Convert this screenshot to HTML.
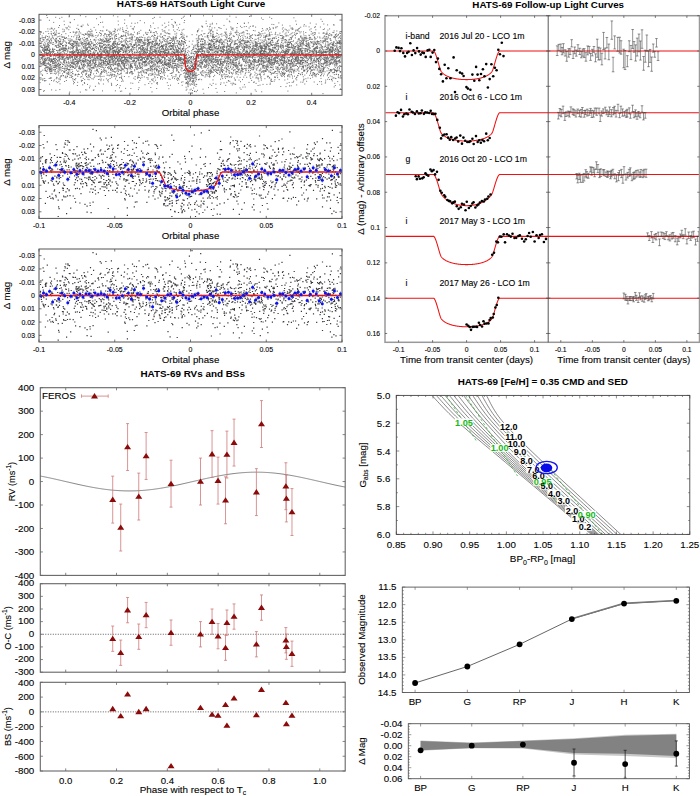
<!DOCTYPE html>
<html><head><meta charset="utf-8"><style>
html,body{margin:0;padding:0;background:#fff;}
svg{display:block;font-family:"Liberation Sans", sans-serif;}
</style></head><body>
<svg width="700" height="796" viewBox="0 0 700 796">
<rect width="700" height="796" fill="#fff"/>
<path d="M107.9 56.2h1.0M135.0 62.2h1.0M280.6 44.9h1.0M243.9 23.3h1.0M157.5 59.2h1.0M139.8 52.9h1.0M220.3 62.5h1.0M95.6 60.0h1.0M242.8 51.1h1.0M324.4 62.5h1.0M114.2 51.8h1.0M326.5 59.4h1.0M241.2 45.2h1.0M68.1 58.1h1.0M172.9 58.5h1.0M307.6 47.1h1.0M250.3 55.4h1.0M137.9 74.8h1.0M261.4 49.7h1.0M105.7 40.5h1.0M63.7 72.3h1.0M87.4 79.3h1.0M142.1 57.7h1.0M180.0 60.6h1.0M119.7 70.5h1.0M286.2 51.3h1.0M97.6 65.3h1.0M78.2 52.1h1.0M66.8 27.8h1.0M220.4 50.4h1.0M298.0 58.3h1.0M221.3 76.9h1.0M321.4 53.3h1.0M258.6 46.8h1.0M299.7 55.6h1.0M320.6 53.4h1.0M204.5 48.1h1.0M323.1 69.3h1.0M189.0 76.2h1.0M122.0 45.3h1.0M175.9 56.5h1.0M240.5 65.2h1.0M139.3 37.4h1.0M312.7 35.6h1.0M116.9 51.6h1.0M142.0 48.1h1.0M117.4 42.8h1.0M146.7 48.8h1.0M40.5 38.1h1.0M229.5 76.8h1.0M124.6 57.7h1.0M59.6 61.9h1.0M225.9 47.1h1.0M92.4 61.0h1.0M131.2 23.2h1.0M172.6 45.9h1.0M84.5 58.8h1.0M105.0 47.0h1.0M182.7 54.2h1.0M183.3 29.3h1.0M116.3 51.1h1.0M129.2 58.6h1.0M123.6 61.3h1.0M118.0 53.6h1.0M185.3 55.5h1.0M103.2 69.9h1.0M189.2 59.8h1.0M113.6 47.3h1.0M293.1 50.3h1.0M93.6 57.0h1.0M300.2 60.6h1.0M93.0 45.0h1.0M266.4 66.5h1.0M224.2 60.5h1.0M102.4 39.1h1.0M269.2 60.4h1.0M114.5 43.8h1.0M64.9 70.9h1.0M226.3 74.6h1.0M201.7 26.5h1.0M231.3 29.4h1.0M91.8 35.3h1.0M114.2 50.5h1.0M246.5 53.1h1.0M63.5 49.5h1.0M304.1 70.6h1.0M168.9 60.3h1.0M226.4 61.3h1.0M133.9 32.2h1.0M93.2 59.4h1.0M41.9 49.8h1.0M102.6 55.5h1.0M302.6 53.7h1.0M333.8 69.0h1.0M172.9 38.3h1.0M153.8 61.0h1.0M122.6 31.3h1.0M331.7 59.4h1.0M56.6 53.9h1.0M162.8 71.8h1.0M90.1 53.3h1.0M111.8 59.7h1.0M275.3 45.2h1.0M100.7 57.1h1.0M206.3 55.3h1.0M150.2 52.4h1.0M192.7 67.1h1.0M140.0 57.1h1.0M124.7 42.9h1.0M124.4 54.2h1.0M64.9 68.2h1.0M185.0 70.5h1.0M306.7 60.2h1.0M326.0 34.0h1.0M47.3 28.9h1.0M317.1 37.0h1.0M75.8 47.8h1.0M265.6 51.8h1.0M310.6 62.0h1.0M89.9 48.4h1.0M139.4 47.6h1.0M153.6 74.8h1.0M144.1 50.1h1.0M195.4 45.2h1.0M41.7 57.8h1.0M167.1 42.2h1.0M304.9 55.5h1.0M65.5 66.5h1.0M185.7 73.4h1.0M184.8 50.7h1.0M276.1 51.6h1.0M331.3 44.3h1.0M253.3 67.6h1.0M121.9 63.0h1.0M242.0 56.1h1.0M144.3 62.1h1.0M271.7 67.9h1.0M243.8 49.4h1.0M335.2 61.5h1.0M301.6 72.8h1.0M53.0 51.1h1.0M127.0 69.1h1.0M300.3 61.0h1.0M221.1 42.8h1.0M143.3 53.1h1.0M55.8 38.5h1.0M270.2 62.1h1.0M67.1 52.1h1.0M340.0 51.9h1.0M274.1 77.0h1.0M302.1 62.6h1.0M183.6 56.4h1.0M90.2 75.1h1.0M200.8 38.8h1.0M168.0 64.2h1.0M88.4 60.2h1.0M89.3 58.3h1.0M117.2 65.3h1.0M324.8 46.0h1.0M338.0 75.0h1.0M252.2 61.3h1.0M258.1 62.1h1.0M260.9 60.3h1.0M195.8 67.1h1.0M92.8 90.3h1.0M304.9 55.6h1.0M305.8 45.1h1.0M254.0 50.7h1.0M321.8 21.4h1.0M335.9 61.1h1.0M191.6 66.3h1.0M268.5 53.9h1.0M225.8 47.1h1.0M73.8 63.2h1.0M134.7 79.3h1.0M59.5 45.0h1.0M307.7 67.4h1.0M45.7 63.3h1.0M201.8 64.0h1.0M92.8 58.1h1.0M83.5 66.5h1.0M89.3 70.2h1.0M304.7 50.9h1.0M188.8 41.3h1.0M142.3 61.3h1.0M204.4 71.9h1.0M130.9 49.4h1.0M151.3 58.6h1.0M249.8 26.4h1.0M75.4 59.6h1.0M268.7 57.6h1.0M306.8 71.8h1.0M183.0 60.5h1.0M171.5 61.9h1.0M82.4 60.4h1.0M167.1 33.0h1.0M270.6 67.3h1.0M164.4 58.4h1.0M226.8 58.8h1.0M52.3 61.8h1.0M105.6 49.6h1.0M100.8 53.4h1.0M336.3 56.3h1.0M52.5 65.4h1.0M104.2 70.6h1.0M48.5 59.6h1.0M232.8 62.3h1.0M236.9 46.5h1.0M50.0 71.7h1.0M170.8 66.0h1.0M90.9 41.8h1.0M168.3 63.1h1.0M152.0 41.7h1.0M106.0 51.4h1.0M294.0 48.0h1.0M248.9 42.1h1.0M181.6 59.0h1.0M160.1 76.7h1.0M72.0 48.1h1.0M221.7 67.3h1.0M191.8 72.0h1.0M313.3 52.7h1.0M332.6 62.5h1.0M284.3 61.6h1.0M301.6 46.9h1.0M189.2 57.0h1.0M152.3 47.8h1.0M184.1 20.5h1.0M286.8 45.6h1.0M84.8 57.0h1.0M221.0 51.6h1.0M313.5 48.9h1.0M106.4 45.3h1.0M126.2 44.5h1.0M294.2 53.0h1.0M236.5 54.1h1.0M331.5 51.3h1.0M233.6 56.1h1.0M326.6 64.0h1.0M289.5 39.3h1.0M243.4 35.0h1.0M96.6 70.7h1.0M103.7 41.3h1.0M300.5 46.2h1.0M140.2 60.0h1.0M247.0 51.6h1.0M170.9 67.7h1.0M178.2 54.6h1.0M42.2 64.0h1.0M288.2 57.5h1.0M133.4 61.4h1.0M141.2 49.8h1.0M60.7 47.9h1.0M228.3 57.8h1.0M274.9 43.0h1.0M193.8 85.4h1.0M183.7 54.1h1.0M272.9 51.1h1.0M68.3 74.2h1.0M202.9 48.2h1.0M265.9 46.5h1.0M150.0 62.2h1.0M304.5 52.7h1.0M177.4 55.3h1.0M74.1 57.5h1.0M335.0 63.8h1.0M177.1 51.0h1.0M267.1 70.0h1.0M62.7 39.8h1.0M284.1 57.7h1.0M85.1 51.2h1.0M76.9 85.5h1.0M122.8 46.2h1.0M167.7 85.5h1.0M186.0 58.9h1.0M168.8 60.7h1.0M49.5 59.3h1.0M219.9 63.2h1.0M263.8 62.0h1.0M335.6 40.4h1.0M206.9 26.2h1.0M321.4 53.9h1.0M327.4 57.9h1.0M103.4 44.2h1.0M59.1 59.4h1.0M90.4 72.2h1.0M264.6 57.8h1.0M118.1 63.6h1.0M73.0 47.5h1.0M324.8 83.1h1.0M246.1 56.7h1.0M329.3 57.7h1.0M138.8 58.0h1.0M97.3 52.3h1.0M80.4 56.5h1.0M324.8 58.9h1.0M88.7 43.4h1.0M282.1 64.6h1.0M103.1 62.4h1.0M300.5 49.3h1.0M56.2 41.8h1.0M154.6 51.7h1.0M160.8 43.8h1.0M334.8 78.4h1.0M311.0 70.7h1.0M155.5 58.5h1.0M167.7 52.8h1.0M255.7 68.2h1.0M233.0 64.3h1.0M309.9 78.4h1.0M247.2 33.7h1.0M195.1 75.8h1.0M311.9 39.3h1.0M139.3 80.5h1.0M150.3 32.6h1.0M145.5 43.0h1.0M187.3 60.0h1.0M49.5 51.6h1.0M176.2 52.1h1.0M134.9 67.7h1.0M112.7 54.1h1.0M114.0 57.3h1.0M280.7 59.5h1.0M155.8 37.9h1.0M336.2 70.4h1.0M164.1 41.2h1.0M250.4 63.3h1.0M131.5 63.5h1.0M289.4 42.5h1.0M103.6 68.6h1.0M122.4 62.8h1.0M127.6 61.0h1.0M78.2 58.7h1.0M266.4 59.2h1.0M169.7 63.8h1.0M77.2 82.3h1.0M201.5 30.9h1.0M192.1 76.1h1.0M254.9 61.8h1.0M59.2 50.1h1.0M188.1 67.3h1.0M54.6 69.7h1.0M334.8 45.7h1.0M238.9 41.2h1.0M90.3 64.9h1.0M317.6 59.1h1.0M92.0 48.5h1.0M146.4 77.6h1.0M53.4 59.5h1.0M151.5 61.6h1.0M260.6 55.9h1.0M75.9 57.5h1.0M274.4 47.6h1.0M168.4 88.7h1.0M282.1 38.3h1.0M91.7 49.5h1.0M312.4 33.9h1.0M259.4 52.3h1.0M53.6 58.9h1.0M184.2 57.3h1.0M58.9 64.2h1.0M257.9 49.5h1.0M149.1 61.9h1.0M273.6 47.5h1.0M306.4 46.2h1.0M92.4 55.3h1.0M284.5 66.9h1.0M155.9 32.1h1.0M154.8 45.7h1.0M237.3 45.9h1.0M334.2 61.0h1.0M245.8 50.9h1.0M106.0 59.6h1.0M72.8 59.9h1.0M128.3 56.8h1.0M59.9 46.6h1.0M59.1 38.7h1.0M325.7 51.7h1.0M85.0 75.0h1.0M140.2 42.9h1.0M331.6 55.2h1.0M200.7 44.1h1.0M248.9 66.2h1.0M126.1 68.4h1.0M240.8 40.8h1.0M88.4 56.0h1.0M143.9 51.4h1.0M313.7 50.0h1.0M260.1 43.4h1.0M179.1 59.6h1.0M177.7 59.5h1.0M263.9 74.0h1.0M159.5 47.5h1.0M170.0 56.3h1.0M211.0 40.1h1.0M208.6 44.5h1.0M178.5 79.8h1.0M222.2 69.5h1.0M84.4 52.5h1.0M262.9 52.0h1.0M88.3 57.3h1.0M284.0 74.1h1.0M212.5 68.7h1.0M322.6 55.5h1.0M165.5 41.4h1.0M238.5 51.6h1.0M61.3 75.7h1.0M130.9 37.3h1.0M88.2 52.4h1.0M241.6 33.0h1.0M75.7 61.5h1.0M190.0 73.4h1.0M115.6 76.9h1.0M89.9 31.8h1.0M285.4 42.8h1.0M112.9 42.7h1.0M63.2 64.7h1.0M157.9 55.7h1.0M102.8 39.8h1.0M255.3 62.1h1.0M226.5 19.1h1.0M326.5 70.9h1.0M297.0 66.5h1.0M131.7 36.5h1.0M299.9 44.8h1.0M115.7 36.4h1.0M297.6 57.5h1.0M82.9 60.5h1.0M320.4 44.5h1.0M210.0 73.6h1.0M177.6 50.8h1.0M161.1 63.2h1.0M153.4 60.9h1.0M86.6 59.2h1.0M230.3 60.4h1.0M146.8 50.9h1.0M305.8 45.8h1.0M76.5 41.9h1.0M180.8 51.5h1.0M216.4 70.5h1.0M259.9 75.7h1.0M237.5 58.5h1.0M168.2 53.0h1.0M260.7 51.1h1.0M254.1 55.0h1.0M154.6 40.4h1.0M168.7 42.7h1.0M146.4 59.6h1.0M274.6 77.5h1.0M82.3 71.8h1.0M286.1 62.5h1.0M217.2 48.6h1.0M151.5 69.2h1.0M324.6 60.2h1.0M329.2 52.7h1.0M332.5 78.2h1.0M69.6 55.3h1.0M187.6 86.7h1.0M318.0 52.4h1.0M41.7 55.9h1.0M129.9 56.7h1.0M178.2 56.5h1.0M123.2 55.7h1.0M212.2 59.3h1.0M201.5 71.5h1.0M294.8 57.3h1.0M111.6 46.5h1.0M268.1 30.9h1.0M188.5 81.3h1.0M331.5 76.7h1.0M299.1 42.2h1.0M45.2 60.2h1.0M160.1 78.5h1.0M116.3 49.2h1.0M186.9 65.9h1.0M214.5 48.0h1.0M59.9 41.4h1.0M265.5 53.0h1.0M99.9 16.9h1.0M179.2 42.8h1.0M231.7 64.1h1.0M315.6 50.6h1.0M142.4 51.0h1.0M240.5 54.3h1.0M49.7 49.5h1.0M57.9 45.7h1.0M167.9 52.0h1.0M217.7 37.8h1.0M124.9 58.6h1.0M264.0 53.1h1.0M136.2 62.0h1.0M120.9 49.4h1.0M249.9 74.9h1.0M253.7 54.3h1.0M334.8 48.6h1.0M79.2 67.1h1.0M68.2 42.9h1.0M291.0 72.8h1.0M122.7 81.1h1.0M313.6 41.3h1.0M212.2 37.6h1.0M221.3 59.4h1.0M40.4 63.6h1.0M210.6 62.8h1.0M302.8 42.6h1.0M340.1 38.5h1.0M154.3 28.5h1.0M89.9 58.6h1.0M312.9 44.3h1.0M164.6 27.6h1.0M176.0 58.0h1.0M181.2 63.4h1.0M204.9 58.0h1.0M57.4 47.5h1.0M43.6 62.9h1.0M271.4 24.4h1.0M230.7 56.5h1.0M158.4 61.5h1.0M237.3 48.0h1.0M255.0 44.1h1.0M127.2 47.5h1.0M157.8 71.2h1.0M114.0 36.9h1.0M80.9 26.2h1.0M218.3 55.6h1.0M262.5 19.5h1.0M223.2 51.5h1.0M116.4 45.5h1.0M233.3 52.8h1.0M163.6 38.4h1.0M174.3 61.4h1.0M43.0 61.7h1.0M275.0 57.3h1.0M310.9 58.0h1.0M127.4 58.3h1.0M148.6 44.1h1.0M187.9 68.9h1.0M159.5 61.1h1.0M150.9 49.8h1.0M265.0 39.0h1.0M237.0 23.5h1.0M136.2 58.3h1.0M231.3 69.3h1.0M246.1 56.0h1.0M172.3 53.2h1.0M118.0 44.6h1.0M300.5 51.2h1.0M40.7 63.6h1.0M256.9 78.0h1.0M284.1 62.4h1.0M102.9 58.1h1.0M211.7 72.1h1.0M336.6 71.1h1.0M130.4 26.3h1.0M225.4 39.9h1.0M164.4 31.1h1.0M172.6 25.7h1.0M267.1 56.3h1.0M204.2 52.3h1.0M123.1 51.3h1.0M263.6 62.8h1.0M208.5 54.1h1.0M132.3 57.8h1.0M219.9 59.0h1.0M263.9 44.2h1.0M58.4 81.4h1.0M89.1 66.1h1.0M145.9 53.7h1.0M114.5 60.1h1.0M210.6 47.1h1.0M53.9 58.6h1.0M317.0 59.6h1.0M261.8 46.1h1.0M166.1 44.5h1.0M85.0 89.8h1.0M58.0 44.8h1.0M263.0 70.9h1.0M210.7 45.5h1.0M164.8 48.6h1.0M134.1 63.3h1.0M55.4 38.4h1.0M268.8 78.0h1.0M102.9 64.0h1.0M120.1 54.8h1.0M109.6 78.5h1.0M210.6 47.5h1.0M127.0 73.0h1.0M71.9 56.5h1.0M303.4 70.0h1.0M91.5 53.4h1.0M104.4 47.8h1.0M263.4 50.4h1.0M178.1 67.4h1.0M322.2 55.0h1.0M310.1 50.6h1.0M208.9 47.2h1.0M88.7 31.4h1.0M132.3 83.3h1.0M240.1 57.6h1.0M129.1 38.1h1.0M194.4 65.6h1.0M76.1 57.6h1.0M209.0 47.7h1.0M324.4 52.0h1.0M227.6 51.5h1.0M126.0 59.6h1.0M74.1 55.1h1.0M220.2 65.2h1.0M206.1 66.2h1.0M267.8 58.0h1.0M85.1 52.2h1.0M225.3 66.2h1.0M213.1 76.6h1.0M251.9 61.0h1.0M309.9 63.5h1.0M271.7 81.5h1.0M224.0 47.1h1.0M340.2 54.9h1.0M141.0 67.3h1.0M112.0 58.9h1.0M120.4 70.3h1.0M229.4 57.4h1.0M75.2 78.6h1.0M162.6 65.4h1.0M143.3 51.1h1.0M75.1 42.1h1.0M290.2 69.6h1.0M291.7 51.7h1.0M115.2 51.6h1.0M66.0 45.4h1.0M229.0 37.9h1.0M100.8 79.1h1.0M215.8 50.0h1.0M157.4 56.0h1.0M299.8 44.6h1.0M133.5 44.8h1.0M196.5 57.0h1.0M63.9 50.3h1.0M149.4 68.8h1.0M312.6 72.6h1.0M83.0 62.2h1.0M267.1 76.9h1.0M175.5 59.5h1.0M210.0 47.4h1.0M310.0 67.5h1.0M312.1 77.1h1.0M171.1 53.2h1.0M340.1 88.9h1.0M125.2 63.6h1.0M106.5 55.5h1.0M225.7 37.1h1.0M217.9 48.6h1.0M196.8 46.9h1.0M132.0 67.9h1.0M170.3 46.0h1.0M204.6 77.0h1.0M47.1 69.8h1.0M58.7 53.7h1.0M50.7 51.3h1.0M293.2 46.6h1.0M226.8 57.4h1.0M133.9 52.9h1.0M213.1 54.4h1.0M304.8 51.4h1.0M69.2 54.9h1.0M98.5 76.3h1.0M138.9 56.0h1.0M177.8 47.4h1.0M147.5 45.9h1.0M296.1 61.1h1.0M204.3 50.9h1.0M62.2 57.8h1.0M118.7 56.4h1.0M192.7 63.8h1.0M269.0 32.8h1.0M229.5 54.1h1.0M136.7 65.4h1.0M226.8 40.4h1.0M329.6 49.0h1.0M174.6 52.8h1.0M87.8 43.8h1.0M108.6 66.9h1.0M161.1 45.8h1.0M76.8 56.4h1.0M183.0 59.4h1.0M332.9 72.6h1.0M305.1 65.8h1.0M219.7 73.0h1.0M322.9 65.0h1.0M63.4 60.9h1.0M237.3 48.1h1.0M217.3 57.6h1.0M234.6 56.5h1.0M117.6 69.6h1.0M261.0 18.0h1.0M200.7 60.2h1.0M332.0 53.0h1.0M77.9 39.4h1.0M198.2 49.2h1.0M297.4 58.7h1.0M89.7 54.1h1.0M272.9 54.9h1.0M322.2 42.3h1.0M262.6 58.2h1.0M236.9 53.8h1.0M104.6 41.8h1.0M320.3 75.9h1.0M63.9 24.7h1.0M149.8 69.2h1.0M55.9 46.4h1.0M180.6 44.6h1.0M262.3 61.6h1.0M191.1 61.0h1.0M109.9 38.8h1.0M230.2 46.2h1.0M262.7 67.1h1.0M115.9 36.2h1.0M138.5 75.5h1.0M101.5 76.5h1.0M176.4 66.7h1.0M56.8 61.0h1.0M165.3 44.5h1.0M64.6 50.1h1.0M117.9 61.1h1.0M339.3 65.5h1.0M60.0 64.5h1.0M128.4 55.3h1.0M154.3 50.3h1.0M290.7 85.8h1.0M73.4 41.5h1.0M320.1 56.1h1.0M257.7 41.3h1.0M311.3 70.1h1.0M287.3 49.5h1.0M217.1 63.2h1.0M55.1 74.0h1.0M215.7 42.0h1.0M90.3 29.3h1.0M327.7 37.1h1.0M88.7 37.0h1.0M98.2 43.6h1.0M222.4 70.2h1.0M262.5 53.3h1.0M79.0 59.6h1.0M158.4 73.4h1.0M175.0 56.8h1.0M177.7 52.6h1.0M184.1 69.5h1.0M175.9 58.6h1.0M44.3 42.3h1.0M214.0 45.3h1.0M252.9 54.7h1.0M239.8 44.8h1.0M328.9 61.9h1.0M206.8 75.9h1.0M145.8 65.7h1.0M94.1 49.5h1.0M219.1 42.5h1.0M262.8 66.0h1.0M211.5 61.8h1.0M293.9 54.9h1.0M82.4 53.5h1.0M285.8 50.1h1.0M324.6 40.6h1.0M296.5 54.7h1.0M154.3 43.6h1.0M85.4 50.8h1.0M219.7 69.2h1.0M117.7 52.4h1.0M251.5 65.0h1.0M134.6 58.6h1.0M256.9 45.7h1.0M157.3 63.9h1.0M183.1 51.1h1.0M315.0 61.3h1.0M159.6 55.0h1.0M55.0 69.4h1.0M330.5 62.7h1.0M89.0 55.0h1.0M127.4 47.2h1.0M270.8 81.5h1.0M268.7 58.3h1.0M188.1 72.7h1.0M241.8 52.3h1.0M140.9 40.3h1.0M130.9 50.7h1.0M328.4 44.3h1.0M310.0 68.2h1.0M232.6 83.0h1.0M144.7 48.3h1.0M69.3 57.2h1.0M59.1 65.6h1.0M121.9 44.6h1.0M261.7 48.0h1.0M117.3 47.2h1.0M117.2 73.4h1.0M198.9 63.0h1.0M272.1 45.2h1.0M336.4 56.4h1.0M330.0 56.1h1.0M211.7 56.0h1.0M234.7 32.4h1.0M140.1 54.7h1.0M84.2 58.2h1.0M229.6 62.3h1.0M85.5 57.4h1.0M308.7 48.8h1.0M83.7 51.0h1.0M241.4 65.6h1.0M55.4 90.3h1.0M247.2 46.0h1.0M98.8 68.6h1.0M237.5 69.6h1.0M293.4 53.0h1.0M46.8 17.6h1.0M144.0 61.9h1.0M78.6 49.5h1.0M120.7 47.6h1.0M144.9 61.2h1.0M333.2 44.4h1.0M149.4 43.0h1.0M248.2 67.1h1.0M121.0 77.8h1.0M114.0 68.9h1.0M158.0 61.7h1.0M225.4 57.2h1.0M217.6 63.6h1.0M160.2 70.4h1.0M94.2 76.0h1.0M291.3 64.3h1.0M208.2 67.7h1.0M218.9 50.7h1.0M259.8 70.8h1.0M103.1 80.0h1.0M327.2 79.3h1.0M278.8 58.7h1.0M280.0 35.5h1.0M265.6 46.7h1.0M101.1 60.7h1.0M236.5 43.6h1.0M112.8 48.3h1.0M199.3 79.2h1.0M309.0 39.4h1.0M200.7 39.3h1.0M59.1 56.7h1.0M264.6 56.4h1.0M334.3 83.4h1.0M275.6 61.6h1.0M240.4 70.8h1.0M62.0 66.5h1.0M125.4 38.9h1.0M54.1 34.2h1.0M162.8 38.1h1.0M231.9 54.0h1.0M287.6 35.8h1.0M154.1 65.9h1.0M151.8 56.0h1.0M98.5 62.7h1.0M54.5 63.7h1.0M248.2 56.9h1.0M171.4 19.5h1.0M213.7 45.3h1.0M251.4 57.4h1.0M160.2 37.1h1.0M296.5 51.7h1.0M184.6 42.6h1.0M202.4 61.9h1.0M286.2 60.1h1.0M129.7 56.0h1.0M260.7 60.9h1.0M121.2 67.2h1.0M269.7 55.3h1.0M224.7 58.3h1.0M328.8 66.1h1.0M182.6 58.2h1.0M259.4 56.1h1.0M58.5 53.0h1.0M255.9 49.8h1.0M203.0 46.4h1.0M108.9 61.7h1.0M281.9 60.5h1.0M98.7 50.3h1.0M191.8 84.4h1.0M234.3 69.8h1.0M65.9 56.8h1.0M210.8 45.2h1.0M73.6 59.9h1.0M315.3 55.8h1.0M106.9 62.8h1.0M212.9 56.2h1.0M323.3 67.9h1.0M174.0 42.0h1.0M42.4 55.2h1.0M154.6 51.9h1.0M218.9 59.8h1.0M203.0 47.1h1.0M330.7 46.6h1.0M67.6 38.9h1.0M73.7 55.5h1.0M154.3 76.6h1.0M171.2 75.6h1.0M286.3 50.2h1.0M91.8 55.0h1.0M45.9 59.9h1.0M251.3 35.4h1.0M174.3 63.3h1.0M51.4 71.7h1.0M320.8 53.6h1.0M52.8 33.2h1.0M183.6 37.4h1.0M148.4 61.8h1.0M328.2 50.9h1.0M166.9 53.6h1.0M102.8 62.8h1.0M299.7 55.6h1.0M197.1 51.1h1.0M87.3 51.1h1.0M80.2 33.0h1.0M220.9 70.1h1.0M57.4 70.9h1.0M143.9 45.4h1.0M245.6 63.7h1.0M255.9 45.1h1.0M238.4 69.9h1.0M81.5 55.2h1.0M44.8 49.5h1.0M235.4 48.0h1.0M154.0 68.5h1.0M206.1 55.4h1.0M77.6 61.7h1.0M81.8 45.8h1.0M89.0 87.8h1.0M254.8 60.2h1.0M101.4 40.3h1.0M103.2 71.7h1.0M286.5 42.0h1.0M152.1 69.9h1.0M284.4 68.0h1.0M213.7 52.6h1.0M147.3 37.4h1.0M181.4 67.7h1.0M161.3 65.9h1.0M204.0 59.4h1.0M309.3 57.1h1.0M226.8 76.7h1.0M215.0 69.1h1.0M229.8 45.7h1.0M44.1 65.3h1.0M108.9 41.3h1.0M164.6 52.7h1.0M334.9 34.5h1.0M263.7 45.1h1.0M315.2 42.1h1.0M207.8 33.5h1.0M302.4 54.6h1.0M180.0 58.3h1.0M313.7 48.5h1.0M339.6 37.1h1.0M240.5 89.3h1.0M184.8 57.6h1.0M254.5 49.8h1.0M327.2 48.7h1.0M179.5 67.0h1.0M248.1 41.8h1.0M53.4 55.4h1.0M215.3 39.2h1.0M131.1 67.3h1.0M271.1 44.2h1.0M127.5 33.0h1.0M221.3 61.3h1.0M190.0 80.8h1.0M303.1 62.5h1.0M65.6 77.8h1.0M315.7 44.6h1.0M271.2 60.4h1.0M72.8 63.7h1.0M265.5 59.4h1.0M317.8 71.9h1.0M130.0 66.9h1.0M207.4 60.3h1.0M85.3 70.8h1.0M150.7 48.7h1.0M188.3 74.0h1.0M170.0 48.3h1.0M96.3 70.4h1.0M336.6 46.0h1.0M44.6 45.2h1.0M92.5 60.0h1.0M129.6 56.9h1.0M114.3 41.4h1.0M57.3 55.5h1.0M161.0 69.7h1.0M111.6 55.5h1.0M139.9 39.4h1.0M71.6 52.1h1.0M301.0 41.2h1.0M277.2 43.6h1.0M43.5 64.9h1.0M48.6 60.5h1.0M240.9 70.7h1.0M121.0 44.9h1.0M146.7 52.0h1.0M186.0 54.5h1.0M325.4 65.6h1.0M75.5 43.5h1.0M147.8 42.7h1.0M270.0 29.1h1.0M217.5 61.5h1.0M149.9 58.5h1.0M193.7 71.4h1.0M49.7 70.0h1.0M144.7 57.3h1.0M249.3 46.1h1.0M44.2 80.5h1.0M186.7 61.9h1.0M91.7 48.2h1.0M96.2 70.6h1.0M130.4 56.0h1.0M104.2 58.9h1.0M73.2 36.8h1.0M125.2 40.0h1.0M270.7 44.8h1.0M215.7 60.1h1.0M273.3 52.0h1.0M292.9 60.9h1.0M255.9 46.4h1.0M100.9 52.1h1.0M154.8 59.7h1.0M129.4 40.8h1.0M266.5 43.9h1.0M226.0 68.5h1.0M230.0 44.1h1.0M302.3 82.3h1.0M111.0 64.7h1.0M121.0 63.7h1.0M237.6 53.7h1.0M296.3 60.0h1.0M42.4 58.1h1.0M315.4 38.5h1.0M120.1 49.3h1.0M137.3 51.0h1.0M233.4 65.1h1.0M316.5 52.4h1.0M59.0 25.5h1.0M180.9 59.6h1.0M284.7 52.0h1.0M189.3 78.0h1.0M221.2 58.0h1.0M255.6 39.4h1.0M229.3 21.8h1.0M43.3 40.2h1.0M308.4 43.2h1.0M113.2 53.7h1.0M168.7 47.7h1.0M294.8 52.4h1.0M145.1 61.1h1.0M171.5 51.3h1.0M222.8 48.8h1.0M145.2 61.3h1.0M123.3 66.2h1.0M197.0 61.8h1.0M93.2 36.2h1.0M158.8 58.0h1.0M103.5 52.0h1.0M76.4 66.6h1.0M333.1 24.8h1.0M288.5 54.0h1.0M329.4 55.3h1.0M165.5 64.7h1.0M117.9 50.5h1.0M311.7 50.2h1.0M116.4 56.0h1.0M169.0 36.9h1.0M227.2 56.2h1.0M103.3 35.5h1.0M186.2 58.0h1.0M278.7 65.0h1.0M220.7 59.7h1.0M140.0 59.9h1.0M82.4 68.7h1.0M174.6 60.2h1.0M180.1 59.2h1.0M123.0 45.9h1.0M156.9 47.2h1.0M154.0 72.1h1.0M72.3 46.2h1.0M313.2 66.9h1.0M280.3 60.2h1.0M222.5 74.8h1.0M116.6 46.6h1.0M207.2 68.6h1.0M150.0 48.5h1.0M103.2 51.2h1.0M123.9 76.5h1.0M214.1 75.3h1.0M129.8 58.0h1.0M232.7 73.0h1.0M299.4 62.2h1.0M263.0 54.7h1.0M307.1 67.8h1.0M306.5 40.6h1.0M267.0 29.1h1.0M186.4 36.2h1.0M105.1 58.6h1.0M55.6 45.5h1.0M155.4 50.4h1.0M74.5 55.9h1.0M74.4 55.1h1.0M129.2 62.8h1.0M142.5 55.2h1.0M334.9 70.4h1.0M81.7 34.4h1.0M227.5 67.0h1.0M48.3 68.0h1.0M294.7 51.2h1.0M72.1 73.6h1.0M156.8 52.9h1.0M278.9 72.2h1.0M184.1 61.1h1.0M122.5 56.4h1.0M280.5 62.4h1.0M99.8 59.2h1.0M331.5 56.2h1.0M235.4 60.1h1.0M46.5 71.6h1.0M329.4 53.7h1.0M300.5 45.7h1.0M100.4 80.7h1.0M336.2 58.5h1.0M166.4 63.7h1.0M335.3 54.6h1.0M195.2 61.2h1.0M162.1 67.8h1.0M151.3 83.7h1.0M264.1 50.5h1.0M272.2 47.7h1.0M287.1 57.9h1.0M272.6 60.2h1.0M83.6 50.5h1.0M54.7 67.5h1.0M130.3 58.9h1.0M139.2 44.8h1.0M156.5 54.1h1.0M211.5 57.0h1.0M121.9 57.5h1.0M334.6 49.6h1.0M153.4 63.8h1.0M104.5 44.3h1.0M160.1 61.4h1.0M174.7 54.5h1.0M205.3 44.0h1.0M95.9 46.9h1.0M174.4 21.9h1.0M323.8 36.2h1.0M78.9 36.3h1.0M281.6 58.0h1.0M112.8 53.4h1.0M138.6 40.4h1.0M308.8 46.8h1.0M179.0 41.2h1.0M319.9 65.0h1.0M43.2 44.2h1.0M206.4 55.5h1.0M61.6 59.5h1.0M192.1 78.1h1.0M268.4 67.9h1.0M82.3 51.6h1.0M106.0 34.9h1.0M293.7 61.2h1.0M266.7 61.9h1.0M212.0 16.1h1.0M217.4 53.3h1.0M98.5 58.5h1.0M195.4 58.2h1.0M311.3 54.2h1.0M170.1 37.9h1.0M60.5 43.4h1.0M324.0 28.9h1.0M275.7 73.5h1.0M61.5 54.9h1.0M165.9 50.2h1.0M85.2 43.9h1.0M306.9 55.8h1.0M237.3 57.4h1.0M320.7 51.9h1.0M181.3 41.0h1.0M339.0 43.5h1.0M62.1 37.0h1.0M109.6 33.7h1.0M283.9 59.0h1.0M218.0 47.7h1.0M318.0 60.5h1.0M152.2 53.1h1.0M39.7 51.7h1.0M180.9 50.8h1.0M80.9 54.7h1.0M86.7 77.3h1.0M104.0 62.0h1.0M100.3 46.1h1.0M166.8 69.3h1.0M210.0 49.8h1.0M289.5 25.9h1.0M47.6 31.3h1.0M57.8 33.4h1.0M143.4 62.0h1.0M166.5 70.6h1.0M68.8 42.7h1.0M271.9 50.5h1.0M116.1 38.5h1.0M338.3 53.1h1.0M236.8 65.8h1.0M59.5 59.1h1.0M313.9 50.1h1.0M175.8 35.2h1.0M282.4 56.6h1.0M257.9 59.5h1.0M126.4 49.6h1.0M188.6 69.0h1.0M54.1 65.2h1.0M51.0 56.1h1.0M141.2 39.5h1.0M317.0 69.0h1.0M261.7 53.5h1.0M270.7 32.2h1.0M166.8 68.5h1.0M329.0 72.6h1.0M210.6 59.4h1.0M222.3 47.8h1.0M310.0 41.7h1.0M110.0 49.2h1.0M106.2 30.4h1.0M205.0 61.1h1.0M203.9 61.2h1.0M231.0 42.3h1.0M69.7 75.4h1.0M124.2 65.3h1.0M117.1 73.4h1.0M187.0 76.7h1.0M217.4 70.3h1.0M169.7 59.8h1.0M307.9 42.6h1.0M163.7 57.4h1.0M201.5 39.3h1.0M75.9 43.6h1.0M190.8 70.3h1.0M327.4 30.1h1.0M309.4 38.1h1.0M42.8 62.3h1.0M336.9 52.6h1.0M207.9 52.8h1.0M286.5 57.0h1.0M109.2 38.0h1.0M58.8 56.3h1.0M308.5 35.2h1.0M187.2 74.5h1.0M118.4 58.5h1.0M118.4 55.3h1.0M154.7 73.1h1.0M105.9 56.5h1.0M114.1 60.9h1.0M222.3 56.7h1.0M318.8 58.9h1.0M234.6 69.8h1.0M201.1 79.7h1.0M87.8 60.5h1.0M40.9 52.2h1.0M298.0 49.5h1.0M298.9 53.5h1.0M303.3 70.3h1.0M92.0 48.2h1.0M47.0 39.2h1.0M183.7 22.6h1.0M176.1 51.7h1.0M194.2 69.1h1.0M256.3 50.6h1.0M300.7 52.3h1.0M188.3 70.5h1.0M274.1 45.1h1.0M40.7 54.3h1.0M103.3 42.3h1.0M113.7 50.9h1.0M157.0 82.8h1.0M300.0 60.3h1.0M91.8 56.5h1.0M292.1 53.0h1.0M87.1 55.1h1.0M86.6 70.3h1.0M148.6 45.1h1.0M183.4 54.7h1.0M299.3 51.4h1.0M217.9 68.0h1.0M126.8 61.1h1.0M85.2 46.4h1.0M212.1 31.8h1.0M272.2 63.0h1.0M172.9 69.7h1.0M107.5 47.5h1.0M130.6 71.5h1.0M175.5 36.8h1.0M303.6 37.8h1.0M314.6 32.5h1.0M71.0 66.3h1.0M60.7 49.1h1.0M125.5 62.4h1.0M197.8 61.5h1.0M329.0 55.0h1.0M270.9 73.3h1.0M133.5 60.5h1.0M44.9 36.9h1.0M235.3 73.9h1.0M262.4 55.5h1.0M301.3 69.4h1.0M299.7 43.1h1.0M261.4 59.0h1.0M206.2 65.8h1.0M154.6 67.1h1.0M138.7 64.1h1.0M278.2 40.0h1.0M220.8 50.6h1.0M317.0 42.1h1.0M270.9 58.2h1.0M110.4 33.1h1.0M75.1 74.3h1.0M41.7 35.9h1.0M62.3 70.5h1.0M149.0 42.2h1.0M319.2 81.6h1.0M137.4 76.3h1.0M48.2 33.6h1.0M295.7 34.1h1.0M176.0 58.8h1.0M200.4 34.9h1.0M232.6 52.1h1.0M69.2 66.3h1.0M196.5 44.3h1.0M126.4 48.0h1.0M113.2 43.9h1.0M47.2 55.5h1.0M185.5 77.1h1.0M52.8 67.6h1.0M65.4 38.3h1.0M219.8 40.1h1.0M229.3 57.2h1.0M300.3 82.1h1.0M316.6 47.8h1.0M188.6 51.7h1.0M288.5 50.8h1.0M93.3 51.3h1.0M202.7 56.6h1.0M319.7 49.5h1.0M58.6 57.0h1.0M278.1 46.1h1.0M87.7 65.8h1.0M52.0 63.7h1.0M201.5 59.2h1.0M303.5 55.5h1.0M139.9 47.2h1.0M108.1 40.4h1.0M133.7 57.9h1.0M107.8 52.1h1.0M196.0 56.9h1.0M71.2 72.5h1.0M93.0 48.4h1.0M274.9 71.6h1.0M105.9 78.8h1.0M242.6 69.5h1.0M174.7 51.8h1.0M72.5 60.6h1.0M149.1 52.1h1.0M104.9 60.2h1.0M272.7 58.9h1.0M310.8 39.3h1.0M247.4 53.6h1.0M189.5 74.9h1.0M333.8 62.9h1.0M97.6 59.1h1.0M63.5 56.7h1.0M103.5 52.0h1.0M186.5 83.5h1.0M264.4 49.1h1.0M68.1 48.4h1.0M324.5 55.8h1.0M190.1 69.1h1.0M283.4 39.9h1.0M250.8 63.8h1.0M66.4 68.6h1.0M289.3 57.8h1.0M141.5 56.7h1.0M204.6 58.2h1.0M227.8 66.6h1.0M143.8 44.0h1.0M115.9 56.9h1.0M163.3 69.5h1.0M260.8 45.7h1.0M236.8 71.5h1.0M187.4 47.7h1.0M285.9 67.1h1.0M97.4 76.3h1.0M308.6 65.9h1.0M159.1 61.9h1.0M45.5 35.9h1.0M201.1 44.6h1.0M182.3 43.9h1.0M121.6 62.1h1.0M201.1 53.5h1.0M251.1 80.4h1.0M322.5 52.7h1.0M49.8 64.5h1.0M215.1 60.7h1.0M330.9 55.1h1.0M144.1 49.7h1.0M315.6 64.7h1.0M262.5 84.4h1.0M163.2 49.6h1.0M231.6 61.7h1.0M242.0 79.6h1.0M82.7 39.9h1.0M94.4 44.5h1.0M195.1 81.2h1.0M87.2 40.0h1.0M290.2 54.2h1.0M234.2 53.0h1.0M63.3 59.1h1.0M301.3 53.0h1.0M281.4 63.8h1.0M299.5 46.4h1.0M40.8 54.7h1.0M68.2 26.2h1.0M85.0 61.9h1.0M65.3 33.7h1.0M235.2 60.4h1.0M330.4 47.8h1.0M259.6 73.2h1.0M57.8 59.1h1.0M310.9 60.2h1.0M142.8 42.8h1.0M179.7 59.7h1.0M256.5 75.6h1.0M217.4 67.8h1.0M302.8 76.8h1.0M98.6 55.8h1.0M107.7 79.5h1.0M80.2 38.7h1.0M115.7 49.6h1.0M195.6 64.2h1.0M73.1 53.1h1.0M305.4 61.9h1.0M284.6 51.3h1.0M270.9 40.6h1.0M328.9 50.7h1.0M209.0 40.3h1.0M248.9 54.6h1.0M124.4 57.6h1.0M295.8 65.4h1.0M233.6 44.8h1.0M97.5 53.3h1.0M215.1 57.4h1.0M148.7 53.8h1.0M99.8 66.6h1.0M184.0 70.2h1.0M228.9 21.1h1.0M304.3 84.0h1.0M155.3 51.0h1.0M98.7 56.7h1.0M131.5 50.4h1.0M212.6 34.3h1.0M229.4 52.3h1.0M140.3 54.9h1.0M293.7 56.2h1.0M167.2 76.0h1.0M208.4 61.7h1.0M282.3 46.0h1.0M306.9 71.1h1.0M182.1 62.7h1.0M48.6 47.3h1.0M267.9 61.6h1.0M87.9 65.8h1.0M215.1 53.3h1.0M310.1 54.5h1.0M223.5 25.4h1.0M300.6 31.8h1.0M167.6 49.4h1.0M72.6 51.9h1.0M168.5 65.0h1.0M290.9 37.6h1.0M116.8 44.3h1.0M329.3 52.9h1.0M83.7 40.8h1.0M250.3 40.4h1.0M281.0 67.2h1.0M111.6 54.6h1.0M264.3 71.3h1.0M316.5 41.5h1.0M139.1 72.7h1.0M118.2 65.1h1.0M133.3 78.2h1.0M192.5 72.6h1.0M307.6 70.4h1.0M140.1 67.4h1.0M329.0 54.7h1.0M273.9 38.6h1.0M211.5 45.0h1.0M245.8 46.1h1.0M331.2 50.6h1.0M77.8 62.1h1.0M187.2 81.1h1.0M137.0 41.1h1.0M320.6 59.5h1.0M194.4 74.8h1.0M141.9 62.9h1.0M70.6 40.5h1.0M306.0 38.3h1.0M77.2 62.1h1.0M198.1 51.6h1.0M288.1 52.0h1.0M241.8 71.8h1.0M291.2 45.1h1.0M216.3 36.0h1.0M264.2 45.2h1.0M214.9 71.5h1.0M181.5 51.2h1.0M277.1 60.8h1.0M136.5 60.3h1.0M92.8 79.0h1.0M74.3 45.2h1.0M67.2 58.9h1.0M251.9 57.6h1.0M120.3 51.4h1.0M315.2 57.0h1.0M85.4 33.8h1.0M192.1 75.8h1.0M281.9 25.1h1.0M254.4 66.2h1.0M45.9 53.0h1.0M268.6 34.2h1.0M327.9 48.2h1.0M109.1 62.5h1.0M291.0 43.8h1.0M211.6 28.0h1.0M109.1 50.9h1.0M335.4 53.5h1.0M316.6 52.6h1.0M280.7 56.4h1.0M39.7 79.7h1.0M240.8 66.1h1.0M174.1 67.8h1.0M119.5 51.5h1.0M297.2 75.7h1.0M90.3 35.2h1.0M76.4 36.9h1.0M221.5 40.2h1.0M230.9 51.0h1.0M275.4 56.1h1.0M127.3 41.5h1.0M239.3 53.6h1.0M261.2 72.2h1.0M331.4 58.8h1.0M339.9 57.9h1.0M267.7 66.1h1.0M126.8 70.2h1.0M172.5 43.8h1.0M118.1 51.1h1.0M153.9 17.4h1.0M86.4 43.1h1.0M251.5 42.7h1.0M86.4 47.8h1.0M275.2 32.4h1.0M164.3 50.2h1.0M174.1 53.2h1.0M329.7 38.6h1.0M251.7 46.3h1.0M53.3 61.9h1.0M290.5 61.0h1.0M218.4 42.1h1.0M280.0 46.7h1.0M195.9 58.1h1.0M206.6 59.8h1.0M272.6 63.9h1.0M221.9 47.3h1.0M80.7 42.4h1.0M276.7 55.7h1.0M137.7 39.0h1.0M101.4 57.0h1.0M209.8 35.9h1.0M130.3 43.6h1.0M284.8 73.1h1.0M275.5 54.0h1.0M330.4 40.3h1.0M67.1 65.0h1.0M257.2 53.9h1.0M137.2 52.8h1.0M308.4 54.7h1.0M50.6 77.7h1.0M149.9 47.9h1.0M161.6 41.8h1.0M253.8 60.4h1.0M90.1 61.7h1.0M267.5 42.1h1.0M65.5 48.5h1.0M203.4 72.9h1.0M301.9 62.2h1.0M220.1 84.4h1.0M237.5 50.0h1.0M262.4 54.2h1.0M132.2 40.0h1.0M214.0 64.7h1.0M150.2 39.4h1.0M133.9 52.4h1.0M336.6 42.6h1.0M123.1 45.4h1.0M85.7 74.5h1.0M165.8 53.3h1.0M305.1 45.5h1.0M230.1 50.6h1.0M66.7 59.3h1.0M337.5 43.1h1.0M292.1 65.7h1.0M307.4 38.3h1.0M176.0 69.1h1.0M69.9 22.7h1.0M258.4 43.5h1.0M69.3 65.3h1.0M339.3 59.9h1.0M83.7 46.2h1.0M184.2 63.6h1.0M176.7 41.8h1.0M81.2 64.5h1.0M84.3 71.1h1.0M172.2 72.7h1.0M138.8 40.5h1.0M202.3 70.7h1.0M213.2 69.9h1.0M260.6 56.3h1.0M225.9 56.7h1.0M179.5 58.7h1.0M208.5 47.8h1.0M243.7 49.8h1.0M117.3 59.9h1.0M261.4 64.4h1.0M243.8 53.5h1.0M236.4 31.8h1.0M119.9 60.3h1.0M131.8 28.7h1.0M241.4 68.5h1.0M55.7 62.2h1.0M139.2 41.7h1.0M155.1 64.3h1.0M77.3 63.8h1.0M230.4 47.7h1.0M337.7 35.1h1.0M318.8 66.8h1.0M59.4 55.7h1.0M200.7 47.7h1.0M142.2 63.9h1.0M336.3 44.9h1.0M234.9 66.8h1.0M282.3 73.6h1.0M47.9 45.3h1.0M209.8 46.5h1.0M109.8 62.8h1.0M157.1 54.4h1.0M185.3 40.5h1.0M241.0 67.1h1.0M157.5 47.8h1.0M289.7 68.0h1.0M148.4 36.9h1.0M113.9 57.9h1.0M187.0 77.8h1.0M306.6 60.3h1.0M333.4 42.7h1.0M74.4 35.0h1.0M88.6 62.1h1.0M61.9 66.6h1.0M83.8 55.7h1.0M308.2 64.4h1.0M255.7 45.3h1.0M277.2 41.1h1.0M270.4 80.6h1.0M138.0 73.0h1.0M160.5 77.6h1.0M144.2 59.2h1.0M197.1 43.1h1.0M63.6 21.2h1.0M197.6 58.3h1.0M172.9 68.2h1.0M213.0 62.6h1.0M318.1 62.9h1.0M323.3 40.8h1.0M163.1 69.3h1.0M67.8 72.4h1.0M333.7 86.9h1.0M88.5 71.4h1.0M315.2 75.0h1.0M74.8 32.3h1.0M174.8 23.0h1.0M127.5 38.4h1.0M118.9 65.9h1.0M194.8 68.9h1.0M197.9 42.5h1.0M276.1 43.8h1.0M200.3 62.2h1.0M330.6 34.5h1.0M242.7 60.5h1.0M204.6 65.4h1.0M293.2 81.1h1.0M326.9 56.9h1.0M99.0 32.7h1.0M320.5 72.6h1.0M310.6 57.8h1.0M219.4 54.3h1.0M201.3 47.1h1.0M179.8 58.4h1.0M259.8 46.6h1.0M219.4 49.9h1.0M211.0 49.1h1.0M311.3 69.9h1.0M310.2 72.2h1.0M166.0 56.5h1.0M254.4 49.0h1.0M65.2 58.1h1.0M339.9 61.8h1.0M192.3 68.5h1.0M147.1 70.8h1.0M249.9 70.5h1.0M168.5 43.3h1.0M209.8 55.4h1.0M196.9 31.7h1.0M263.3 35.9h1.0M174.6 37.8h1.0M54.6 40.6h1.0M317.9 41.7h1.0M303.0 60.6h1.0M157.6 58.8h1.0M239.7 46.0h1.0M243.9 42.7h1.0M236.0 57.3h1.0M263.5 60.9h1.0M77.0 71.3h1.0M122.5 57.3h1.0M226.6 60.4h1.0M292.7 35.7h1.0M252.1 50.3h1.0M93.3 60.4h1.0M111.8 38.3h1.0M239.1 44.6h1.0M291.7 82.4h1.0M208.5 76.4h1.0M171.9 54.3h1.0M89.2 76.2h1.0M69.7 58.0h1.0M132.4 46.3h1.0M254.8 52.6h1.0M90.3 51.6h1.0M169.4 66.2h1.0M331.0 51.5h1.0M286.8 53.3h1.0M310.3 39.2h1.0M217.3 39.8h1.0M273.5 51.5h1.0M192.0 68.6h1.0M159.2 61.0h1.0M271.5 65.4h1.0M207.7 56.8h1.0M137.8 41.3h1.0M229.9 60.2h1.0M330.7 35.7h1.0M61.7 57.7h1.0M154.6 60.9h1.0M222.0 71.8h1.0M315.4 48.7h1.0M160.2 56.0h1.0M97.7 54.1h1.0M91.5 35.4h1.0M180.7 65.1h1.0M143.1 48.4h1.0M54.3 62.5h1.0M114.9 39.0h1.0M330.2 60.2h1.0M164.4 62.7h1.0M166.2 54.5h1.0M107.3 80.5h1.0M156.5 57.6h1.0M208.1 72.6h1.0M95.2 30.0h1.0M217.5 64.2h1.0M294.2 34.5h1.0M173.5 40.6h1.0M99.5 43.5h1.0M143.4 42.9h1.0M329.7 76.0h1.0M220.4 51.3h1.0M291.4 55.2h1.0M305.6 46.3h1.0M208.7 52.4h1.0M242.2 32.3h1.0M161.9 57.4h1.0M144.6 57.4h1.0M183.6 35.1h1.0M157.6 27.9h1.0M208.5 43.9h1.0M338.1 54.7h1.0M281.4 41.0h1.0M310.8 31.6h1.0M118.3 58.2h1.0M137.0 32.7h1.0M331.1 62.2h1.0M155.7 67.9h1.0M208.6 29.2h1.0M50.8 60.7h1.0M309.8 61.0h1.0M275.7 61.0h1.0M277.5 71.7h1.0M76.5 74.8h1.0M82.6 58.8h1.0M164.1 58.9h1.0M305.4 54.7h1.0M60.7 52.2h1.0M59.4 70.4h1.0M266.8 66.4h1.0M276.8 58.0h1.0M194.0 91.4h1.0M185.6 87.2h1.0M90.5 72.2h1.0M95.0 59.1h1.0M83.7 65.8h1.0M116.8 80.4h1.0M299.9 74.2h1.0M216.6 66.3h1.0M224.7 50.7h1.0M338.1 53.4h1.0M137.4 58.9h1.0M188.5 73.0h1.0M286.5 70.7h1.0M230.0 67.6h1.0M125.0 35.0h1.0M96.6 60.2h1.0M148.5 64.6h1.0M136.1 44.2h1.0M75.7 39.0h1.0M136.0 55.9h1.0M113.5 54.9h1.0M290.7 74.7h1.0M88.6 57.4h1.0M193.7 84.4h1.0M270.7 74.6h1.0M130.0 72.1h1.0M95.7 50.6h1.0M226.3 58.3h1.0M162.1 47.7h1.0M187.6 61.0h1.0M66.8 69.0h1.0M340.2 40.2h1.0M104.8 41.5h1.0M271.8 42.2h1.0M337.9 55.9h1.0M133.6 54.1h1.0M143.2 62.4h1.0M183.8 16.2h1.0M183.8 41.8h1.0M142.6 53.4h1.0M121.6 62.6h1.0M91.0 70.3h1.0M284.9 39.5h1.0M121.1 48.0h1.0M159.5 17.2h1.0M157.1 63.1h1.0M236.9 53.1h1.0M86.5 60.1h1.0M292.4 53.1h1.0M82.3 42.7h1.0M235.6 17.2h1.0M304.3 75.1h1.0M125.3 33.1h1.0M124.1 23.3h1.0M282.8 69.2h1.0M242.9 40.7h1.0M87.2 60.4h1.0M94.6 70.9h1.0M320.1 70.5h1.0M299.7 63.4h1.0M201.3 58.8h1.0M277.5 69.5h1.0M159.6 59.3h1.0M42.2 62.7h1.0M125.5 52.7h1.0M107.7 50.7h1.0M280.6 38.4h1.0M86.1 73.2h1.0M160.8 57.7h1.0M335.4 78.6h1.0M123.2 35.3h1.0M232.7 35.8h1.0M246.5 50.0h1.0M316.7 43.3h1.0M330.6 49.5h1.0M322.0 46.6h1.0M214.9 48.6h1.0M332.4 55.0h1.0M59.4 73.1h1.0M47.9 62.7h1.0M259.7 44.1h1.0M224.6 53.5h1.0M158.1 51.9h1.0M244.5 75.2h1.0M291.6 28.9h1.0M339.8 45.0h1.0M244.1 59.2h1.0M255.2 46.4h1.0M236.9 67.8h1.0M176.5 45.5h1.0M178.2 54.5h1.0M105.3 65.7h1.0M231.0 77.2h1.0M146.2 70.7h1.0M44.3 50.4h1.0M321.1 69.0h1.0M215.6 44.3h1.0M229.5 51.3h1.0M265.8 69.2h1.0M121.2 38.5h1.0M156.2 83.3h1.0M339.7 41.5h1.0M114.8 64.3h1.0M153.6 56.6h1.0M315.9 62.0h1.0M117.5 63.5h1.0M82.1 38.3h1.0M91.5 55.1h1.0M94.3 64.0h1.0M106.7 52.4h1.0M42.9 64.6h1.0M50.7 38.4h1.0M243.7 46.6h1.0M259.5 85.1h1.0M258.9 57.5h1.0M189.5 72.9h1.0M184.7 61.9h1.0M288.0 70.4h1.0M235.8 46.7h1.0M270.7 65.1h1.0M310.7 55.2h1.0M210.3 54.4h1.0M330.2 43.2h1.0M208.0 87.6h1.0M295.6 59.7h1.0M231.3 49.4h1.0M328.9 50.7h1.0M226.8 46.6h1.0M99.2 66.5h1.0M226.4 37.5h1.0M112.0 48.4h1.0M293.8 52.7h1.0M288.1 44.5h1.0M187.6 50.7h1.0M171.6 64.9h1.0M300.2 74.7h1.0M76.3 44.0h1.0M249.3 50.2h1.0M104.6 44.5h1.0M75.1 45.3h1.0M308.3 63.6h1.0M77.4 25.2h1.0M134.2 36.8h1.0M179.4 49.1h1.0M113.6 56.8h1.0M290.9 61.6h1.0M338.8 61.7h1.0M50.3 61.7h1.0M310.7 51.1h1.0M167.9 52.1h1.0M232.6 59.9h1.0M180.8 68.0h1.0M168.7 67.5h1.0M172.2 51.2h1.0M269.9 49.1h1.0M105.4 71.1h1.0M330.6 63.5h1.0M281.7 73.3h1.0M85.8 55.6h1.0M44.0 51.7h1.0M139.5 62.3h1.0M106.3 36.3h1.0M74.6 64.8h1.0M264.8 49.2h1.0M65.6 48.3h1.0M138.1 55.1h1.0M126.1 40.4h1.0M274.7 48.1h1.0M320.8 72.3h1.0M190.7 56.8h1.0M157.4 56.5h1.0M137.4 42.8h1.0M196.2 84.5h1.0M254.6 30.8h1.0M53.3 59.6h1.0M305.7 58.5h1.0M287.2 65.1h1.0M116.3 68.0h1.0M42.4 60.7h1.0M261.0 64.3h1.0M100.1 47.8h1.0M171.9 78.2h1.0M141.0 63.9h1.0M203.3 33.8h1.0M311.9 52.8h1.0M150.3 54.5h1.0M266.1 41.1h1.0M213.9 47.6h1.0M72.5 44.6h1.0M252.6 66.8h1.0M284.0 76.7h1.0M177.1 59.2h1.0M161.7 72.9h1.0M270.2 42.5h1.0M249.3 56.7h1.0M114.7 51.1h1.0M306.1 73.1h1.0M311.8 46.7h1.0M275.9 53.8h1.0M117.9 53.8h1.0M326.6 49.9h1.0M263.2 41.9h1.0M48.0 63.9h1.0M295.8 33.3h1.0M192.5 73.2h1.0M41.8 37.9h1.0M88.3 36.7h1.0M110.1 41.7h1.0M239.8 43.5h1.0M75.3 65.9h1.0M107.8 44.4h1.0M69.5 47.9h1.0M195.6 57.3h1.0M94.9 62.5h1.0M110.3 75.0h1.0M308.7 47.0h1.0M285.0 51.1h1.0M114.4 69.1h1.0M321.8 71.0h1.0M145.1 56.4h1.0M84.7 54.0h1.0M243.8 26.7h1.0M223.5 47.4h1.0M197.7 69.6h1.0M332.8 49.6h1.0M138.6 31.7h1.0M222.1 51.5h1.0M104.2 47.8h1.0M253.4 62.6h1.0M244.1 54.1h1.0M146.6 57.4h1.0M142.5 50.6h1.0M93.0 45.3h1.0M227.8 56.1h1.0M114.8 62.3h1.0M89.9 41.2h1.0M170.2 62.4h1.0M206.9 35.4h1.0M58.4 43.4h1.0M324.0 61.1h1.0M101.0 71.6h1.0M155.2 51.7h1.0M129.9 66.0h1.0M329.6 52.9h1.0M300.8 43.8h1.0M89.6 50.4h1.0M307.0 62.7h1.0M217.7 61.9h1.0M137.9 89.6h1.0M329.7 64.2h1.0M264.8 71.3h1.0M100.8 72.9h1.0M337.6 42.9h1.0M234.3 42.0h1.0M239.3 52.7h1.0M181.6 68.6h1.0M158.6 71.2h1.0M41.2 47.5h1.0M269.4 50.6h1.0M222.1 43.5h1.0M257.6 48.1h1.0M156.9 84.1h1.0M271.3 55.2h1.0M83.7 41.8h1.0M274.7 34.6h1.0M151.6 65.8h1.0M234.4 54.9h1.0M83.9 82.5h1.0M221.6 76.7h1.0M317.5 43.9h1.0M268.0 39.4h1.0M268.5 39.5h1.0M271.2 67.5h1.0M86.2 90.0h1.0M124.4 51.6h1.0M257.1 45.3h1.0M74.8 51.1h1.0M133.9 45.5h1.0M50.9 34.2h1.0M97.5 47.6h1.0M245.8 26.5h1.0M290.2 53.9h1.0M338.0 51.0h1.0M306.6 49.9h1.0M268.4 60.5h1.0M298.3 38.6h1.0M302.7 67.9h1.0M232.9 64.0h1.0M193.5 80.9h1.0M247.7 46.6h1.0M259.7 55.2h1.0M60.3 69.1h1.0M294.1 59.5h1.0M185.7 48.6h1.0M206.0 60.2h1.0M168.3 50.0h1.0M80.5 51.8h1.0M301.8 53.4h1.0M233.7 36.6h1.0M113.7 45.3h1.0M147.2 41.2h1.0M185.1 51.5h1.0M98.6 59.9h1.0M219.2 65.3h1.0M178.5 60.1h1.0M274.0 64.0h1.0M279.7 53.4h1.0M259.6 51.2h1.0M186.0 58.0h1.0M206.6 64.2h1.0M128.9 54.4h1.0M136.8 59.8h1.0M68.5 57.6h1.0M311.3 75.4h1.0M146.6 44.8h1.0M160.5 51.2h1.0M181.2 41.4h1.0M322.3 47.2h1.0M245.2 62.7h1.0M288.0 52.3h1.0M93.6 27.4h1.0M96.1 43.6h1.0M76.0 57.0h1.0M338.7 55.0h1.0M234.2 48.8h1.0M177.2 61.3h1.0M196.6 53.6h1.0M245.6 54.7h1.0M287.8 63.0h1.0M232.0 62.0h1.0M271.2 18.6h1.0M46.2 50.9h1.0M89.7 69.7h1.0M333.6 57.0h1.0M301.2 68.4h1.0M169.4 49.6h1.0M159.5 63.6h1.0M84.5 54.2h1.0M73.5 52.4h1.0M172.4 56.9h1.0M73.4 67.0h1.0M281.7 47.2h1.0M220.7 53.5h1.0M150.3 42.3h1.0M306.3 51.0h1.0M101.5 53.8h1.0M76.9 50.0h1.0M98.1 55.1h1.0M309.6 68.9h1.0M83.1 44.1h1.0M62.3 29.2h1.0M236.2 73.7h1.0M243.2 77.1h1.0M118.7 39.8h1.0M170.8 49.3h1.0M165.6 65.0h1.0M285.9 53.0h1.0M237.3 48.4h1.0M319.2 43.7h1.0M336.0 34.0h1.0M89.2 69.3h1.0M151.1 53.3h1.0M225.0 33.8h1.0M320.2 60.6h1.0M92.8 66.2h1.0M97.0 56.4h1.0M250.5 37.8h1.0M274.6 60.7h1.0M43.7 51.5h1.0M43.9 48.9h1.0M266.4 45.0h1.0M201.0 57.0h1.0M119.0 87.8h1.0M213.7 52.0h1.0M144.3 55.3h1.0M266.5 53.6h1.0M309.4 54.1h1.0M262.7 65.9h1.0M270.8 79.7h1.0M121.2 76.1h1.0M249.8 36.1h1.0M154.6 69.2h1.0M128.6 55.2h1.0M214.0 37.6h1.0M269.0 27.7h1.0M314.4 53.4h1.0M310.1 71.2h1.0M79.0 65.9h1.0M252.1 58.4h1.0M210.4 46.3h1.0M270.3 54.2h1.0M289.1 64.1h1.0M72.0 62.3h1.0M250.6 51.0h1.0M104.6 33.6h1.0M159.0 44.7h1.0M59.3 67.5h1.0M325.7 54.8h1.0M217.4 63.7h1.0M238.1 63.2h1.0M168.3 46.5h1.0M140.5 60.3h1.0M108.8 68.1h1.0M113.1 45.3h1.0M160.2 46.6h1.0M290.6 67.7h1.0M79.8 50.6h1.0M319.7 56.6h1.0M46.1 53.5h1.0M338.5 54.9h1.0M285.5 53.7h1.0M283.9 69.3h1.0M276.6 58.6h1.0M261.8 56.3h1.0M317.7 60.8h1.0M83.0 52.3h1.0M260.0 45.4h1.0M54.9 41.5h1.0M147.5 77.9h1.0M259.6 48.9h1.0M212.7 44.7h1.0M191.9 81.2h1.0M55.6 65.6h1.0M258.9 64.6h1.0M101.2 64.9h1.0M193.5 59.3h1.0M185.2 79.5h1.0M244.3 54.1h1.0M153.1 51.5h1.0M232.6 28.2h1.0M72.2 45.6h1.0M70.3 67.2h1.0M82.8 68.6h1.0M252.9 51.9h1.0M99.1 45.8h1.0M98.2 56.2h1.0M232.2 52.8h1.0M139.1 55.1h1.0M226.5 64.9h1.0M87.7 25.4h1.0M75.4 56.0h1.0M193.8 51.5h1.0M113.3 63.0h1.0M90.1 45.0h1.0M51.8 35.7h1.0M325.8 61.5h1.0M212.5 64.4h1.0M243.9 47.2h1.0M314.3 73.8h1.0M329.6 50.0h1.0M243.1 49.5h1.0M337.7 56.2h1.0M191.6 69.8h1.0M162.0 47.6h1.0M90.0 74.8h1.0M163.2 52.0h1.0M220.0 62.6h1.0M142.0 49.2h1.0M325.2 40.8h1.0M71.7 48.2h1.0M316.9 40.9h1.0M211.2 67.9h1.0M146.6 39.0h1.0M108.3 55.4h1.0M74.8 59.5h1.0M73.2 32.2h1.0M51.0 61.3h1.0M116.6 43.4h1.0M302.8 48.4h1.0M74.5 41.4h1.0M47.2 63.4h1.0M190.6 53.2h1.0M140.3 41.3h1.0M150.1 57.5h1.0M51.0 80.5h1.0M172.4 67.4h1.0M156.0 69.4h1.0M338.5 42.6h1.0M329.9 69.8h1.0M161.4 52.2h1.0M318.8 51.8h1.0M215.5 88.5h1.0M90.0 74.4h1.0M334.6 59.3h1.0M158.9 43.5h1.0M188.3 75.1h1.0M252.5 67.9h1.0M108.9 59.8h1.0M185.4 83.6h1.0M112.0 51.2h1.0M114.2 64.1h1.0M146.1 69.5h1.0M315.9 55.9h1.0M236.9 51.0h1.0M157.6 74.5h1.0M142.0 59.3h1.0M163.9 62.8h1.0M83.4 47.8h1.0M304.9 61.3h1.0M151.4 62.2h1.0M186.6 76.7h1.0M69.6 58.8h1.0M314.3 60.7h1.0M194.7 68.7h1.0M72.0 51.7h1.0M118.7 51.8h1.0M225.4 76.4h1.0M161.8 25.2h1.0M282.6 36.4h1.0M218.9 56.4h1.0M301.6 50.9h1.0M280.3 86.5h1.0M46.1 67.6h1.0M323.7 74.0h1.0M83.6 48.2h1.0M144.3 51.6h1.0M202.4 38.8h1.0M306.9 49.4h1.0M130.4 65.6h1.0M48.0 46.7h1.0M72.5 66.8h1.0M280.2 59.8h1.0M100.1 40.1h1.0M241.9 44.0h1.0M246.2 51.7h1.0M328.9 64.2h1.0M110.8 45.9h1.0M294.9 53.3h1.0M158.5 56.0h1.0M105.7 57.3h1.0M141.9 64.4h1.0M101.0 34.8h1.0M42.9 62.2h1.0M297.4 75.4h1.0M252.7 64.1h1.0M209.8 54.9h1.0M106.6 62.0h1.0M136.1 46.0h1.0M326.6 64.0h1.0M287.4 42.4h1.0M76.2 44.1h1.0M172.3 47.5h1.0M326.2 57.3h1.0M48.9 68.4h1.0M199.9 54.9h1.0M259.7 74.4h1.0M119.2 69.7h1.0M163.2 72.7h1.0M321.0 65.2h1.0M225.1 61.1h1.0M296.6 56.8h1.0M250.3 68.1h1.0M107.9 58.7h1.0M85.5 50.5h1.0M224.6 74.7h1.0M136.4 68.7h1.0M60.1 54.5h1.0M56.2 47.5h1.0M284.1 55.4h1.0M258.3 34.6h1.0M296.6 69.2h1.0M43.0 51.4h1.0M220.7 68.6h1.0M84.3 64.6h1.0M307.2 53.4h1.0M227.6 57.2h1.0M50.7 31.7h1.0M302.2 55.0h1.0M114.4 41.9h1.0M326.9 75.7h1.0M139.5 53.3h1.0M275.2 62.1h1.0M192.5 66.6h1.0M182.9 44.4h1.0M130.5 45.2h1.0M340.2 71.6h1.0M305.3 61.6h1.0M66.1 61.9h1.0M223.2 46.4h1.0M189.8 74.2h1.0M127.8 50.6h1.0M226.3 82.3h1.0M329.7 43.9h1.0M264.5 57.1h1.0M234.9 41.0h1.0M148.4 39.8h1.0M214.8 36.4h1.0M40.5 73.9h1.0M116.8 64.0h1.0M233.1 70.8h1.0M235.6 66.3h1.0M77.3 52.8h1.0M144.6 42.6h1.0M332.7 45.5h1.0M104.9 38.4h1.0M87.5 51.7h1.0M192.0 65.6h1.0M149.9 49.2h1.0M197.0 90.3h1.0M59.2 38.7h1.0M244.8 56.4h1.0M161.6 37.4h1.0M67.1 50.9h1.0M197.4 51.4h1.0M217.8 69.9h1.0M134.2 47.6h1.0M110.5 57.1h1.0M307.5 78.0h1.0M132.6 62.9h1.0M276.1 63.4h1.0M162.0 79.2h1.0M183.5 66.0h1.0M83.1 53.6h1.0M130.9 44.3h1.0M149.6 48.0h1.0M288.3 59.7h1.0M106.5 55.5h1.0M196.7 75.3h1.0M113.1 50.8h1.0M264.4 70.5h1.0M84.1 61.4h1.0M187.6 74.8h1.0M117.5 69.1h1.0M254.4 57.9h1.0M306.0 56.4h1.0M336.1 36.5h1.0M247.8 53.5h1.0M40.6 41.5h1.0M262.9 57.5h1.0M260.4 55.1h1.0M286.4 53.4h1.0M262.6 43.8h1.0M84.7 48.6h1.0M321.5 71.0h1.0M117.7 66.2h1.0M284.1 51.7h1.0M78.2 71.1h1.0M63.9 52.8h1.0M124.8 35.6h1.0M69.2 51.7h1.0M135.3 53.0h1.0M86.8 44.2h1.0M303.1 41.5h1.0M274.8 58.6h1.0M303.2 44.8h1.0M216.2 53.0h1.0M110.4 59.7h1.0M51.4 42.9h1.0M67.4 49.1h1.0M121.1 42.3h1.0M122.8 61.1h1.0M126.5 72.9h1.0M291.7 62.7h1.0M258.2 32.4h1.0M212.4 65.8h1.0M168.4 43.7h1.0M111.9 56.4h1.0M219.3 40.4h1.0M119.0 77.6h1.0M284.2 58.6h1.0M317.0 48.5h1.0M203.2 57.3h1.0M51.3 73.4h1.0M246.6 33.8h1.0M134.7 65.4h1.0M319.9 55.0h1.0M62.5 31.8h1.0M253.6 57.2h1.0M267.3 67.4h1.0M52.2 49.7h1.0M291.8 27.9h1.0M108.9 44.4h1.0M276.4 54.6h1.0M289.8 64.6h1.0M207.0 56.6h1.0M221.2 64.0h1.0M321.7 40.9h1.0M86.7 38.4h1.0M195.8 79.1h1.0M151.5 91.9h1.0M45.1 49.6h1.0M69.9 55.5h1.0M143.2 54.5h1.0M298.3 63.3h1.0M296.8 60.9h1.0M134.7 57.8h1.0M257.8 53.3h1.0M216.6 30.2h1.0M290.7 72.0h1.0M272.4 38.5h1.0M135.3 42.4h1.0M303.0 31.9h1.0M246.3 45.4h1.0M76.3 39.8h1.0M65.2 46.3h1.0M57.7 40.8h1.0M281.2 58.4h1.0M190.5 72.7h1.0M68.1 35.9h1.0M234.5 65.5h1.0M238.4 42.1h1.0M305.4 78.7h1.0M228.0 52.9h1.0M206.3 51.3h1.0M177.8 60.4h1.0M285.5 86.6h1.0M119.0 57.1h1.0M113.9 56.1h1.0M258.2 48.9h1.0M293.1 45.8h1.0M245.4 72.4h1.0M104.8 67.4h1.0M208.1 44.1h1.0M65.4 51.0h1.0M299.3 48.8h1.0M332.6 45.4h1.0M44.6 53.4h1.0M157.2 43.8h1.0M300.7 41.9h1.0M296.2 84.9h1.0M150.0 25.7h1.0M112.0 48.5h1.0M213.5 58.7h1.0M156.0 43.5h1.0M43.5 37.6h1.0M195.2 68.7h1.0M151.5 58.7h1.0M152.2 65.2h1.0M91.5 31.0h1.0M220.3 51.2h1.0M117.9 62.0h1.0M340.4 75.5h1.0M231.6 64.2h1.0M277.8 40.0h1.0M283.1 55.2h1.0M99.2 51.7h1.0M303.1 58.6h1.0M284.4 62.8h1.0M219.4 72.6h1.0M298.2 45.4h1.0M162.9 64.1h1.0M113.7 50.0h1.0M133.9 45.3h1.0M277.7 45.3h1.0M222.9 46.3h1.0M195.5 73.0h1.0M295.2 59.5h1.0M69.6 22.2h1.0M47.0 53.6h1.0M216.2 62.0h1.0M249.1 60.6h1.0M296.6 63.6h1.0M180.9 50.9h1.0M237.9 64.2h1.0M148.9 30.5h1.0M81.6 51.4h1.0M290.7 41.5h1.0M323.3 32.7h1.0M79.9 15.7h1.0M226.3 47.8h1.0M234.8 57.3h1.0M248.6 28.0h1.0M172.9 49.5h1.0M138.5 62.5h1.0M155.7 44.7h1.0M123.9 63.4h1.0M214.0 46.7h1.0M77.9 60.3h1.0M185.6 68.6h1.0M208.4 70.1h1.0M307.1 71.3h1.0M201.3 39.2h1.0M138.7 68.5h1.0M223.8 73.9h1.0M55.8 30.7h1.0M131.9 72.2h1.0M197.5 60.8h1.0M226.4 43.0h1.0M102.3 71.1h1.0M281.1 60.2h1.0M128.5 47.6h1.0M337.6 50.0h1.0M327.0 51.8h1.0M150.3 54.7h1.0M48.4 53.5h1.0M222.0 51.7h1.0M301.3 43.8h1.0M196.2 58.8h1.0M305.0 61.3h1.0M172.2 77.1h1.0M202.1 48.7h1.0M161.0 45.5h1.0M64.0 37.3h1.0M101.3 72.0h1.0M302.5 67.5h1.0M187.8 54.2h1.0M252.9 30.5h1.0M245.7 53.5h1.0M92.5 43.1h1.0M51.4 60.8h1.0M84.2 79.6h1.0M46.1 52.9h1.0M109.2 39.7h1.0M209.9 65.6h1.0M156.3 66.4h1.0M105.1 61.6h1.0M278.2 56.6h1.0M122.8 52.2h1.0M313.7 59.1h1.0M84.7 34.0h1.0M102.1 57.1h1.0M100.8 54.4h1.0M95.2 60.4h1.0M80.6 26.3h1.0M335.3 57.3h1.0M76.6 61.6h1.0M319.5 45.0h1.0M131.2 57.5h1.0M72.1 43.7h1.0M147.4 56.2h1.0M186.1 45.4h1.0M236.3 46.7h1.0M334.5 55.0h1.0M200.3 49.2h1.0M223.4 62.2h1.0M247.1 58.2h1.0M96.1 18.7h1.0M171.0 46.7h1.0M271.1 64.2h1.0M94.2 58.1h1.0M90.0 66.8h1.0M240.3 49.5h1.0M209.1 56.3h1.0M105.4 61.8h1.0M141.1 37.0h1.0M96.7 54.8h1.0M90.4 34.2h1.0M225.0 54.0h1.0M58.2 67.2h1.0M135.8 58.4h1.0M292.9 55.5h1.0M285.0 52.6h1.0M103.9 63.6h1.0M119.5 43.6h1.0M122.0 79.9h1.0M162.3 62.0h1.0M101.4 62.2h1.0M154.3 63.9h1.0M103.6 48.1h1.0M211.8 67.5h1.0M160.5 62.3h1.0M133.4 49.7h1.0M70.2 52.5h1.0M62.2 51.3h1.0M268.1 43.6h1.0M115.0 29.7h1.0M76.8 49.7h1.0M146.5 58.6h1.0M213.6 70.6h1.0M334.6 60.0h1.0M111.1 75.8h1.0M336.4 54.0h1.0M159.6 55.1h1.0M69.2 56.5h1.0M324.8 51.2h1.0M62.3 68.5h1.0M60.7 44.5h1.0M88.2 57.1h1.0M329.5 60.2h1.0M64.2 53.3h1.0M94.9 86.3h1.0M151.4 61.7h1.0M316.0 51.4h1.0M322.7 70.8h1.0M272.2 56.7h1.0M157.6 62.1h1.0M264.5 48.0h1.0M314.8 33.8h1.0M238.5 80.1h1.0M284.4 61.0h1.0M140.1 51.1h1.0M52.8 42.5h1.0M175.1 47.9h1.0M299.8 50.1h1.0M93.4 52.8h1.0M78.2 29.4h1.0M174.9 47.3h1.0M130.9 71.9h1.0M40.6 63.8h1.0M280.6 75.5h1.0M257.8 61.0h1.0M332.0 48.3h1.0M45.7 71.4h1.0M75.7 49.9h1.0M167.8 57.9h1.0M261.2 58.9h1.0M120.0 59.7h1.0M73.9 19.6h1.0M76.0 70.1h1.0M154.4 45.8h1.0M145.6 60.6h1.0M316.3 46.8h1.0M175.4 55.7h1.0M177.5 64.7h1.0M325.4 34.1h1.0M202.0 36.2h1.0M57.9 65.9h1.0M48.1 44.5h1.0M170.7 45.3h1.0M110.2 69.9h1.0M234.3 63.3h1.0M205.6 56.8h1.0M124.1 67.4h1.0M48.9 50.4h1.0M130.1 65.0h1.0M250.4 64.7h1.0M209.1 64.1h1.0M78.4 53.1h1.0M59.3 69.3h1.0M231.1 73.2h1.0M312.4 51.3h1.0M273.6 51.1h1.0M49.2 68.9h1.0M260.5 56.6h1.0M121.2 81.4h1.0M313.4 60.6h1.0M139.8 57.1h1.0M152.5 42.4h1.0M250.9 63.7h1.0M58.8 51.0h1.0M164.6 72.6h1.0M88.1 64.1h1.0M233.0 64.8h1.0M118.3 59.3h1.0M157.7 44.7h1.0M300.0 57.8h1.0M201.1 49.8h1.0M287.0 58.9h1.0M271.0 52.0h1.0M113.9 71.6h1.0M264.9 70.9h1.0M321.0 55.5h1.0M271.3 60.1h1.0M258.8 54.8h1.0M90.0 62.1h1.0M62.5 56.6h1.0M192.3 41.1h1.0M66.3 68.9h1.0M295.8 57.0h1.0M179.8 49.1h1.0M162.4 45.5h1.0M263.0 65.2h1.0M211.5 41.4h1.0M121.6 69.6h1.0M234.7 60.0h1.0M190.8 61.5h1.0M154.6 57.3h1.0M286.0 66.2h1.0M233.8 49.8h1.0M183.7 38.9h1.0M338.5 57.5h1.0M225.2 85.4h1.0M227.5 50.2h1.0M176.5 50.1h1.0M154.1 45.0h1.0M171.1 73.3h1.0M122.2 54.8h1.0M309.4 57.4h1.0M68.3 62.6h1.0M326.9 61.6h1.0M250.4 37.0h1.0M97.3 65.6h1.0M76.0 43.0h1.0M137.5 37.8h1.0M161.4 51.5h1.0M323.8 59.9h1.0M202.4 53.7h1.0M197.7 46.1h1.0M328.7 45.8h1.0M246.3 61.7h1.0M270.6 51.3h1.0M114.5 40.0h1.0M206.7 36.3h1.0M81.7 50.1h1.0M100.6 50.2h1.0M232.1 28.3h1.0M95.7 50.6h1.0M201.7 62.1h1.0M152.4 69.7h1.0M99.4 64.9h1.0M41.3 47.5h1.0M134.0 45.0h1.0M171.5 60.2h1.0M155.1 42.0h1.0M221.3 33.9h1.0M337.2 81.6h1.0M296.9 33.4h1.0M160.4 54.1h1.0M258.2 35.6h1.0M102.7 60.2h1.0M305.5 41.4h1.0M90.7 57.8h1.0M134.5 61.9h1.0M284.1 60.4h1.0M334.4 70.6h1.0M326.5 38.5h1.0M60.9 44.4h1.0M267.0 69.4h1.0M150.3 57.0h1.0M109.2 60.5h1.0M211.0 56.4h1.0M259.1 64.4h1.0M147.2 50.7h1.0M112.6 70.1h1.0M79.9 60.7h1.0M284.7 41.7h1.0M174.1 42.0h1.0M191.5 68.7h1.0M218.8 37.0h1.0M64.1 38.5h1.0M127.1 47.5h1.0M221.5 44.7h1.0M74.2 42.8h1.0M43.4 56.6h1.0M187.6 63.1h1.0M176.4 40.8h1.0M113.9 57.3h1.0M51.2 66.8h1.0M251.8 69.7h1.0M258.4 51.0h1.0M50.2 69.0h1.0M109.6 60.2h1.0M83.6 51.2h1.0M164.3 64.8h1.0M219.8 47.1h1.0M231.8 84.9h1.0M269.8 38.9h1.0M204.0 40.4h1.0M240.0 26.3h1.0M191.6 74.2h1.0M287.1 43.9h1.0M200.2 46.1h1.0M217.4 59.5h1.0M140.5 71.5h1.0M316.0 52.4h1.0M324.3 36.1h1.0M240.3 74.0h1.0M239.7 41.3h1.0M163.2 57.1h1.0M108.9 61.2h1.0M138.0 67.8h1.0M184.8 60.5h1.0M323.1 68.2h1.0M100.5 63.5h1.0M126.3 59.1h1.0M323.0 54.0h1.0M177.9 58.0h1.0M274.4 44.9h1.0M256.3 44.9h1.0M148.3 59.5h1.0M72.5 79.9h1.0M61.1 34.7h1.0M283.9 55.7h1.0M318.0 63.7h1.0M123.7 45.0h1.0M254.0 50.5h1.0M192.8 81.5h1.0M244.7 36.6h1.0M162.1 62.3h1.0M267.8 62.3h1.0M339.9 56.6h1.0M190.9 83.9h1.0M282.8 62.2h1.0M113.5 54.4h1.0M203.0 57.1h1.0M319.2 37.0h1.0M121.1 41.1h1.0M70.1 67.4h1.0M129.3 58.4h1.0M141.6 65.1h1.0M271.5 70.1h1.0M95.0 46.9h1.0M119.9 91.3h1.0M276.5 41.9h1.0M161.0 71.7h1.0M48.3 64.1h1.0M78.9 54.6h1.0M103.5 41.5h1.0M287.1 51.4h1.0M206.8 52.2h1.0M299.7 48.8h1.0M139.0 55.1h1.0M289.0 49.8h1.0M52.5 59.3h1.0M197.6 70.4h1.0M316.4 48.2h1.0M120.0 41.9h1.0M82.2 84.8h1.0M135.5 42.3h1.0M334.0 36.6h1.0M331.0 70.7h1.0M240.6 33.2h1.0M334.5 60.5h1.0M125.3 51.6h1.0M252.6 44.0h1.0M205.5 62.2h1.0M106.6 40.4h1.0M83.2 64.3h1.0M232.5 30.0h1.0M178.8 59.2h1.0M171.5 54.7h1.0M147.2 44.2h1.0M102.8 27.0h1.0M323.9 47.0h1.0M219.9 54.7h1.0M77.2 55.4h1.0M185.8 82.5h1.0M132.1 67.3h1.0M156.8 43.4h1.0M282.4 45.5h1.0M333.6 25.0h1.0M195.3 64.1h1.0M91.2 55.3h1.0M268.5 58.4h1.0M45.8 46.8h1.0M231.2 63.0h1.0M173.2 44.2h1.0M140.0 55.8h1.0M53.8 73.4h1.0M123.4 46.4h1.0M62.8 51.9h1.0M275.4 27.1h1.0M135.1 66.0h1.0M309.5 67.0h1.0M264.6 58.6h1.0M273.9 62.3h1.0M340.0 35.8h1.0M337.9 74.5h1.0M233.5 64.4h1.0M191.4 93.2h1.0M183.3 48.3h1.0M223.0 52.4h1.0M175.4 38.0h1.0M115.8 34.5h1.0M168.2 60.6h1.0M299.4 54.8h1.0M91.4 43.7h1.0M54.6 61.3h1.0M337.2 70.4h1.0M260.4 46.7h1.0M227.9 61.4h1.0M139.6 56.1h1.0M143.0 57.8h1.0M147.7 68.5h1.0M44.3 50.1h1.0M244.1 61.1h1.0M113.9 31.6h1.0M301.5 59.1h1.0M331.9 80.9h1.0M209.4 76.4h1.0M128.4 65.7h1.0M246.5 42.5h1.0M89.9 62.3h1.0M273.7 54.1h1.0M267.7 49.5h1.0M300.3 57.2h1.0M57.2 57.8h1.0M186.9 83.4h1.0M306.2 53.8h1.0M187.1 65.9h1.0M151.7 71.8h1.0M305.4 54.7h1.0M265.9 64.9h1.0M201.9 62.2h1.0M109.0 54.0h1.0M221.4 66.8h1.0M130.5 69.7h1.0M85.1 70.8h1.0M71.6 43.4h1.0M308.3 56.8h1.0M201.5 57.5h1.0M176.8 64.1h1.0M301.9 38.9h1.0M304.0 40.1h1.0M246.9 62.6h1.0M50.6 69.5h1.0M254.3 55.5h1.0M336.3 43.4h1.0M141.5 77.3h1.0M77.4 63.2h1.0M313.3 69.1h1.0M143.7 52.7h1.0M197.5 55.3h1.0M66.0 57.9h1.0M275.1 60.7h1.0M159.0 40.3h1.0M163.9 52.6h1.0M134.6 23.3h1.0M316.4 59.3h1.0M288.7 39.4h1.0M134.7 76.6h1.0M144.4 66.2h1.0M260.2 68.3h1.0M294.3 69.2h1.0M81.1 64.9h1.0M213.2 54.1h1.0M296.1 58.1h1.0M339.9 47.3h1.0M137.7 45.5h1.0M165.2 64.5h1.0M313.8 58.7h1.0M215.5 42.7h1.0M108.6 42.5h1.0M229.8 62.0h1.0M253.8 51.2h1.0M260.4 40.0h1.0M211.0 54.1h1.0M112.8 52.5h1.0M330.2 63.5h1.0M119.2 61.3h1.0M132.4 54.9h1.0M271.8 40.0h1.0M62.9 39.5h1.0M189.0 68.4h1.0M194.9 60.3h1.0M330.0 69.8h1.0M67.1 69.2h1.0M213.2 36.5h1.0M334.8 85.5h1.0M143.9 40.2h1.0M254.1 54.9h1.0M336.0 63.5h1.0M263.9 40.0h1.0M94.2 55.4h1.0M113.4 51.0h1.0M212.8 65.8h1.0M43.7 50.1h1.0M309.3 45.2h1.0M168.7 64.1h1.0M295.7 64.0h1.0M66.6 65.3h1.0M282.6 51.9h1.0M184.7 42.9h1.0M96.1 69.2h1.0M247.7 60.0h1.0M241.3 55.8h1.0M147.5 32.6h1.0M166.5 50.3h1.0M258.6 60.4h1.0M216.1 33.1h1.0M129.3 41.5h1.0M240.1 54.9h1.0M231.0 49.3h1.0M85.1 60.8h1.0M215.2 47.5h1.0M39.6 82.6h1.0M320.6 47.5h1.0M276.4 56.4h1.0M221.8 42.8h1.0M320.5 55.0h1.0M89.4 56.4h1.0M267.5 45.8h1.0M138.8 39.6h1.0M309.1 47.7h1.0M101.5 52.2h1.0M126.2 25.8h1.0M147.5 79.3h1.0M239.4 42.3h1.0M186.0 68.3h1.0M242.8 56.5h1.0M156.4 70.4h1.0M338.9 42.5h1.0M70.3 60.3h1.0M190.3 75.8h1.0M58.5 50.4h1.0M186.6 56.3h1.0M228.8 38.9h1.0M124.8 52.1h1.0M118.5 47.5h1.0M60.5 58.4h1.0M266.0 68.9h1.0M229.4 59.0h1.0M144.4 63.0h1.0M62.8 41.9h1.0M315.3 29.8h1.0M184.8 58.5h1.0M293.2 70.3h1.0M268.8 42.4h1.0M283.0 38.2h1.0M120.0 48.6h1.0M247.0 51.6h1.0M276.9 62.8h1.0M185.7 60.3h1.0M227.7 56.5h1.0M212.5 48.7h1.0M139.7 20.6h1.0M250.3 74.5h1.0M65.3 45.3h1.0M235.8 92.9h1.0M150.5 75.4h1.0M162.8 48.6h1.0M202.0 51.1h1.0M89.5 68.8h1.0M58.7 56.0h1.0M160.0 73.5h1.0M206.3 74.5h1.0M225.1 36.1h1.0M299.0 28.3h1.0M64.7 66.3h1.0M102.0 90.9h1.0M112.1 52.2h1.0M315.9 47.2h1.0M121.1 57.4h1.0M204.8 40.8h1.0M186.3 36.8h1.0M155.4 31.5h1.0M209.8 44.6h1.0M292.8 64.8h1.0M125.0 46.2h1.0M115.3 52.2h1.0M276.8 34.9h1.0M129.9 64.6h1.0M178.0 27.8h1.0M134.4 65.0h1.0M159.5 55.0h1.0M295.9 53.7h1.0M260.0 52.7h1.0M145.8 52.8h1.0M87.4 47.5h1.0M325.5 57.6h1.0M81.0 81.3h1.0M240.6 57.4h1.0M288.5 30.1h1.0M141.9 45.6h1.0M220.0 61.5h1.0M326.4 58.4h1.0M273.9 57.5h1.0M143.1 50.1h1.0M331.9 47.6h1.0M138.7 33.4h1.0M61.4 17.3h1.0M198.6 60.7h1.0M262.9 61.8h1.0M98.7 83.9h1.0M42.6 63.3h1.0M312.6 51.5h1.0M282.9 66.9h1.0M266.6 65.4h1.0M281.5 35.7h1.0M119.8 58.9h1.0M268.6 62.4h1.0M101.5 41.5h1.0M70.4 47.1h1.0M84.5 43.4h1.0M237.3 65.6h1.0M312.7 46.1h1.0M311.2 60.1h1.0M169.4 34.0h1.0M72.7 67.1h1.0M174.3 65.8h1.0M130.4 88.5h1.0M92.9 54.4h1.0M305.3 49.1h1.0M58.9 33.3h1.0M122.4 64.9h1.0M69.4 71.0h1.0M49.2 54.8h1.0M50.0 53.4h1.0M322.7 43.0h1.0M178.7 72.6h1.0M124.3 48.3h1.0M289.9 63.1h1.0M298.0 28.9h1.0M61.4 56.4h1.0M78.6 56.5h1.0M279.0 65.5h1.0M257.6 85.5h1.0M313.4 44.9h1.0M280.3 44.2h1.0M248.5 61.1h1.0M102.9 67.4h1.0M78.9 31.2h1.0M125.3 42.7h1.0M57.9 75.0h1.0M131.8 46.7h1.0M102.4 50.4h1.0M320.7 46.5h1.0M94.4 60.2h1.0M301.9 59.1h1.0M304.2 48.7h1.0M281.0 71.8h1.0M201.5 57.2h1.0M259.6 52.5h1.0M88.1 43.0h1.0M58.8 60.3h1.0M167.7 36.9h1.0M315.0 47.6h1.0M189.2 67.9h1.0M168.5 54.1h1.0M242.6 48.7h1.0M273.4 73.5h1.0M132.0 51.4h1.0M147.8 63.4h1.0M124.2 59.1h1.0M298.4 46.3h1.0M186.2 72.9h1.0M45.6 50.8h1.0M246.7 42.6h1.0M155.6 40.8h1.0M107.5 57.9h1.0M307.4 43.9h1.0M113.8 56.6h1.0M336.9 54.3h1.0M242.3 59.1h1.0M305.4 57.5h1.0M276.1 49.2h1.0M49.9 61.2h1.0M334.3 54.4h1.0M183.2 59.3h1.0M66.4 53.9h1.0M109.9 47.7h1.0M111.9 47.3h1.0M152.8 46.7h1.0M273.7 51.9h1.0M318.5 33.1h1.0M162.5 57.2h1.0M138.9 53.9h1.0M110.8 52.0h1.0M258.6 46.5h1.0M123.6 68.7h1.0M259.1 70.1h1.0M244.6 66.0h1.0M207.7 48.1h1.0M153.1 55.7h1.0M120.3 66.2h1.0M181.4 65.9h1.0M160.6 63.2h1.0M198.7 64.6h1.0M303.0 71.1h1.0M189.3 72.2h1.0M54.5 39.5h1.0M166.7 59.7h1.0M197.5 57.5h1.0M315.5 76.7h1.0M236.3 54.1h1.0M191.5 72.0h1.0M188.4 75.8h1.0M71.5 43.8h1.0M69.6 44.2h1.0M298.6 39.0h1.0M173.3 39.2h1.0M117.1 64.4h1.0M263.4 67.8h1.0M161.7 29.7h1.0M119.0 56.5h1.0M242.5 58.7h1.0M105.8 59.3h1.0M248.9 67.6h1.0M102.1 22.2h1.0M219.3 71.0h1.0M254.8 42.0h1.0M168.2 22.2h1.0M196.5 68.5h1.0M325.6 58.6h1.0M165.7 33.2h1.0M320.5 51.8h1.0M66.0 70.4h1.0M135.5 67.2h1.0M85.7 45.5h1.0M243.4 47.3h1.0M101.6 64.6h1.0M207.6 50.9h1.0M254.6 46.4h1.0M293.5 53.4h1.0M208.7 43.9h1.0M218.2 27.6h1.0M119.1 52.4h1.0M147.6 41.5h1.0M110.2 66.2h1.0M166.2 55.8h1.0M192.7 60.2h1.0M130.6 33.6h1.0M174.7 46.2h1.0M45.4 52.5h1.0M76.5 35.4h1.0M211.5 68.8h1.0M156.5 75.2h1.0M186.9 76.6h1.0M233.3 36.2h1.0M195.5 51.8h1.0M171.5 24.4h1.0M44.9 49.1h1.0M285.5 46.5h1.0M204.8 54.8h1.0M85.7 42.9h1.0M113.6 33.6h1.0M323.9 59.0h1.0M256.2 47.1h1.0M268.9 58.5h1.0M183.2 73.3h1.0M136.4 46.4h1.0M223.3 70.6h1.0M76.5 48.8h1.0M314.5 51.7h1.0M274.3 62.4h1.0M168.2 25.2h1.0M212.5 57.5h1.0M131.4 57.4h1.0M166.4 68.2h1.0M217.8 57.6h1.0M189.0 70.7h1.0M139.4 63.9h1.0M218.4 60.8h1.0M60.5 75.7h1.0M271.8 49.3h1.0M67.7 65.9h1.0M171.4 67.0h1.0M334.0 69.7h1.0M215.1 54.4h1.0M304.7 53.6h1.0M87.3 33.8h1.0M52.1 53.7h1.0M287.9 32.2h1.0M328.1 45.2h1.0M236.3 47.0h1.0M260.8 48.8h1.0M260.9 49.0h1.0M256.9 56.9h1.0M198.1 69.0h1.0M143.7 61.6h1.0M165.4 46.2h1.0M281.6 45.6h1.0M260.5 53.7h1.0M39.6 62.4h1.0M148.0 42.4h1.0M158.9 61.1h1.0M80.0 55.3h1.0M121.6 41.8h1.0M216.0 72.5h1.0M105.1 63.6h1.0M84.1 53.7h1.0M72.8 52.9h1.0M300.5 64.7h1.0M223.9 62.9h1.0M169.2 46.0h1.0M156.7 60.2h1.0M256.9 35.3h1.0M100.3 49.2h1.0M178.6 44.6h1.0M177.6 57.3h1.0M121.1 70.2h1.0M109.8 74.3h1.0M262.5 66.6h1.0M284.5 39.8h1.0M290.5 56.7h1.0M81.2 72.4h1.0M172.0 41.2h1.0M58.2 54.0h1.0M67.0 73.4h1.0M105.2 55.4h1.0M218.7 42.2h1.0M44.5 63.6h1.0M320.8 48.2h1.0M63.8 60.6h1.0M324.9 44.8h1.0M225.3 54.8h1.0M62.6 48.2h1.0M267.5 38.8h1.0M150.2 50.8h1.0M232.5 66.9h1.0M203.3 93.3h1.0M213.0 43.2h1.0M322.2 58.7h1.0M233.5 60.6h1.0M203.1 44.1h1.0M335.1 51.3h1.0M339.2 60.0h1.0M99.4 79.3h1.0M212.4 54.5h1.0M262.4 65.4h1.0M84.1 83.5h1.0M220.6 52.0h1.0M268.2 54.3h1.0M284.8 55.9h1.0M50.2 39.3h1.0M47.5 40.8h1.0M107.6 55.1h1.0M152.2 66.0h1.0M144.8 62.0h1.0M265.9 47.7h1.0M159.9 53.7h1.0M211.2 85.4h1.0M274.6 59.5h1.0M229.5 47.2h1.0M304.1 70.5h1.0M196.2 52.7h1.0M317.4 41.6h1.0M110.1 49.8h1.0M114.6 35.7h1.0M113.2 41.6h1.0M146.0 49.3h1.0M140.9 48.8h1.0M335.9 47.7h1.0M46.6 48.2h1.0M152.4 18.5h1.0M123.2 60.7h1.0M242.7 50.7h1.0M228.4 49.3h1.0M50.8 60.0h1.0M332.9 48.8h1.0M104.2 58.7h1.0M156.2 88.5h1.0M220.3 42.1h1.0M148.0 40.4h1.0M158.9 47.2h1.0M319.8 59.0h1.0M210.0 30.2h1.0M281.8 56.6h1.0M171.2 56.8h1.0M266.2 56.5h1.0M172.2 45.7h1.0M253.0 53.5h1.0M269.3 56.0h1.0M269.4 55.6h1.0M156.3 39.0h1.0M212.6 59.5h1.0M146.8 40.1h1.0M309.5 63.9h1.0M126.3 51.0h1.0M86.8 38.3h1.0M96.5 58.8h1.0M200.0 44.2h1.0M169.6 79.4h1.0M94.6 47.7h1.0M49.5 55.8h1.0M175.4 54.9h1.0M281.8 74.5h1.0M318.7 64.7h1.0M239.9 42.2h1.0M311.7 54.6h1.0M62.2 37.2h1.0M48.4 60.2h1.0M152.1 52.1h1.0M236.4 27.6h1.0M153.2 39.1h1.0M302.3 50.3h1.0M133.4 61.1h1.0M210.2 62.1h1.0M275.3 27.9h1.0M89.3 55.2h1.0M177.1 46.8h1.0M266.2 48.4h1.0M331.9 52.0h1.0M276.0 46.3h1.0M290.0 42.6h1.0M205.7 23.6h1.0M327.3 74.4h1.0M269.5 49.2h1.0M57.5 55.1h1.0M212.7 83.4h1.0M164.0 70.9h1.0M124.2 65.0h1.0M144.1 59.3h1.0M225.8 34.9h1.0M271.4 49.5h1.0M46.6 55.4h1.0M116.5 70.1h1.0M112.1 69.6h1.0M135.6 63.9h1.0M273.1 62.3h1.0M43.7 58.5h1.0M86.3 61.6h1.0M230.3 26.9h1.0M99.9 30.6h1.0M334.7 15.3h1.0M104.8 52.6h1.0M311.2 63.0h1.0M100.1 58.7h1.0M98.1 64.2h1.0M177.5 55.1h1.0M125.3 61.4h1.0M300.2 37.2h1.0M244.1 65.3h1.0M87.9 43.3h1.0M207.6 50.9h1.0M223.9 49.7h1.0M239.3 56.7h1.0M99.9 39.7h1.0M198.5 38.5h1.0M90.4 73.3h1.0M264.5 37.0h1.0M185.0 77.0h1.0M88.6 55.4h1.0M64.3 50.8h1.0M256.5 54.4h1.0M322.4 71.8h1.0M80.1 53.3h1.0M232.8 55.2h1.0M322.5 66.7h1.0M255.0 42.1h1.0M89.6 57.8h1.0M291.8 59.0h1.0M220.0 47.5h1.0M171.3 73.1h1.0M313.6 49.1h1.0M122.1 54.3h1.0M323.3 64.2h1.0M204.6 54.9h1.0M326.5 58.2h1.0M212.7 31.9h1.0M249.3 72.2h1.0M73.0 83.8h1.0M202.6 70.8h1.0M176.3 59.4h1.0M229.0 73.4h1.0M97.5 66.9h1.0M312.1 51.1h1.0M228.0 54.2h1.0M164.5 64.5h1.0M137.0 58.1h1.0M115.4 47.3h1.0M338.8 56.0h1.0M313.4 69.9h1.0M300.3 54.9h1.0M159.8 52.1h1.0M298.4 59.5h1.0M181.7 30.0h1.0M291.2 61.4h1.0M296.0 77.7h1.0M319.2 54.5h1.0M111.1 32.9h1.0M63.9 58.9h1.0M254.2 54.1h1.0M107.6 34.5h1.0M317.9 43.8h1.0M260.6 63.0h1.0M111.0 68.1h1.0M278.5 56.3h1.0M190.0 71.2h1.0M208.6 63.6h1.0M219.0 45.0h1.0M332.3 50.5h1.0M219.6 53.9h1.0M272.8 53.9h1.0M192.7 68.6h1.0M186.5 70.6h1.0M89.3 63.7h1.0M245.8 47.5h1.0M205.3 54.9h1.0M290.8 53.3h1.0M247.6 54.5h1.0M209.6 84.2h1.0M324.7 54.5h1.0M260.6 76.7h1.0M313.8 57.0h1.0M228.0 38.5h1.0M100.4 54.8h1.0M128.7 47.6h1.0M241.1 68.6h1.0M319.5 38.0h1.0M253.9 52.8h1.0M216.1 23.8h1.0M228.8 53.5h1.0M130.8 34.8h1.0M78.8 66.9h1.0M58.5 66.9h1.0M261.4 54.3h1.0M201.0 62.9h1.0M256.2 42.5h1.0M301.3 51.5h1.0M76.4 45.7h1.0M133.6 58.2h1.0M88.7 35.0h1.0M292.9 71.8h1.0M211.8 49.9h1.0M114.5 43.1h1.0M177.1 78.0h1.0M253.1 82.3h1.0M56.5 66.6h1.0M191.6 34.7h1.0M283.3 60.7h1.0M307.3 46.7h1.0M217.8 46.7h1.0M197.6 38.2h1.0M107.0 53.9h1.0M44.6 46.7h1.0M127.7 64.3h1.0M70.3 41.5h1.0M299.2 62.9h1.0M46.4 59.5h1.0M288.7 69.1h1.0M153.1 36.8h1.0M177.6 50.1h1.0M95.4 51.1h1.0M219.9 61.3h1.0M78.1 54.3h1.0M165.6 46.5h1.0M259.9 50.9h1.0M51.3 59.7h1.0M190.9 66.5h1.0M40.5 55.1h1.0M112.4 34.8h1.0M174.4 53.2h1.0M64.0 68.3h1.0M283.7 68.4h1.0M226.3 50.7h1.0M295.3 46.9h1.0M252.0 56.6h1.0M124.8 50.3h1.0M337.8 38.1h1.0M112.3 62.0h1.0M85.9 56.5h1.0M107.7 61.0h1.0M130.3 83.0h1.0M299.9 48.9h1.0M276.2 68.2h1.0M168.3 65.1h1.0M216.6 92.3h1.0M174.0 78.6h1.0M215.1 59.8h1.0M190.8 53.7h1.0M222.6 49.5h1.0M223.5 50.6h1.0M147.1 39.3h1.0M107.4 63.1h1.0M154.8 44.0h1.0M252.0 38.5h1.0M282.4 59.1h1.0M227.0 43.6h1.0M112.2 59.7h1.0M72.2 46.2h1.0M292.2 66.4h1.0M189.6 89.9h1.0M265.5 46.5h1.0M243.4 59.5h1.0M132.1 47.3h1.0M229.1 35.6h1.0M54.1 32.2h1.0M81.9 80.5h1.0M52.4 51.9h1.0M157.0 37.2h1.0M100.4 57.5h1.0M306.4 55.3h1.0M85.8 49.1h1.0M100.7 55.5h1.0M86.9 49.2h1.0M187.4 61.0h1.0M249.0 59.4h1.0M225.0 78.3h1.0M179.1 75.9h1.0M290.5 68.0h1.0M80.4 62.2h1.0M249.9 62.0h1.0M239.5 72.4h1.0M74.7 75.4h1.0M81.1 43.5h1.0M52.5 37.8h1.0M62.9 50.0h1.0M328.6 72.3h1.0M175.5 75.0h1.0M107.8 58.0h1.0M70.5 65.5h1.0M134.9 44.8h1.0M107.7 58.9h1.0M157.1 45.0h1.0M95.1 62.0h1.0M108.6 35.0h1.0M53.0 30.1h1.0M192.5 53.3h1.0M178.8 51.9h1.0M198.3 56.6h1.0M302.5 65.2h1.0M246.7 52.5h1.0M59.5 64.9h1.0M48.6 50.1h1.0M160.1 51.4h1.0M165.3 68.3h1.0M326.1 36.6h1.0M166.6 39.2h1.0M301.5 50.5h1.0M308.3 44.2h1.0M290.9 39.3h1.0M194.0 63.3h1.0M191.0 71.4h1.0M283.4 36.9h1.0M333.0 59.0h1.0M136.9 51.2h1.0M181.6 59.3h1.0M227.0 52.4h1.0M165.8 56.1h1.0M95.3 35.6h1.0M78.8 52.6h1.0M167.7 38.5h1.0M196.8 56.3h1.0M308.9 68.2h1.0M108.2 45.6h1.0M227.6 55.3h1.0M88.2 31.2h1.0M240.2 42.2h1.0M295.0 57.9h1.0M268.7 43.5h1.0M201.1 53.4h1.0M288.2 61.5h1.0M283.2 46.4h1.0M212.5 79.9h1.0M264.4 33.1h1.0M168.8 46.1h1.0M308.3 49.4h1.0M232.3 55.0h1.0M248.0 70.6h1.0M132.1 53.7h1.0M230.5 52.7h1.0M133.7 60.4h1.0M304.6 50.8h1.0M74.0 61.9h1.0M171.4 53.9h1.0M208.8 49.3h1.0M249.6 42.9h1.0M113.6 76.5h1.0M40.7 32.3h1.0M295.4 30.1h1.0M119.0 44.4h1.0M243.9 84.7h1.0M59.7 77.3h1.0M61.9 57.5h1.0M227.0 44.0h1.0M199.1 62.1h1.0M62.0 45.5h1.0M66.7 74.9h1.0M111.6 57.1h1.0M52.2 70.0h1.0M158.6 75.5h1.0M233.6 54.3h1.0M312.5 73.8h1.0M148.3 42.7h1.0M296.5 59.7h1.0M57.5 56.9h1.0M295.2 58.2h1.0M48.5 52.8h1.0M271.7 73.1h1.0M236.6 50.1h1.0M100.0 60.2h1.0M101.1 47.3h1.0M335.7 74.4h1.0M191.5 81.4h1.0M266.4 58.4h1.0M81.1 53.7h1.0M206.7 56.4h1.0M201.7 50.1h1.0M78.8 37.5h1.0M181.8 36.0h1.0M242.5 71.7h1.0M131.0 39.7h1.0M318.8 72.6h1.0M277.6 45.4h1.0M281.6 57.8h1.0M82.5 65.6h1.0M219.2 27.9h1.0M209.9 33.8h1.0M240.6 56.0h1.0M339.3 84.9h1.0M123.3 56.1h1.0M127.7 48.8h1.0M40.2 54.3h1.0M209.8 53.4h1.0M42.2 47.6h1.0M207.5 62.8h1.0M105.4 70.3h1.0M324.7 67.2h1.0M295.3 21.0h1.0M302.4 66.6h1.0M49.3 48.7h1.0M218.0 45.4h1.0M203.4 66.6h1.0M187.3 73.2h1.0M263.3 74.7h1.0M164.9 35.7h1.0M311.8 67.5h1.0M155.5 49.9h1.0M119.3 60.4h1.0M79.6 52.3h1.0M200.4 51.4h1.0M87.6 40.8h1.0M321.8 38.2h1.0M207.8 54.1h1.0M272.6 73.4h1.0M227.9 49.3h1.0M59.5 83.8h1.0M208.4 57.1h1.0M262.5 54.3h1.0M71.3 48.1h1.0M272.6 66.9h1.0M122.8 31.3h1.0M329.2 44.1h1.0M79.8 92.1h1.0M50.1 56.5h1.0M114.4 54.9h1.0M216.9 33.5h1.0M78.6 45.0h1.0M125.7 68.5h1.0M183.1 47.0h1.0M286.7 30.7h1.0M288.9 72.1h1.0M331.4 35.1h1.0M250.2 60.4h1.0M195.8 91.7h1.0M157.7 72.0h1.0M152.2 53.5h1.0M71.1 45.5h1.0M295.5 42.7h1.0M105.2 57.3h1.0M222.7 53.9h1.0M145.9 72.5h1.0M267.9 54.7h1.0M187.4 84.6h1.0M300.3 61.0h1.0M274.8 77.1h1.0M211.7 24.1h1.0M268.3 58.1h1.0M149.1 44.0h1.0M135.7 49.0h1.0M106.4 29.9h1.0M135.9 57.2h1.0M325.6 39.2h1.0M174.9 67.6h1.0M56.1 77.3h1.0M142.8 71.9h1.0M337.9 34.4h1.0M180.4 52.7h1.0M220.8 67.1h1.0M105.8 38.4h1.0M107.2 67.6h1.0M278.7 79.6h1.0M45.8 41.1h1.0M232.3 60.6h1.0M332.6 56.9h1.0M203.2 56.9h1.0M116.9 68.3h1.0M240.4 53.8h1.0M58.0 63.3h1.0M60.1 53.0h1.0M196.0 54.2h1.0M107.8 40.4h1.0M219.9 64.3h1.0M45.3 47.7h1.0M93.4 89.9h1.0M58.3 54.4h1.0M265.5 43.2h1.0M279.8 46.1h1.0M248.9 60.3h1.0M267.5 64.1h1.0M298.6 50.0h1.0M62.2 42.0h1.0M325.4 55.8h1.0M59.3 54.7h1.0M210.8 66.5h1.0M258.3 39.8h1.0M209.8 71.6h1.0M190.7 57.8h1.0M57.2 45.1h1.0M72.1 65.8h1.0M209.8 69.2h1.0M275.0 52.3h1.0M308.4 53.2h1.0M292.0 56.7h1.0M298.8 46.7h1.0M117.8 53.6h1.0M64.0 71.2h1.0M149.6 73.6h1.0M187.6 71.7h1.0M104.2 57.6h1.0M111.9 57.3h1.0M150.3 87.5h1.0M314.1 36.9h1.0M213.9 61.8h1.0M110.3 56.1h1.0M309.4 52.5h1.0M142.0 54.0h1.0M167.4 41.3h1.0M263.8 55.5h1.0M301.1 57.7h1.0M98.2 49.3h1.0M77.2 64.3h1.0M261.4 71.8h1.0M64.5 65.3h1.0M169.9 54.9h1.0M172.8 52.2h1.0M184.5 55.3h1.0M290.9 38.6h1.0M237.0 55.2h1.0M86.6 67.0h1.0M313.2 52.1h1.0M245.2 58.7h1.0M226.7 45.7h1.0M324.7 56.0h1.0M167.7 63.5h1.0M110.0 56.4h1.0M245.7 30.4h1.0M125.3 47.3h1.0M167.9 51.3h1.0M329.5 49.6h1.0M79.8 59.9h1.0M325.3 52.1h1.0M114.2 30.9h1.0M186.8 63.7h1.0M66.0 43.1h1.0M249.4 65.4h1.0M172.6 61.3h1.0M203.8 61.0h1.0M148.3 70.6h1.0M96.6 57.0h1.0M173.4 52.7h1.0M285.6 32.9h1.0M265.2 66.3h1.0M280.9 52.4h1.0M268.8 63.0h1.0M77.9 29.4h1.0M209.1 75.3h1.0M45.1 60.5h1.0M277.6 63.6h1.0M106.4 51.4h1.0M314.3 27.5h1.0M266.8 55.9h1.0M81.7 50.2h1.0M288.4 46.3h1.0M189.5 63.6h1.0M335.6 61.0h1.0M330.9 52.4h1.0M213.1 39.3h1.0M189.6 79.3h1.0M236.8 59.7h1.0M209.6 59.2h1.0M215.5 46.6h1.0M270.3 44.8h1.0M242.9 53.5h1.0M329.8 70.8h1.0M231.2 42.9h1.0M49.0 41.9h1.0M277.6 49.5h1.0M167.0 38.6h1.0M302.0 74.6h1.0M201.8 44.9h1.0M164.2 63.0h1.0M287.6 45.5h1.0M160.0 79.1h1.0M86.0 76.5h1.0M307.2 60.9h1.0M110.8 68.0h1.0M80.5 41.3h1.0M48.7 61.0h1.0M296.1 57.6h1.0M298.3 73.5h1.0M122.8 60.4h1.0M279.8 45.7h1.0M69.3 77.4h1.0M172.2 57.4h1.0M287.5 47.5h1.0M88.4 42.3h1.0M71.5 62.8h1.0M305.5 39.9h1.0M297.4 54.7h1.0M142.1 58.5h1.0M72.7 32.0h1.0M129.8 38.9h1.0M225.9 29.2h1.0M138.9 57.4h1.0M231.8 53.8h1.0M318.2 54.5h1.0M165.1 52.1h1.0M318.6 63.4h1.0M219.0 64.8h1.0M121.3 57.6h1.0M257.7 56.6h1.0M295.2 78.8h1.0M83.9 37.6h1.0M241.6 55.5h1.0M173.0 71.8h1.0M270.9 44.8h1.0M60.9 71.0h1.0M258.6 43.6h1.0M284.5 54.1h1.0M122.2 47.1h1.0M70.5 55.8h1.0M307.0 51.6h1.0M254.7 54.0h1.0M315.5 50.3h1.0M93.5 68.1h1.0M159.3 68.5h1.0M325.8 49.5h1.0M75.4 64.5h1.0M138.9 45.1h1.0M259.6 53.2h1.0M126.8 60.7h1.0M295.6 57.0h1.0M323.0 69.7h1.0M60.5 53.9h1.0M105.0 49.3h1.0M200.4 67.2h1.0M263.3 59.9h1.0M134.7 63.9h1.0M138.5 87.7h1.0M95.5 76.2h1.0M297.5 56.4h1.0M312.2 56.5h1.0M83.6 35.4h1.0M179.0 57.1h1.0M99.0 45.4h1.0M128.6 67.0h1.0M150.7 54.0h1.0M230.1 39.7h1.0M68.0 59.4h1.0M320.1 70.1h1.0M274.2 71.9h1.0M52.3 61.5h1.0M43.8 90.6h1.0M241.5 47.6h1.0M215.5 59.2h1.0M187.5 69.3h1.0M236.0 62.3h1.0M263.7 41.6h1.0M257.8 79.1h1.0M323.1 50.8h1.0M162.7 65.4h1.0M163.3 70.4h1.0M103.0 62.4h1.0M44.3 81.1h1.0M308.1 45.4h1.0M133.1 48.0h1.0M161.1 46.4h1.0M254.6 51.8h1.0M122.6 64.7h1.0M131.4 71.5h1.0M215.4 57.4h1.0M251.3 49.8h1.0M254.2 50.2h1.0M163.7 35.4h1.0M212.6 56.6h1.0M48.7 36.3h1.0M286.9 68.1h1.0M127.4 41.9h1.0M85.1 65.6h1.0M104.5 34.2h1.0M319.0 50.9h1.0M251.6 48.5h1.0M169.8 61.1h1.0M232.0 74.0h1.0M216.2 69.3h1.0M121.3 36.5h1.0M127.7 35.1h1.0M46.3 46.3h1.0M328.8 72.8h1.0M198.5 39.5h1.0M101.0 39.7h1.0M202.8 54.9h1.0M240.1 38.9h1.0M112.7 61.0h1.0M168.7 33.7h1.0M62.7 68.3h1.0M123.6 60.4h1.0M181.5 53.7h1.0M314.3 69.9h1.0M338.3 40.8h1.0M138.4 60.7h1.0M131.0 59.2h1.0M46.7 53.8h1.0M221.3 48.8h1.0M305.7 37.2h1.0M188.9 46.8h1.0M231.8 62.4h1.0M173.9 65.5h1.0M89.5 54.1h1.0M338.6 51.6h1.0M334.7 37.6h1.0M151.4 74.9h1.0M118.9 50.0h1.0M236.2 64.0h1.0M130.3 63.3h1.0M288.2 44.7h1.0M117.1 56.5h1.0M115.3 63.3h1.0M107.1 51.9h1.0M73.8 56.7h1.0M196.5 63.1h1.0M303.8 24.6h1.0M140.7 59.7h1.0M53.0 52.3h1.0M65.6 53.7h1.0M207.6 35.7h1.0M109.7 46.1h1.0M83.3 47.1h1.0M78.8 39.8h1.0M108.1 54.8h1.0M71.4 45.4h1.0M332.3 46.9h1.0M56.0 50.5h1.0M266.4 52.3h1.0M96.1 32.5h1.0M221.4 36.1h1.0M141.7 60.2h1.0M157.5 62.5h1.0M149.2 42.7h1.0M267.8 45.3h1.0M90.0 60.3h1.0M261.2 31.5h1.0M100.6 60.1h1.0M192.0 73.9h1.0M333.8 61.0h1.0M193.1 46.0h1.0M54.9 58.5h1.0M134.3 64.9h1.0M211.6 50.6h1.0M88.5 45.0h1.0M244.6 40.8h1.0M263.0 51.7h1.0M283.4 62.3h1.0M261.4 56.7h1.0M56.0 59.4h1.0M153.5 81.8h1.0M231.6 47.5h1.0M286.4 35.2h1.0M106.5 36.9h1.0M339.1 51.6h1.0M238.1 54.0h1.0M336.2 55.2h1.0M190.7 89.1h1.0M305.7 43.2h1.0M239.5 52.3h1.0M192.1 49.5h1.0M239.0 35.3h1.0M118.7 37.7h1.0M175.8 48.1h1.0M306.1 81.3h1.0M94.6 55.4h1.0M206.1 57.7h1.0M71.1 36.6h1.0M150.4 47.5h1.0M317.6 41.9h1.0M329.8 64.4h1.0M234.4 51.3h1.0M89.5 65.6h1.0M190.1 57.0h1.0M47.5 53.5h1.0M302.1 60.3h1.0M216.9 73.2h1.0M287.3 76.6h1.0M138.6 42.0h1.0M276.5 69.2h1.0M53.5 51.6h1.0M48.6 52.8h1.0M237.5 50.9h1.0M221.9 56.1h1.0M297.4 30.7h1.0M236.5 59.3h1.0M113.7 47.3h1.0M315.1 56.0h1.0M285.8 29.8h1.0M159.3 52.3h1.0M307.5 49.0h1.0M285.8 51.0h1.0M56.8 54.2h1.0M98.5 65.0h1.0M228.3 54.3h1.0M141.1 60.0h1.0M199.4 46.3h1.0M150.4 31.2h1.0M266.3 47.1h1.0M291.2 46.3h1.0M238.5 61.5h1.0M162.0 61.0h1.0M329.5 63.3h1.0M79.1 61.6h1.0M85.9 49.1h1.0M63.8 31.3h1.0M290.2 67.6h1.0M82.4 67.2h1.0M278.5 35.0h1.0M255.6 83.4h1.0M248.9 46.7h1.0M153.8 69.9h1.0M138.5 42.7h1.0M270.0 59.9h1.0M109.2 56.8h1.0M168.0 66.4h1.0M127.4 57.6h1.0M141.2 45.8h1.0M298.1 73.4h1.0M181.2 18.4h1.0M193.3 64.7h1.0M260.5 33.9h1.0M55.6 65.9h1.0M120.5 56.5h1.0M292.6 50.2h1.0M169.8 73.5h1.0M98.7 63.2h1.0M57.3 50.5h1.0M179.9 53.8h1.0M70.7 56.9h1.0M249.0 53.8h1.0M176.2 67.1h1.0M216.3 61.2h1.0M305.9 57.3h1.0M78.0 61.7h1.0M262.0 50.5h1.0M180.2 65.7h1.0M58.2 71.4h1.0M258.3 61.2h1.0M141.3 51.4h1.0M275.2 55.9h1.0M327.1 49.0h1.0M45.5 70.5h1.0M49.2 70.2h1.0M215.2 50.9h1.0M225.0 58.9h1.0M185.3 58.4h1.0M292.1 57.1h1.0M248.8 49.0h1.0M235.4 72.4h1.0M166.4 40.3h1.0M269.8 69.9h1.0M256.7 49.6h1.0M82.5 61.5h1.0M98.4 54.9h1.0M230.9 48.8h1.0M272.5 47.3h1.0M307.8 58.9h1.0M115.1 64.1h1.0M251.6 62.0h1.0M167.2 62.9h1.0M135.9 52.2h1.0M147.2 69.4h1.0M280.0 52.9h1.0M176.2 54.2h1.0M267.0 54.2h1.0M43.8 59.6h1.0M240.0 36.6h1.0M313.8 62.2h1.0M262.7 62.8h1.0M210.6 58.5h1.0M229.0 41.2h1.0M316.0 44.3h1.0M269.7 63.6h1.0M327.8 51.7h1.0M222.9 62.0h1.0M338.7 60.6h1.0M50.9 52.3h1.0M209.5 31.0h1.0M147.0 43.5h1.0M55.2 40.4h1.0M103.6 57.9h1.0M226.2 38.9h1.0M48.6 57.2h1.0M133.5 45.0h1.0M225.5 32.1h1.0M114.7 32.1h1.0M98.6 57.1h1.0M113.5 50.7h1.0M313.7 82.0h1.0M93.4 40.0h1.0M181.3 32.3h1.0M87.1 52.1h1.0M247.7 62.8h1.0M321.1 74.5h1.0M89.8 77.6h1.0M140.1 68.4h1.0M114.2 55.1h1.0M202.7 50.8h1.0M59.1 46.6h1.0M279.6 61.3h1.0M283.4 56.2h1.0M231.9 40.9h1.0M201.7 51.4h1.0M95.0 41.9h1.0M152.3 59.9h1.0M219.6 60.6h1.0M220.5 63.5h1.0M129.3 43.9h1.0M204.4 47.7h1.0M187.7 65.3h1.0M263.2 48.5h1.0M131.3 52.2h1.0M91.5 56.8h1.0M107.7 47.3h1.0M288.6 74.3h1.0M322.2 64.0h1.0M102.7 48.6h1.0M185.2 55.5h1.0M80.0 52.0h1.0M229.8 62.1h1.0M104.6 64.8h1.0M167.2 64.7h1.0M143.7 61.8h1.0M268.4 60.6h1.0M79.7 43.2h1.0M194.2 65.1h1.0M247.3 56.9h1.0M155.6 61.3h1.0M142.3 41.3h1.0M45.1 65.5h1.0M71.5 69.5h1.0M89.5 35.7h1.0M87.7 34.1h1.0M215.7 41.0h1.0M221.6 44.1h1.0M172.7 61.9h1.0M160.9 68.8h1.0M331.5 70.0h1.0M252.7 51.7h1.0M305.8 41.6h1.0M208.6 74.1h1.0M164.9 64.3h1.0M281.7 60.1h1.0M223.6 50.2h1.0M46.8 48.4h1.0M334.8 62.7h1.0M177.0 55.2h1.0M223.1 53.8h1.0M180.5 52.7h1.0M201.2 62.3h1.0M152.8 66.7h1.0M143.7 62.5h1.0M283.7 56.7h1.0M259.7 34.0h1.0M275.1 60.6h1.0M122.3 54.7h1.0M262.5 30.3h1.0M268.9 49.0h1.0M339.1 33.1h1.0M273.8 54.8h1.0M163.5 55.7h1.0M193.2 78.6h1.0M137.2 77.7h1.0M47.0 36.5h1.0M90.8 67.5h1.0M229.0 40.7h1.0M200.2 66.6h1.0M141.3 56.7h1.0M223.6 54.7h1.0M153.2 58.5h1.0M188.3 78.5h1.0M113.2 56.0h1.0M179.8 63.2h1.0M201.2 74.3h1.0M80.4 57.2h1.0M124.5 59.7h1.0M306.0 54.7h1.0M218.2 41.3h1.0M143.3 71.4h1.0M47.0 67.0h1.0M122.4 48.8h1.0M72.4 49.9h1.0M325.6 64.0h1.0M193.8 72.1h1.0M53.3 44.3h1.0M212.6 46.9h1.0M210.2 72.7h1.0M161.0 49.1h1.0M221.8 52.3h1.0M299.9 61.4h1.0M92.1 63.8h1.0M78.0 74.1h1.0M229.7 51.0h1.0M206.7 52.4h1.0M277.4 56.3h1.0M259.3 45.2h1.0M303.3 79.7h1.0M312.7 53.3h1.0M251.0 69.0h1.0M151.3 46.4h1.0M131.4 42.0h1.0M72.6 48.2h1.0M81.2 48.1h1.0M309.0 37.7h1.0M42.3 47.9h1.0M270.0 61.8h1.0M215.4 84.2h1.0M114.7 68.0h1.0M57.8 69.2h1.0M179.0 76.8h1.0M273.3 58.8h1.0M128.7 68.8h1.0M50.9 70.8h1.0M162.3 51.8h1.0M275.8 57.3h1.0M203.6 67.6h1.0M313.9 75.8h1.0M165.0 44.0h1.0M179.7 74.9h1.0M339.7 51.0h1.0M252.5 43.1h1.0M121.4 45.5h1.0M326.7 33.3h1.0M117.6 52.9h1.0M42.0 55.8h1.0M208.7 72.1h1.0M127.1 71.7h1.0M184.0 72.8h1.0M117.0 84.5h1.0M236.7 77.0h1.0M189.9 67.5h1.0M143.3 47.6h1.0M213.5 59.7h1.0M232.7 54.5h1.0M289.0 63.6h1.0M208.6 51.7h1.0M60.6 48.6h1.0M213.5 69.7h1.0M55.0 62.2h1.0M177.8 71.9h1.0M263.3 72.4h1.0M97.9 49.0h1.0M140.7 67.9h1.0M299.2 63.7h1.0M107.4 64.8h1.0M83.0 65.0h1.0M252.0 48.8h1.0M195.6 60.5h1.0M149.4 42.6h1.0M184.1 39.5h1.0M150.9 45.2h1.0M108.8 36.6h1.0M207.9 66.0h1.0M44.2 60.1h1.0M205.7 56.0h1.0M115.6 64.8h1.0M85.5 34.5h1.0M228.1 81.0h1.0M151.7 43.9h1.0M115.6 58.5h1.0M278.0 56.2h1.0M158.8 48.5h1.0M70.3 62.2h1.0M81.8 52.6h1.0M124.0 66.0h1.0M177.4 66.8h1.0M252.1 53.7h1.0M250.2 78.5h1.0M130.7 65.6h1.0M118.3 49.9h1.0M315.0 48.8h1.0M167.6 64.6h1.0M243.8 43.6h1.0M91.7 57.6h1.0M52.4 63.1h1.0M69.9 57.1h1.0M42.6 56.7h1.0M229.8 45.1h1.0M335.1 43.6h1.0M158.5 74.9h1.0M274.0 51.5h1.0M207.6 58.5h1.0M186.1 66.7h1.0M283.3 72.1h1.0M55.9 32.1h1.0M108.1 53.8h1.0M55.2 45.7h1.0M44.2 52.6h1.0M172.3 60.0h1.0M209.0 43.6h1.0M304.1 71.1h1.0M91.5 49.1h1.0M207.6 65.0h1.0M197.0 54.7h1.0M250.6 56.8h1.0M304.5 65.3h1.0M238.1 55.6h1.0M161.6 61.7h1.0M219.2 55.5h1.0M285.5 61.3h1.0M64.4 41.1h1.0M229.7 41.3h1.0M125.4 62.3h1.0M202.4 54.5h1.0M201.0 53.2h1.0M234.5 49.5h1.0M154.2 35.5h1.0M98.2 61.0h1.0M73.4 62.8h1.0M148.5 50.5h1.0M336.7 35.7h1.0M325.5 37.1h1.0M327.3 62.7h1.0M226.4 50.7h1.0M149.3 55.5h1.0M248.0 48.2h1.0M182.7 63.8h1.0M60.4 56.3h1.0M60.2 41.0h1.0M100.5 33.5h1.0M41.3 46.2h1.0M188.8 57.5h1.0M170.1 40.5h1.0M315.7 67.6h1.0M150.2 66.7h1.0M102.6 60.3h1.0M267.7 55.4h1.0M107.8 81.8h1.0M170.0 45.1h1.0M254.7 55.1h1.0M254.5 48.6h1.0M68.0 43.3h1.0M48.4 68.0h1.0M76.8 53.1h1.0M102.5 45.6h1.0M297.0 44.2h1.0M193.2 67.6h1.0M289.6 47.8h1.0M184.0 39.5h1.0M210.4 44.8h1.0M111.7 58.2h1.0M181.2 36.7h1.0M152.3 41.4h1.0M321.0 81.7h1.0M310.6 59.2h1.0M156.2 48.5h1.0M282.3 56.8h1.0M109.0 51.1h1.0M189.8 67.9h1.0M320.5 78.4h1.0M319.1 57.5h1.0M122.9 62.9h1.0M237.8 50.1h1.0M103.8 51.0h1.0M292.7 63.1h1.0M230.8 72.6h1.0M288.1 60.5h1.0M313.4 49.3h1.0M195.5 76.8h1.0M51.1 60.6h1.0M301.0 51.3h1.0M335.2 49.5h1.0M310.2 55.9h1.0M148.6 39.4h1.0M168.4 51.5h1.0M282.6 37.2h1.0M225.9 70.0h1.0M219.5 59.4h1.0M202.3 63.0h1.0M98.9 43.9h1.0M113.1 65.2h1.0M265.4 62.0h1.0M274.1 47.0h1.0M141.5 70.0h1.0M162.2 54.0h1.0M271.4 57.6h1.0M325.7 59.9h1.0M216.2 46.4h1.0M49.1 50.2h1.0M255.2 54.3h1.0M85.8 56.4h1.0M215.7 51.5h1.0M93.5 63.1h1.0M76.8 47.8h1.0M134.6 40.2h1.0M335.7 57.6h1.0M73.9 51.6h1.0M282.9 61.1h1.0M339.9 76.2h1.0M315.4 68.1h1.0M333.0 69.0h1.0M68.5 56.9h1.0M327.3 57.6h1.0M301.2 53.5h1.0M75.3 56.9h1.0M281.2 62.8h1.0M197.3 65.1h1.0M128.3 57.4h1.0M289.3 47.3h1.0M249.9 66.6h1.0M252.1 34.7h1.0M300.9 48.7h1.0M325.9 61.3h1.0M255.8 77.2h1.0M106.0 65.3h1.0M221.3 75.4h1.0M295.3 61.2h1.0M107.8 40.3h1.0M156.2 53.1h1.0M39.7 46.8h1.0M146.9 56.0h1.0M42.3 50.5h1.0M167.8 64.2h1.0M123.9 64.5h1.0M177.7 78.8h1.0M226.4 54.1h1.0M168.4 57.7h1.0M312.4 65.5h1.0M294.7 58.4h1.0M333.5 50.9h1.0M127.0 53.9h1.0M120.8 36.7h1.0M261.2 46.5h1.0M173.0 58.6h1.0M141.0 56.8h1.0M252.6 47.5h1.0M125.5 53.2h1.0M242.4 87.1h1.0M216.2 70.8h1.0M169.7 58.8h1.0M143.2 43.9h1.0M109.4 68.2h1.0M46.9 45.1h1.0M51.7 28.9h1.0M50.2 62.3h1.0M265.0 36.4h1.0M46.2 15.5h1.0M89.3 47.5h1.0M86.6 62.9h1.0M283.3 51.8h1.0M75.9 51.0h1.0M68.2 48.1h1.0M164.0 62.1h1.0M243.9 68.6h1.0M227.7 53.6h1.0M282.1 72.5h1.0M299.3 53.2h1.0M135.9 61.5h1.0M266.5 56.0h1.0M332.0 51.5h1.0M253.7 54.0h1.0M291.8 29.3h1.0M298.2 57.3h1.0M49.8 78.0h1.0M277.2 73.8h1.0M112.7 65.7h1.0M89.2 61.5h1.0M74.4 41.2h1.0M190.1 79.7h1.0M216.0 40.8h1.0M336.5 61.4h1.0M322.4 68.7h1.0M121.3 35.9h1.0M253.1 51.0h1.0M230.2 66.6h1.0M43.7 62.8h1.0M317.4 55.3h1.0M131.1 71.9h1.0M120.9 73.7h1.0M337.7 50.2h1.0M329.1 35.3h1.0M261.2 50.3h1.0M132.3 57.9h1.0M98.0 83.0h1.0M201.8 49.3h1.0M304.2 70.2h1.0M172.7 49.2h1.0M330.1 47.1h1.0M44.7 47.1h1.0M203.4 55.5h1.0M112.4 64.0h1.0M126.5 61.6h1.0M320.8 45.5h1.0M246.2 56.2h1.0M266.5 28.6h1.0M88.7 46.4h1.0M54.1 28.8h1.0M107.3 51.9h1.0M112.3 64.4h1.0M219.5 43.0h1.0M189.9 78.9h1.0M337.5 61.3h1.0M280.6 48.0h1.0M177.9 53.3h1.0M140.9 39.9h1.0M101.4 72.5h1.0M285.0 54.0h1.0M208.3 39.8h1.0M293.4 17.8h1.0M63.4 71.7h1.0M260.9 35.9h1.0M77.5 50.7h1.0M112.4 44.8h1.0M191.7 64.1h1.0M53.2 56.9h1.0M225.4 62.3h1.0M220.1 48.4h1.0M90.8 49.2h1.0M95.8 67.0h1.0M283.6 58.0h1.0M321.7 66.5h1.0M305.0 37.7h1.0M232.9 67.7h1.0M238.4 69.5h1.0M310.6 28.8h1.0M229.0 54.8h1.0M209.4 60.2h1.0M80.5 57.7h1.0M81.8 67.2h1.0M63.4 71.8h1.0M110.6 70.4h1.0M238.6 42.7h1.0M244.9 73.6h1.0M137.9 77.4h1.0M171.2 46.1h1.0M53.7 35.7h1.0M81.3 63.1h1.0M205.5 48.7h1.0M62.9 48.7h1.0M256.8 43.2h1.0M176.4 68.8h1.0M76.0 50.8h1.0M227.9 80.5h1.0M243.4 40.7h1.0M125.2 47.0h1.0M207.7 58.3h1.0M249.2 65.5h1.0M74.6 79.9h1.0M318.6 57.7h1.0M162.7 52.0h1.0M218.9 41.7h1.0M144.5 73.0h1.0M94.2 58.0h1.0M117.0 60.1h1.0M273.2 59.1h1.0M271.0 59.6h1.0M55.6 55.3h1.0M147.0 58.9h1.0M126.3 59.6h1.0M124.1 58.7h1.0M173.5 67.0h1.0M174.1 61.5h1.0M48.1 39.1h1.0M245.7 41.0h1.0M75.7 47.0h1.0M301.6 57.4h1.0M56.6 72.1h1.0M321.1 66.7h1.0M63.1 62.0h1.0M80.8 56.0h1.0M281.1 42.5h1.0M125.4 59.8h1.0M260.9 61.5h1.0M332.3 45.1h1.0M306.8 62.5h1.0M102.5 60.7h1.0M89.9 47.1h1.0M160.2 60.4h1.0M159.4 60.1h1.0M104.1 49.1h1.0M57.3 54.9h1.0M301.3 57.2h1.0M260.2 53.0h1.0M108.0 35.1h1.0M171.3 58.7h1.0M39.6 38.4h1.0M272.3 64.9h1.0M81.9 60.0h1.0M189.8 85.1h1.0M336.1 57.8h1.0M173.8 50.8h1.0M173.3 55.2h1.0M107.6 42.7h1.0M126.1 65.4h1.0M201.8 61.2h1.0M242.3 55.9h1.0M40.7 71.3h1.0M58.2 27.5h1.0M316.0 58.1h1.0M298.5 43.8h1.0M241.5 35.5h1.0M337.3 51.3h1.0M147.1 45.3h1.0M120.1 73.7h1.0M206.5 49.4h1.0M103.7 37.1h1.0M288.5 75.8h1.0M151.3 63.5h1.0M216.1 66.7h1.0M258.3 61.0h1.0M39.7 61.8h1.0M117.5 71.1h1.0M268.4 70.9h1.0M285.7 51.3h1.0M209.5 70.7h1.0M314.8 26.6h1.0M296.7 52.9h1.0M115.3 52.0h1.0M77.9 53.9h1.0M102.9 60.5h1.0M162.3 57.4h1.0M208.3 74.0h1.0M313.6 32.6h1.0M297.1 47.2h1.0M72.9 67.3h1.0M297.2 60.4h1.0M331.3 42.4h1.0M324.5 49.8h1.0M136.0 50.0h1.0M227.2 55.3h1.0M117.8 54.1h1.0M95.4 40.1h1.0M306.1 45.9h1.0M302.9 40.4h1.0M57.1 54.6h1.0M80.3 68.5h1.0M90.1 72.4h1.0M195.8 75.4h1.0M71.9 57.9h1.0M230.9 33.8h1.0M126.6 60.1h1.0M79.1 36.5h1.0M139.7 42.3h1.0M78.4 46.2h1.0M237.1 56.2h1.0M282.1 55.5h1.0M107.5 38.7h1.0M224.3 32.2h1.0M41.5 58.2h1.0M117.0 53.8h1.0M120.9 35.6h1.0M128.2 60.1h1.0M195.6 51.4h1.0M254.0 63.0h1.0M301.9 66.5h1.0M175.3 76.7h1.0M151.0 57.7h1.0M79.7 39.5h1.0M115.0 78.9h1.0M218.3 34.8h1.0M321.9 52.5h1.0M173.3 37.2h1.0M331.5 57.0h1.0M82.7 64.9h1.0M46.3 67.7h1.0M144.9 40.1h1.0M278.3 22.9h1.0M176.6 63.9h1.0M205.3 67.1h1.0M158.8 58.8h1.0M149.9 67.5h1.0M62.5 48.4h1.0M111.2 49.8h1.0M274.9 33.8h1.0M253.9 59.7h1.0M187.3 59.8h1.0M311.9 65.6h1.0M245.8 44.9h1.0M72.3 40.8h1.0M214.2 27.8h1.0M157.9 50.3h1.0M151.0 46.8h1.0M71.2 57.4h1.0M179.1 38.6h1.0M147.5 55.7h1.0M184.8 49.3h1.0M306.2 44.9h1.0M220.4 41.1h1.0M264.6 46.9h1.0M281.0 56.8h1.0M49.4 67.8h1.0M335.9 46.3h1.0M331.9 54.2h1.0M125.5 73.1h1.0M208.7 49.1h1.0M111.8 71.3h1.0M142.5 49.2h1.0M240.7 53.3h1.0M248.5 62.2h1.0M316.5 56.4h1.0M83.3 64.5h1.0M157.6 66.9h1.0M180.4 69.9h1.0M263.5 56.3h1.0M113.0 52.7h1.0M267.9 59.1h1.0M281.2 46.2h1.0M120.7 61.4h1.0M160.5 56.0h1.0M268.7 55.4h1.0M265.7 49.7h1.0M165.2 55.1h1.0M164.5 57.6h1.0M88.3 50.7h1.0M316.1 58.9h1.0M239.6 39.5h1.0M290.6 54.1h1.0M85.2 59.4h1.0M128.5 34.9h1.0M283.0 50.9h1.0M162.3 54.0h1.0M170.7 46.0h1.0M52.7 61.5h1.0M258.7 74.4h1.0M253.0 69.7h1.0M118.5 57.3h1.0M182.6 63.3h1.0M231.5 76.3h1.0M166.3 52.6h1.0M230.2 59.3h1.0M60.2 67.0h1.0M137.0 66.3h1.0M195.1 61.3h1.0M232.5 61.3h1.0M282.3 31.9h1.0M245.9 60.2h1.0M229.3 49.1h1.0M59.5 53.1h1.0M191.1 69.5h1.0M226.2 34.2h1.0M331.6 57.9h1.0M257.5 62.4h1.0M157.6 50.8h1.0M149.6 53.0h1.0M68.4 63.7h1.0M41.1 57.9h1.0M242.2 39.7h1.0M276.2 45.3h1.0M317.8 58.5h1.0M151.9 58.6h1.0M42.1 55.0h1.0M309.1 68.7h1.0M174.9 63.9h1.0M167.4 48.7h1.0M43.9 61.7h1.0M286.4 65.6h1.0M164.7 39.5h1.0M217.3 49.3h1.0M290.9 54.3h1.0M262.4 33.7h1.0M323.6 68.7h1.0M111.8 69.3h1.0M315.7 24.1h1.0M66.2 42.8h1.0M247.7 68.7h1.0M266.9 76.2h1.0M200.0 60.0h1.0M114.9 90.8h1.0M190.6 77.0h1.0M150.8 56.8h1.0M283.3 73.6h1.0M88.3 46.7h1.0M116.5 48.0h1.0M248.9 53.0h1.0M154.2 51.0h1.0M290.5 28.1h1.0M211.5 42.1h1.0M87.8 75.6h1.0M118.7 54.3h1.0M244.0 47.0h1.0M44.8 37.8h1.0M145.3 32.4h1.0M112.9 50.9h1.0M327.7 38.0h1.0M67.7 66.3h1.0M260.7 47.7h1.0M76.9 60.1h1.0M108.2 45.1h1.0M308.6 52.5h1.0M89.5 33.2h1.0M213.9 43.0h1.0M193.6 53.9h1.0M217.1 61.0h1.0M227.0 41.4h1.0M92.0 67.5h1.0M245.0 42.3h1.0M326.1 52.7h1.0M290.2 56.5h1.0M42.7 50.1h1.0M244.3 43.1h1.0M56.1 42.3h1.0M197.7 55.2h1.0M259.5 42.8h1.0M68.2 73.2h1.0M289.0 60.3h1.0M306.1 48.7h1.0M212.5 37.1h1.0M108.6 64.2h1.0M103.5 76.3h1.0M125.6 32.4h1.0M91.4 33.3h1.0M326.5 61.4h1.0M114.0 74.7h1.0M230.6 59.7h1.0M106.9 40.9h1.0M44.0 47.0h1.0M121.5 61.2h1.0M215.5 41.5h1.0M266.7 56.6h1.0M185.6 71.7h1.0M77.1 65.8h1.0M73.0 41.4h1.0M212.1 54.5h1.0M116.7 61.2h1.0M199.3 51.7h1.0M99.5 62.1h1.0M183.4 46.1h1.0M162.1 41.8h1.0M53.2 22.4h1.0M95.9 48.6h1.0M261.0 51.5h1.0M165.5 64.3h1.0M155.2 55.6h1.0M241.2 40.6h1.0M121.2 58.6h1.0M257.1 74.3h1.0M44.9 43.9h1.0M94.5 56.1h1.0M295.1 31.0h1.0M234.7 79.7h1.0M205.9 63.0h1.0M44.3 68.4h1.0M252.8 55.0h1.0M154.7 57.4h1.0M49.1 51.5h1.0M54.7 46.0h1.0M43.1 91.3h1.0M149.8 66.7h1.0M212.0 47.1h1.0M181.7 49.4h1.0M197.3 55.3h1.0M228.4 58.3h1.0M131.4 73.8h1.0M220.3 34.4h1.0M133.5 45.2h1.0M116.9 30.7h1.0M75.9 46.0h1.0M68.8 54.1h1.0M202.5 89.2h1.0M239.1 65.3h1.0M96.1 64.5h1.0M175.9 49.5h1.0M260.3 77.7h1.0M155.5 68.8h1.0M234.0 50.9h1.0M252.7 48.2h1.0M70.9 63.0h1.0M333.6 30.9h1.0M272.1 45.3h1.0M300.9 61.7h1.0M79.4 55.4h1.0M170.3 49.6h1.0M248.3 54.4h1.0M117.0 52.8h1.0M74.4 52.2h1.0M275.7 57.8h1.0M320.5 19.2h1.0M73.3 64.3h1.0M317.8 52.0h1.0M235.1 52.7h1.0M100.5 55.3h1.0M120.9 61.3h1.0M286.6 83.3h1.0M253.4 46.2h1.0M85.5 45.1h1.0M224.9 52.6h1.0M86.6 49.2h1.0M198.8 35.7h1.0M164.4 50.2h1.0M146.9 48.6h1.0M104.1 72.3h1.0M204.0 64.9h1.0M332.4 32.4h1.0M210.9 30.0h1.0M141.9 75.4h1.0M71.3 51.5h1.0M305.3 32.5h1.0M64.4 48.1h1.0M156.1 70.5h1.0M181.3 59.7h1.0M59.5 78.9h1.0M151.4 73.8h1.0M250.2 51.6h1.0M60.5 76.5h1.0M154.5 39.2h1.0M40.3 61.9h1.0M159.4 60.6h1.0M146.5 58.6h1.0M317.6 61.2h1.0M42.3 80.3h1.0M193.2 53.4h1.0M208.8 48.6h1.0M197.9 56.8h1.0M325.4 52.6h1.0M256.1 65.7h1.0M234.9 57.1h1.0M56.2 39.9h1.0M85.3 60.4h1.0M256.5 50.9h1.0M307.7 40.4h1.0M94.7 65.9h1.0M224.3 46.2h1.0M320.7 50.8h1.0M118.6 63.8h1.0M44.1 47.4h1.0M177.0 46.0h1.0M132.5 49.4h1.0M147.1 58.0h1.0M76.4 54.7h1.0M263.7 68.5h1.0M66.0 45.9h1.0M283.1 69.8h1.0M214.8 62.5h1.0M94.7 64.0h1.0M241.2 55.5h1.0M42.5 39.6h1.0M324.3 52.3h1.0M288.0 63.5h1.0M328.1 68.7h1.0M43.9 45.3h1.0M93.4 55.1h1.0M315.9 60.7h1.0M94.6 65.5h1.0M178.1 58.5h1.0M77.1 42.1h1.0M315.1 43.7h1.0M140.9 57.5h1.0M230.6 49.8h1.0M49.1 84.2h1.0M193.0 57.5h1.0M278.6 59.6h1.0M109.2 47.8h1.0M132.3 61.2h1.0M193.0 47.8h1.0M69.3 52.6h1.0M330.0 50.1h1.0M125.3 61.4h1.0M173.1 48.7h1.0M123.8 57.5h1.0M173.7 43.8h1.0M128.4 67.9h1.0M337.0 67.7h1.0M123.0 45.6h1.0M122.2 29.6h1.0M315.7 51.6h1.0M291.2 54.1h1.0M101.6 43.2h1.0M269.7 72.1h1.0M91.6 36.7h1.0M42.6 78.9h1.0M286.5 61.7h1.0M282.4 64.4h1.0M178.5 43.9h1.0M253.6 40.9h1.0M149.2 60.6h1.0M55.8 78.7h1.0M165.1 53.1h1.0M247.8 72.3h1.0M273.7 60.5h1.0M162.2 46.5h1.0M333.4 61.8h1.0M192.2 82.7h1.0M99.5 54.9h1.0M59.8 64.2h1.0M43.8 61.0h1.0M228.5 72.8h1.0M81.3 52.1h1.0M193.1 67.8h1.0M146.5 65.2h1.0M198.1 37.2h1.0M303.5 55.6h1.0M277.1 50.8h1.0M109.6 51.0h1.0M163.7 67.5h1.0M227.4 59.1h1.0M208.3 55.7h1.0M151.3 66.9h1.0M141.6 41.3h1.0M253.3 64.9h1.0M222.2 48.7h1.0M57.3 61.2h1.0M42.0 75.4h1.0M217.2 59.2h1.0M132.4 46.3h1.0M136.3 38.8h1.0M264.6 48.3h1.0M327.1 47.3h1.0M178.0 43.5h1.0M288.3 42.7h1.0M318.7 47.9h1.0M249.7 46.9h1.0M328.5 53.0h1.0M115.7 51.1h1.0M324.6 71.9h1.0M192.7 67.2h1.0M129.0 51.6h1.0M48.7 58.0h1.0M121.4 58.0h1.0M291.7 47.3h1.0M111.7 45.0h1.0M79.5 45.9h1.0M65.2 42.2h1.0M60.6 67.8h1.0M48.7 43.2h1.0M270.1 49.9h1.0M93.9 55.9h1.0M118.3 60.8h1.0M339.8 72.3h1.0M163.7 51.3h1.0M189.8 69.1h1.0M160.9 71.8h1.0M176.4 70.6h1.0M250.7 53.9h1.0M114.2 42.8h1.0M333.7 61.1h1.0M137.9 39.4h1.0M82.4 71.3h1.0M144.4 64.4h1.0M200.3 41.1h1.0M299.0 66.1h1.0M179.3 44.6h1.0M306.9 50.5h1.0M110.0 69.5h1.0M324.4 41.0h1.0M150.3 32.3h1.0M159.3 41.2h1.0M242.1 58.9h1.0M320.4 56.9h1.0M297.4 45.6h1.0M197.2 31.7h1.0M65.1 50.1h1.0M265.9 42.8h1.0M304.5 63.1h1.0M164.6 32.5h1.0M61.3 63.1h1.0M245.9 51.8h1.0M122.8 57.2h1.0M49.4 59.8h1.0M258.8 60.2h1.0M222.9 41.8h1.0M174.6 63.5h1.0M219.2 40.2h1.0M103.3 63.5h1.0M251.3 55.2h1.0M145.0 49.1h1.0M98.0 54.9h1.0M309.3 58.0h1.0M119.6 56.7h1.0M264.4 65.7h1.0M161.8 58.0h1.0M297.9 53.1h1.0M269.8 83.2h1.0M68.1 47.0h1.0M254.8 43.0h1.0M319.1 61.8h1.0M306.4 69.3h1.0M155.1 80.2h1.0M297.4 69.2h1.0M67.7 72.0h1.0M314.0 48.2h1.0M338.2 66.8h1.0M147.8 43.4h1.0M253.5 60.1h1.0M131.4 39.1h1.0M268.9 59.7h1.0M64.1 62.0h1.0M115.2 61.9h1.0M278.2 53.4h1.0M214.3 49.0h1.0M44.7 69.3h1.0M314.0 73.3h1.0M322.7 52.5h1.0M146.2 34.5h1.0M95.9 56.7h1.0M292.0 78.1h1.0M90.0 53.4h1.0M215.0 51.6h1.0M294.3 65.8h1.0M72.1 71.4h1.0M298.6 46.2h1.0M132.8 34.9h1.0M285.5 52.0h1.0M107.8 39.9h1.0M174.3 61.7h1.0M217.0 40.4h1.0M240.2 71.9h1.0M198.5 51.3h1.0M226.3 52.5h1.0M117.5 66.1h1.0M107.7 63.4h1.0M315.6 64.7h1.0M53.6 63.4h1.0M339.2 48.7h1.0M270.6 79.1h1.0M249.8 40.2h1.0M159.9 49.9h1.0M202.2 44.7h1.0M138.2 44.6h1.0M318.7 69.0h1.0M54.5 71.7h1.0M333.9 71.3h1.0M301.0 60.5h1.0M207.1 36.4h1.0M282.0 37.7h1.0M69.3 43.5h1.0M201.1 46.2h1.0M244.7 60.2h1.0M262.0 60.4h1.0M261.5 54.4h1.0M237.9 37.0h1.0M121.4 63.3h1.0M99.8 55.7h1.0M223.6 35.3h1.0M51.5 60.1h1.0M46.5 46.0h1.0M82.8 78.4h1.0M90.0 39.6h1.0M134.0 69.8h1.0M155.9 51.3h1.0M197.4 30.6h1.0M157.0 38.5h1.0M216.2 38.8h1.0M335.6 51.3h1.0M148.0 69.0h1.0M205.3 60.2h1.0M327.9 73.6h1.0M164.0 64.0h1.0M149.7 70.4h1.0M215.8 57.2h1.0M324.9 62.6h1.0M89.4 63.4h1.0M184.5 52.8h1.0M157.3 57.5h1.0M195.1 59.9h1.0M123.1 52.6h1.0M255.1 44.8h1.0M323.5 51.9h1.0M334.1 50.7h1.0M94.6 67.0h1.0M238.7 47.2h1.0M173.4 45.7h1.0M309.3 58.1h1.0M46.4 49.5h1.0M151.9 49.2h1.0M307.1 58.2h1.0M147.6 62.4h1.0M147.0 56.3h1.0M286.4 68.0h1.0M201.7 75.5h1.0M187.9 83.9h1.0M115.2 52.2h1.0M272.1 40.6h1.0M181.8 41.8h1.0M215.5 56.1h1.0M128.1 61.7h1.0M121.4 48.7h1.0M243.1 53.9h1.0M255.1 61.2h1.0M148.1 58.5h1.0M194.5 45.2h1.0M257.4 35.3h1.0M87.0 84.4h1.0M198.0 52.3h1.0M134.2 70.8h1.0M128.9 52.4h1.0M125.5 57.9h1.0M290.7 47.3h1.0M76.3 60.2h1.0M270.4 64.3h1.0M61.3 57.1h1.0M222.7 65.0h1.0M240.8 57.3h1.0M101.6 30.8h1.0M191.5 78.2h1.0M273.1 64.7h1.0M307.8 45.3h1.0M200.3 65.7h1.0M63.3 40.7h1.0M75.7 52.2h1.0M44.4 59.5h1.0M305.5 26.1h1.0M260.9 60.8h1.0M294.2 54.7h1.0M130.3 64.7h1.0M170.9 48.7h1.0M105.7 53.6h1.0M336.7 53.8h1.0M224.9 54.6h1.0M282.6 43.3h1.0M122.9 69.7h1.0M281.6 38.9h1.0M166.3 50.1h1.0M46.4 58.3h1.0M195.5 56.7h1.0M101.3 65.6h1.0M131.3 48.7h1.0M207.9 46.8h1.0M258.3 60.0h1.0M72.1 76.4h1.0M141.4 52.9h1.0M224.5 67.6h1.0M113.3 47.7h1.0M100.5 54.0h1.0M62.3 55.3h1.0M324.6 63.2h1.0M234.9 64.8h1.0M62.7 45.6h1.0M133.6 47.8h1.0M173.3 52.7h1.0M121.9 60.7h1.0M329.8 54.7h1.0M202.8 75.7h1.0M41.5 79.2h1.0M174.3 50.0h1.0M115.5 44.4h1.0M69.7 67.7h1.0M176.0 37.9h1.0M275.3 71.5h1.0M259.6 54.0h1.0M201.8 63.9h1.0M323.2 59.5h1.0M254.5 34.8h1.0M305.4 66.8h1.0M174.7 59.4h1.0M69.5 27.2h1.0M229.5 33.5h1.0M292.2 57.1h1.0M252.0 56.9h1.0M148.1 53.9h1.0M83.6 55.8h1.0M310.6 42.9h1.0M236.5 48.7h1.0M64.1 81.5h1.0M255.1 27.1h1.0M309.8 23.1h1.0M103.7 69.9h1.0M187.5 76.2h1.0M111.6 74.1h1.0M251.3 64.2h1.0M253.1 67.6h1.0M130.5 61.6h1.0M121.9 38.8h1.0M193.5 58.9h1.0M334.1 65.9h1.0M228.1 57.4h1.0M247.8 64.4h1.0M46.7 73.5h1.0M184.2 54.5h1.0M42.6 49.0h1.0M68.7 54.7h1.0M148.8 63.5h1.0M158.2 72.8h1.0M74.2 52.0h1.0M178.6 65.8h1.0M266.0 35.9h1.0M183.7 63.7h1.0M142.1 66.8h1.0M100.7 57.0h1.0M50.3 55.4h1.0M283.5 57.4h1.0M275.5 36.8h1.0M140.1 78.6h1.0M82.9 58.2h1.0M315.8 53.4h1.0M91.9 55.8h1.0M337.8 60.6h1.0M207.9 45.0h1.0M86.4 40.7h1.0M219.3 67.6h1.0M294.3 48.5h1.0M158.8 50.6h1.0M249.1 16.5h1.0M267.6 66.2h1.0M94.3 65.8h1.0M95.4 63.0h1.0M88.5 65.3h1.0M325.7 34.0h1.0M323.0 75.8h1.0M101.0 62.9h1.0M281.9 50.6h1.0M278.4 65.1h1.0M53.0 58.9h1.0M298.8 60.3h1.0M52.2 49.4h1.0M74.1 58.6h1.0M264.9 51.7h1.0M101.4 62.2h1.0M270.2 53.1h1.0M122.5 60.0h1.0M277.3 55.6h1.0M271.4 63.3h1.0M234.9 66.0h1.0M224.2 61.4h1.0M153.8 69.0h1.0M249.7 56.9h1.0M121.2 91.1h1.0M245.6 70.6h1.0M261.8 71.1h1.0M241.4 27.5h1.0M125.0 51.5h1.0M280.3 57.2h1.0M156.9 62.6h1.0M158.5 61.2h1.0M312.4 62.5h1.0M84.7 43.9h1.0M65.9 80.5h1.0M105.1 60.3h1.0M178.3 64.1h1.0M324.1 57.6h1.0M302.3 57.6h1.0M303.6 56.4h1.0M268.0 76.3h1.0M195.1 64.5h1.0M272.3 62.7h1.0M97.2 71.3h1.0M235.5 40.7h1.0M179.7 45.9h1.0M170.0 43.5h1.0M227.1 61.6h1.0M162.0 36.5h1.0M51.9 51.8h1.0M317.4 55.1h1.0M166.6 48.0h1.0M236.0 34.6h1.0M62.8 75.6h1.0M86.4 38.7h1.0M165.5 47.2h1.0M136.5 68.0h1.0M181.8 48.7h1.0M285.8 48.5h1.0M235.0 43.9h1.0M39.9 46.2h1.0M72.1 57.3h1.0M265.6 68.9h1.0M286.9 53.6h1.0M109.6 57.0h1.0M243.2 31.8h1.0M247.2 57.2h1.0M217.5 64.4h1.0M315.0 66.9h1.0M174.5 34.0h1.0M91.2 43.2h1.0M160.4 34.3h1.0M236.5 52.6h1.0M272.8 69.2h1.0M154.7 35.5h1.0M130.7 59.1h1.0M191.6 62.7h1.0M50.2 66.8h1.0M219.4 46.7h1.0M326.4 32.1h1.0M128.0 46.9h1.0M273.4 50.6h1.0M288.9 47.4h1.0M159.1 43.6h1.0M332.4 59.8h1.0M47.1 49.4h1.0M79.8 60.7h1.0M79.7 56.9h1.0M291.4 69.7h1.0M164.0 75.3h1.0M191.8 93.0h1.0M264.1 49.2h1.0M164.5 62.0h1.0M173.0 52.2h1.0M51.6 60.1h1.0M210.9 61.7h1.0M196.4 56.5h1.0M159.5 53.0h1.0M56.8 64.6h1.0M269.7 49.5h1.0M216.1 46.9h1.0M201.9 41.7h1.0M46.4 39.5h1.0M123.4 63.4h1.0M277.1 67.3h1.0M286.1 71.5h1.0M52.0 51.1h1.0M339.7 46.7h1.0M210.2 49.6h1.0M156.9 69.4h1.0M98.9 55.5h1.0M114.6 72.5h1.0M283.3 65.1h1.0M210.3 57.1h1.0M210.5 33.7h1.0M87.7 43.6h1.0M301.8 72.7h1.0M144.8 69.7h1.0M157.0 63.0h1.0M227.8 70.8h1.0M111.3 56.7h1.0M121.6 55.0h1.0M143.8 43.2h1.0M43.7 63.5h1.0M174.9 65.2h1.0M184.1 41.4h1.0M298.8 39.9h1.0M100.4 59.0h1.0M294.8 46.5h1.0M250.5 73.6h1.0M115.2 55.9h1.0M246.9 41.7h1.0M268.3 48.7h1.0M62.2 45.8h1.0M140.6 45.7h1.0M76.9 62.5h1.0M197.0 45.4h1.0M134.0 26.8h1.0M259.9 61.2h1.0M276.5 57.5h1.0M281.9 29.0h1.0M50.7 68.3h1.0M185.6 61.5h1.0M315.3 75.7h1.0M148.8 56.3h1.0M201.9 47.2h1.0M63.6 62.3h1.0M75.4 67.6h1.0M231.3 39.9h1.0M284.0 60.2h1.0M212.7 67.0h1.0M62.9 50.9h1.0M247.9 41.8h1.0M47.9 47.3h1.0M275.4 66.6h1.0M46.2 66.0h1.0M135.7 58.2h1.0M226.7 76.7h1.0M323.7 63.1h1.0M169.2 67.1h1.0M183.5 64.2h1.0M295.0 58.7h1.0M242.8 54.8h1.0M320.9 63.7h1.0M308.8 50.4h1.0M224.9 55.1h1.0M296.0 24.3h1.0M144.2 40.9h1.0M40.0 38.7h1.0M194.3 91.3h1.0M336.3 31.0h1.0M125.7 57.4h1.0M197.7 66.0h1.0M292.9 50.5h1.0M294.0 50.2h1.0M300.3 57.3h1.0M283.1 30.8h1.0M217.6 52.0h1.0M48.8 69.9h1.0M73.9 64.1h1.0M216.6 54.8h1.0M130.3 54.3h1.0M199.2 66.8h1.0M206.4 44.7h1.0M234.9 58.1h1.0M319.7 68.2h1.0M301.8 40.5h1.0M57.1 52.4h1.0M164.3 64.1h1.0M198.3 79.6h1.0M320.4 42.1h1.0M151.1 66.4h1.0M81.3 76.6h1.0M150.7 62.8h1.0M115.8 55.5h1.0M207.0 54.7h1.0M192.3 56.3h1.0M287.6 71.4h1.0M129.5 37.7h1.0M260.1 53.3h1.0M292.7 49.3h1.0M117.1 59.3h1.0M200.3 49.1h1.0M156.6 82.6h1.0M243.4 32.8h1.0M195.8 38.8h1.0M334.6 53.6h1.0M323.3 37.3h1.0M145.5 62.1h1.0M141.8 62.0h1.0M157.0 63.6h1.0M265.6 30.1h1.0M243.1 45.2h1.0M207.5 48.3h1.0M98.5 56.1h1.0M107.9 54.2h1.0M200.6 62.8h1.0M246.1 47.9h1.0M333.4 77.7h1.0M115.8 57.7h1.0M93.6 59.8h1.0M303.3 26.1h1.0M302.9 43.2h1.0M186.2 79.2h1.0M292.4 41.6h1.0M315.7 47.2h1.0M286.1 40.3h1.0M204.1 51.7h1.0M180.4 63.3h1.0M306.1 54.6h1.0M236.1 68.4h1.0M276.3 43.3h1.0M132.5 61.5h1.0M161.4 56.3h1.0M180.9 57.8h1.0M339.0 37.1h1.0M126.6 54.2h1.0M208.8 57.3h1.0M308.9 35.7h1.0M320.2 75.5h1.0M244.6 54.0h1.0M242.8 38.8h1.0M172.4 68.3h1.0M197.8 41.0h1.0M261.6 58.5h1.0M271.5 34.6h1.0M302.9 67.9h1.0M40.7 58.7h1.0M115.0 53.3h1.0M138.3 44.3h1.0M181.1 40.5h1.0M211.4 71.5h1.0M226.0 51.2h1.0M74.0 79.5h1.0M91.2 42.1h1.0M234.3 54.4h1.0M241.8 40.8h1.0M71.1 63.1h1.0M125.4 30.6h1.0M337.1 63.6h1.0M304.3 38.7h1.0M311.0 59.1h1.0M129.5 55.6h1.0M167.3 53.1h1.0M204.4 53.5h1.0M316.1 74.5h1.0M118.6 41.3h1.0M105.7 45.3h1.0M277.3 67.4h1.0M143.6 61.9h1.0M84.4 70.2h1.0M130.8 58.3h1.0M43.4 48.7h1.0M313.0 53.4h1.0M172.5 59.8h1.0M300.5 63.3h1.0M289.0 57.2h1.0M127.5 44.8h1.0M194.1 66.4h1.0M72.5 73.8h1.0M208.5 44.9h1.0M163.6 71.0h1.0M301.5 37.3h1.0M302.5 43.2h1.0M300.4 35.9h1.0M169.5 65.9h1.0M228.3 49.0h1.0M77.5 52.2h1.0M292.4 70.1h1.0M55.6 59.6h1.0M144.4 37.7h1.0M326.4 41.6h1.0M290.7 33.7h1.0M310.1 63.7h1.0M94.5 52.7h1.0M42.9 33.2h1.0M88.3 53.5h1.0M237.3 66.6h1.0M263.7 65.4h1.0M229.3 81.3h1.0M123.8 45.9h1.0M240.7 65.0h1.0M197.3 66.3h1.0M317.1 58.7h1.0M212.5 37.9h1.0M223.4 44.5h1.0M148.4 57.1h1.0M209.2 44.3h1.0M44.2 78.5h1.0M214.9 65.6h1.0M197.5 44.7h1.0M212.0 40.8h1.0M194.3 77.8h1.0M184.4 70.0h1.0M242.4 51.1h1.0M119.4 64.8h1.0M234.4 56.9h1.0M109.8 56.9h1.0M245.7 57.9h1.0M111.6 38.1h1.0M187.8 61.8h1.0M208.5 59.1h1.0M93.7 55.0h1.0M129.3 73.0h1.0M248.7 38.6h1.0M126.4 60.2h1.0M316.9 84.4h1.0M222.4 61.9h1.0M293.3 65.2h1.0M39.7 50.3h1.0M192.8 66.9h1.0M290.6 60.9h1.0M242.3 37.2h1.0M57.8 40.6h1.0M257.5 38.4h1.0M93.9 39.4h1.0M79.3 67.8h1.0M259.0 64.6h1.0M281.9 67.6h1.0M96.9 57.6h1.0M51.3 58.8h1.0M137.1 40.6h1.0M257.8 53.1h1.0M168.0 70.5h1.0M161.3 46.7h1.0M284.6 34.0h1.0M155.6 61.4h1.0M247.0 40.8h1.0M160.9 63.3h1.0M272.5 50.5h1.0M149.9 46.5h1.0M122.5 47.0h1.0M216.3 48.7h1.0M243.1 61.5h1.0M246.4 61.7h1.0M139.1 65.3h1.0M320.8 57.9h1.0M297.7 54.7h1.0M88.5 61.0h1.0M75.8 49.4h1.0M152.9 45.1h1.0M232.2 51.5h1.0M161.4 48.4h1.0M339.9 33.5h1.0M188.4 55.5h1.0M246.4 59.8h1.0M93.9 53.5h1.0M210.8 49.3h1.0M170.3 57.1h1.0M259.4 58.4h1.0M152.7 78.8h1.0M169.7 62.5h1.0M153.4 54.9h1.0M260.4 58.5h1.0M247.4 57.3h1.0M123.5 32.0h1.0M254.3 75.0h1.0M183.1 41.7h1.0M215.5 62.6h1.0M110.5 48.7h1.0M107.5 44.8h1.0M78.6 68.7h1.0M77.8 44.0h1.0M337.6 43.5h1.0M273.3 24.6h1.0M318.4 65.8h1.0M249.5 47.9h1.0M269.0 34.1h1.0M99.8 64.8h1.0M99.2 51.8h1.0M100.1 22.5h1.0M210.6 60.7h1.0M211.3 40.7h1.0M83.8 43.7h1.0M141.7 43.1h1.0M279.4 33.2h1.0M204.4 45.7h1.0M163.3 51.8h1.0M323.3 71.2h1.0M242.3 68.8h1.0M313.0 46.1h1.0M41.8 74.9h1.0M269.0 51.5h1.0M168.7 70.2h1.0M180.3 57.5h1.0M49.6 55.1h1.0M201.4 26.0h1.0M298.1 68.3h1.0M250.4 35.6h1.0M206.2 61.5h1.0M112.9 15.8h1.0M188.6 46.3h1.0M289.5 34.7h1.0M144.0 22.8h1.0M146.6 40.3h1.0M120.6 57.1h1.0M207.7 59.8h1.0M87.0 64.1h1.0M270.2 67.2h1.0M297.1 62.1h1.0M192.4 75.9h1.0M66.8 55.2h1.0M334.9 70.0h1.0M186.8 68.5h1.0M255.5 43.9h1.0M68.0 69.5h1.0M271.9 51.1h1.0M142.8 47.8h1.0M88.7 68.0h1.0M80.4 55.8h1.0M166.2 55.6h1.0M158.3 54.6h1.0M178.0 72.1h1.0M317.9 58.3h1.0M330.7 56.5h1.0M283.2 57.5h1.0M155.3 48.1h1.0M248.5 52.4h1.0M188.4 92.9h1.0M175.4 55.6h1.0M83.4 70.0h1.0M127.5 47.7h1.0M158.1 45.7h1.0M80.5 55.9h1.0M212.0 67.5h1.0M226.1 50.0h1.0M129.2 51.0h1.0M314.3 37.7h1.0M45.3 65.1h1.0M184.8 68.7h1.0M336.6 56.8h1.0M228.6 68.6h1.0M205.2 62.6h1.0M334.0 52.6h1.0M153.8 34.8h1.0M269.3 52.7h1.0M100.6 43.3h1.0M138.8 58.8h1.0M175.3 65.5h1.0M44.9 50.0h1.0M117.9 34.0h1.0M125.2 68.0h1.0M201.7 64.1h1.0M204.5 65.3h1.0M175.3 39.2h1.0M176.7 49.8h1.0M249.4 64.6h1.0M266.3 66.9h1.0M328.3 64.9h1.0M168.4 30.0h1.0M77.9 74.4h1.0M100.7 46.5h1.0M114.9 46.6h1.0M48.8 64.0h1.0M86.8 49.1h1.0M217.7 48.3h1.0M337.9 55.8h1.0M86.5 53.1h1.0M224.4 54.3h1.0M140.2 49.5h1.0M261.4 42.2h1.0M63.9 48.4h1.0M140.8 50.8h1.0M261.2 50.4h1.0M210.6 60.6h1.0M227.8 75.9h1.0M105.8 39.7h1.0M49.7 56.1h1.0M211.6 58.7h1.0M255.4 41.8h1.0M233.0 48.9h1.0M109.5 49.8h1.0M300.0 50.3h1.0M100.5 49.6h1.0M158.5 71.1h1.0M77.7 37.8h1.0M81.5 60.9h1.0M262.7 71.2h1.0M109.1 60.9h1.0M208.1 37.9h1.0M172.8 36.8h1.0M322.7 49.7h1.0M255.2 45.7h1.0M143.1 35.1h1.0M91.8 68.8h1.0M73.3 43.2h1.0M62.3 64.0h1.0M143.4 70.2h1.0M293.5 71.6h1.0M50.4 78.3h1.0M66.7 67.4h1.0M148.2 57.1h1.0M179.2 24.3h1.0M283.2 52.3h1.0M337.8 49.8h1.0M224.2 91.5h1.0M99.5 63.9h1.0M215.7 55.3h1.0M203.0 39.2h1.0M171.6 40.8h1.0M199.1 50.7h1.0M176.2 57.8h1.0M99.6 75.7h1.0M214.3 60.1h1.0M148.9 55.9h1.0M226.1 65.2h1.0M296.7 41.8h1.0M298.2 47.3h1.0M181.1 40.5h1.0M237.8 56.5h1.0M113.0 60.9h1.0M164.6 50.3h1.0M180.7 34.3h1.0M332.3 55.6h1.0M339.5 40.7h1.0M326.6 60.3h1.0M122.1 27.9h1.0M228.7 77.1h1.0M245.5 42.4h1.0M287.8 74.8h1.0M336.0 62.3h1.0M156.0 70.9h1.0M187.1 82.0h1.0M213.0 45.9h1.0M290.6 47.3h1.0M267.0 45.0h1.0M150.5 42.0h1.0M176.0 68.2h1.0M196.0 48.7h1.0M209.1 48.8h1.0M127.6 31.4h1.0M338.1 57.2h1.0M285.5 35.7h1.0M325.1 82.0h1.0M225.8 52.5h1.0M99.6 51.4h1.0M67.7 58.4h1.0M134.4 44.2h1.0M76.4 48.2h1.0M241.3 53.6h1.0M248.2 55.9h1.0M297.2 61.0h1.0M196.5 55.3h1.0M199.4 49.1h1.0M256.3 43.6h1.0M170.1 49.3h1.0M155.5 52.2h1.0M255.5 78.0h1.0M327.7 49.1h1.0M323.5 33.4h1.0M144.4 53.2h1.0M69.0 54.9h1.0M284.9 70.3h1.0M123.4 45.2h1.0M54.3 60.5h1.0M322.6 58.1h1.0M197.0 55.6h1.0M152.5 55.1h1.0M134.2 55.9h1.0M131.6 38.5h1.0M263.5 46.4h1.0M130.8 56.2h1.0M170.0 85.2h1.0M192.8 80.3h1.0M117.3 56.9h1.0M323.2 56.9h1.0M137.8 57.3h1.0M206.0 60.0h1.0M49.7 64.4h1.0M294.9 35.6h1.0M165.1 49.9h1.0M151.6 80.1h1.0M71.8 63.8h1.0M145.3 51.3h1.0M173.0 47.0h1.0M222.8 54.7h1.0M114.1 38.1h1.0M127.3 45.6h1.0M281.0 63.6h1.0M146.1 64.4h1.0M262.6 57.7h1.0M230.8 56.1h1.0M277.2 50.9h1.0M43.4 39.5h1.0M151.6 43.3h1.0M210.0 47.6h1.0M302.5 52.8h1.0M59.0 41.7h1.0M311.1 42.5h1.0M241.5 69.6h1.0M264.0 51.3h1.0M40.4 65.0h1.0M301.3 53.9h1.0M203.3 44.6h1.0M125.8 50.2h1.0M125.8 38.6h1.0M301.5 64.5h1.0M57.7 63.9h1.0M166.3 63.4h1.0M260.9 57.2h1.0M61.4 49.4h1.0M95.0 45.0h1.0M172.7 63.3h1.0M329.4 52.3h1.0M274.7 49.0h1.0M100.4 45.2h1.0M81.1 54.6h1.0M261.8 47.3h1.0M264.5 54.4h1.0M335.9 70.9h1.0M326.7 65.5h1.0M194.2 61.6h1.0M74.9 58.5h1.0M158.1 51.9h1.0M55.9 41.8h1.0M212.7 36.0h1.0M268.2 61.0h1.0M143.8 76.9h1.0M75.4 61.7h1.0M83.3 71.1h1.0M258.1 78.1h1.0M140.8 72.9h1.0M183.2 44.6h1.0M169.3 58.3h1.0M213.4 50.1h1.0M191.3 50.6h1.0M158.7 65.8h1.0M193.7 63.1h1.0M286.3 69.8h1.0M138.4 47.5h1.0M40.4 54.4h1.0M335.5 49.0h1.0M184.2 53.8h1.0M257.4 65.2h1.0M100.9 57.4h1.0M64.2 60.2h1.0M251.6 52.4h1.0M206.6 61.7h1.0M170.8 42.5h1.0M270.5 57.1h1.0M159.4 60.4h1.0M64.5 47.9h1.0M258.1 56.1h1.0M98.0 24.7h1.0M156.4 51.3h1.0M213.4 61.4h1.0M86.3 55.5h1.0M136.8 34.0h1.0M83.9 60.3h1.0M73.7 46.5h1.0M246.5 54.8h1.0M126.7 28.2h1.0M318.0 74.4h1.0M68.2 74.3h1.0M277.7 54.1h1.0M87.4 35.2h1.0M97.2 58.5h1.0M260.8 78.8h1.0M78.9 68.7h1.0M248.5 82.4h1.0M259.8 37.3h1.0M297.4 70.3h1.0M304.4 50.0h1.0M212.5 49.8h1.0M251.0 63.2h1.0M142.8 57.3h1.0M123.4 41.2h1.0M269.2 29.3h1.0M59.4 49.8h1.0M291.9 45.0h1.0M89.5 44.0h1.0M113.1 71.3h1.0M113.5 47.6h1.0M49.2 71.7h1.0M110.5 64.3h1.0M332.2 72.7h1.0M165.9 60.0h1.0M316.0 65.7h1.0M301.4 52.0h1.0M75.3 42.1h1.0M205.4 74.4h1.0M185.7 90.2h1.0M63.2 61.9h1.0M258.4 81.1h1.0M137.1 33.9h1.0M236.2 54.4h1.0M264.9 47.6h1.0M255.9 62.3h1.0M244.3 41.2h1.0M132.5 60.9h1.0M230.3 63.6h1.0M255.5 73.4h1.0M190.5 74.2h1.0M240.0 81.7h1.0M306.2 43.2h1.0M104.6 61.6h1.0M80.2 77.0h1.0M171.5 38.8h1.0M298.3 53.1h1.0M138.5 57.3h1.0M338.9 70.8h1.0M130.9 65.2h1.0M327.5 42.3h1.0M305.0 48.5h1.0M228.4 48.9h1.0M277.5 67.1h1.0M100.9 74.0h1.0M67.2 55.7h1.0M41.2 43.0h1.0M78.6 39.2h1.0M218.0 62.8h1.0M50.6 69.8h1.0M65.8 49.5h1.0M223.7 41.0h1.0M246.6 42.2h1.0M100.0 56.6h1.0M291.8 32.9h1.0M77.5 46.0h1.0M255.8 53.7h1.0M109.3 32.6h1.0M311.6 58.3h1.0M289.1 43.2h1.0M316.7 73.6h1.0M176.7 29.6h1.0M303.0 66.7h1.0M269.4 36.0h1.0M329.7 55.4h1.0M195.3 75.0h1.0M285.4 45.4h1.0M77.0 57.0h1.0M82.9 54.2h1.0M57.3 52.0h1.0M79.8 69.2h1.0M103.9 40.9h1.0M226.2 63.6h1.0M220.8 74.9h1.0M313.6 64.1h1.0M77.0 43.9h1.0M269.4 59.4h1.0M188.4 79.0h1.0M221.8 64.2h1.0M76.3 31.8h1.0M68.3 29.7h1.0M205.4 72.4h1.0M326.2 62.7h1.0M199.4 58.1h1.0M216.9 52.0h1.0M235.8 64.7h1.0M108.2 72.4h1.0M292.6 64.0h1.0M106.5 46.3h1.0M164.4 58.0h1.0M168.4 79.0h1.0M306.2 54.4h1.0M287.2 44.5h1.0M185.4 78.6h1.0M58.9 49.1h1.0M71.7 56.3h1.0M67.0 76.4h1.0M272.9 69.5h1.0M243.7 43.7h1.0M130.9 66.3h1.0M96.9 69.4h1.0M321.5 73.2h1.0M320.3 56.0h1.0M66.8 57.6h1.0M233.9 78.1h1.0M305.4 35.7h1.0M221.3 44.2h1.0M303.6 44.9h1.0M49.5 65.5h1.0M198.4 65.3h1.0M124.4 57.3h1.0M287.2 79.1h1.0M190.1 65.3h1.0M264.3 46.4h1.0M193.3 68.2h1.0M225.2 32.9h1.0M236.9 39.5h1.0M264.5 58.2h1.0M115.1 52.9h1.0M238.7 46.5h1.0M120.8 68.4h1.0M70.7 62.0h1.0M178.6 56.2h1.0M233.0 55.8h1.0M285.7 68.7h1.0M232.7 83.7h1.0M136.6 37.5h1.0M112.7 53.6h1.0M243.7 49.1h1.0M132.6 60.1h1.0M322.8 41.3h1.0M208.0 52.4h1.0M218.9 74.6h1.0M284.4 52.4h1.0M336.9 42.7h1.0M195.4 73.3h1.0M80.9 64.2h1.0M190.7 59.2h1.0M335.9 71.2h1.0M304.9 56.8h1.0M289.6 71.0h1.0M95.2 64.5h1.0M113.4 55.4h1.0M329.7 51.1h1.0M170.0 64.8h1.0M244.8 44.9h1.0M173.4 38.8h1.0M183.9 76.1h1.0M281.7 40.4h1.0M209.0 49.7h1.0M118.4 50.0h1.0M209.4 54.6h1.0M214.1 39.5h1.0M185.4 54.1h1.0M80.4 63.0h1.0M312.5 61.6h1.0M152.8 32.6h1.0M143.5 65.2h1.0M64.3 69.3h1.0M269.4 53.0h1.0M220.9 39.4h1.0M283.4 73.8h1.0M289.0 85.9h1.0M236.8 48.6h1.0M78.7 32.1h1.0M182.4 81.8h1.0M268.6 60.1h1.0M158.9 61.7h1.0M185.7 73.3h1.0M77.7 45.4h1.0M126.3 51.2h1.0M197.6 49.5h1.0M284.3 58.6h1.0M60.1 50.2h1.0M55.3 53.6h1.0M265.8 71.0h1.0M147.9 40.2h1.0M163.2 56.2h1.0M59.3 57.7h1.0M194.8 51.3h1.0M281.9 60.7h1.0M264.4 53.5h1.0M70.9 75.2h1.0M318.7 70.6h1.0M240.8 57.3h1.0M153.6 49.4h1.0M199.5 55.8h1.0M236.3 71.5h1.0M290.9 59.5h1.0M238.3 53.0h1.0M44.7 49.8h1.0M76.3 32.3h1.0M93.0 67.5h1.0M337.4 47.6h1.0M195.6 67.4h1.0M260.7 59.6h1.0M172.0 46.2h1.0M152.5 51.3h1.0M292.2 58.9h1.0M293.3 72.9h1.0M284.5 53.6h1.0M291.3 52.7h1.0M107.9 54.5h1.0M270.6 50.2h1.0M290.8 74.7h1.0M151.9 41.3h1.0M96.8 53.6h1.0M103.7 55.0h1.0M110.0 65.1h1.0M181.7 61.2h1.0M338.8 46.8h1.0M210.0 50.2h1.0M271.4 40.3h1.0M174.4 53.2h1.0M212.1 53.0h1.0M335.2 37.0h1.0M205.8 57.2h1.0M166.8 82.7h1.0M79.5 58.5h1.0M117.1 48.9h1.0M279.8 47.6h1.0M337.5 70.2h1.0M100.2 54.2h1.0M159.8 46.8h1.0M198.0 36.1h1.0M205.4 66.2h1.0M319.9 27.0h1.0M53.0 58.4h1.0M282.4 45.0h1.0M50.4 68.0h1.0M167.6 53.2h1.0M339.9 42.6h1.0M245.5 38.2h1.0M206.3 64.5h1.0M100.1 63.5h1.0M172.9 26.1h1.0M301.9 42.2h1.0M81.9 42.8h1.0M179.0 48.5h1.0M290.5 55.5h1.0M149.7 51.6h1.0M156.4 61.8h1.0M226.3 48.3h1.0M303.6 35.8h1.0M265.2 40.2h1.0M64.7 45.0h1.0M314.2 34.6h1.0M168.0 60.4h1.0M92.9 52.8h1.0M329.2 33.5h1.0M213.1 43.7h1.0M197.9 48.0h1.0M230.5 83.3h1.0M92.1 61.9h1.0M150.5 50.0h1.0M164.3 59.2h1.0M248.7 66.5h1.0M68.4 40.5h1.0M69.2 92.1h1.0M157.0 43.4h1.0M119.2 64.0h1.0M111.8 75.0h1.0M209.4 55.9h1.0M291.9 62.8h1.0M50.2 42.4h1.0M123.8 71.1h1.0M172.3 66.1h1.0M88.6 79.7h1.0M187.9 82.6h1.0M231.2 47.4h1.0M116.8 44.4h1.0M308.3 44.0h1.0M93.5 45.5h1.0M316.7 70.2h1.0M229.8 34.7h1.0M303.9 37.7h1.0M224.3 42.8h1.0M266.4 34.7h1.0M277.0 41.0h1.0M256.6 65.2h1.0M86.6 47.9h1.0M180.9 55.3h1.0M167.3 49.9h1.0M223.5 59.2h1.0M258.0 66.8h1.0M107.8 59.9h1.0M265.4 55.8h1.0M157.3 36.3h1.0M238.0 38.1h1.0M303.7 56.7h1.0M39.9 59.8h1.0M43.4 64.4h1.0M253.0 56.1h1.0M204.4 44.1h1.0M186.8 58.6h1.0M277.0 60.6h1.0M210.1 47.5h1.0M336.6 41.4h1.0M334.8 35.6h1.0M69.8 32.5h1.0M93.2 62.0h1.0M91.2 59.9h1.0M120.8 72.0h1.0M253.2 59.8h1.0M244.7 57.4h1.0M219.0 67.4h1.0M126.7 68.7h1.0M280.9 51.4h1.0M124.2 19.9h1.0M299.0 51.1h1.0M193.5 59.0h1.0M239.2 68.9h1.0M107.0 56.0h1.0M236.9 44.3h1.0M267.6 36.1h1.0M327.8 59.0h1.0M293.3 66.4h1.0M180.4 34.2h1.0M306.0 56.7h1.0M332.1 44.0h1.0M264.9 55.7h1.0M164.9 78.7h1.0M123.1 36.0h1.0M235.8 59.0h1.0M152.0 74.6h1.0M160.6 51.6h1.0M65.9 37.6h1.0M103.7 41.3h1.0M333.1 56.4h1.0M191.7 44.2h1.0M260.4 69.4h1.0M164.2 23.2h1.0M237.5 35.0h1.0M163.6 60.6h1.0M297.2 52.3h1.0M113.9 59.9h1.0M166.4 56.6h1.0M272.6 42.3h1.0M296.2 45.9h1.0M305.6 69.2h1.0M290.9 54.7h1.0M336.4 66.0h1.0M119.3 56.3h1.0M158.1 67.1h1.0M193.8 73.7h1.0M147.1 47.7h1.0M180.5 37.6h1.0M254.0 65.2h1.0M162.8 46.4h1.0M109.5 31.7h1.0M197.2 68.5h1.0M55.6 56.0h1.0M84.6 54.6h1.0M56.8 37.0h1.0M107.1 61.2h1.0M187.0 65.8h1.0M121.9 36.3h1.0M93.8 44.5h1.0M136.2 38.0h1.0M195.8 79.7h1.0M202.7 46.6h1.0M336.9 57.4h1.0M323.6 67.4h1.0M296.4 77.2h1.0M142.5 45.7h1.0M326.7 39.4h1.0M107.5 64.3h1.0M264.5 62.5h1.0M148.2 83.5h1.0M294.4 44.0h1.0M100.1 73.4h1.0M136.7 67.0h1.0M59.4 55.6h1.0M203.0 15.8h1.0M297.4 54.9h1.0M161.8 49.8h1.0M282.6 27.7h1.0M139.3 63.2h1.0M332.4 44.1h1.0M329.1 28.9h1.0M46.3 50.1h1.0M100.6 67.4h1.0M70.8 77.3h1.0M200.8 66.2h1.0M274.5 59.6h1.0M280.4 56.9h1.0M204.3 33.6h1.0M163.6 40.5h1.0M264.0 51.7h1.0M92.6 52.9h1.0M302.1 44.9h1.0M59.3 89.6h1.0M282.0 69.8h1.0M275.3 44.3h1.0M203.8 66.7h1.0M340.4 55.9h1.0M144.5 84.7h1.0M93.3 68.3h1.0M91.4 65.1h1.0M105.8 61.5h1.0M264.5 67.1h1.0M84.6 55.3h1.0M277.1 77.6h1.0M202.0 53.6h1.0M201.0 34.7h1.0M149.5 53.8h1.0M273.9 63.7h1.0M59.4 36.1h1.0M248.9 34.0h1.0M226.8 51.1h1.0M210.4 70.0h1.0M279.6 63.2h1.0M48.9 20.3h1.0M245.0 62.2h1.0M53.6 49.1h1.0M230.0 44.0h1.0M211.9 54.6h1.0M177.9 83.4h1.0M230.9 37.7h1.0M119.0 51.1h1.0M81.4 26.7h1.0M79.2 60.7h1.0M273.9 58.4h1.0M88.3 57.6h1.0M179.6 59.4h1.0M86.1 38.5h1.0M173.5 52.5h1.0M229.2 50.9h1.0M261.7 42.3h1.0M269.3 63.4h1.0M253.8 61.5h1.0M42.2 41.4h1.0M99.1 54.9h1.0M227.1 62.9h1.0M221.0 56.7h1.0M188.3 76.9h1.0M120.0 54.1h1.0M221.0 50.3h1.0M120.0 37.1h1.0M204.1 43.2h1.0M323.0 54.6h1.0M180.1 54.5h1.0M76.0 37.8h1.0M259.3 51.2h1.0M303.8 59.9h1.0M288.7 69.8h1.0M169.6 60.6h1.0M284.6 52.9h1.0M53.2 63.6h1.0M55.4 33.9h1.0M89.5 56.6h1.0M333.0 43.4h1.0M287.1 75.6h1.0M60.3 39.3h1.0M252.8 61.8h1.0M269.1 77.7h1.0M297.4 47.7h1.0M195.0 58.5h1.0M177.0 53.0h1.0M40.5 45.3h1.0M49.1 41.1h1.0M200.3 44.9h1.0M127.4 62.8h1.0M49.4 65.8h1.0M217.2 41.4h1.0M156.0 40.1h1.0M176.8 55.1h1.0M114.8 58.2h1.0M93.7 54.3h1.0M129.9 55.2h1.0M163.5 77.8h1.0M326.8 67.8h1.0M60.3 62.4h1.0M243.8 46.5h1.0M287.4 91.1h1.0M114.4 52.1h1.0M328.0 58.8h1.0M306.4 65.0h1.0M50.7 33.5h1.0M91.2 46.3h1.0M237.6 67.3h1.0M294.3 51.0h1.0M151.9 44.3h1.0M226.0 63.4h1.0M235.9 67.1h1.0M285.4 57.1h1.0M87.2 62.9h1.0M324.3 41.2h1.0M309.8 55.9h1.0M253.6 48.3h1.0M322.8 29.5h1.0M57.9 57.5h1.0M162.5 47.9h1.0M137.9 49.2h1.0M81.4 54.5h1.0M78.0 51.0h1.0M200.6 63.6h1.0M142.0 47.1h1.0M109.9 61.1h1.0M223.4 46.9h1.0M194.0 74.7h1.0M319.4 52.5h1.0M262.6 63.5h1.0M110.9 83.3h1.0M158.2 54.6h1.0M339.7 62.5h1.0M208.5 32.4h1.0M321.8 48.3h1.0M150.5 58.1h1.0M336.7 68.8h1.0M262.3 40.3h1.0M228.6 51.7h1.0M330.1 69.9h1.0M153.9 32.7h1.0M253.7 60.1h1.0M288.0 51.1h1.0M209.2 77.1h1.0M119.9 51.3h1.0M106.2 42.1h1.0M39.9 72.0h1.0M206.7 72.9h1.0M211.6 60.4h1.0M157.1 77.6h1.0M297.0 50.0h1.0M258.9 56.2h1.0M191.4 62.3h1.0M180.5 43.6h1.0M111.2 58.3h1.0M313.8 50.6h1.0M281.3 76.2h1.0M227.9 45.7h1.0M133.1 56.6h1.0M300.2 27.2h1.0M311.1 56.4h1.0M330.4 47.8h1.0M153.8 47.2h1.0M197.4 56.4h1.0M104.9 50.9h1.0M173.4 40.3h1.0M294.1 62.1h1.0M239.6 55.2h1.0M245.4 46.5h1.0M273.7 72.5h1.0M159.3 53.3h1.0M162.0 64.4h1.0M55.2 64.7h1.0M130.3 49.6h1.0M337.8 58.0h1.0M260.0 51.9h1.0M210.4 43.4h1.0M278.0 49.2h1.0M114.5 75.3h1.0M244.6 55.2h1.0M336.0 74.3h1.0M222.3 63.6h1.0M205.7 21.2h1.0M153.6 52.2h1.0M332.5 63.3h1.0M53.9 55.2h1.0M330.2 59.1h1.0M188.1 61.1h1.0M139.6 65.6h1.0M93.7 77.6h1.0M252.2 48.8h1.0M286.8 50.8h1.0M249.4 56.9h1.0M257.6 64.9h1.0M49.1 51.1h1.0M102.0 67.1h1.0M106.9 50.9h1.0M228.0 46.6h1.0M162.4 31.2h1.0M146.7 59.9h1.0M54.6 65.7h1.0M189.9 61.4h1.0M295.7 55.7h1.0M123.8 45.3h1.0M307.2 44.4h1.0M163.6 74.0h1.0M83.7 67.0h1.0M236.3 30.3h1.0M233.5 64.8h1.0M160.7 76.5h1.0M49.1 58.6h1.0M190.2 73.8h1.0M256.8 44.2h1.0M182.0 51.8h1.0M77.4 50.3h1.0M255.2 35.6h1.0M290.2 63.6h1.0M287.8 47.6h1.0M107.5 56.0h1.0M185.3 70.9h1.0M247.0 30.8h1.0M108.5 48.3h1.0M213.8 43.5h1.0M270.6 45.3h1.0M132.1 37.5h1.0M262.3 53.8h1.0M191.3 52.1h1.0M147.8 44.9h1.0M188.4 60.9h1.0M162.9 45.0h1.0M272.3 49.2h1.0M180.8 51.4h1.0M322.8 55.4h1.0M337.8 77.0h1.0M59.5 43.9h1.0M185.0 55.8h1.0M202.1 43.8h1.0M152.4 73.7h1.0M125.7 30.5h1.0M305.4 38.6h1.0M65.9 62.5h1.0M200.2 56.4h1.0M327.5 34.5h1.0M111.6 74.8h1.0M97.8 39.7h1.0M194.2 54.9h1.0M87.7 68.8h1.0M234.8 80.3h1.0M90.6 63.9h1.0M78.6 55.4h1.0M144.7 62.4h1.0M60.1 43.2h1.0M99.9 76.8h1.0M174.4 31.6h1.0M109.2 65.0h1.0M73.0 81.7h1.0M248.0 41.1h1.0M199.1 49.3h1.0M179.8 57.6h1.0M141.0 74.9h1.0M123.0 65.8h1.0M185.1 75.1h1.0M263.3 52.9h1.0M313.3 60.0h1.0M328.9 60.9h1.0M193.1 88.0h1.0M333.0 37.1h1.0M318.6 55.8h1.0M249.1 52.9h1.0M268.9 48.7h1.0M173.6 76.7h1.0M96.8 44.7h1.0M288.9 60.9h1.0M126.3 56.1h1.0M84.3 61.7h1.0M179.6 44.6h1.0M118.1 39.0h1.0M198.1 79.7h1.0M318.3 67.3h1.0M165.2 52.3h1.0M227.3 44.8h1.0M129.1 55.8h1.0M292.3 53.4h1.0M130.5 44.2h1.0M168.9 63.4h1.0M96.3 57.4h1.0M72.4 52.1h1.0M194.1 71.9h1.0M162.1 46.4h1.0M254.1 61.2h1.0M117.0 58.0h1.0M132.8 29.6h1.0M92.8 62.2h1.0M194.2 63.0h1.0M208.8 51.9h1.0M73.0 62.1h1.0M184.6 55.9h1.0M133.8 59.0h1.0M334.4 37.6h1.0M114.7 68.3h1.0M106.2 51.0h1.0M201.3 68.4h1.0M211.2 56.3h1.0M235.7 57.3h1.0M58.7 68.6h1.0M280.9 64.0h1.0M73.1 55.1h1.0M58.6 61.0h1.0M274.4 79.7h1.0M111.3 55.8h1.0M163.5 51.0h1.0M86.5 63.3h1.0M105.7 39.3h1.0M118.9 63.3h1.0M143.0 52.4h1.0M298.2 59.2h1.0M308.6 26.9h1.0M287.3 66.9h1.0M237.6 57.8h1.0M158.4 45.5h1.0M72.4 66.4h1.0M281.0 48.8h1.0M172.5 37.9h1.0M171.3 39.8h1.0M102.2 51.5h1.0M185.9 61.6h1.0M169.1 53.0h1.0M247.2 47.7h1.0M271.3 59.7h1.0M208.3 63.1h1.0M198.2 42.6h1.0M231.7 68.8h1.0M303.2 34.0h1.0M323.8 63.3h1.0M185.7 77.3h1.0M299.1 52.8h1.0M92.8 48.2h1.0M106.5 41.5h1.0M121.2 78.6h1.0M265.4 35.6h1.0M136.2 52.7h1.0M108.7 53.5h1.0M242.3 68.2h1.0M108.5 63.7h1.0M285.2 46.0h1.0M260.8 80.2h1.0M203.6 51.9h1.0M163.6 44.7h1.0M88.4 74.5h1.0M194.6 65.1h1.0M79.3 40.6h1.0M228.4 61.1h1.0M54.3 49.5h1.0M150.3 27.1h1.0M174.4 49.9h1.0M152.6 58.3h1.0M132.3 34.9h1.0M158.4 52.1h1.0M163.4 68.6h1.0M100.1 49.2h1.0M197.4 40.2h1.0M146.9 34.3h1.0M228.0 63.5h1.0M58.3 47.3h1.0M242.1 59.4h1.0M164.8 52.3h1.0M172.0 43.5h1.0M117.8 65.2h1.0M63.0 75.7h1.0M320.1 40.6h1.0M207.4 57.9h1.0M113.0 58.7h1.0M284.0 57.7h1.0M63.6 56.1h1.0M333.8 74.6h1.0M89.6 86.1h1.0M296.3 58.3h1.0M315.9 54.3h1.0M317.7 66.3h1.0M131.9 47.0h1.0M193.4 56.3h1.0M74.7 68.2h1.0M258.6 58.8h1.0M108.8 62.2h1.0M132.9 28.3h1.0M302.2 43.5h1.0M335.3 53.6h1.0M310.2 64.0h1.0M85.5 41.8h1.0M303.5 60.8h1.0M265.8 54.4h1.0M168.8 61.0h1.0M260.0 51.7h1.0M339.0 68.0h1.0M268.2 46.9h1.0M81.2 73.4h1.0M165.8 49.8h1.0M277.6 61.5h1.0M84.6 41.1h1.0M152.0 46.4h1.0M192.8 75.3h1.0M272.7 27.7h1.0M166.8 55.9h1.0M256.2 55.6h1.0M201.9 55.0h1.0M224.3 76.9h1.0M122.3 54.8h1.0M216.5 48.6h1.0M102.9 84.0h1.0M180.8 62.0h1.0M77.3 76.3h1.0M228.5 41.3h1.0M87.1 24.2h1.0M100.8 69.6h1.0M336.1 71.8h1.0M44.8 70.5h1.0M53.7 55.2h1.0M294.1 70.5h1.0M245.4 56.8h1.0M182.4 49.6h1.0M282.1 55.7h1.0M54.8 35.0h1.0M130.2 67.2h1.0M185.9 79.6h1.0M193.6 61.9h1.0M206.8 37.7h1.0M193.5 76.7h1.0M219.7 71.1h1.0M261.9 28.5h1.0M97.3 53.1h1.0M191.4 65.7h1.0M113.4 74.7h1.0M292.0 76.1h1.0M268.4 39.8h1.0M287.6 48.1h1.0M145.4 33.3h1.0M55.2 56.2h1.0M308.0 59.7h1.0M142.2 70.8h1.0M210.1 31.9h1.0M239.1 33.8h1.0M228.4 59.1h1.0M213.1 58.5h1.0M241.5 46.5h1.0M122.5 55.0h1.0M326.4 61.2h1.0M181.5 51.5h1.0M116.1 76.1h1.0M120.4 77.4h1.0M211.2 61.4h1.0M287.0 53.0h1.0M191.1 56.7h1.0M197.4 50.8h1.0M299.7 49.8h1.0M85.3 16.7h1.0M266.8 53.3h1.0M293.0 58.8h1.0M59.0 54.2h1.0M269.4 34.9h1.0M211.5 36.0h1.0M155.2 65.2h1.0M307.3 65.2h1.0M40.1 43.4h1.0M328.1 35.7h1.0M327.6 46.2h1.0M148.9 55.1h1.0M264.4 78.7h1.0M50.5 65.0h1.0M99.3 59.7h1.0M282.6 47.7h1.0M62.5 54.1h1.0M68.9 41.8h1.0M234.3 65.8h1.0M203.8 56.6h1.0M113.0 43.3h1.0M107.8 56.2h1.0M64.9 76.2h1.0M209.3 46.5h1.0M311.5 41.6h1.0M329.5 51.3h1.0M209.5 54.5h1.0M61.5 59.4h1.0M310.9 54.3h1.0M178.8 65.2h1.0M159.7 55.6h1.0M209.6 60.1h1.0M252.3 77.0h1.0M159.3 40.1h1.0M284.5 42.6h1.0M66.5 57.2h1.0M209.5 43.0h1.0M135.7 47.4h1.0M119.7 85.6h1.0M311.8 43.0h1.0M273.3 44.5h1.0M257.8 61.8h1.0M313.1 56.1h1.0M68.7 16.8h1.0M151.6 59.1h1.0M201.5 72.7h1.0M174.0 53.1h1.0M148.9 61.2h1.0M74.5 53.9h1.0M325.1 43.1h1.0M78.5 35.3h1.0M277.9 63.2h1.0M324.8 60.5h1.0M182.8 17.2h1.0M110.1 66.6h1.0M183.8 62.7h1.0M185.6 74.3h1.0M139.3 77.4h1.0M117.3 16.8h1.0M47.0 49.9h1.0M58.5 46.1h1.0M88.7 44.7h1.0M131.9 53.2h1.0M57.4 60.5h1.0M278.8 52.0h1.0M80.9 80.3h1.0M107.7 41.2h1.0M51.1 89.9h1.0M242.7 57.7h1.0M177.9 78.4h1.0M91.8 60.9h1.0M248.5 45.0h1.0M292.0 53.0h1.0M125.8 48.4h1.0M65.7 64.1h1.0M62.2 58.5h1.0M196.7 40.5h1.0M321.2 84.2h1.0M151.7 67.9h1.0M202.4 44.3h1.0M129.5 49.9h1.0M71.6 56.5h1.0M228.1 57.0h1.0M252.9 45.6h1.0M294.0 76.2h1.0M285.6 36.2h1.0M121.1 61.2h1.0M162.2 56.8h1.0M211.0 70.9h1.0M226.6 49.9h1.0M54.1 53.6h1.0M98.1 79.5h1.0M115.6 58.2h1.0M116.0 54.4h1.0M324.7 52.5h1.0M197.7 49.9h1.0M209.7 24.2h1.0M247.0 37.9h1.0M182.2 48.4h1.0M123.9 54.7h1.0M103.3 65.1h1.0M124.4 49.7h1.0M79.5 49.3h1.0M85.4 54.7h1.0M275.1 47.2h1.0M61.6 54.0h1.0M306.8 68.6h1.0M46.8 44.1h1.0M252.6 25.6h1.0M212.4 41.6h1.0M101.6 54.4h1.0M216.6 41.5h1.0M55.9 63.1h1.0M325.2 80.1h1.0M254.4 72.2h1.0M195.4 86.3h1.0M181.6 65.6h1.0M203.7 57.1h1.0M157.7 57.7h1.0M159.4 36.1h1.0M329.7 39.0h1.0M268.0 46.8h1.0M115.2 41.3h1.0M154.7 45.6h1.0M256.5 60.6h1.0M140.4 53.6h1.0M330.5 51.2h1.0M329.1 79.5h1.0M218.5 48.8h1.0M268.1 53.3h1.0M334.9 67.3h1.0M310.4 51.8h1.0M292.2 69.1h1.0M136.6 45.4h1.0M126.6 72.9h1.0M312.0 63.9h1.0M156.7 33.7h1.0M325.1 51.5h1.0M196.3 64.9h1.0M252.7 49.9h1.0M302.0 60.2h1.0M146.9 49.5h1.0M191.5 78.4h1.0M138.2 52.4h1.0M338.9 68.9h1.0M151.2 61.9h1.0M282.5 68.2h1.0M139.2 66.9h1.0M250.8 50.3h1.0M319.7 50.8h1.0M152.9 64.9h1.0M277.3 70.4h1.0M299.9 62.4h1.0M123.6 40.2h1.0M181.4 71.0h1.0M46.4 60.7h1.0M235.5 71.9h1.0M81.2 44.6h1.0M296.3 49.7h1.0M242.0 47.9h1.0M297.5 41.0h1.0M85.5 73.5h1.0M44.0 53.1h1.0M164.3 45.7h1.0M144.2 39.0h1.0M200.0 41.3h1.0M41.7 65.0h1.0M50.8 71.2h1.0M239.0 63.7h1.0M326.5 51.3h1.0M203.3 57.6h1.0M53.1 33.5h1.0M258.1 38.0h1.0M100.3 53.2h1.0M294.9 58.9h1.0M261.5 53.4h1.0M137.8 57.8h1.0M206.5 48.2h1.0M113.5 56.4h1.0M123.3 50.3h1.0M186.3 62.6h1.0M117.3 51.7h1.0M309.1 75.3h1.0M180.5 42.9h1.0M149.5 81.7h1.0M266.8 44.3h1.0M94.6 66.2h1.0M206.2 70.2h1.0M312.8 72.6h1.0M271.3 51.0h1.0M55.7 34.9h1.0M141.4 58.5h1.0M111.1 84.3h1.0M262.7 51.5h1.0M137.9 60.7h1.0M145.9 61.5h1.0M56.6 77.8h1.0M199.4 64.6h1.0M66.7 76.7h1.0M260.0 48.1h1.0M300.2 36.5h1.0M199.9 55.0h1.0M88.4 44.7h1.0M222.9 65.1h1.0M59.6 55.2h1.0M123.9 67.8h1.0M81.7 43.0h1.0M121.2 48.6h1.0M85.8 50.2h1.0M255.8 69.7h1.0M268.3 52.5h1.0M294.3 54.4h1.0M99.7 74.3h1.0M261.9 48.1h1.0M331.9 49.9h1.0M148.2 75.4h1.0M276.7 26.7h1.0M256.3 70.1h1.0M265.1 51.5h1.0M155.1 53.4h1.0M255.4 57.2h1.0M277.2 58.3h1.0M309.0 54.6h1.0M217.2 73.4h1.0M49.5 29.1h1.0M172.8 27.3h1.0M99.9 57.4h1.0M51.9 37.0h1.0M288.1 51.1h1.0M158.9 49.3h1.0M103.7 52.4h1.0M304.7 60.8h1.0M327.1 24.9h1.0M237.6 32.6h1.0M313.7 73.7h1.0M156.4 42.0h1.0M259.2 46.9h1.0M244.7 87.0h1.0M143.8 58.3h1.0M97.3 42.4h1.0M194.4 75.2h1.0M103.2 61.6h1.0M224.6 39.7h1.0M138.6 63.9h1.0M48.5 50.5h1.0M211.2 30.1h1.0M298.4 63.8h1.0M221.1 63.4h1.0M164.5 60.7h1.0M159.3 59.9h1.0M101.9 46.5h1.0M255.7 48.6h1.0M178.1 42.1h1.0M124.1 66.6h1.0M224.2 61.1h1.0M128.4 76.7h1.0M161.0 59.6h1.0M140.0 48.3h1.0M313.5 42.2h1.0M99.2 42.7h1.0M63.8 29.9h1.0M285.6 40.1h1.0M55.2 17.3h1.0M45.5 66.1h1.0M249.4 56.9h1.0M177.8 51.9h1.0M246.1 65.7h1.0M69.8 49.1h1.0M43.8 59.7h1.0M276.7 75.8h1.0M263.6 53.5h1.0M122.6 52.7h1.0M128.7 61.2h1.0M153.5 64.6h1.0M58.3 65.1h1.0M184.7 51.9h1.0M253.1 59.5h1.0M137.2 55.9h1.0M212.8 67.5h1.0M130.4 51.1h1.0M156.7 48.9h1.0M88.9 42.1h1.0M199.6 49.0h1.0M127.5 46.3h1.0M110.9 59.1h1.0M328.6 70.3h1.0M325.8 49.2h1.0M331.0 79.7h1.0M49.9 52.3h1.0M183.0 70.5h1.0M220.9 69.2h1.0M232.0 47.9h1.0M85.1 54.1h1.0M268.8 35.5h1.0M72.1 61.1h1.0M72.3 78.4h1.0M64.9 58.9h1.0M154.5 77.7h1.0M305.1 55.8h1.0M117.2 52.6h1.0M137.6 58.2h1.0M154.9 50.4h1.0M63.5 59.7h1.0M271.2 56.8h1.0M299.5 49.2h1.0M178.0 55.6h1.0M52.8 67.0h1.0M284.3 53.5h1.0M322.5 33.2h1.0M60.0 44.0h1.0M255.7 91.3h1.0M226.5 54.2h1.0M176.1 70.9h1.0M82.6 55.0h1.0M190.6 63.0h1.0M333.9 58.0h1.0M222.2 78.6h1.0M276.5 52.0h1.0M324.9 38.8h1.0M338.3 51.0h1.0M50.9 40.1h1.0M185.9 82.4h1.0M175.5 43.5h1.0M231.7 41.9h1.0M291.9 37.0h1.0M275.9 54.8h1.0M61.7 48.9h1.0M82.8 50.5h1.0M224.1 60.0h1.0M118.0 52.7h1.0M111.1 85.4h1.0M190.4 93.0h1.0M109.1 47.0h1.0M48.7 78.5h1.0M137.7 56.4h1.0M295.0 60.6h1.0M315.5 43.1h1.0M183.6 62.1h1.0M309.6 69.0h1.0M295.9 63.7h1.0M138.3 60.5h1.0M244.7 68.5h1.0M185.2 73.1h1.0M63.3 37.1h1.0M290.1 54.1h1.0M75.4 61.5h1.0M235.3 47.8h1.0M181.0 82.2h1.0M200.1 62.8h1.0M298.0 55.8h1.0M52.3 62.4h1.0M325.5 62.3h1.0M139.0 51.5h1.0M291.9 47.8h1.0M92.3 34.9h1.0M303.4 79.1h1.0M234.4 59.0h1.0M288.5 40.1h1.0M253.4 68.7h1.0M174.9 57.1h1.0M332.2 50.1h1.0M300.2 45.1h1.0M53.9 80.0h1.0M50.0 69.4h1.0M144.3 63.0h1.0M235.3 63.0h1.0M46.8 55.8h1.0M147.8 55.9h1.0M122.2 50.3h1.0M264.6 48.6h1.0M45.4 80.5h1.0M127.4 33.8h1.0M272.7 50.1h1.0M260.1 47.5h1.0M87.8 55.6h1.0M112.1 39.1h1.0M246.4 51.2h1.0M72.8 50.6h1.0M146.3 58.1h1.0M221.9 65.5h1.0M239.5 87.9h1.0M192.8 75.4h1.0M245.2 47.3h1.0M235.8 48.4h1.0M176.8 51.5h1.0M223.5 82.9h1.0M249.5 75.4h1.0M266.4 84.4h1.0M192.0 90.5h1.0M125.7 44.2h1.0M221.5 71.4h1.0M118.9 55.2h1.0M103.0 44.8h1.0M185.4 55.5h1.0M209.0 60.4h1.0M261.0 48.8h1.0M64.8 77.4h1.0M132.5 73.5h1.0M289.3 76.9h1.0M220.2 63.6h1.0M54.0 67.7h1.0M235.7 32.2h1.0M39.7 40.2h1.0M302.4 58.2h1.0M230.2 52.4h1.0M196.2 34.8h1.0M324.5 60.9h1.0M180.5 50.7h1.0M52.1 44.4h1.0M251.5 67.4h1.0M298.5 71.2h1.0M331.5 47.7h1.0M119.3 55.8h1.0M189.0 76.6h1.0M127.7 52.9h1.0M310.1 59.0h1.0M188.5 57.5h1.0M265.4 46.0h1.0M97.4 66.6h1.0M309.6 56.3h1.0M211.4 50.0h1.0M260.8 53.1h1.0M101.4 59.9h1.0M258.9 63.6h1.0M291.0 60.3h1.0M58.0 73.0h1.0M267.5 60.9h1.0M151.1 68.5h1.0M318.9 50.4h1.0M331.4 69.5h1.0M263.2 62.1h1.0M275.8 38.5h1.0M187.5 85.8h1.0M225.8 67.6h1.0M161.7 46.0h1.0M280.0 60.2h1.0M283.8 73.3h1.0M192.2 70.4h1.0M280.3 73.9h1.0M316.0 53.7h1.0M212.8 72.3h1.0M238.9 60.1h1.0M247.9 22.8h1.0M240.4 56.4h1.0M40.8 52.3h1.0M338.9 60.3h1.0M162.8 48.9h1.0M55.8 81.7h1.0M92.6 59.8h1.0M187.7 71.8h1.0M230.9 54.5h1.0M292.9 54.7h1.0M147.2 46.3h1.0M216.4 59.6h1.0M249.9 44.5h1.0M277.9 48.2h1.0M338.9 41.5h1.0M74.0 82.6h1.0M115.8 85.6h1.0M82.9 46.7h1.0M217.6 50.6h1.0M212.7 37.1h1.0M151.2 36.4h1.0M116.0 61.7h1.0M220.5 82.9h1.0M275.0 47.5h1.0M215.9 65.1h1.0M272.7 37.8h1.0M111.2 77.2h1.0M269.6 84.4h1.0M209.1 58.9h1.0M82.2 61.6h1.0M177.0 80.3h1.0M212.3 62.0h1.0M76.6 41.5h1.0M263.3 61.1h1.0M268.6 38.6h1.0M169.0 67.5h1.0M285.7 62.2h1.0M225.6 71.6h1.0M222.4 62.0h1.0M64.2 72.3h1.0M77.1 53.5h1.0M269.8 64.1h1.0M92.3 55.2h1.0M239.2 51.6h1.0M254.7 89.9h1.0M258.9 33.1h1.0M115.1 58.9h1.0M106.3 48.7h1.0M188.8 66.9h1.0M48.2 57.8h1.0M318.0 61.5h1.0M53.6 70.0h1.0M269.3 34.9h1.0M239.2 62.7h1.0M236.4 54.6h1.0M242.0 70.0h1.0M115.0 43.6h1.0M202.1 27.1h1.0M186.3 68.9h1.0M202.6 51.0h1.0M294.9 46.5h1.0M185.6 61.2h1.0M45.0 67.8h1.0M295.3 51.2h1.0M150.3 70.7h1.0M332.1 63.9h1.0M121.8 45.0h1.0M252.5 26.5h1.0M294.4 63.9h1.0M169.3 40.6h1.0M272.8 28.6h1.0M245.4 69.1h1.0M217.8 70.1h1.0M228.7 70.5h1.0M47.9 50.7h1.0M77.0 52.9h1.0M163.7 30.8h1.0M282.2 55.1h1.0M45.0 58.6h1.0M47.6 52.6h1.0M300.1 43.0h1.0M318.6 67.3h1.0M42.9 45.2h1.0M177.3 40.5h1.0M198.0 56.0h1.0M243.1 56.6h1.0M175.9 54.7h1.0M49.2 40.7h1.0M192.8 68.1h1.0M172.5 39.3h1.0M88.7 34.5h1.0M290.6 61.0h1.0M220.9 70.6h1.0M236.2 59.3h1.0M115.5 71.5h1.0M44.5 62.3h1.0M138.2 82.3h1.0M325.9 47.3h1.0M301.4 53.0h1.0M110.5 53.1h1.0M109.4 62.5h1.0M289.7 66.2h1.0M292.6 47.6h1.0M39.7 40.2h1.0M235.4 32.9h1.0M178.8 30.4h1.0M299.9 64.2h1.0M251.4 41.1h1.0M72.3 67.6h1.0M271.0 51.4h1.0M69.8 64.6h1.0M165.8 65.5h1.0M56.8 64.7h1.0M78.2 68.3h1.0M149.3 51.0h1.0M182.8 63.4h1.0M222.5 51.2h1.0M234.0 44.3h1.0M164.1 53.5h1.0M150.3 60.4h1.0M204.2 47.4h1.0M54.7 71.0h1.0M207.4 42.1h1.0M334.9 39.0h1.0M156.0 44.6h1.0M71.0 77.0h1.0M277.1 51.8h1.0M120.6 59.6h1.0M217.4 60.7h1.0M310.1 37.4h1.0M40.5 52.7h1.0M44.8 65.6h1.0M192.5 80.6h1.0M70.9 53.8h1.0M190.2 77.6h1.0M232.0 57.3h1.0M165.1 63.9h1.0M55.2 34.4h1.0M196.6 41.9h1.0M53.3 69.6h1.0M248.1 54.1h1.0M139.6 40.2h1.0M180.6 58.7h1.0M149.1 56.8h1.0M288.4 42.1h1.0M279.4 55.4h1.0M216.7 51.6h1.0M107.5 63.5h1.0M149.1 53.7h1.0M84.3 56.9h1.0M145.7 64.3h1.0M336.6 58.0h1.0M233.1 47.2h1.0M209.6 40.5h1.0M313.9 44.3h1.0M246.8 45.1h1.0M178.8 52.4h1.0M104.0 50.8h1.0M120.5 49.7h1.0M122.3 45.1h1.0M245.4 70.1h1.0M232.2 52.8h1.0M44.9 37.9h1.0M40.1 55.3h1.0M54.2 66.0h1.0M173.5 54.2h1.0M182.6 59.4h1.0M235.1 43.3h1.0M62.5 64.6h1.0M156.1 62.7h1.0M51.6 68.6h1.0M196.2 63.9h1.0M53.1 81.0h1.0M142.0 68.4h1.0M322.6 69.8h1.0M118.0 71.2h1.0M161.4 42.6h1.0M86.4 71.6h1.0M309.5 66.9h1.0M107.9 66.8h1.0M250.4 51.0h1.0M269.6 43.3h1.0M62.5 47.5h1.0M303.0 39.0h1.0M191.9 75.1h1.0M49.0 45.7h1.0M281.8 55.6h1.0M323.5 55.1h1.0M321.9 49.8h1.0M154.3 45.1h1.0M223.6 45.7h1.0M279.0 69.7h1.0M291.7 36.1h1.0M324.6 57.5h1.0M55.5 43.1h1.0M334.0 46.0h1.0M201.9 51.6h1.0M331.2 79.5h1.0M203.6 59.6h1.0M83.8 63.1h1.0M339.9 71.6h1.0M81.8 67.3h1.0M124.3 59.7h1.0M69.7 72.9h1.0M115.4 58.4h1.0M291.0 44.2h1.0M199.9 54.6h1.0M292.7 54.8h1.0M259.4 74.3h1.0M97.2 36.0h1.0M141.7 46.0h1.0M94.3 54.2h1.0M335.6 55.3h1.0M200.2 52.0h1.0M117.0 43.2h1.0M42.4 53.6h1.0M40.4 57.4h1.0M99.7 38.6h1.0M177.1 51.8h1.0M259.7 54.3h1.0M328.0 54.1h1.0M119.2 74.4h1.0M184.8 42.9h1.0M41.9 59.7h1.0M204.6 59.2h1.0M186.9 52.5h1.0M282.9 65.2h1.0M202.3 41.3h1.0M238.9 57.0h1.0M113.5 44.9h1.0M61.6 49.5h1.0M328.4 62.1h1.0M193.4 83.1h1.0M75.9 56.2h1.0M41.5 57.4h1.0M107.7 52.9h1.0M159.3 66.7h1.0M258.1 61.2h1.0M51.3 28.2h1.0M281.6 76.2h1.0M207.8 44.9h1.0M110.8 34.0h1.0M112.6 43.3h1.0M311.7 51.6h1.0M198.1 49.2h1.0M182.9 37.1h1.0M281.8 65.6h1.0M332.7 47.4h1.0M264.3 55.2h1.0M311.6 75.3h1.0M129.3 57.4h1.0M230.8 28.1h1.0M50.8 28.2h1.0M101.9 47.3h1.0M153.3 58.7h1.0M270.2 67.1h1.0M84.6 45.3h1.0M58.9 49.9h1.0M44.6 57.0h1.0M215.7 61.3h1.0M139.5 66.4h1.0M163.8 66.9h1.0M204.2 42.1h1.0M338.4 61.7h1.0M192.3 59.0h1.0M80.8 54.9h1.0M291.8 62.8h1.0M75.5 61.8h1.0M226.6 53.6h1.0M70.0 44.6h1.0M228.4 64.7h1.0M180.1 60.9h1.0M117.6 29.2h1.0M49.2 69.6h1.0M55.0 66.2h1.0M210.4 70.8h1.0M193.2 78.9h1.0M174.5 60.4h1.0M152.9 41.5h1.0M293.0 45.2h1.0M91.8 57.0h1.0M113.6 63.9h1.0M155.6 60.0h1.0M74.8 74.5h1.0M52.1 49.5h1.0M175.0 37.2h1.0M193.2 49.4h1.0M123.2 63.0h1.0M93.9 63.6h1.0M176.1 79.1h1.0M156.7 69.3h1.0M300.4 66.4h1.0M94.8 58.4h1.0M78.1 63.2h1.0M205.2 67.6h1.0M194.7 78.1h1.0M200.8 48.4h1.0M325.4 54.1h1.0M181.7 85.3h1.0M269.1 58.6h1.0M197.4 44.0h1.0M149.7 37.8h1.0M135.7 39.4h1.0M307.0 65.7h1.0M130.0 68.3h1.0M301.6 39.1h1.0M188.5 62.5h1.0M294.4 47.0h1.0M70.7 52.6h1.0M315.4 52.0h1.0M277.5 57.5h1.0M61.9 43.7h1.0M336.9 48.9h1.0M97.6 58.0h1.0M292.5 51.3h1.0M265.8 67.7h1.0M107.0 67.7h1.0M213.9 54.3h1.0M76.6 58.9h1.0M105.0 53.3h1.0M165.8 47.0h1.0M230.2 38.8h1.0M194.4 46.8h1.0M212.2 35.9h1.0M206.3 55.8h1.0M228.1 51.9h1.0M88.2 51.0h1.0M59.2 18.4h1.0M265.4 71.1h1.0M328.5 60.5h1.0M296.6 30.1h1.0M265.8 57.3h1.0M106.5 42.1h1.0M234.3 84.0h1.0M63.0 57.4h1.0M229.2 45.0h1.0M247.0 37.1h1.0M137.1 69.2h1.0M144.4 44.5h1.0M324.7 39.5h1.0M72.8 54.6h1.0M198.1 51.4h1.0M125.8 36.8h1.0M107.0 63.4h1.0M287.1 49.4h1.0M177.1 69.9h1.0M257.0 54.1h1.0M271.8 62.8h1.0M334.0 72.5h1.0M43.5 61.7h1.0M269.6 50.9h1.0M48.7 37.7h1.0M272.7 52.2h1.0M175.0 22.5h1.0M316.6 48.2h1.0M244.2 48.4h1.0M97.1 53.7h1.0M101.4 66.2h1.0M291.4 63.3h1.0M68.9 69.4h1.0M80.9 54.2h1.0M56.4 55.2h1.0M188.9 57.5h1.0M237.9 70.8h1.0M197.6 46.5h1.0M279.2 60.2h1.0M239.3 58.3h1.0M60.9 36.9h1.0M284.7 63.4h1.0M45.2 49.7h1.0M238.6 63.3h1.0M62.0 73.8h1.0M336.3 50.2h1.0M85.1 59.4h1.0M301.8 48.1h1.0M143.1 58.0h1.0M41.9 56.3h1.0M161.2 46.3h1.0M309.8 55.6h1.0M115.3 62.2h1.0M254.9 59.4h1.0M75.7 63.5h1.0M146.3 58.9h1.0M230.4 50.3h1.0M209.9 26.2h1.0M117.1 59.9h1.0M71.8 56.6h1.0M120.2 67.1h1.0M78.2 52.6h1.0M150.8 59.6h1.0M249.1 52.0h1.0M172.8 45.2h1.0M88.5 47.6h1.0M206.3 56.2h1.0M299.5 32.9h1.0M54.6 60.6h1.0M175.8 65.4h1.0M170.8 46.3h1.0M261.1 47.7h1.0M321.4 56.0h1.0M171.8 56.7h1.0M335.3 65.1h1.0M230.3 32.0h1.0M150.9 52.7h1.0M88.2 75.8h1.0M113.1 55.3h1.0M283.2 75.4h1.0M182.8 59.4h1.0M62.3 46.1h1.0M260.5 63.0h1.0M260.3 64.3h1.0M316.0 44.5h1.0M302.8 80.9h1.0M150.6 69.9h1.0M110.6 68.7h1.0M124.8 36.0h1.0M135.3 43.4h1.0M312.2 33.1h1.0M309.1 51.1h1.0M160.6 62.5h1.0M91.4 78.7h1.0M166.9 66.2h1.0M294.7 47.0h1.0M88.3 77.1h1.0M119.7 47.9h1.0M286.6 46.5h1.0M251.7 52.4h1.0M200.3 73.3h1.0M243.9 23.2h1.0M226.6 69.6h1.0M200.4 48.7h1.0M181.0 45.6h1.0M211.9 23.2h1.0M324.7 51.7h1.0M269.3 46.7h1.0M238.6 46.9h1.0M270.0 41.4h1.0M294.1 51.7h1.0M254.5 39.3h1.0M244.1 55.0h1.0M298.3 67.5h1.0M152.4 80.4h1.0M117.8 48.2h1.0M65.9 73.1h1.0M256.8 62.1h1.0M129.1 72.9h1.0M220.2 39.1h1.0M194.8 48.4h1.0M105.9 47.5h1.0M290.4 63.5h1.0M76.4 63.5h1.0M82.5 25.1h1.0M198.0 57.9h1.0M148.2 74.4h1.0M52.8 50.2h1.0M47.7 66.8h1.0M101.8 43.5h1.0M203.6 59.2h1.0M288.9 44.5h1.0M102.9 49.9h1.0M212.5 34.3h1.0M200.6 67.2h1.0M296.2 79.9h1.0M288.5 47.4h1.0M76.3 57.2h1.0M319.3 47.9h1.0M70.4 51.5h1.0M333.4 58.7h1.0M296.9 56.3h1.0M290.0 54.5h1.0M240.0 57.4h1.0M172.6 70.7h1.0M253.9 82.0h1.0M283.0 63.6h1.0M45.0 61.9h1.0M99.2 46.5h1.0M128.8 46.4h1.0M66.6 55.6h1.0M310.1 54.5h1.0M111.5 57.1h1.0M221.1 47.0h1.0M220.5 53.9h1.0M250.0 47.6h1.0M83.6 56.3h1.0M260.1 53.9h1.0M112.7 61.9h1.0M153.4 62.5h1.0M268.5 50.1h1.0M214.7 67.1h1.0M214.6 64.7h1.0M125.1 88.4h1.0M66.4 28.8h1.0M309.9 48.1h1.0M99.9 47.9h1.0M180.5 74.4h1.0M208.3 65.4h1.0M306.2 62.8h1.0M125.5 57.4h1.0M297.8 51.0h1.0M244.7 51.9h1.0M111.0 56.2h1.0M254.9 49.2h1.0M142.4 45.5h1.0M256.0 53.2h1.0M222.8 49.8h1.0M139.6 40.2h1.0M174.7 46.0h1.0M142.2 37.5h1.0M104.6 47.3h1.0M156.9 66.0h1.0M112.0 46.8h1.0M106.3 73.2h1.0M266.4 36.3h1.0M201.3 74.8h1.0M65.0 48.4h1.0M56.7 66.0h1.0M277.9 43.4h1.0M211.3 61.8h1.0M283.9 74.5h1.0M110.3 45.9h1.0M241.4 64.3h1.0M224.4 68.4h1.0M65.2 38.4h1.0M227.9 58.8h1.0M296.3 53.0h1.0M179.0 41.5h1.0M222.8 61.9h1.0M151.2 61.2h1.0M233.4 58.6h1.0M277.3 46.2h1.0M203.3 53.9h1.0M257.3 53.0h1.0M203.0 60.4h1.0M289.3 65.5h1.0M93.7 48.9h1.0M222.2 46.8h1.0M330.5 71.7h1.0M112.4 62.0h1.0M84.7 39.5h1.0M56.2 68.1h1.0M98.0 72.1h1.0M237.5 72.2h1.0M279.6 64.8h1.0M317.1 46.8h1.0M84.9 49.7h1.0M269.1 65.1h1.0M315.6 62.2h1.0M340.1 48.6h1.0M313.3 60.5h1.0M258.2 59.6h1.0M85.5 39.0h1.0M112.1 50.0h1.0M273.7 81.2h1.0M193.7 58.8h1.0M337.1 56.7h1.0M100.7 43.1h1.0M143.7 51.5h1.0M323.5 55.3h1.0M86.8 44.6h1.0M302.3 63.0h1.0M290.5 71.3h1.0M273.7 62.6h1.0M86.9 32.1h1.0M72.4 53.6h1.0M183.3 50.4h1.0M116.1 54.9h1.0M117.6 68.0h1.0M101.8 40.7h1.0M88.7 63.2h1.0M332.0 48.0h1.0M205.1 61.3h1.0M146.1 56.1h1.0M319.5 56.2h1.0M90.3 65.4h1.0M105.8 71.8h1.0M52.9 38.7h1.0M304.3 57.5h1.0M165.6 26.6h1.0M297.4 49.0h1.0M214.4 70.0h1.0M140.3 30.3h1.0M97.9 48.3h1.0M62.5 45.6h1.0M314.5 48.7h1.0M174.0 61.0h1.0M120.6 61.1h1.0M254.1 45.2h1.0M51.1 40.9h1.0M233.7 53.1h1.0M43.6 63.4h1.0M71.9 59.1h1.0M121.7 68.5h1.0M268.9 62.0h1.0M216.9 52.5h1.0M287.9 60.1h1.0M333.3 32.6h1.0M233.0 70.2h1.0M186.2 63.1h1.0M229.7 47.8h1.0M47.1 50.1h1.0M82.2 61.6h1.0M284.7 49.9h1.0M168.0 33.7h1.0M205.3 75.8h1.0M288.2 49.6h1.0M75.4 33.4h1.0M108.4 31.2h1.0M139.5 52.3h1.0M269.2 17.2h1.0M316.9 46.1h1.0M97.9 35.0h1.0M337.1 49.0h1.0M186.0 68.9h1.0M78.4 34.0h1.0M143.4 72.6h1.0M100.1 43.0h1.0M172.7 56.4h1.0M93.1 73.9h1.0M165.3 62.2h1.0M172.0 63.3h1.0M100.2 35.8h1.0M108.9 34.6h1.0M212.3 54.2h1.0M291.5 56.9h1.0M267.2 64.1h1.0M335.4 59.5h1.0M138.9 54.3h1.0M244.4 50.8h1.0M268.9 46.1h1.0M118.0 53.2h1.0M182.4 38.3h1.0M154.6 47.4h1.0M43.4 55.5h1.0M116.8 60.0h1.0M231.8 51.5h1.0M146.7 63.1h1.0M138.6 63.6h1.0M64.2 63.2h1.0M144.3 57.5h1.0M46.1 49.2h1.0M130.3 66.5h1.0M249.5 62.2h1.0M232.5 49.9h1.0M297.1 63.2h1.0M171.7 66.1h1.0M159.3 55.0h1.0M204.6 55.1h1.0M69.6 38.8h1.0M52.1 48.3h1.0M158.5 61.1h1.0M176.1 59.2h1.0M222.6 42.2h1.0M96.0 73.3h1.0M169.7 54.1h1.0M115.6 51.1h1.0M277.1 41.8h1.0M138.0 59.5h1.0M233.6 41.0h1.0M268.7 61.2h1.0M125.1 47.2h1.0M80.7 60.2h1.0M88.4 34.8h1.0M326.4 55.5h1.0M87.9 64.3h1.0M308.0 54.1h1.0M178.5 62.2h1.0M264.4 50.9h1.0M314.1 74.0h1.0M282.2 52.7h1.0M125.1 41.3h1.0M197.4 30.5h1.0M270.0 72.5h1.0M90.0 44.9h1.0M235.9 65.6h1.0M98.7 40.7h1.0M50.3 43.6h1.0M295.5 71.2h1.0M40.1 32.1h1.0M319.9 60.2h1.0M119.8 28.2h1.0M110.2 38.5h1.0M297.6 51.6h1.0M114.3 46.4h1.0M165.6 41.9h1.0M178.1 61.0h1.0M110.2 36.5h1.0M168.2 62.6h1.0M134.7 55.6h1.0M259.4 35.0h1.0M140.4 59.4h1.0M271.8 56.4h1.0M220.1 79.2h1.0M66.6 62.9h1.0M82.8 61.7h1.0M145.4 72.3h1.0M91.3 31.2h1.0M249.3 38.1h1.0M213.2 41.4h1.0M182.2 38.3h1.0M172.1 61.0h1.0M319.1 57.7h1.0M288.7 82.5h1.0M154.4 41.3h1.0M270.0 43.2h1.0M274.2 61.3h1.0M310.4 57.0h1.0M242.2 57.6h1.0M324.8 46.5h1.0M319.8 62.1h1.0M46.8 57.6h1.0M126.5 63.8h1.0M229.3 16.2h1.0M287.4 63.2h1.0M312.6 74.6h1.0M96.2 46.5h1.0M59.7 79.7h1.0M59.9 64.6h1.0M47.0 48.8h1.0M256.9 68.0h1.0M138.4 39.4h1.0M195.1 53.2h1.0M139.1 48.3h1.0M68.6 63.0h1.0M234.5 44.0h1.0M85.4 34.3h1.0M47.8 42.7h1.0M198.3 74.5h1.0M330.3 62.1h1.0M249.3 36.4h1.0M116.2 38.6h1.0M235.2 56.9h1.0M68.8 69.8h1.0M286.0 51.0h1.0M199.9 72.3h1.0M229.1 63.0h1.0M293.8 32.8h1.0M332.0 44.5h1.0M271.4 61.7h1.0M103.0 62.2h1.0M262.2 48.3h1.0M170.5 53.0h1.0M220.5 28.5h1.0M152.2 62.2h1.0M311.1 66.3h1.0M75.4 54.3h1.0M320.6 63.5h1.0M74.2 68.5h1.0M46.3 46.9h1.0M208.2 70.8h1.0M257.6 47.9h1.0M169.9 64.5h1.0M108.6 57.3h1.0M252.7 55.8h1.0M193.0 74.9h1.0M184.3 77.3h1.0M211.4 52.1h1.0M111.3 62.2h1.0M90.9 71.0h1.0M227.2 69.3h1.0M178.6 59.1h1.0M194.7 64.6h1.0M158.5 70.4h1.0M127.7 55.4h1.0M206.6 50.5h1.0M177.2 65.9h1.0M222.1 72.5h1.0M276.9 62.0h1.0M227.0 53.1h1.0M293.4 48.5h1.0M195.6 77.6h1.0M261.9 67.9h1.0M178.8 60.5h1.0M245.2 52.5h1.0M194.2 64.7h1.0M42.6 37.7h1.0M338.7 62.8h1.0M273.6 48.3h1.0M58.3 36.6h1.0M73.1 44.4h1.0M323.3 24.0h1.0M154.1 37.8h1.0M247.9 65.8h1.0M147.0 52.5h1.0M266.8 45.3h1.0M114.7 47.3h1.0M211.4 39.5h1.0M293.0 40.8h1.0M47.2 58.5h1.0M86.4 49.3h1.0M177.9 50.7h1.0M298.6 31.4h1.0M58.5 42.1h1.0M321.9 66.5h1.0M118.7 50.5h1.0M90.2 60.5h1.0M47.4 46.7h1.0M303.2 66.1h1.0M250.2 63.3h1.0M295.1 65.5h1.0M95.7 57.9h1.0M191.0 62.0h1.0M64.8 50.4h1.0M72.7 53.2h1.0M197.5 52.8h1.0M246.4 47.2h1.0M139.5 37.1h1.0M67.5 51.0h1.0M289.7 49.7h1.0M336.1 64.9h1.0M43.3 56.5h1.0M151.2 79.4h1.0M232.7 62.5h1.0M339.7 44.2h1.0M197.8 52.1h1.0M211.6 63.8h1.0M210.3 41.1h1.0M72.2 52.9h1.0M339.0 57.3h1.0M329.4 56.7h1.0M78.6 39.6h1.0M68.1 61.3h1.0M333.2 57.7h1.0M110.3 72.7h1.0M104.1 52.0h1.0M237.7 74.7h1.0M275.4 68.1h1.0M297.4 61.7h1.0M274.4 54.8h1.0M318.8 41.8h1.0M119.4 29.9h1.0M191.8 65.2h1.0M309.3 29.9h1.0M324.4 55.5h1.0M303.4 40.0h1.0M111.2 35.0h1.0M319.4 71.3h1.0M44.7 70.4h1.0M50.1 73.6h1.0M47.3 48.6h1.0M145.8 46.9h1.0M54.2 54.9h1.0M79.5 57.6h1.0M279.9 67.9h1.0M163.9 53.6h1.0M109.1 49.0h1.0M321.8 53.0h1.0M289.9 37.5h1.0M65.4 60.8h1.0M223.0 49.9h1.0M249.6 76.9h1.0M297.7 48.3h1.0M332.1 57.0h1.0M130.7 46.3h1.0M144.8 65.5h1.0M328.1 77.6h1.0M294.8 49.2h1.0M278.8 71.7h1.0M186.4 89.2h1.0M311.9 70.1h1.0M226.2 57.6h1.0M169.7 59.7h1.0M260.5 58.0h1.0M71.5 44.3h1.0M208.0 56.7h1.0M82.0 74.8h1.0M94.4 40.3h1.0M316.3 66.0h1.0M112.3 44.4h1.0M124.0 56.4h1.0M279.7 73.8h1.0M333.3 41.7h1.0M319.9 71.8h1.0M310.7 34.1h1.0M78.7 74.5h1.0M172.1 48.2h1.0M229.2 51.5h1.0M189.9 58.6h1.0M195.6 52.7h1.0M336.0 54.3h1.0M197.7 46.4h1.0M327.1 56.2h1.0M103.5 45.5h1.0M196.6 69.9h1.0M58.3 78.9h1.0M264.2 45.9h1.0M149.7 65.6h1.0M200.1 55.5h1.0M108.0 64.2h1.0M78.5 67.1h1.0M331.8 56.7h1.0M322.4 51.7h1.0M65.5 27.7h1.0M57.2 82.6h1.0M171.2 38.5h1.0M291.4 69.3h1.0M317.8 51.0h1.0M267.3 61.3h1.0M330.3 40.3h1.0M301.9 63.2h1.0M196.5 49.3h1.0M339.5 46.7h1.0M112.6 48.5h1.0M307.6 55.7h1.0M168.2 43.5h1.0M238.7 53.3h1.0M323.4 41.2h1.0M338.1 77.7h1.0M290.6 43.5h1.0M270.8 62.7h1.0M104.1 47.6h1.0M169.1 43.3h1.0M140.4 46.7h1.0M154.4 56.2h1.0M111.7 60.2h1.0M314.7 67.4h1.0M46.0 54.8h1.0M258.7 70.9h1.0M212.2 36.4h1.0M114.4 28.9h1.0M56.3 68.2h1.0M92.1 55.1h1.0M331.5 60.1h1.0M160.5 33.7h1.0M204.6 56.1h1.0M187.2 71.6h1.0M249.7 68.6h1.0M166.4 43.4h1.0M72.8 59.3h1.0M144.3 53.2h1.0M67.2 57.3h1.0M121.9 69.2h1.0M243.0 56.5h1.0M297.9 62.4h1.0M119.4 58.7h1.0M186.9 70.3h1.0M156.1 53.9h1.0M320.3 52.0h1.0M310.7 55.6h1.0M212.3 55.4h1.0M270.3 55.5h1.0M262.8 45.3h1.0M278.1 37.4h1.0M277.7 47.1h1.0M130.2 34.7h1.0M211.2 72.6h1.0M299.7 40.5h1.0M226.2 47.0h1.0M265.5 61.3h1.0M85.1 47.6h1.0M72.0 53.9h1.0M228.1 66.1h1.0M327.5 44.1h1.0M310.0 73.7h1.0M155.3 43.0h1.0M182.1 62.2h1.0M296.1 43.3h1.0M238.3 45.7h1.0M100.1 33.4h1.0M87.0 65.9h1.0M50.4 58.7h1.0M82.8 34.5h1.0M229.3 71.9h1.0M337.4 42.6h1.0M265.6 44.3h1.0M112.1 43.8h1.0M45.4 31.6h1.0M293.0 82.0h1.0M333.5 42.0h1.0M289.9 42.0h1.0M311.7 67.1h1.0M106.6 50.2h1.0M314.5 39.6h1.0M230.5 65.1h1.0M235.1 84.4h1.0M167.9 60.1h1.0M192.8 47.9h1.0M170.0 43.0h1.0M230.4 43.8h1.0M271.9 38.4h1.0M204.9 42.2h1.0M179.8 47.8h1.0M145.7 50.4h1.0M89.7 54.2h1.0M107.6 75.3h1.0M180.7 34.5h1.0M248.6 55.8h1.0M335.8 54.3h1.0M281.4 35.5h1.0M175.5 74.7h1.0M166.1 65.1h1.0M297.4 29.7h1.0M261.2 91.8h1.0M294.9 37.9h1.0M331.2 59.5h1.0M140.1 72.0h1.0M142.0 49.5h1.0M286.2 64.4h1.0M264.8 37.5h1.0M182.7 43.2h1.0M235.8 43.7h1.0M249.9 51.4h1.0M131.8 74.0h1.0M55.8 73.2h1.0M176.3 25.1h1.0M182.2 33.9h1.0M294.6 53.9h1.0M69.7 40.2h1.0M204.5 36.8h1.0M121.9 49.8h1.0M121.7 57.8h1.0M151.2 43.0h1.0M78.5 43.0h1.0M287.2 46.5h1.0M266.3 60.4h1.0M56.1 65.8h1.0M154.7 55.9h1.0M265.8 44.1h1.0M318.3 55.8h1.0M298.1 48.3h1.0M265.5 36.7h1.0M196.6 51.5h1.0M75.4 55.2h1.0M325.6 62.0h1.0M165.3 61.6h1.0M178.1 48.6h1.0M167.5 44.1h1.0M282.8 57.5h1.0M284.3 80.0h1.0M43.8 55.4h1.0M223.8 57.1h1.0M237.5 40.3h1.0M151.9 35.7h1.0M217.8 52.0h1.0M126.2 43.6h1.0M137.1 22.8h1.0M73.6 55.2h1.0M46.6 64.1h1.0M106.6 75.1h1.0M189.2 60.4h1.0M143.2 42.5h1.0M138.3 48.4h1.0M314.4 42.8h1.0M54.6 67.4h1.0M59.4 58.4h1.0M109.6 39.5h1.0M200.5 60.6h1.0M106.2 52.1h1.0M274.8 55.1h1.0M40.0 34.1h1.0M152.8 23.1h1.0M109.9 57.9h1.0M166.3 45.4h1.0M154.5 52.2h1.0M192.1 70.9h1.0M154.4 49.3h1.0M137.7 72.1h1.0M229.9 59.7h1.0M117.9 24.8h1.0M152.2 51.0h1.0M215.1 58.9h1.0M332.5 56.6h1.0M338.2 54.8h1.0M173.6 43.6h1.0M221.4 51.4h1.0M229.9 52.2h1.0M336.4 62.0h1.0M109.2 52.4h1.0M77.8 51.0h1.0M313.6 55.6h1.0M256.5 47.1h1.0M106.3 64.7h1.0M178.0 48.7h1.0M155.4 74.4h1.0M195.2 60.3h1.0M109.5 57.9h1.0M323.2 51.6h1.0M325.6 65.8h1.0M121.4 62.4h1.0M69.4 43.0h1.0M322.5 93.6h1.0M209.6 71.2h1.0M193.8 82.9h1.0M106.9 52.6h1.0M301.4 38.2h1.0M83.2 72.2h1.0M329.1 49.0h1.0M95.3 61.8h1.0M198.3 29.1h1.0M110.2 48.8h1.0M80.4 68.9h1.0M90.8 68.0h1.0M134.0 60.5h1.0M261.9 65.9h1.0M213.7 45.3h1.0M161.8 76.8h1.0M88.9 50.1h1.0M177.6 43.9h1.0M65.4 48.2h1.0M240.1 65.8h1.0M333.9 64.6h1.0M136.2 39.8h1.0M131.6 66.3h1.0M290.7 66.2h1.0M108.0 68.8h1.0M98.2 55.2h1.0M314.3 60.1h1.0M274.2 37.7h1.0M313.9 38.0h1.0M137.1 78.2h1.0M331.6 57.3h1.0M338.3 52.4h1.0M225.8 72.0h1.0M302.3 53.9h1.0M163.1 51.6h1.0M93.8 63.9h1.0M47.2 67.8h1.0M149.0 29.8h1.0M102.4 31.0h1.0M189.1 80.9h1.0M198.1 65.7h1.0M95.6 37.7h1.0M197.6 55.4h1.0M135.8 69.3h1.0M258.7 65.0h1.0M99.9 58.1h1.0M279.5 46.7h1.0M274.7 58.0h1.0M296.7 57.2h1.0M105.0 47.3h1.0M291.6 48.2h1.0M322.7 63.4h1.0M297.8 60.7h1.0M232.6 59.1h1.0M104.3 34.1h1.0M268.5 71.9h1.0M164.4 59.2h1.0M127.2 57.5h1.0M99.1 55.5h1.0M245.9 68.2h1.0M182.4 48.5h1.0M49.8 53.3h1.0M283.0 47.9h1.0M42.3 70.2h1.0M221.7 71.5h1.0M94.6 50.6h1.0M323.7 38.7h1.0M145.0 52.7h1.0M178.2 57.7h1.0M82.4 44.4h1.0M217.1 52.7h1.0M159.9 42.1h1.0M297.7 39.5h1.0M248.5 56.7h1.0M189.4 84.0h1.0M313.4 43.5h1.0M112.7 31.4h1.0M190.9 57.6h1.0M226.8 36.0h1.0M165.1 48.0h1.0M275.6 61.2h1.0M336.4 64.3h1.0M194.4 51.5h1.0M239.6 77.4h1.0M162.5 39.4h1.0M319.1 53.2h1.0M88.6 55.9h1.0M188.0 58.3h1.0M234.6 62.4h1.0M47.1 43.2h1.0M134.3 51.9h1.0M58.7 41.8h1.0M145.0 44.0h1.0M213.8 52.0h1.0M201.0 47.8h1.0M269.9 49.5h1.0M135.3 57.9h1.0M71.4 39.4h1.0M282.4 50.0h1.0M176.2 33.2h1.0M293.7 61.7h1.0M89.9 51.0h1.0M57.7 63.1h1.0M260.6 48.7h1.0M191.3 66.6h1.0M175.9 50.4h1.0M237.3 47.0h1.0M241.0 43.6h1.0M279.8 68.8h1.0M211.4 56.9h1.0M160.8 51.7h1.0M101.2 56.6h1.0M175.9 52.2h1.0M246.2 77.3h1.0M69.4 69.5h1.0M276.1 53.2h1.0M233.9 43.1h1.0M195.6 84.3h1.0M114.8 35.1h1.0M196.9 53.3h1.0M119.8 65.9h1.0M173.1 63.6h1.0M263.3 37.6h1.0M145.3 52.6h1.0M286.7 44.5h1.0M320.9 52.9h1.0M327.2 41.6h1.0M128.9 55.6h1.0M93.3 46.0h1.0M235.7 55.1h1.0M242.4 40.8h1.0M326.7 45.2h1.0M284.6 29.2h1.0M75.3 65.9h1.0M73.0 46.6h1.0M55.2 57.9h1.0M134.9 40.8h1.0M79.4 57.8h1.0M185.3 57.2h1.0M89.1 61.8h1.0M338.9 41.1h1.0M209.0 26.8h1.0M244.7 61.6h1.0M292.6 29.0h1.0M323.6 59.2h1.0M150.4 54.5h1.0M117.6 74.8h1.0M245.5 44.2h1.0M108.9 75.7h1.0M237.4 68.8h1.0M72.5 63.5h1.0M146.1 73.4h1.0M229.0 46.5h1.0M252.5 46.0h1.0M288.1 42.2h1.0M61.7 56.1h1.0M73.5 42.9h1.0M331.0 79.3h1.0M277.7 68.4h1.0M68.3 70.1h1.0M328.1 47.7h1.0M173.1 30.0h1.0M117.7 21.1h1.0M76.3 28.4h1.0M70.2 65.1h1.0M329.0 49.5h1.0M186.7 72.1h1.0" stroke="#5e5e5e" stroke-width="1.0" stroke-opacity="0.85" fill="none"/>
<path d="M56.0 181.7h1.2M302.3 158.2h1.2M58.6 178.6h1.2M207.7 193.4h1.2M79.0 188.8h1.2M42.9 172.6h1.2M163.3 171.4h1.2M277.8 148.4h1.2M287.6 169.6h1.2M321.9 206.9h1.2M233.8 185.2h1.2M233.7 165.1h1.2M317.0 159.2h1.2M130.5 166.9h1.2M272.8 168.0h1.2M246.1 186.6h1.2M233.9 197.1h1.2M315.7 168.2h1.2M282.1 154.7h1.2M161.3 177.8h1.2M102.3 162.6h1.2M181.0 188.4h1.2M195.6 165.0h1.2M181.7 210.8h1.2M284.5 171.4h1.2M52.7 198.9h1.2M231.9 185.5h1.2M261.2 153.9h1.2M329.0 158.2h1.2M310.8 158.8h1.2M316.2 166.5h1.2M237.6 196.5h1.2M151.5 160.4h1.2M214.0 178.3h1.2M163.0 203.9h1.2M85.8 159.7h1.2M284.9 185.1h1.2M256.5 174.7h1.2M63.9 170.3h1.2M189.5 175.1h1.2M139.3 180.4h1.2M132.2 149.3h1.2M126.7 150.5h1.2M64.1 185.5h1.2M59.6 172.7h1.2M226.3 175.1h1.2M104.9 182.6h1.2M60.3 169.9h1.2M216.6 171.2h1.2M93.8 182.9h1.2M241.6 181.7h1.2M174.1 211.3h1.2M74.2 171.9h1.2M131.9 177.4h1.2M142.6 180.1h1.2M212.6 187.6h1.2M56.0 162.6h1.2M298.5 179.0h1.2M261.7 179.4h1.2M183.2 204.9h1.2M309.6 184.9h1.2M133.8 189.0h1.2M306.5 176.5h1.2M138.4 190.2h1.2M56.3 164.8h1.2M103.1 179.5h1.2M281.5 178.6h1.2M244.0 145.8h1.2M204.7 190.1h1.2M134.5 176.1h1.2M244.8 170.3h1.2M72.3 153.6h1.2M73.8 169.7h1.2M199.0 174.1h1.2M115.1 156.9h1.2M175.4 186.7h1.2M168.6 187.0h1.2M306.7 164.3h1.2M49.5 153.8h1.2M176.6 193.9h1.2M45.7 175.6h1.2M162.7 171.9h1.2M90.4 188.8h1.2M215.7 191.2h1.2M56.7 157.4h1.2M43.2 181.6h1.2M239.3 168.9h1.2M305.3 157.1h1.2M167.7 178.1h1.2M254.1 178.9h1.2M115.3 168.9h1.2M211.8 183.3h1.2M324.0 158.6h1.2M112.3 171.3h1.2M309.8 163.7h1.2M189.9 196.7h1.2M243.8 202.8h1.2M268.0 191.8h1.2M202.5 198.1h1.2M84.8 182.7h1.2M100.4 168.5h1.2M146.8 173.9h1.2M291.9 153.9h1.2M39.7 168.7h1.2M135.9 143.3h1.2M201.3 190.9h1.2M198.5 194.6h1.2M326.5 179.1h1.2M109.4 180.0h1.2M326.1 171.0h1.2M91.2 160.1h1.2M196.2 183.3h1.2M193.0 193.0h1.2M93.0 146.8h1.2M253.9 177.3h1.2M218.3 180.8h1.2M74.5 182.6h1.2M301.3 177.1h1.2M39.9 161.1h1.2M121.0 164.4h1.2M319.4 154.0h1.2M76.0 167.9h1.2M316.7 155.7h1.2M254.8 167.4h1.2M144.5 190.1h1.2M246.9 169.7h1.2M158.1 172.6h1.2M195.0 172.6h1.2M212.4 215.5h1.2M283.2 176.4h1.2M134.7 202.2h1.2M193.8 189.5h1.2M188.8 151.6h1.2M337.7 176.9h1.2M291.4 180.4h1.2M155.8 168.1h1.2M175.4 194.8h1.2M334.4 181.2h1.2M111.9 160.3h1.2M272.2 164.8h1.2M158.5 171.5h1.2M289.4 166.9h1.2M332.1 171.6h1.2M127.9 163.9h1.2M88.2 178.0h1.2M289.5 163.1h1.2M303.0 193.0h1.2M286.7 170.0h1.2M54.8 165.1h1.2M174.4 178.8h1.2M139.2 168.5h1.2M326.9 196.9h1.2M56.3 177.7h1.2M263.6 187.4h1.2M168.1 180.6h1.2M224.5 177.5h1.2M64.7 154.0h1.2M329.8 208.3h1.2M197.1 189.9h1.2M51.2 168.6h1.2M263.1 181.4h1.2M277.5 172.0h1.2M174.5 211.8h1.2M159.4 185.3h1.2M92.2 177.5h1.2M275.5 175.6h1.2M261.6 177.1h1.2M74.0 175.8h1.2M82.6 183.7h1.2M248.6 145.8h1.2M226.5 182.5h1.2M116.3 165.3h1.2M317.4 176.5h1.2M265.2 181.5h1.2M174.3 177.8h1.2M88.2 170.4h1.2M296.1 156.5h1.2M194.9 216.5h1.2M297.2 162.3h1.2M314.8 180.7h1.2M125.9 180.1h1.2M53.4 185.5h1.2M290.5 176.0h1.2M191.6 181.0h1.2M318.6 180.3h1.2M84.5 163.3h1.2M100.7 139.8h1.2M129.1 160.6h1.2M41.3 172.9h1.2M260.5 195.1h1.2M61.9 153.3h1.2M113.4 161.5h1.2M321.8 173.5h1.2M152.4 170.0h1.2M97.7 192.6h1.2M67.0 174.1h1.2M271.5 155.9h1.2M106.2 188.1h1.2M237.7 168.3h1.2M209.9 180.8h1.2M83.5 149.2h1.2M290.3 158.9h1.2M223.5 165.5h1.2M228.5 177.9h1.2M333.8 176.6h1.2M258.6 195.0h1.2M94.6 186.7h1.2M165.5 188.5h1.2M300.6 181.7h1.2M150.1 173.0h1.2M135.6 163.9h1.2M294.2 177.9h1.2M45.3 161.4h1.2M223.7 188.3h1.2M308.9 168.3h1.2M272.4 170.0h1.2M85.9 183.3h1.2M297.7 171.3h1.2M64.6 144.5h1.2M239.2 158.1h1.2M251.7 207.2h1.2M149.6 174.5h1.2M138.2 174.0h1.2M52.2 170.0h1.2M142.6 143.1h1.2M141.1 171.1h1.2M58.9 181.9h1.2M304.6 167.8h1.2M337.2 174.7h1.2M297.0 166.1h1.2M227.7 172.3h1.2M80.4 193.7h1.2M52.1 177.6h1.2M227.3 199.3h1.2M264.7 145.6h1.2M334.0 177.8h1.2M85.7 162.7h1.2M230.2 164.5h1.2M45.9 172.4h1.2M77.4 176.9h1.2M131.8 161.1h1.2M290.2 171.8h1.2M184.1 211.2h1.2M330.0 200.1h1.2M126.1 170.0h1.2M216.9 153.1h1.2M314.8 144.3h1.2M270.9 162.8h1.2M184.9 192.3h1.2M181.8 175.5h1.2M312.3 172.1h1.2M124.6 186.4h1.2M225.9 175.4h1.2M125.8 194.9h1.2M229.4 168.6h1.2M241.6 172.7h1.2M143.9 158.1h1.2M40.8 175.8h1.2M161.3 193.6h1.2M150.2 166.3h1.2M143.6 161.7h1.2M47.8 182.9h1.2M45.4 169.8h1.2M232.5 140.7h1.2M336.8 197.4h1.2M178.7 184.5h1.2M240.8 160.9h1.2M127.0 163.8h1.2M251.9 168.0h1.2M307.3 153.6h1.2M113.2 152.6h1.2M173.9 170.9h1.2M329.4 187.4h1.2M108.1 176.3h1.2M91.7 174.5h1.2M330.7 179.7h1.2M289.5 168.2h1.2M232.5 185.7h1.2M138.3 174.7h1.2M162.9 162.8h1.2M273.8 168.8h1.2M256.8 170.0h1.2M332.0 166.3h1.2M328.0 193.1h1.2M174.9 179.1h1.2M251.4 173.2h1.2M117.9 167.0h1.2M89.8 179.2h1.2M320.5 175.2h1.2M333.1 160.7h1.2M208.9 172.5h1.2M66.8 188.7h1.2M283.6 167.1h1.2M288.0 150.5h1.2M81.0 179.4h1.2M94.7 157.7h1.2M191.1 158.8h1.2M62.9 170.8h1.2M42.3 169.8h1.2M252.0 184.6h1.2M293.4 154.4h1.2M278.1 152.2h1.2M181.7 203.4h1.2M297.5 172.5h1.2M312.8 169.0h1.2M112.9 170.9h1.2M126.2 163.0h1.2M51.7 162.5h1.2M57.8 183.3h1.2M213.9 193.1h1.2M249.8 153.3h1.2M307.2 198.9h1.2M57.1 169.0h1.2M97.4 154.8h1.2M222.3 169.0h1.2M52.1 197.8h1.2M243.6 170.1h1.2M222.0 177.9h1.2M273.4 189.2h1.2M292.6 171.6h1.2M206.8 172.8h1.2M116.1 183.6h1.2M312.1 178.7h1.2M146.8 169.9h1.2M320.2 174.5h1.2M131.4 155.5h1.2M85.7 157.1h1.2M165.3 186.3h1.2M67.5 141.8h1.2M324.6 177.7h1.2M182.8 182.0h1.2M206.3 175.9h1.2M59.8 161.9h1.2M111.0 157.8h1.2M169.3 201.3h1.2M58.7 176.9h1.2M140.7 183.6h1.2M338.0 176.2h1.2M183.5 185.4h1.2M182.5 187.6h1.2M250.1 146.8h1.2M89.6 205.5h1.2M77.5 174.4h1.2M204.0 175.9h1.2M217.9 187.0h1.2M212.6 183.7h1.2M275.4 183.2h1.2M61.7 199.9h1.2M337.6 202.7h1.2M161.1 188.0h1.2M108.1 190.6h1.2M136.8 174.1h1.2M61.9 188.2h1.2M81.9 171.1h1.2M338.2 177.5h1.2M243.5 152.6h1.2M319.1 177.2h1.2M180.5 180.0h1.2M206.9 186.3h1.2M120.0 169.3h1.2M249.1 164.9h1.2M106.2 184.5h1.2M149.4 160.3h1.2M300.5 154.9h1.2M205.0 156.8h1.2M159.3 192.6h1.2M142.3 162.1h1.2M155.5 165.9h1.2M129.2 196.1h1.2M103.4 182.9h1.2M102.7 154.1h1.2M228.7 177.5h1.2M313.1 155.6h1.2M94.6 190.4h1.2M337.5 147.4h1.2M313.8 148.0h1.2M237.1 173.9h1.2M155.3 186.5h1.2M188.3 170.8h1.2M299.6 178.8h1.2M334.7 183.2h1.2M112.3 174.3h1.2M207.8 182.1h1.2M260.7 178.1h1.2M227.0 159.6h1.2M148.6 179.5h1.2M120.5 192.4h1.2M233.7 185.8h1.2M263.2 157.0h1.2M188.6 181.4h1.2M101.7 160.3h1.2M105.1 162.3h1.2M58.5 208.6h1.2M110.0 185.8h1.2M249.7 169.0h1.2M131.3 164.7h1.2M84.5 158.5h1.2M268.9 158.3h1.2M81.7 181.3h1.2M316.6 141.9h1.2M154.8 178.5h1.2M142.1 182.7h1.2M189.7 172.8h1.2M119.1 165.7h1.2M92.6 189.1h1.2M261.8 168.0h1.2M224.2 171.2h1.2M112.2 190.4h1.2M292.0 184.5h1.2M130.1 159.8h1.2M246.8 144.4h1.2M175.3 178.8h1.2M224.9 170.7h1.2M107.1 149.3h1.2M133.7 206.9h1.2M63.4 162.2h1.2M98.1 156.4h1.2M111.9 152.0h1.2M266.5 203.5h1.2M92.1 180.9h1.2M331.6 158.8h1.2M315.0 182.1h1.2M234.7 170.0h1.2M253.5 179.1h1.2M62.1 171.5h1.2M124.8 172.5h1.2M222.5 160.4h1.2M131.4 176.2h1.2M209.6 198.4h1.2M66.9 156.0h1.2M312.9 190.4h1.2M56.2 177.1h1.2M292.8 187.7h1.2M308.0 178.3h1.2M44.9 162.6h1.2M132.4 161.8h1.2M171.5 200.7h1.2M92.2 173.2h1.2M146.0 180.8h1.2M226.6 179.8h1.2M244.7 174.9h1.2M50.5 180.3h1.2M232.2 178.1h1.2M192.8 174.0h1.2M202.9 177.3h1.2M89.4 172.2h1.2M105.0 167.5h1.2M204.6 166.3h1.2M96.5 172.6h1.2M169.3 195.7h1.2M281.5 186.3h1.2M130.6 169.6h1.2M329.0 193.4h1.2M181.4 212.7h1.2M257.0 173.8h1.2M215.7 177.4h1.2M331.3 213.6h1.2M299.6 163.9h1.2M181.2 206.9h1.2M253.1 204.6h1.2M214.3 181.8h1.2M142.4 157.2h1.2M68.9 177.2h1.2M180.4 206.0h1.2M183.8 182.7h1.2M208.5 196.8h1.2M284.2 169.0h1.2M270.4 158.3h1.2M127.4 175.6h1.2M84.0 152.1h1.2M167.2 205.7h1.2M82.1 154.7h1.2M164.4 197.4h1.2M177.6 190.2h1.2M325.5 172.9h1.2M264.3 182.6h1.2M63.6 147.1h1.2M147.7 168.0h1.2M334.3 165.0h1.2M292.6 178.1h1.2M124.2 167.6h1.2M333.5 194.8h1.2M219.4 169.8h1.2M222.2 161.5h1.2M195.6 188.7h1.2M200.4 168.7h1.2M122.8 162.5h1.2M258.8 178.5h1.2M338.9 192.8h1.2M209.0 194.9h1.2M221.0 149.7h1.2M289.3 131.9h1.2M283.3 174.8h1.2M126.8 215.3h1.2M239.3 164.1h1.2M163.9 167.8h1.2M253.5 209.9h1.2M119.7 167.8h1.2M183.0 209.6h1.2M51.6 181.3h1.2M230.6 173.1h1.2M246.0 187.4h1.2M65.2 196.9h1.2M326.1 142.9h1.2M169.2 167.7h1.2M253.1 199.0h1.2M163.9 203.6h1.2M258.6 158.8h1.2M323.0 176.6h1.2M121.3 159.5h1.2M162.9 179.9h1.2M104.0 173.3h1.2M319.9 158.4h1.2M215.4 197.6h1.2M55.4 144.7h1.2M139.6 182.2h1.2M323.6 198.0h1.2M243.2 169.0h1.2M177.9 212.5h1.2M124.4 186.0h1.2M210.9 186.1h1.2M298.0 201.2h1.2M229.3 188.6h1.2M105.2 170.9h1.2M85.9 171.5h1.2M167.2 182.4h1.2M240.6 164.0h1.2M223.0 181.1h1.2M317.9 160.1h1.2M43.7 183.4h1.2M259.7 212.0h1.2M328.3 174.1h1.2M184.1 177.5h1.2M123.1 174.6h1.2M295.0 197.5h1.2M70.1 208.2h1.2M337.3 173.8h1.2M98.7 175.1h1.2M238.4 175.5h1.2M108.0 179.4h1.2M216.3 173.1h1.2M299.3 171.2h1.2M169.5 173.6h1.2M263.1 172.3h1.2M128.0 171.1h1.2M302.5 168.0h1.2M110.2 155.9h1.2M59.2 157.3h1.2M210.8 172.5h1.2M332.7 166.3h1.2M117.4 185.2h1.2M269.0 167.1h1.2M154.6 153.1h1.2M76.6 170.8h1.2M220.6 165.6h1.2M155.3 180.4h1.2M60.1 177.5h1.2M109.2 170.6h1.2M285.9 187.1h1.2M126.9 163.5h1.2M170.6 174.7h1.2M137.5 160.2h1.2M333.3 211.1h1.2M72.2 160.2h1.2M263.8 155.1h1.2M303.7 182.2h1.2M158.7 181.2h1.2M206.9 180.9h1.2M310.5 151.2h1.2M169.1 156.8h1.2M182.4 185.9h1.2M236.9 141.0h1.2M297.8 166.9h1.2M198.6 213.8h1.2M211.8 174.4h1.2M173.2 140.4h1.2M171.6 154.3h1.2M116.8 188.0h1.2M279.8 171.0h1.2M221.9 185.6h1.2M320.0 188.8h1.2M238.7 214.3h1.2M123.1 168.1h1.2M122.6 168.3h1.2M208.6 130.3h1.2M317.3 180.3h1.2M65.2 172.0h1.2M199.7 157.3h1.2M319.2 167.2h1.2M279.7 177.1h1.2M147.5 174.8h1.2M215.0 183.7h1.2M313.3 172.1h1.2M177.2 179.5h1.2M86.5 212.1h1.2M165.4 162.2h1.2M254.5 179.8h1.2M39.9 168.1h1.2M329.4 142.9h1.2M180.8 178.2h1.2M335.3 187.4h1.2M230.4 186.0h1.2M182.5 189.4h1.2M319.2 175.0h1.2M75.0 172.0h1.2M335.0 171.9h1.2M148.2 144.8h1.2M181.4 203.3h1.2M60.2 157.5h1.2M89.4 203.0h1.2M189.0 171.9h1.2M254.7 160.5h1.2M165.5 188.7h1.2M338.2 184.2h1.2M228.5 158.5h1.2M320.8 176.2h1.2M53.3 165.6h1.2M100.7 178.1h1.2M285.1 177.1h1.2M128.4 174.3h1.2M108.0 182.7h1.2M49.7 162.8h1.2M196.2 211.9h1.2M177.1 190.9h1.2M281.9 148.8h1.2M227.8 159.1h1.2M116.4 192.1h1.2M146.0 154.3h1.2M75.0 202.2h1.2M42.7 166.6h1.2M304.0 181.1h1.2M251.1 180.6h1.2M332.3 176.0h1.2M222.7 163.8h1.2M85.3 153.5h1.2M41.3 178.2h1.2M92.4 160.1h1.2M163.0 184.5h1.2M171.5 191.0h1.2M306.6 201.0h1.2M125.4 179.5h1.2M317.5 173.0h1.2M45.4 191.4h1.2M234.6 194.3h1.2M188.6 191.7h1.2M216.7 196.7h1.2M271.8 198.7h1.2M99.0 182.1h1.2M274.9 180.2h1.2M106.5 157.4h1.2M55.6 196.9h1.2M150.8 187.0h1.2M269.0 157.3h1.2M144.3 186.5h1.2M196.3 179.3h1.2M64.9 162.7h1.2M275.4 160.6h1.2M67.9 158.3h1.2M197.1 176.8h1.2M196.0 181.1h1.2M155.4 166.1h1.2M155.7 178.5h1.2M77.8 176.9h1.2M267.6 172.1h1.2M182.4 199.8h1.2M316.4 165.9h1.2M179.8 195.1h1.2M111.6 172.0h1.2M95.8 130.6h1.2M222.3 179.1h1.2M294.4 157.6h1.2M281.0 170.5h1.2M242.6 178.0h1.2M338.0 153.3h1.2M328.8 170.6h1.2M165.3 205.9h1.2M77.0 168.7h1.2M86.2 167.3h1.2M125.2 190.8h1.2M63.4 172.2h1.2M188.7 193.7h1.2M238.1 174.1h1.2M156.0 165.4h1.2M289.4 171.5h1.2M317.5 185.4h1.2M65.8 154.6h1.2M219.3 203.9h1.2M260.8 174.3h1.2M231.2 165.0h1.2M310.5 184.7h1.2M77.7 158.9h1.2M260.3 172.0h1.2M54.3 176.2h1.2M218.7 179.4h1.2M187.1 205.1h1.2M184.4 173.1h1.2M219.8 172.9h1.2M251.4 193.9h1.2M44.7 161.0h1.2M245.5 168.6h1.2M65.2 165.7h1.2M136.5 172.4h1.2M333.0 165.3h1.2M285.5 159.5h1.2M177.7 190.7h1.2M89.4 173.5h1.2M93.2 166.4h1.2M310.6 159.9h1.2M163.4 175.9h1.2M63.1 184.9h1.2M183.3 183.4h1.2M160.2 182.9h1.2M198.3 206.3h1.2M200.4 205.1h1.2M259.7 179.4h1.2M182.0 193.6h1.2M165.1 190.8h1.2M152.4 186.4h1.2M163.9 172.6h1.2M292.2 171.0h1.2M186.7 172.5h1.2M210.5 191.3h1.2M173.6 185.8h1.2M95.0 194.0h1.2M63.7 160.8h1.2M74.2 198.5h1.2M124.6 199.8h1.2M272.4 149.9h1.2M212.9 197.8h1.2M147.0 153.0h1.2M86.0 185.2h1.2M69.5 150.2h1.2M86.3 165.0h1.2M106.2 185.6h1.2M224.0 191.8h1.2M255.9 166.2h1.2M131.2 173.4h1.2M194.0 204.3h1.2M290.8 198.8h1.2M263.1 189.7h1.2M149.7 162.7h1.2M273.7 165.0h1.2M217.2 180.1h1.2M171.6 192.4h1.2M236.3 148.8h1.2M193.2 180.8h1.2M68.6 169.8h1.2M175.9 180.1h1.2M177.3 161.8h1.2M41.9 156.6h1.2M331.0 183.9h1.2M62.8 188.4h1.2M53.9 155.5h1.2M127.1 180.1h1.2M211.0 185.0h1.2M83.3 174.8h1.2M210.8 209.5h1.2M50.0 170.9h1.2M276.8 163.0h1.2M272.9 167.9h1.2M328.5 164.4h1.2M92.4 129.3h1.2M291.7 185.0h1.2M149.7 160.1h1.2M104.8 195.5h1.2M211.4 203.2h1.2M179.2 186.4h1.2M170.1 183.7h1.2M100.4 167.7h1.2M186.1 186.6h1.2M233.7 146.9h1.2M246.4 161.3h1.2M321.9 138.6h1.2M315.3 178.2h1.2M171.8 202.9h1.2M237.9 164.8h1.2M131.4 169.3h1.2M295.4 175.0h1.2M157.9 168.0h1.2M312.2 173.2h1.2M154.8 154.6h1.2M183.3 190.4h1.2M132.7 176.4h1.2M187.9 173.4h1.2M306.3 149.2h1.2M283.6 184.0h1.2M123.9 148.8h1.2M256.4 160.1h1.2M42.4 180.6h1.2M292.7 174.0h1.2M199.2 179.7h1.2M100.2 176.0h1.2M293.9 177.2h1.2M230.2 194.9h1.2M317.4 187.2h1.2M79.9 165.6h1.2M134.7 173.2h1.2M296.8 157.6h1.2M90.5 169.8h1.2M188.0 208.1h1.2M190.1 186.0h1.2M90.5 170.2h1.2M57.2 183.8h1.2M259.4 196.0h1.2M328.6 196.8h1.2M298.0 172.3h1.2M274.5 186.7h1.2M321.9 160.3h1.2M119.0 165.3h1.2M184.6 158.7h1.2M53.5 191.1h1.2M291.9 174.5h1.2M130.9 174.5h1.2M194.9 193.9h1.2M244.2 173.2h1.2M51.2 170.1h1.2M202.4 193.0h1.2M333.0 156.3h1.2M191.4 146.2h1.2M246.2 148.3h1.2M140.0 159.1h1.2M49.1 196.3h1.2M92.5 202.1h1.2M225.1 171.4h1.2M292.8 197.4h1.2M317.9 178.3h1.2M181.4 187.0h1.2M62.1 153.5h1.2M139.0 180.5h1.2M100.2 181.8h1.2M39.9 167.9h1.2M154.5 167.3h1.2M235.2 164.5h1.2M131.9 196.1h1.2M59.1 169.6h1.2M193.0 191.7h1.2M141.4 170.4h1.2M295.7 169.4h1.2M324.7 170.9h1.2M57.6 216.5h1.2M225.6 189.7h1.2M240.2 190.0h1.2M42.0 163.9h1.2M103.3 176.1h1.2M258.9 136.0h1.2M92.8 182.5h1.2M96.0 178.2h1.2M72.6 196.0h1.2M241.8 177.5h1.2M234.1 191.7h1.2M240.7 168.5h1.2M74.5 172.6h1.2M238.6 150.0h1.2M79.6 165.7h1.2M253.4 170.2h1.2M110.4 157.7h1.2M200.7 201.2h1.2M202.3 212.5h1.2M107.8 165.3h1.2M321.2 164.0h1.2M161.2 193.1h1.2M44.9 181.0h1.2M292.2 165.4h1.2M281.6 179.6h1.2M84.9 163.4h1.2M76.4 146.7h1.2M68.0 165.6h1.2M149.1 181.9h1.2M258.6 177.4h1.2M212.2 191.9h1.2M208.4 178.5h1.2M210.0 173.2h1.2M111.6 182.2h1.2M199.7 193.8h1.2M288.1 198.3h1.2M255.7 152.3h1.2M161.6 191.3h1.2M80.1 183.4h1.2M40.7 173.9h1.2M249.7 144.7h1.2M274.6 141.7h1.2M76.9 180.6h1.2M80.5 184.0h1.2M91.0 180.4h1.2M237.4 161.5h1.2M318.2 165.0h1.2M82.8 172.0h1.2M68.7 150.0h1.2M175.7 187.2h1.2M308.8 172.9h1.2M189.9 204.7h1.2M74.9 153.9h1.2M274.5 184.8h1.2M215.8 182.0h1.2M326.2 171.6h1.2M206.9 174.0h1.2M180.8 178.3h1.2M127.7 175.4h1.2M43.3 147.9h1.2M95.7 171.6h1.2M59.9 172.8h1.2M253.6 165.1h1.2M97.8 154.3h1.2M196.7 205.0h1.2M136.4 193.1h1.2M267.2 194.1h1.2M253.8 161.8h1.2M80.8 162.7h1.2M110.7 161.4h1.2M156.6 168.0h1.2M290.9 167.4h1.2M77.0 165.3h1.2M249.9 175.7h1.2M167.2 182.1h1.2M89.3 177.1h1.2M227.4 180.1h1.2M278.4 140.6h1.2M124.1 198.6h1.2M270.4 146.2h1.2M150.5 158.7h1.2M248.3 168.3h1.2M89.2 192.0h1.2M331.8 130.4h1.2M305.5 156.7h1.2M94.5 176.5h1.2M157.1 148.4h1.2M47.1 197.5h1.2M251.7 190.4h1.2M179.5 164.0h1.2M328.5 177.9h1.2M194.2 190.6h1.2M73.1 154.0h1.2M255.1 180.8h1.2M98.9 163.7h1.2M270.2 181.0h1.2M326.8 164.9h1.2M204.2 210.0h1.2M115.4 181.8h1.2M256.5 171.9h1.2M112.9 164.6h1.2M299.2 156.4h1.2M79.3 172.8h1.2M233.8 186.6h1.2M62.2 175.9h1.2M78.5 163.3h1.2M227.3 165.7h1.2M86.3 178.2h1.2M338.5 176.8h1.2M316.1 198.8h1.2M203.3 164.3h1.2M273.4 163.9h1.2M318.8 160.6h1.2M172.9 193.2h1.2M107.6 208.5h1.2M90.9 151.0h1.2M268.7 166.2h1.2M92.0 192.4h1.2M139.8 158.3h1.2M207.1 198.1h1.2M147.9 153.5h1.2M181.6 212.1h1.2M98.1 182.3h1.2M76.2 163.2h1.2M136.3 201.9h1.2M175.0 195.5h1.2M211.6 193.2h1.2M282.5 170.4h1.2M209.7 163.7h1.2M324.2 186.4h1.2M238.6 170.4h1.2M328.6 178.4h1.2M308.8 163.1h1.2M281.6 170.5h1.2M179.0 196.2h1.2M91.3 184.6h1.2M303.7 185.1h1.2M205.9 184.5h1.2M241.3 209.3h1.2M305.8 180.2h1.2M275.9 182.6h1.2M308.3 185.5h1.2M203.4 201.3h1.2M210.8 179.7h1.2M232.5 170.0h1.2M158.8 157.0h1.2M303.9 199.2h1.2M105.3 138.1h1.2M254.7 176.6h1.2M286.9 168.4h1.2M289.0 169.4h1.2M89.5 162.8h1.2M159.8 185.2h1.2M219.2 179.3h1.2M234.7 167.8h1.2M87.0 168.2h1.2M121.0 167.8h1.2M282.5 198.4h1.2M42.9 168.4h1.2M301.3 180.0h1.2M75.8 172.8h1.2M292.7 182.9h1.2M102.0 175.4h1.2M206.9 179.5h1.2M271.3 182.7h1.2M153.5 193.0h1.2M158.8 191.4h1.2M310.1 157.6h1.2M68.5 189.9h1.2M309.5 186.1h1.2M107.8 173.8h1.2M336.1 185.6h1.2M78.2 164.3h1.2M43.3 182.4h1.2M117.9 144.9h1.2M287.4 181.3h1.2M283.1 198.1h1.2M262.8 154.0h1.2M311.9 159.1h1.2M123.4 173.6h1.2M120.8 151.9h1.2M271.0 186.6h1.2M186.4 195.4h1.2M126.7 207.8h1.2M131.3 171.9h1.2M111.7 154.6h1.2M135.8 183.7h1.2M250.4 171.8h1.2M216.8 199.0h1.2M273.0 165.2h1.2M239.4 173.0h1.2M89.1 170.3h1.2M62.3 172.5h1.2M78.2 167.0h1.2M268.9 185.7h1.2M119.2 179.0h1.2M170.5 175.3h1.2M337.1 182.7h1.2M103.6 184.4h1.2M288.5 166.1h1.2M216.6 173.6h1.2M112.2 170.5h1.2M249.9 181.7h1.2M100.5 176.6h1.2M281.8 172.4h1.2M140.9 151.1h1.2M266.4 162.9h1.2M277.0 172.3h1.2M55.7 181.3h1.2M116.2 172.8h1.2M75.6 163.3h1.2M296.9 165.1h1.2M79.3 179.0h1.2M217.7 178.6h1.2M200.1 148.8h1.2M66.7 145.0h1.2M99.5 151.0h1.2M263.8 185.4h1.2M152.4 174.0h1.2M116.2 175.5h1.2M60.9 171.8h1.2M211.5 175.8h1.2M254.5 146.2h1.2M237.5 175.1h1.2M321.7 178.1h1.2M157.5 198.0h1.2M246.0 165.8h1.2M252.7 171.3h1.2M289.9 171.4h1.2M326.4 179.2h1.2M315.5 184.6h1.2M45.7 170.5h1.2M132.9 169.8h1.2M139.0 185.1h1.2M171.2 135.2h1.2M319.2 165.1h1.2M289.4 180.8h1.2M130.0 173.0h1.2M266.9 148.4h1.2M133.0 168.7h1.2M263.3 172.8h1.2M172.9 182.3h1.2M171.5 203.5h1.2M334.4 166.0h1.2M297.4 176.0h1.2M276.4 155.4h1.2M107.9 174.6h1.2M327.8 186.5h1.2M274.2 195.2h1.2M43.6 135.5h1.2M50.9 172.2h1.2M259.1 164.3h1.2M249.3 166.7h1.2M174.3 172.4h1.2M171.3 179.4h1.2M277.3 176.4h1.2M159.3 194.8h1.2M123.8 171.7h1.2M307.7 198.0h1.2M170.8 179.7h1.2M162.4 157.0h1.2M126.4 165.4h1.2M219.4 157.3h1.2M76.5 155.8h1.2M323.7 190.7h1.2M260.7 198.1h1.2M75.9 177.8h1.2M151.8 176.4h1.2M264.9 164.0h1.2M182.0 186.8h1.2M43.2 174.1h1.2M148.6 158.6h1.2M168.0 186.3h1.2M212.7 189.3h1.2M295.2 169.8h1.2M168.5 184.7h1.2M99.6 188.9h1.2M306.3 158.6h1.2M307.3 156.0h1.2M229.9 163.9h1.2M177.9 200.0h1.2M319.0 174.7h1.2M180.8 168.9h1.2M158.3 158.8h1.2M200.2 207.0h1.2M154.5 144.5h1.2M234.4 179.1h1.2M154.4 199.2h1.2M112.6 148.4h1.2M88.2 177.0h1.2M289.7 154.2h1.2M70.6 167.0h1.2M115.9 162.9h1.2M200.7 132.8h1.2M87.6 164.1h1.2M145.3 175.3h1.2M223.0 168.7h1.2M63.0 196.0h1.2M237.0 150.9h1.2M50.8 160.6h1.2M237.2 145.4h1.2M100.2 149.8h1.2M213.4 209.0h1.2M253.9 189.0h1.2M202.5 203.4h1.2M275.2 171.7h1.2M301.4 172.1h1.2M69.4 195.7h1.2M319.5 191.1h1.2M331.7 166.8h1.2M262.6 186.3h1.2M330.1 171.0h1.2M160.0 196.1h1.2M259.1 187.8h1.2M254.2 171.4h1.2M136.3 156.5h1.2M208.8 184.3h1.2M83.0 173.0h1.2M248.2 171.7h1.2M109.7 168.2h1.2M249.7 158.1h1.2M289.4 168.9h1.2M253.0 170.0h1.2M76.7 188.4h1.2M213.0 188.9h1.2M94.2 179.9h1.2M164.7 172.4h1.2M297.8 160.7h1.2M155.8 145.2h1.2M102.4 162.1h1.2M238.9 184.1h1.2M335.4 212.4h1.2M304.3 164.4h1.2M256.3 175.6h1.2M149.3 183.4h1.2M263.5 148.8h1.2M231.2 175.2h1.2M231.3 178.8h1.2M114.8 190.3h1.2M108.6 164.7h1.2M131.5 170.3h1.2M213.1 182.7h1.2M207.3 172.7h1.2M148.5 190.3h1.2M310.2 176.4h1.2M84.4 204.4h1.2M181.5 192.4h1.2M128.4 183.3h1.2M308.8 153.8h1.2M135.6 163.2h1.2M327.9 156.4h1.2M57.6 200.1h1.2M280.5 171.5h1.2M229.1 153.9h1.2M146.8 172.7h1.2M67.3 140.5h1.2M75.6 166.2h1.2M329.8 151.2h1.2M131.5 165.7h1.2M148.0 191.8h1.2M65.7 166.0h1.2M123.5 188.8h1.2M107.0 170.6h1.2M40.1 172.0h1.2M203.3 204.2h1.2M256.6 163.7h1.2M171.1 196.1h1.2M119.8 164.7h1.2M73.3 149.6h1.2M332.4 169.2h1.2M224.0 165.3h1.2M226.3 161.1h1.2M156.4 170.3h1.2M97.1 164.0h1.2M264.7 185.2h1.2M45.4 172.3h1.2M189.0 173.7h1.2M307.8 166.3h1.2M92.9 168.8h1.2M92.5 181.2h1.2M244.8 179.7h1.2M88.0 159.1h1.2M65.4 191.9h1.2M131.7 181.5h1.2M218.5 179.8h1.2M157.9 165.2h1.2M131.9 140.6h1.2M265.0 197.2h1.2M286.6 189.5h1.2M334.8 187.2h1.2M319.0 159.1h1.2M160.3 145.4h1.2M113.5 161.1h1.2M62.4 168.6h1.2M84.2 152.9h1.2M167.0 181.7h1.2M116.3 188.4h1.2M229.8 142.5h1.2M56.3 177.9h1.2M73.7 184.8h1.2M329.6 164.6h1.2M89.2 169.4h1.2M68.1 167.3h1.2M242.3 170.6h1.2M134.5 185.6h1.2M240.4 141.3h1.2M219.5 214.3h1.2M58.0 206.8h1.2M130.4 176.4h1.2M106.2 180.5h1.2M241.1 173.9h1.2M267.3 209.2h1.2M255.9 194.1h1.2M330.6 147.6h1.2M225.3 181.4h1.2M229.5 189.4h1.2M85.2 165.4h1.2M247.2 180.1h1.2M307.2 176.3h1.2M192.9 191.1h1.2M235.6 170.3h1.2M247.5 187.0h1.2M320.6 159.3h1.2M162.2 188.9h1.2M86.2 185.6h1.2M214.9 190.4h1.2M61.9 152.6h1.2M100.9 154.2h1.2M108.9 146.2h1.2M207.6 185.0h1.2M320.0 179.1h1.2M138.5 137.3h1.2M154.1 189.6h1.2M74.2 159.1h1.2M239.7 178.8h1.2M293.6 148.0h1.2M306.0 152.8h1.2M169.5 193.1h1.2M123.9 141.5h1.2M63.5 196.9h1.2M147.8 159.3h1.2M78.7 155.2h1.2M155.2 188.6h1.2M321.8 195.2h1.2M127.3 155.4h1.2M291.4 177.5h1.2M282.5 148.1h1.2M79.3 203.0h1.2M79.6 157.9h1.2M319.6 153.0h1.2M207.1 198.2h1.2M175.8 188.5h1.2M88.0 179.6h1.2M297.7 157.0h1.2M270.5 187.6h1.2M90.1 174.0h1.2M313.6 153.7h1.2M243.5 167.4h1.2M281.4 139.0h1.2M324.2 150.4h1.2M103.3 186.9h1.2M164.4 199.8h1.2M191.3 210.0h1.2M111.2 145.1h1.2M132.9 162.9h1.2M299.0 173.5h1.2M46.7 141.8h1.2M133.7 142.9h1.2M237.5 204.0h1.2M323.3 167.9h1.2M107.3 164.3h1.2M112.0 149.6h1.2M66.9 195.9h1.2M217.3 168.6h1.2M110.8 137.4h1.2M216.5 205.4h1.2M81.3 165.6h1.2M119.9 176.7h1.2M90.4 173.9h1.2M235.3 140.5h1.2M137.7 169.2h1.2M241.3 186.4h1.2M171.6 205.9h1.2M109.4 181.2h1.2M169.1 173.0h1.2M176.5 200.5h1.2M277.6 175.7h1.2M210.0 183.7h1.2M42.5 144.5h1.2M274.2 172.8h1.2M129.0 154.9h1.2M300.8 187.7h1.2M250.6 159.7h1.2M264.1 163.5h1.2M46.0 159.7h1.2M321.9 188.4h1.2M243.5 159.6h1.2M64.4 143.1h1.2M275.3 156.5h1.2M74.9 179.7h1.2M212.3 192.3h1.2M86.5 206.1h1.2M297.1 169.8h1.2M258.0 172.2h1.2M264.7 163.8h1.2M126.8 172.6h1.2M140.3 171.4h1.2M218.7 180.3h1.2M89.9 144.1h1.2M168.7 204.0h1.2M298.3 168.2h1.2M45.3 162.9h1.2M336.6 160.0h1.2M77.2 171.5h1.2M331.9 179.6h1.2M245.5 184.1h1.2M279.5 173.4h1.2M170.0 209.7h1.2M313.8 142.9h1.2M329.8 170.3h1.2M157.0 180.6h1.2M145.8 179.0h1.2M41.7 172.3h1.2M64.4 156.5h1.2M207.6 179.8h1.2M126.6 180.1h1.2M65.6 161.2h1.2M255.2 179.8h1.2M229.5 143.8h1.2M90.4 166.3h1.2M117.1 148.4h1.2M149.6 160.7h1.2M168.9 198.3h1.2M324.0 167.6h1.2M236.3 143.5h1.2M236.3 201.1h1.2M218.4 169.3h1.2M246.3 176.1h1.2M223.7 202.8h1.2M61.5 166.7h1.2M82.3 166.7h1.2M166.3 199.8h1.2M212.1 192.8h1.2M56.8 161.3h1.2M246.6 154.6h1.2M274.2 152.4h1.2M191.0 196.4h1.2M166.9 198.0h1.2M336.6 167.7h1.2M329.5 161.0h1.2M62.6 183.0h1.2M127.3 145.3h1.2M238.7 160.6h1.2M322.1 198.0h1.2M194.6 202.6h1.2M191.2 189.1h1.2M99.6 138.2h1.2M214.1 191.8h1.2M108.2 148.7h1.2M272.4 181.9h1.2M186.9 198.6h1.2M325.9 169.7h1.2M167.9 199.2h1.2M103.7 190.5h1.2M324.6 187.7h1.2M48.7 168.4h1.2M154.9 176.4h1.2M83.0 166.6h1.2M240.6 170.5h1.2M248.8 155.4h1.2M164.8 200.8h1.2M156.8 171.4h1.2M152.7 179.2h1.2M307.0 144.6h1.2M156.6 146.3h1.2M261.0 175.9h1.2M142.4 178.5h1.2M90.5 212.7h1.2M314.6 174.7h1.2M295.9 170.8h1.2M176.0 203.3h1.2M208.0 192.1h1.2M105.8 180.7h1.2M312.2 149.1h1.2M101.5 186.6h1.2M236.8 141.9h1.2M317.5 165.9h1.2M110.0 163.8h1.2M278.5 172.0h1.2M238.2 193.4h1.2M82.1 168.7h1.2M270.0 172.4h1.2M176.1 195.7h1.2M40.3 157.4h1.2M339.8 150.2h1.2M175.7 200.9h1.2M175.8 196.0h1.2M150.2 179.2h1.2M269.8 168.4h1.2M109.4 158.4h1.2M339.8 183.9h1.2M164.2 173.8h1.2M206.8 207.2h1.2M284.4 161.7h1.2M284.0 165.0h1.2M153.2 166.0h1.2M236.3 197.0h1.2M216.3 183.8h1.2M277.5 189.9h1.2M77.5 166.7h1.2M171.3 216.5h1.2M335.7 179.7h1.2M146.3 202.3h1.2M68.5 190.6h1.2M184.1 179.9h1.2M253.6 193.5h1.2M211.5 196.5h1.2M286.9 201.0h1.2M230.1 137.0h1.2M45.1 159.8h1.2M156.4 187.1h1.2M286.4 183.1h1.2M340.2 143.8h1.2M220.7 166.4h1.2M281.3 162.0h1.2M132.5 178.4h1.2M169.3 203.6h1.2M52.9 184.1h1.2M107.2 167.8h1.2M283.5 174.3h1.2M339.7 173.7h1.2M50.9 157.6h1.2M42.9 182.2h1.2M264.4 173.5h1.2M169.2 188.6h1.2M195.9 201.1h1.2M55.2 195.4h1.2M267.4 175.7h1.2M153.4 191.4h1.2M332.9 170.2h1.2M104.8 187.0h1.2M250.5 188.0h1.2M123.3 179.9h1.2M100.1 167.5h1.2M321.5 163.8h1.2M287.1 190.1h1.2M230.6 193.6h1.2M113.3 177.9h1.2M245.5 182.6h1.2M135.7 147.7h1.2M127.9 169.2h1.2M132.9 181.5h1.2M206.1 186.0h1.2M138.1 176.9h1.2M199.1 172.0h1.2M201.4 173.8h1.2M54.0 189.8h1.2M283.2 185.4h1.2M236.9 178.3h1.2M330.3 180.4h1.2M66.0 213.6h1.2M124.8 193.4h1.2M249.7 172.2h1.2M187.9 193.9h1.2M157.9 165.5h1.2M210.0 178.5h1.2M133.7 153.1h1.2M154.8 162.3h1.2M261.8 205.5h1.2M194.3 209.4h1.2M321.6 184.5h1.2M67.6 179.0h1.2M217.4 175.8h1.2M181.6 190.0h1.2M123.3 153.5h1.2M215.7 190.6h1.2M333.9 174.1h1.2M332.8 178.2h1.2M134.0 164.8h1.2M321.3 165.2h1.2M75.5 164.8h1.2M130.1 188.1h1.2M283.2 191.1h1.2M281.6 169.6h1.2M336.4 200.5h1.2M232.8 209.3h1.2M248.5 159.7h1.2M108.3 184.3h1.2M84.3 177.7h1.2M51.5 169.7h1.2M238.1 157.2h1.2M188.4 188.5h1.2M315.9 164.9h1.2M50.3 198.3h1.2M216.7 214.2h1.2M104.5 151.4h1.2M155.2 166.4h1.2M209.4 195.4h1.2M218.5 159.4h1.2M209.3 176.7h1.2M166.9 197.6h1.2M277.8 149.4h1.2M180.6 208.9h1.2M262.2 183.6h1.2M293.0 170.4h1.2M117.1 171.0h1.2M317.3 168.3h1.2M162.0 157.1h1.2M243.5 173.2h1.2M145.3 182.1h1.2M62.6 190.4h1.2M330.8 176.7h1.2M142.2 153.1h1.2M171.6 178.4h1.2M331.6 188.1h1.2M183.5 200.4h1.2M308.8 185.6h1.2M163.4 205.2h1.2M175.1 173.3h1.2M152.5 195.8h1.2M164.5 196.6h1.2M219.7 149.6h1.2M263.3 144.8h1.2M145.2 141.4h1.2M261.0 169.3h1.2M204.6 163.5h1.2M238.6 148.5h1.2M164.0 177.3h1.2M87.1 148.6h1.2M241.6 175.2h1.2M266.2 147.6h1.2M199.3 182.1h1.2M171.3 190.8h1.2M68.6 159.5h1.2M147.8 169.6h1.2M246.9 174.5h1.2M188.6 196.9h1.2M220.8 163.4h1.2M197.1 176.6h1.2M257.3 178.3h1.2M243.8 146.5h1.2M75.2 170.5h1.2M272.7 168.7h1.2M247.7 175.7h1.2M125.3 181.1h1.2M188.5 202.8h1.2M56.4 149.7h1.2M198.0 188.4h1.2M218.7 181.8h1.2M208.9 183.6h1.2M71.8 173.5h1.2M184.9 162.2h1.2M232.8 196.6h1.2M66.5 169.9h1.2M223.6 189.8h1.2M326.3 167.0h1.2M305.8 189.8h1.2M290.3 180.2h1.2M44.8 203.4h1.2M172.9 176.7h1.2M123.5 178.6h1.2M81.1 152.3h1.2M167.4 174.3h1.2M147.0 141.0h1.2M200.5 190.2h1.2M301.4 195.2h1.2M184.0 156.3h1.2M296.1 204.9h1.2M160.1 175.4h1.2M92.4 159.5h1.2M283.1 151.9h1.2M334.9 184.9h1.2M234.8 176.7h1.2M51.5 194.0h1.2M77.4 165.0h1.2M106.3 145.1h1.2M117.0 145.4h1.2M164.4 188.4h1.2M63.4 159.0h1.2M336.9 174.5h1.2M60.7 164.4h1.2M265.5 164.3h1.2M193.8 135.0h1.2M326.2 200.9h1.2M68.9 142.3h1.2M196.2 180.8h1.2M138.7 179.7h1.2M220.0 141.4h1.2M78.4 174.1h1.2M235.2 195.4h1.2M262.5 198.4h1.2M113.9 166.4h1.2M275.7 179.0h1.2M50.0 159.3h1.2M74.9 188.7h1.2M185.9 191.0h1.2M65.2 140.5h1.2M79.3 166.2h1.2M250.7 178.9h1.2M310.7 170.7h1.2M128.2 194.3h1.2M245.4 168.5h1.2M59.1 165.0h1.2M82.0 186.8h1.2M135.6 169.5h1.2M192.1 177.8h1.2M58.8 192.6h1.2M158.5 166.3h1.2M265.7 183.3h1.2M210.4 189.2h1.2M304.8 168.6h1.2M270.8 174.6h1.2M147.1 174.2h1.2M167.7 172.5h1.2M148.2 197.0h1.2M235.0 173.0h1.2M193.6 189.3h1.2" stroke="#3a3a3a" stroke-width="1.2" stroke-opacity="1" fill="none"/>
<path d="M56.0 305.2h1.2M302.3 281.7h1.2M58.6 302.2h1.2M207.7 299.8h1.2M79.0 312.3h1.2M42.9 296.1h1.2M163.3 286.9h1.2M277.8 271.8h1.2M287.6 293.1h1.2M321.9 330.5h1.2M233.8 308.7h1.2M233.7 288.6h1.2M317.0 282.7h1.2M130.5 290.4h1.2M272.8 291.5h1.2M246.1 310.1h1.2M233.9 320.7h1.2M315.7 291.7h1.2M282.1 278.1h1.2M161.3 297.7h1.2M102.3 286.0h1.2M181.0 293.4h1.2M195.6 269.6h1.2M181.7 315.8h1.2M284.5 294.9h1.2M52.7 322.5h1.2M231.9 309.0h1.2M261.2 277.3h1.2M329.0 281.6h1.2M310.8 282.2h1.2M316.2 290.0h1.2M237.6 320.0h1.2M151.5 283.9h1.2M214.0 287.3h1.2M163.0 320.1h1.2M85.8 283.2h1.2M284.9 308.6h1.2M256.5 298.2h1.2M63.9 293.8h1.2M189.5 279.6h1.2M139.3 303.9h1.2M132.2 272.8h1.2M126.7 274.0h1.2M64.1 309.1h1.2M59.6 296.2h1.2M226.3 298.6h1.2M104.9 306.1h1.2M60.3 293.4h1.2M216.6 283.9h1.2M93.8 306.4h1.2M241.6 305.2h1.2M174.1 317.5h1.2M74.2 295.4h1.2M131.9 300.9h1.2M142.6 303.6h1.2M212.6 295.9h1.2M56.0 286.1h1.2M298.5 302.6h1.2M261.7 302.9h1.2M183.2 309.8h1.2M309.6 308.4h1.2M133.8 312.5h1.2M306.5 300.0h1.2M138.4 313.8h1.2M56.3 288.3h1.2M103.1 303.0h1.2M281.5 302.1h1.2M244.0 269.3h1.2M204.7 295.8h1.2M134.5 299.6h1.2M244.8 293.8h1.2M72.3 277.1h1.2M73.8 293.2h1.2M199.0 279.0h1.2M115.1 280.4h1.2M175.4 292.6h1.2M168.6 295.2h1.2M306.7 287.8h1.2M49.5 277.3h1.2M176.6 299.6h1.2M45.7 299.1h1.2M162.7 288.8h1.2M90.4 312.3h1.2M215.7 302.2h1.2M56.7 280.9h1.2M196.1 327.8h1.2M43.2 305.1h1.2M239.3 292.4h1.2M305.3 280.6h1.2M167.7 286.7h1.2M254.1 302.4h1.2M115.3 292.4h1.2M211.8 291.1h1.2M324.0 282.0h1.2M112.3 294.8h1.2M309.8 287.2h1.2M189.9 301.3h1.2M243.8 326.4h1.2M268.0 315.4h1.2M202.5 303.5h1.2M84.8 306.3h1.2M100.4 292.0h1.2M146.8 297.4h1.2M291.9 277.4h1.2M39.7 292.2h1.2M135.9 266.7h1.2M201.3 296.1h1.2M198.5 299.5h1.2M326.5 302.6h1.2M109.4 303.5h1.2M326.1 294.5h1.2M91.2 283.6h1.2M196.2 288.0h1.2M193.0 297.6h1.2M93.0 270.3h1.2M253.9 300.8h1.2M218.3 297.8h1.2M74.5 306.1h1.2M301.3 300.6h1.2M39.9 284.5h1.2M121.0 287.9h1.2M319.4 277.5h1.2M76.0 291.4h1.2M316.7 279.2h1.2M254.8 290.9h1.2M144.5 313.6h1.2M246.9 293.2h1.2M158.1 296.1h1.2M188.5 324.9h1.2M195.0 277.2h1.2M212.4 323.7h1.2M283.2 299.9h1.2M134.7 325.8h1.2M193.8 294.1h1.2M188.8 256.1h1.2M337.7 300.4h1.2M291.4 303.9h1.2M155.8 291.6h1.2M175.4 300.7h1.2M334.4 304.7h1.2M111.9 283.8h1.2M272.2 288.2h1.2M158.5 295.0h1.2M289.4 290.4h1.2M332.1 295.1h1.2M127.9 287.4h1.2M88.2 301.5h1.2M289.5 286.5h1.2M303.0 316.5h1.2M286.7 293.5h1.2M54.8 288.6h1.2M174.4 284.9h1.2M139.2 292.0h1.2M326.9 320.5h1.2M56.3 301.2h1.2M263.6 311.0h1.2M168.1 289.0h1.2M224.5 301.0h1.2M64.7 277.4h1.2M329.8 331.8h1.2M197.1 294.6h1.2M51.2 292.1h1.2M263.1 304.9h1.2M277.5 295.5h1.2M174.5 317.9h1.2M159.4 308.4h1.2M92.2 301.0h1.2M275.5 299.1h1.2M261.6 300.7h1.2M74.0 299.4h1.2M82.6 307.2h1.2M248.6 269.2h1.2M226.5 306.0h1.2M116.3 288.8h1.2M317.4 300.0h1.2M265.2 305.0h1.2M174.3 283.9h1.2M88.2 293.9h1.2M296.1 279.9h1.2M194.9 321.1h1.2M297.2 285.8h1.2M314.8 304.3h1.2M125.9 303.6h1.2M53.4 309.0h1.2M290.5 299.5h1.2M191.6 285.5h1.2M318.6 303.9h1.2M84.5 286.8h1.2M100.7 263.2h1.2M129.1 284.1h1.2M41.3 296.4h1.2M260.5 318.6h1.2M61.9 276.8h1.2M113.4 285.0h1.2M321.8 297.0h1.2M152.4 293.5h1.2M97.7 316.2h1.2M67.0 297.6h1.2M271.5 279.4h1.2M106.2 311.6h1.2M237.7 291.8h1.2M209.9 287.9h1.2M83.5 272.7h1.2M290.3 282.3h1.2M223.5 289.0h1.2M228.5 301.4h1.2M333.8 300.1h1.2M258.6 318.5h1.2M94.6 310.2h1.2M165.5 299.0h1.2M300.6 305.2h1.2M150.1 296.5h1.2M135.6 287.4h1.2M294.2 301.4h1.2M45.3 284.9h1.2M223.7 311.8h1.2M308.9 291.8h1.2M272.4 293.5h1.2M85.9 306.9h1.2M297.7 294.8h1.2M64.6 267.9h1.2M239.2 281.5h1.2M251.7 330.8h1.2M149.6 298.0h1.2M138.2 297.5h1.2M52.2 293.5h1.2M142.6 266.6h1.2M141.1 294.6h1.2M58.9 305.4h1.2M304.6 291.3h1.2M337.2 298.2h1.2M297.0 289.6h1.2M227.7 295.8h1.2M80.4 317.3h1.2M52.1 301.1h1.2M227.3 322.8h1.2M264.7 269.0h1.2M334.0 301.3h1.2M85.7 286.2h1.2M230.2 288.0h1.2M45.9 295.9h1.2M77.4 300.4h1.2M131.8 284.6h1.2M290.2 295.3h1.2M184.1 316.0h1.2M330.0 323.7h1.2M126.1 293.5h1.2M216.9 266.5h1.2M314.8 267.8h1.2M270.9 286.3h1.2M184.9 297.0h1.2M181.8 280.4h1.2M312.3 295.6h1.2M124.6 309.9h1.2M225.9 299.0h1.2M125.8 318.5h1.2M229.4 292.1h1.2M241.6 296.2h1.2M143.9 281.6h1.2M40.8 299.3h1.2M161.3 313.7h1.2M150.2 289.8h1.2M143.6 285.2h1.2M47.8 306.4h1.2M45.4 293.3h1.2M232.5 264.1h1.2M336.8 321.0h1.2M178.7 289.8h1.2M240.8 284.4h1.2M127.0 287.2h1.2M251.9 291.5h1.2M307.3 277.1h1.2M113.2 276.1h1.2M173.9 277.1h1.2M329.4 311.0h1.2M108.1 299.8h1.2M91.7 298.0h1.2M330.7 303.2h1.2M289.5 291.7h1.2M232.5 309.3h1.2M138.3 298.2h1.2M162.9 279.1h1.2M273.8 292.3h1.2M256.8 293.5h1.2M332.0 289.8h1.2M328.0 316.7h1.2M174.9 285.0h1.2M251.4 296.7h1.2M117.9 290.5h1.2M89.8 302.7h1.2M320.5 298.7h1.2M333.1 284.2h1.2M208.9 279.2h1.2M66.8 312.2h1.2M283.6 290.6h1.2M288.0 273.9h1.2M81.0 302.9h1.2M94.7 281.2h1.2M191.1 263.3h1.2M62.9 294.3h1.2M42.3 293.3h1.2M252.0 308.1h1.2M293.4 277.9h1.2M278.1 275.6h1.2M181.7 308.4h1.2M297.5 296.0h1.2M312.8 292.5h1.2M112.9 294.4h1.2M126.2 286.5h1.2M51.7 286.0h1.2M57.8 306.8h1.2M213.9 302.1h1.2M249.8 276.7h1.2M307.2 322.5h1.2M57.1 292.5h1.2M97.4 278.3h1.2M222.3 292.5h1.2M52.1 321.3h1.2M243.6 293.6h1.2M222.0 301.3h1.2M273.4 312.7h1.2M292.6 295.1h1.2M206.8 278.9h1.2M116.1 307.1h1.2M312.1 302.2h1.2M146.8 293.4h1.2M320.2 298.0h1.2M131.4 279.0h1.2M85.7 280.5h1.2M165.3 297.3h1.2M67.5 265.2h1.2M324.6 301.2h1.2M182.8 286.9h1.2M206.3 281.9h1.2M59.8 285.4h1.2M111.0 281.3h1.2M169.3 309.1h1.2M58.7 300.4h1.2M140.7 307.2h1.2M338.0 299.7h1.2M183.5 290.2h1.2M182.5 292.5h1.2M250.1 270.3h1.2M89.6 329.0h1.2M77.5 297.9h1.2M204.0 281.4h1.2M217.9 303.0h1.2M212.6 291.9h1.2M275.4 306.7h1.2M61.7 323.4h1.2M337.6 326.3h1.2M161.1 308.5h1.2M108.1 314.2h1.2M136.8 297.6h1.2M61.9 311.7h1.2M81.9 294.6h1.2M338.2 301.0h1.2M243.5 276.1h1.2M319.1 300.7h1.2M180.5 285.0h1.2M206.9 292.5h1.2M120.0 292.8h1.2M249.1 288.4h1.2M106.2 308.1h1.2M149.4 283.8h1.2M186.4 323.4h1.2M197.4 323.1h1.2M300.5 278.4h1.2M205.0 262.5h1.2M159.3 315.8h1.2M142.3 285.6h1.2M155.5 289.4h1.2M129.2 319.7h1.2M103.4 306.4h1.2M102.7 277.5h1.2M228.7 301.0h1.2M313.1 279.0h1.2M94.6 314.0h1.2M337.5 270.9h1.2M313.8 271.5h1.2M237.1 297.4h1.2M155.3 310.0h1.2M188.3 275.4h1.2M299.6 302.4h1.2M334.7 306.7h1.2M112.3 297.8h1.2M207.8 288.5h1.2M260.7 301.6h1.2M227.0 283.0h1.2M148.6 303.0h1.2M120.5 316.0h1.2M233.7 309.3h1.2M263.2 280.5h1.2M188.6 285.9h1.2M101.7 283.8h1.2M105.1 285.8h1.2M58.5 332.2h1.2M110.0 309.3h1.2M249.7 292.5h1.2M131.3 288.2h1.2M84.5 281.9h1.2M268.9 281.7h1.2M81.7 304.8h1.2M316.6 265.4h1.2M154.8 302.0h1.2M142.1 306.3h1.2M189.7 277.3h1.2M119.1 289.2h1.2M92.6 312.6h1.2M261.8 291.5h1.2M224.2 294.7h1.2M181.6 327.6h1.2M112.2 313.9h1.2M292.0 308.0h1.2M130.1 283.2h1.2M246.8 267.8h1.2M175.3 284.7h1.2M224.9 294.2h1.2M107.1 272.8h1.2M133.7 330.5h1.2M63.4 285.7h1.2M98.1 279.9h1.2M111.9 275.5h1.2M266.5 327.1h1.2M92.1 304.4h1.2M331.6 282.3h1.2M315.0 305.6h1.2M234.7 293.5h1.2M253.5 302.6h1.2M62.1 295.0h1.2M124.8 296.0h1.2M222.5 283.9h1.2M131.4 299.7h1.2M209.6 305.4h1.2M66.9 279.4h1.2M312.9 313.9h1.2M56.2 300.7h1.2M292.8 311.2h1.2M308.0 301.8h1.2M44.9 286.1h1.2M132.4 285.3h1.2M171.5 307.6h1.2M92.2 296.7h1.2M146.0 304.3h1.2M226.6 303.4h1.2M244.7 298.4h1.2M50.5 303.8h1.2M232.2 301.6h1.2M192.8 278.6h1.2M202.9 282.7h1.2M89.4 295.7h1.2M105.0 291.0h1.2M204.6 272.0h1.2M96.5 296.1h1.2M169.3 303.5h1.2M281.5 309.9h1.2M130.6 293.1h1.2M329.0 316.9h1.2M181.4 317.7h1.2M257.0 297.3h1.2M215.7 288.2h1.2M331.3 337.2h1.2M299.6 287.4h1.2M181.2 312.0h1.2M253.1 328.2h1.2M214.3 291.1h1.2M142.4 280.6h1.2M68.9 300.7h1.2M180.4 311.2h1.2M183.8 287.5h1.2M208.5 303.4h1.2M284.2 292.5h1.2M270.4 281.7h1.2M127.4 299.2h1.2M84.0 275.6h1.2M167.2 314.7h1.2M82.1 278.1h1.2M164.4 310.3h1.2M177.6 295.7h1.2M325.5 296.4h1.2M264.3 306.1h1.2M63.6 270.6h1.2M147.7 291.5h1.2M334.3 288.4h1.2M292.6 301.6h1.2M124.2 291.1h1.2M333.5 318.4h1.2M219.4 289.3h1.2M222.2 285.0h1.2M195.6 293.4h1.2M200.4 273.7h1.2M122.8 286.0h1.2M258.8 302.0h1.2M338.9 316.3h1.2M209.0 301.6h1.2M221.0 272.0h1.2M289.3 255.3h1.2M283.3 298.3h1.2M126.8 338.9h1.2M239.3 287.6h1.2M163.9 281.8h1.2M253.5 333.5h1.2M119.7 291.3h1.2M183.0 314.5h1.2M51.6 304.8h1.2M230.6 296.6h1.2M246.0 310.9h1.2M65.2 320.5h1.2M326.1 266.3h1.2M169.2 275.5h1.2M253.1 322.5h1.2M163.9 317.7h1.2M258.6 282.3h1.2M323.0 300.1h1.2M121.3 283.0h1.2M162.9 296.4h1.2M104.0 296.8h1.2M319.9 281.9h1.2M215.4 307.9h1.2M55.4 268.2h1.2M139.6 305.8h1.2M323.6 321.5h1.2M243.2 292.5h1.2M177.9 318.0h1.2M124.4 309.5h1.2M210.9 293.6h1.2M298.0 324.8h1.2M229.3 312.1h1.2M105.2 294.4h1.2M85.9 295.0h1.2M167.2 291.4h1.2M240.6 287.5h1.2M223.0 304.6h1.2M317.9 283.5h1.2M43.7 307.0h1.2M259.7 335.6h1.2M328.3 297.6h1.2M184.1 282.2h1.2M123.1 298.1h1.2M295.0 321.0h1.2M70.1 331.8h1.2M337.3 297.3h1.2M98.7 298.6h1.2M238.4 299.0h1.2M108.0 302.9h1.2M216.3 285.1h1.2M299.3 294.7h1.2M169.5 281.2h1.2M263.1 295.8h1.2M128.0 294.6h1.2M302.5 291.5h1.2M110.2 279.4h1.2M59.2 280.8h1.2M210.8 279.9h1.2M332.7 289.8h1.2M117.4 308.7h1.2M269.0 290.6h1.2M154.6 276.6h1.2M76.6 294.3h1.2M220.6 287.3h1.2M155.3 303.9h1.2M60.1 301.0h1.2M109.2 294.1h1.2M285.9 310.7h1.2M126.9 287.0h1.2M170.6 281.9h1.2M137.5 283.7h1.2M333.3 334.7h1.2M72.2 283.7h1.2M263.8 278.5h1.2M303.7 305.7h1.2M158.7 304.7h1.2M206.9 287.0h1.2M310.5 274.6h1.2M169.1 264.6h1.2M182.4 290.8h1.2M236.9 264.4h1.2M297.8 290.4h1.2M198.6 318.7h1.2M211.8 282.2h1.2M171.6 261.1h1.2M116.8 311.6h1.2M279.8 294.5h1.2M221.9 309.0h1.2M320.0 312.3h1.2M238.7 337.9h1.2M123.1 291.6h1.2M122.6 291.8h1.2M317.3 303.8h1.2M65.2 295.5h1.2M199.7 262.2h1.2M319.2 290.7h1.2M279.7 300.6h1.2M147.5 298.3h1.2M215.0 293.7h1.2M313.3 295.6h1.2M177.2 285.1h1.2M169.5 336.8h1.2M86.5 335.6h1.2M165.4 272.8h1.2M254.5 303.3h1.2M39.9 291.6h1.2M329.4 266.4h1.2M180.8 283.2h1.2M335.3 311.0h1.2M230.4 309.6h1.2M182.5 294.3h1.2M319.2 298.5h1.2M75.0 295.5h1.2M335.0 295.4h1.2M148.2 268.2h1.2M181.4 308.3h1.2M60.2 280.9h1.2M89.4 326.6h1.2M189.0 276.4h1.2M254.7 283.9h1.2M165.5 299.2h1.2M338.2 307.7h1.2M228.5 282.0h1.2M320.8 299.7h1.2M53.3 289.1h1.2M100.7 301.6h1.2M285.1 300.6h1.2M128.4 297.8h1.2M108.0 306.2h1.2M49.7 286.3h1.2M196.2 316.6h1.2M177.1 296.5h1.2M281.9 272.3h1.2M227.8 282.5h1.2M116.4 315.6h1.2M146.0 277.8h1.2M75.0 325.8h1.2M42.7 290.1h1.2M200.6 324.7h1.2M304.0 304.7h1.2M251.1 304.2h1.2M332.3 299.5h1.2M222.7 287.3h1.2M85.3 277.0h1.2M41.3 301.7h1.2M92.4 283.6h1.2M163.0 300.8h1.2M171.5 298.0h1.2M306.6 324.6h1.2M125.4 303.1h1.2M317.5 296.5h1.2M45.4 315.0h1.2M234.6 317.9h1.2M188.6 296.3h1.2M216.7 309.8h1.2M271.8 322.2h1.2M99.0 305.6h1.2M274.9 303.7h1.2M106.5 280.8h1.2M55.6 320.4h1.2M150.8 310.6h1.2M269.0 280.8h1.2M144.3 310.1h1.2M196.3 284.0h1.2M64.9 286.2h1.2M275.4 284.1h1.2M67.9 281.8h1.2M197.1 281.6h1.2M196.0 285.8h1.2M155.4 289.6h1.2M155.7 302.0h1.2M77.8 300.4h1.2M267.6 295.6h1.2M182.4 304.8h1.2M316.4 289.4h1.2M179.8 300.3h1.2M111.6 295.5h1.2M95.8 254.1h1.2M222.3 302.6h1.2M294.4 281.1h1.2M281.0 294.0h1.2M242.6 301.5h1.2M338.0 276.8h1.2M328.8 294.1h1.2M165.3 316.8h1.2M77.0 292.2h1.2M86.2 290.8h1.2M125.2 314.4h1.2M63.4 295.7h1.2M188.7 298.2h1.2M238.1 297.6h1.2M156.0 288.9h1.2M289.4 295.0h1.2M317.5 308.9h1.2M65.8 278.1h1.2M219.3 323.2h1.2M260.8 297.8h1.2M231.2 288.5h1.2M310.5 308.2h1.2M77.7 282.4h1.2M260.3 295.5h1.2M54.3 299.7h1.2M218.7 297.3h1.2M187.1 309.8h1.2M184.4 277.8h1.2M219.8 293.2h1.2M251.4 317.4h1.2M44.7 284.5h1.2M245.5 292.1h1.2M65.2 289.2h1.2M136.5 295.9h1.2M333.0 288.8h1.2M285.5 283.0h1.2M177.7 296.2h1.2M89.4 297.0h1.2M93.2 289.9h1.2M310.6 283.4h1.2M163.4 291.2h1.2M63.1 308.4h1.2M183.3 288.2h1.2M160.2 304.9h1.2M198.3 311.2h1.2M200.4 310.1h1.2M259.7 302.9h1.2M182.0 298.5h1.2M165.1 302.1h1.2M152.4 309.9h1.2M163.9 286.5h1.2M292.2 294.5h1.2M186.7 277.0h1.2M210.5 298.6h1.2M173.6 292.1h1.2M95.0 317.5h1.2M63.7 284.3h1.2M74.2 322.0h1.2M124.6 323.3h1.2M272.4 273.3h1.2M212.9 306.2h1.2M147.0 276.5h1.2M86.0 308.7h1.2M69.5 273.7h1.2M86.3 288.4h1.2M106.2 309.1h1.2M224.0 315.3h1.2M255.9 289.7h1.2M131.2 296.9h1.2M194.0 308.9h1.2M290.8 322.3h1.2M263.1 313.3h1.2M149.7 286.2h1.2M273.7 288.5h1.2M217.2 294.4h1.2M171.6 299.3h1.2M236.3 272.2h1.2M193.2 285.3h1.2M68.6 293.3h1.2M175.9 285.8h1.2M177.3 267.3h1.2M41.9 280.0h1.2M331.0 307.5h1.2M62.8 311.9h1.2M53.9 279.0h1.2M127.1 303.6h1.2M211.0 292.5h1.2M83.3 298.3h1.2M210.8 316.9h1.2M50.0 294.4h1.2M276.8 286.5h1.2M272.9 291.4h1.2M328.5 287.9h1.2M92.4 252.7h1.2M291.7 308.5h1.2M149.7 283.6h1.2M104.8 319.0h1.2M211.4 310.9h1.2M179.2 291.7h1.2M170.1 291.1h1.2M100.4 291.2h1.2M186.1 291.2h1.2M233.7 270.3h1.2M246.4 284.8h1.2M321.9 262.0h1.2M315.3 301.7h1.2M171.8 309.8h1.2M237.9 288.3h1.2M131.4 292.8h1.2M295.4 298.5h1.2M157.9 291.5h1.2M312.2 296.7h1.2M154.8 278.0h1.2M183.3 295.2h1.2M132.7 299.9h1.2M187.9 278.0h1.2M306.3 272.7h1.2M283.6 307.5h1.2M123.9 272.2h1.2M256.4 283.6h1.2M42.4 304.2h1.2M292.7 297.5h1.2M199.2 284.6h1.2M100.2 299.5h1.2M293.9 300.7h1.2M230.2 318.4h1.2M317.4 310.7h1.2M79.9 289.1h1.2M134.7 296.7h1.2M296.8 281.1h1.2M90.5 293.3h1.2M188.0 312.7h1.2M190.1 290.5h1.2M90.5 293.7h1.2M57.2 307.4h1.2M259.4 319.5h1.2M328.6 320.3h1.2M298.0 295.8h1.2M274.5 310.3h1.2M321.9 283.8h1.2M119.0 288.8h1.2M184.6 263.4h1.2M53.5 314.6h1.2M291.9 298.1h1.2M130.9 298.0h1.2M194.9 298.5h1.2M244.2 296.7h1.2M51.2 293.6h1.2M202.4 298.3h1.2M333.0 279.7h1.2M191.4 250.7h1.2M246.2 271.7h1.2M140.0 282.6h1.2M49.1 319.8h1.2M92.5 325.7h1.2M225.1 294.9h1.2M292.8 321.0h1.2M317.9 301.8h1.2M181.4 292.0h1.2M62.1 277.0h1.2M139.0 304.1h1.2M100.2 305.3h1.2M39.9 291.4h1.2M154.5 290.8h1.2M235.2 288.0h1.2M131.9 319.6h1.2M59.1 293.1h1.2M193.0 296.3h1.2M141.4 293.9h1.2M295.7 292.9h1.2M324.7 294.4h1.2M57.6 340.1h1.2M225.6 313.2h1.2M240.2 313.5h1.2M42.0 287.4h1.2M103.3 299.6h1.2M258.9 259.4h1.2M92.8 306.0h1.2M96.0 301.7h1.2M72.6 319.6h1.2M241.8 301.0h1.2M234.1 315.2h1.2M240.7 292.0h1.2M74.5 296.1h1.2M238.6 273.5h1.2M79.6 289.1h1.2M253.4 293.7h1.2M110.4 281.2h1.2M200.7 306.3h1.2M202.3 317.9h1.2M107.8 288.7h1.2M321.2 287.5h1.2M161.2 313.3h1.2M44.9 304.6h1.2M292.2 288.9h1.2M281.6 303.1h1.2M84.9 286.9h1.2M76.4 270.1h1.2M68.0 289.0h1.2M149.1 305.4h1.2M258.6 301.0h1.2M212.2 300.0h1.2M208.4 285.1h1.2M210.0 280.3h1.2M111.6 305.7h1.2M199.7 298.8h1.2M288.1 321.9h1.2M255.7 275.8h1.2M161.6 310.9h1.2M80.1 306.9h1.2M40.7 297.4h1.2M249.7 268.2h1.2M274.6 265.1h1.2M76.9 304.1h1.2M80.5 307.5h1.2M91.0 303.9h1.2M237.4 285.0h1.2M318.2 288.5h1.2M82.8 295.5h1.2M68.7 273.5h1.2M175.7 293.0h1.2M308.8 296.4h1.2M189.9 309.3h1.2M74.9 277.4h1.2M274.5 308.3h1.2M215.8 293.0h1.2M326.2 295.1h1.2M206.9 280.2h1.2M180.8 283.4h1.2M127.7 298.9h1.2M43.3 271.4h1.2M95.7 295.1h1.2M59.9 296.3h1.2M253.6 288.6h1.2M97.8 277.8h1.2M196.7 309.8h1.2M136.4 316.7h1.2M267.2 317.6h1.2M253.8 285.2h1.2M80.8 286.2h1.2M110.7 284.9h1.2M156.6 291.5h1.2M290.9 290.9h1.2M77.0 288.8h1.2M249.9 299.2h1.2M167.2 291.1h1.2M89.3 300.7h1.2M227.4 303.6h1.2M278.4 264.0h1.2M124.1 322.1h1.2M270.4 269.7h1.2M150.5 282.1h1.2M248.3 291.8h1.2M89.2 315.5h1.2M331.8 253.8h1.2M305.5 280.1h1.2M94.5 300.0h1.2M157.1 271.9h1.2M47.1 321.0h1.2M251.7 314.0h1.2M179.5 269.1h1.2M328.5 301.5h1.2M194.2 295.2h1.2M73.1 277.5h1.2M255.1 304.3h1.2M98.9 287.2h1.2M270.2 304.5h1.2M326.8 288.4h1.2M204.2 315.6h1.2M115.4 305.3h1.2M256.5 295.4h1.2M112.9 288.0h1.2M299.2 279.9h1.2M79.3 296.3h1.2M233.8 310.2h1.2M62.2 299.4h1.2M78.5 286.8h1.2M227.3 289.1h1.2M86.3 301.7h1.2M338.5 300.3h1.2M316.1 322.4h1.2M203.3 269.7h1.2M273.4 287.4h1.2M318.8 284.0h1.2M172.9 299.7h1.2M107.6 332.1h1.2M90.9 274.5h1.2M268.7 289.7h1.2M92.0 316.0h1.2M139.8 281.7h1.2M207.1 304.3h1.2M147.9 277.0h1.2M181.6 317.1h1.2M98.1 305.8h1.2M76.2 286.7h1.2M136.3 325.4h1.2M175.0 301.5h1.2M211.6 301.0h1.2M282.5 293.9h1.2M209.7 270.7h1.2M324.2 309.9h1.2M238.6 293.9h1.2M328.6 301.9h1.2M308.8 286.6h1.2M281.6 294.0h1.2M179.0 301.5h1.2M91.3 308.1h1.2M303.7 308.7h1.2M205.9 290.4h1.2M241.3 332.9h1.2M305.8 303.7h1.2M275.9 306.1h1.2M308.3 309.0h1.2M203.4 306.8h1.2M210.8 287.1h1.2M232.5 293.5h1.2M158.8 280.4h1.2M303.9 322.8h1.2M105.3 261.5h1.2M254.7 300.1h1.2M286.9 291.9h1.2M289.0 292.9h1.2M89.5 286.2h1.2M159.8 307.9h1.2M219.2 298.2h1.2M234.7 291.3h1.2M87.0 291.7h1.2M121.0 291.2h1.2M282.5 322.0h1.2M42.9 291.9h1.2M301.3 303.5h1.2M75.8 296.3h1.2M292.7 306.4h1.2M102.0 298.9h1.2M206.9 285.6h1.2M271.3 306.3h1.2M153.5 316.6h1.2M158.8 314.9h1.2M310.1 281.1h1.2M68.5 313.5h1.2M309.5 309.6h1.2M107.8 297.3h1.2M336.1 309.1h1.2M78.2 287.8h1.2M43.3 305.9h1.2M117.9 268.3h1.2M287.4 304.8h1.2M283.1 321.6h1.2M262.8 277.5h1.2M311.9 282.5h1.2M123.4 297.1h1.2M120.8 275.3h1.2M271.0 310.2h1.2M186.4 300.0h1.2M126.7 331.4h1.2M131.3 295.4h1.2M111.7 278.0h1.2M135.8 307.2h1.2M250.4 295.3h1.2M216.8 312.4h1.2M273.0 288.7h1.2M239.4 296.5h1.2M89.1 293.8h1.2M62.3 296.0h1.2M78.2 290.5h1.2M268.9 309.2h1.2M119.2 302.5h1.2M170.5 282.5h1.2M337.1 306.2h1.2M103.6 307.9h1.2M288.5 289.5h1.2M216.6 286.5h1.2M112.2 294.0h1.2M249.9 305.2h1.2M100.5 300.1h1.2M281.8 295.9h1.2M140.9 274.5h1.2M266.4 286.4h1.2M277.0 295.8h1.2M55.7 304.8h1.2M116.2 296.3h1.2M75.6 286.8h1.2M296.9 288.6h1.2M79.3 302.5h1.2M217.7 294.0h1.2M200.1 253.7h1.2M66.7 268.4h1.2M99.5 274.4h1.2M263.8 308.9h1.2M152.4 297.5h1.2M116.2 299.0h1.2M60.9 295.3h1.2M211.5 283.5h1.2M254.5 269.6h1.2M237.5 298.6h1.2M321.7 301.6h1.2M157.5 321.5h1.2M246.0 289.3h1.2M252.7 294.8h1.2M289.9 294.9h1.2M214.5 327.6h1.2M326.4 302.7h1.2M315.5 308.1h1.2M45.7 294.0h1.2M132.9 293.3h1.2M139.0 308.6h1.2M319.2 288.5h1.2M289.4 304.4h1.2M130.0 296.5h1.2M266.9 271.9h1.2M133.0 292.1h1.2M263.3 296.3h1.2M172.9 288.8h1.2M171.5 310.5h1.2M334.4 289.5h1.2M297.4 299.5h1.2M276.4 278.9h1.2M107.9 298.1h1.2M327.8 310.1h1.2M274.2 318.7h1.2M43.6 259.0h1.2M50.9 295.7h1.2M259.1 287.8h1.2M249.3 290.2h1.2M174.3 278.5h1.2M171.3 286.4h1.2M277.3 299.9h1.2M159.3 318.0h1.2M123.8 295.2h1.2M307.7 321.5h1.2M170.8 286.8h1.2M162.4 274.7h1.2M126.4 288.8h1.2M219.4 276.8h1.2M76.5 279.2h1.2M210.8 336.0h1.2M323.7 314.3h1.2M260.7 321.7h1.2M75.9 301.3h1.2M151.8 299.9h1.2M264.9 287.5h1.2M182.0 291.7h1.2M43.2 297.6h1.2M148.6 282.1h1.2M168.0 294.8h1.2M212.7 297.6h1.2M295.2 293.3h1.2M168.5 292.9h1.2M99.6 312.4h1.2M306.3 282.1h1.2M307.3 279.5h1.2M229.9 287.4h1.2M177.9 305.5h1.2M319.0 298.2h1.2M180.8 273.9h1.2M158.3 282.3h1.2M200.2 312.1h1.2M154.5 268.0h1.2M234.4 302.6h1.2M154.4 322.7h1.2M112.6 271.9h1.2M88.2 300.5h1.2M289.7 277.6h1.2M70.6 290.5h1.2M115.9 286.4h1.2M87.6 287.6h1.2M145.3 298.8h1.2M223.0 292.2h1.2M63.0 319.6h1.2M237.0 274.4h1.2M50.8 284.0h1.2M237.2 268.8h1.2M100.2 273.3h1.2M213.4 317.7h1.2M253.9 312.5h1.2M202.5 308.8h1.2M275.2 295.2h1.2M301.4 295.6h1.2M69.4 319.3h1.2M319.5 314.6h1.2M331.7 290.3h1.2M262.6 309.9h1.2M330.1 294.5h1.2M160.0 318.4h1.2M259.1 311.4h1.2M254.2 294.9h1.2M136.3 279.9h1.2M208.8 291.0h1.2M83.0 296.5h1.2M248.2 295.2h1.2M109.7 291.7h1.2M249.7 281.5h1.2M289.4 292.4h1.2M253.0 293.5h1.2M76.7 311.9h1.2M213.0 297.4h1.2M94.2 303.4h1.2M164.7 284.4h1.2M297.8 284.1h1.2M155.8 268.7h1.2M102.4 285.6h1.2M238.9 307.7h1.2M335.4 335.9h1.2M304.3 287.9h1.2M197.4 326.2h1.2M256.3 299.1h1.2M149.3 306.9h1.2M263.5 272.3h1.2M231.2 298.7h1.2M231.3 302.3h1.2M114.8 313.8h1.2M108.6 288.2h1.2M131.5 293.8h1.2M213.1 291.2h1.2M207.3 279.0h1.2M148.5 313.8h1.2M310.2 299.9h1.2M84.4 327.9h1.2M181.5 297.4h1.2M128.4 306.8h1.2M308.8 277.2h1.2M135.6 286.7h1.2M327.9 279.9h1.2M57.6 323.7h1.2M280.5 295.0h1.2M229.1 277.4h1.2M146.8 296.2h1.2M67.3 263.9h1.2M176.6 337.5h1.2M75.6 289.7h1.2M329.8 274.7h1.2M131.5 289.1h1.2M148.0 315.3h1.2M65.7 289.5h1.2M123.5 312.4h1.2M107.0 294.1h1.2M40.1 295.5h1.2M203.3 309.6h1.2M256.6 287.2h1.2M171.1 303.2h1.2M119.8 288.2h1.2M73.3 273.1h1.2M332.4 292.7h1.2M224.0 288.8h1.2M226.3 284.6h1.2M156.4 293.8h1.2M97.1 287.5h1.2M264.7 308.7h1.2M45.4 295.8h1.2M189.0 278.2h1.2M307.8 289.8h1.2M92.9 292.3h1.2M92.5 304.8h1.2M244.8 303.2h1.2M88.0 282.6h1.2M65.4 315.4h1.2M131.7 305.0h1.2M218.5 297.2h1.2M157.9 288.7h1.2M131.9 264.1h1.2M265.0 320.8h1.2M286.6 313.1h1.2M334.8 310.7h1.2M319.0 282.6h1.2M160.3 267.2h1.2M113.5 284.6h1.2M62.4 292.1h1.2M84.2 276.4h1.2M167.0 290.7h1.2M116.3 311.9h1.2M229.8 266.0h1.2M56.3 301.5h1.2M73.7 308.4h1.2M329.6 288.1h1.2M89.2 292.9h1.2M68.1 290.8h1.2M242.3 294.1h1.2M134.5 309.1h1.2M240.4 264.7h1.2M219.5 334.0h1.2M58.0 330.4h1.2M130.4 299.9h1.2M106.2 304.1h1.2M241.1 297.4h1.2M267.3 332.7h1.2M255.9 317.6h1.2M330.6 271.1h1.2M225.3 304.9h1.2M229.5 312.9h1.2M85.2 288.9h1.2M247.2 303.6h1.2M307.2 299.8h1.2M192.9 295.6h1.2M235.6 293.7h1.2M247.5 310.5h1.2M320.6 282.8h1.2M162.2 306.9h1.2M86.2 309.1h1.2M214.9 300.2h1.2M61.9 276.1h1.2M100.9 277.7h1.2M108.9 269.6h1.2M207.6 291.3h1.2M320.0 302.6h1.2M138.5 260.8h1.2M154.1 313.1h1.2M74.2 282.6h1.2M239.7 302.3h1.2M293.6 271.5h1.2M306.0 276.3h1.2M169.5 300.9h1.2M123.9 265.0h1.2M63.5 320.5h1.2M147.8 282.8h1.2M78.7 278.7h1.2M155.2 312.2h1.2M321.8 318.7h1.2M127.3 278.9h1.2M291.4 301.1h1.2M282.5 271.5h1.2M79.3 326.6h1.2M79.6 281.4h1.2M319.6 276.5h1.2M207.1 304.4h1.2M175.8 294.3h1.2M88.0 303.2h1.2M297.7 280.5h1.2M270.5 311.2h1.2M90.1 297.5h1.2M313.6 277.2h1.2M243.5 290.9h1.2M281.4 262.4h1.2M324.2 273.8h1.2M103.3 310.4h1.2M164.4 312.7h1.2M191.3 314.6h1.2M111.2 268.5h1.2M132.9 286.4h1.2M299.0 297.0h1.2M46.7 265.2h1.2M133.7 266.4h1.2M237.5 327.6h1.2M323.3 291.4h1.2M107.3 287.8h1.2M112.0 273.1h1.2M66.9 319.5h1.2M217.3 283.1h1.2M110.8 260.9h1.2M216.5 318.2h1.2M81.3 289.1h1.2M119.9 300.2h1.2M90.4 297.4h1.2M235.3 263.9h1.2M137.7 292.7h1.2M241.3 309.9h1.2M171.6 312.8h1.2M109.4 304.7h1.2M169.1 280.9h1.2M176.5 306.1h1.2M277.6 299.2h1.2M210.0 290.8h1.2M42.5 267.9h1.2M274.2 296.3h1.2M129.0 278.4h1.2M300.8 311.3h1.2M250.6 283.2h1.2M264.1 287.0h1.2M46.0 283.2h1.2M321.9 311.9h1.2M243.5 283.1h1.2M64.4 266.5h1.2M275.3 280.0h1.2M74.9 303.2h1.2M212.3 300.4h1.2M86.5 329.6h1.2M297.1 293.3h1.2M258.0 295.7h1.2M264.7 287.3h1.2M126.8 296.1h1.2M140.3 294.9h1.2M218.7 298.1h1.2M89.9 267.6h1.2M168.7 312.2h1.2M298.3 291.7h1.2M45.3 286.4h1.2M336.6 283.5h1.2M77.2 295.0h1.2M331.9 303.2h1.2M245.5 307.6h1.2M279.5 296.9h1.2M170.0 317.2h1.2M313.8 266.3h1.2M329.8 293.8h1.2M157.0 304.2h1.2M145.8 302.5h1.2M41.7 295.8h1.2M64.4 279.9h1.2M207.6 286.2h1.2M126.6 303.6h1.2M65.6 284.6h1.2M255.2 303.4h1.2M229.5 267.2h1.2M90.4 289.8h1.2M117.1 271.8h1.2M149.6 284.2h1.2M168.9 306.3h1.2M324.0 291.1h1.2M236.3 266.9h1.2M236.3 324.6h1.2M218.4 286.5h1.2M246.3 299.6h1.2M223.7 326.4h1.2M61.5 290.2h1.2M82.3 290.2h1.2M166.3 309.4h1.2M212.1 300.8h1.2M56.8 284.7h1.2M246.6 278.1h1.2M274.2 275.9h1.2M191.0 301.0h1.2M166.9 307.2h1.2M336.6 291.2h1.2M329.5 284.4h1.2M62.6 306.6h1.2M127.3 268.7h1.2M238.7 284.1h1.2M322.1 321.6h1.2M194.6 307.3h1.2M191.2 293.7h1.2M99.6 261.6h1.2M214.1 301.0h1.2M108.2 272.2h1.2M272.4 305.4h1.2M186.9 303.2h1.2M325.9 293.2h1.2M167.9 307.7h1.2M103.7 314.0h1.2M324.6 311.2h1.2M48.7 291.9h1.2M154.9 299.9h1.2M83.0 290.1h1.2M240.6 294.0h1.2M248.8 278.8h1.2M164.8 312.7h1.2M156.8 294.9h1.2M152.7 302.7h1.2M307.0 268.0h1.2M156.6 269.8h1.2M261.0 299.4h1.2M142.4 302.0h1.2M90.5 336.3h1.2M314.6 298.2h1.2M295.9 294.3h1.2M176.0 309.1h1.2M208.0 298.6h1.2M105.8 304.3h1.2M167.4 331.6h1.2M312.2 272.6h1.2M101.5 310.2h1.2M236.8 265.3h1.2M317.5 289.4h1.2M110.0 287.3h1.2M278.5 295.5h1.2M238.2 316.9h1.2M82.1 292.2h1.2M270.0 295.9h1.2M176.1 301.5h1.2M40.3 280.9h1.2M339.8 273.6h1.2M175.7 306.8h1.2M175.8 301.8h1.2M150.2 302.7h1.2M269.8 291.9h1.2M109.4 281.9h1.2M339.8 307.5h1.2M164.2 287.2h1.2M206.8 313.4h1.2M284.4 285.2h1.2M284.0 288.5h1.2M153.2 289.5h1.2M236.3 320.6h1.2M216.3 295.9h1.2M277.5 313.5h1.2M77.5 290.2h1.2M171.3 323.5h1.2M335.7 303.3h1.2M146.3 325.9h1.2M68.5 314.1h1.2M184.1 284.6h1.2M253.6 317.0h1.2M211.5 304.2h1.2M286.9 324.6h1.2M230.1 260.4h1.2M45.1 283.3h1.2M156.4 310.7h1.2M286.4 306.7h1.2M340.2 267.2h1.2M220.7 288.2h1.2M281.3 285.5h1.2M132.5 301.9h1.2M169.3 311.4h1.2M52.9 307.7h1.2M107.2 291.3h1.2M283.5 297.8h1.2M339.7 297.2h1.2M50.9 281.1h1.2M42.9 305.7h1.2M264.4 297.0h1.2M169.2 296.5h1.2M195.9 305.8h1.2M55.2 318.9h1.2M267.4 299.2h1.2M153.4 315.0h1.2M332.9 293.7h1.2M104.8 310.5h1.2M250.5 311.5h1.2M123.3 303.4h1.2M100.1 291.0h1.2M321.5 287.2h1.2M287.1 313.6h1.2M230.6 317.1h1.2M113.3 301.4h1.2M245.5 306.1h1.2M135.7 271.2h1.2M127.9 292.7h1.2M132.9 305.0h1.2M206.1 292.0h1.2M138.1 300.4h1.2M199.1 276.9h1.2M201.4 278.9h1.2M54.0 313.3h1.2M283.2 308.9h1.2M236.9 301.9h1.2M330.3 304.0h1.2M66.0 337.2h1.2M124.8 317.0h1.2M249.7 295.7h1.2M187.9 298.4h1.2M157.9 289.0h1.2M210.0 285.6h1.2M133.7 276.5h1.2M154.8 285.7h1.2M261.8 329.1h1.2M194.3 314.0h1.2M321.6 308.0h1.2M67.6 302.5h1.2M217.4 290.5h1.2M181.6 295.0h1.2M123.3 276.9h1.2M215.7 301.5h1.2M333.9 297.6h1.2M332.8 301.7h1.2M134.0 288.3h1.2M321.3 288.7h1.2M75.5 288.3h1.2M130.1 311.6h1.2M283.2 314.6h1.2M281.6 293.1h1.2M172.1 324.7h1.2M336.4 324.1h1.2M232.8 332.9h1.2M248.5 283.2h1.2M108.3 307.8h1.2M84.3 301.2h1.2M51.5 293.2h1.2M238.1 280.6h1.2M188.4 293.1h1.2M315.9 288.3h1.2M50.3 321.9h1.2M216.7 327.2h1.2M104.5 274.8h1.2M155.2 289.9h1.2M209.4 302.4h1.2M218.5 276.8h1.2M209.3 283.6h1.2M166.9 306.8h1.2M277.8 272.8h1.2M180.6 314.0h1.2M262.2 307.1h1.2M293.0 293.9h1.2M117.1 294.5h1.2M317.3 291.8h1.2M162.0 275.5h1.2M243.5 296.7h1.2M145.3 305.7h1.2M62.6 314.0h1.2M330.8 300.2h1.2M142.2 276.6h1.2M171.6 285.3h1.2M331.6 311.6h1.2M183.5 305.2h1.2M308.8 309.1h1.2M163.4 320.4h1.2M175.1 279.2h1.2M152.5 319.4h1.2M164.5 309.2h1.2M219.7 269.6h1.2M263.3 268.2h1.2M145.2 264.8h1.2M261.0 292.8h1.2M204.6 269.1h1.2M238.6 271.9h1.2M164.0 291.2h1.2M87.1 272.0h1.2M241.6 298.7h1.2M266.2 271.1h1.2M199.3 287.0h1.2M171.3 297.8h1.2M68.6 283.0h1.2M147.8 293.1h1.2M246.9 298.0h1.2M188.6 301.5h1.2M220.8 285.4h1.2M197.1 281.3h1.2M257.3 301.8h1.2M243.8 269.9h1.2M75.2 294.0h1.2M272.7 292.2h1.2M247.7 299.2h1.2M125.3 304.6h1.2M188.5 307.3h1.2M56.4 273.2h1.2M198.0 293.2h1.2M218.7 299.6h1.2M208.9 290.3h1.2M71.8 297.0h1.2M184.9 266.8h1.2M232.8 320.2h1.2M66.5 293.4h1.2M223.6 313.3h1.2M326.3 290.5h1.2M305.8 313.3h1.2M290.3 303.7h1.2M44.8 327.0h1.2M172.9 283.2h1.2M123.5 302.1h1.2M81.1 275.7h1.2M167.4 283.1h1.2M147.0 264.4h1.2M200.5 295.3h1.2M301.4 318.8h1.2M184.0 261.0h1.2M296.1 328.4h1.2M160.1 297.6h1.2M92.4 283.0h1.2M283.1 275.4h1.2M334.9 308.5h1.2M234.8 300.2h1.2M51.5 317.5h1.2M77.4 288.5h1.2M106.3 268.5h1.2M117.0 268.9h1.2M164.4 301.2h1.2M63.4 282.5h1.2M336.9 298.0h1.2M60.7 287.9h1.2M265.5 287.8h1.2M326.2 324.5h1.2M68.9 265.7h1.2M196.2 285.5h1.2M138.7 303.2h1.2M220.0 261.9h1.2M78.4 297.6h1.2M235.2 319.0h1.2M262.5 322.0h1.2M113.9 289.9h1.2M275.7 302.5h1.2M50.0 282.8h1.2M74.9 312.2h1.2M185.9 295.6h1.2M65.2 264.0h1.2M79.3 289.7h1.2M250.7 302.4h1.2M310.7 294.2h1.2M128.2 317.8h1.2M245.4 292.0h1.2M59.1 288.5h1.2M82.0 310.3h1.2M135.6 293.0h1.2M192.1 282.3h1.2M58.8 316.1h1.2M158.5 289.8h1.2M265.7 306.9h1.2M210.4 296.4h1.2M304.8 292.1h1.2M270.8 298.2h1.2M147.1 297.7h1.2M167.7 281.2h1.2M148.2 320.5h1.2M235.0 296.5h1.2M193.6 293.9h1.2" stroke="#3a3a3a" stroke-width="1.2" stroke-opacity="1" fill="none"/>
<path d="M39.00 54.80 39.25 54.80 39.51 54.80 39.76 54.80 40.01 54.80 40.26 54.80 40.52 54.80 40.77 54.80 41.02 54.80 41.27 54.80 41.53 54.80 41.78 54.80 42.03 54.80 42.29 54.80 42.54 54.80 42.79 54.80 43.04 54.80 43.30 54.80 43.55 54.80 43.80 54.80 44.05 54.80 44.31 54.80 44.56 54.80 44.81 54.80 45.07 54.80 45.32 54.80 45.57 54.80 45.82 54.80 46.08 54.80 46.33 54.80 46.58 54.80 46.83 54.80 47.09 54.80 47.34 54.80 47.59 54.80 47.84 54.80 48.10 54.80 48.35 54.80 48.60 54.80 48.86 54.80 49.11 54.80 49.36 54.80 49.61 54.80 49.87 54.80 50.12 54.80 50.37 54.80 50.62 54.80 50.88 54.80 51.13 54.80 51.38 54.80 51.64 54.80 51.89 54.80 52.14 54.80 52.39 54.80 52.65 54.80 52.90 54.80 53.15 54.80 53.40 54.80 53.66 54.80 53.91 54.80 54.16 54.80 54.42 54.80 54.67 54.80 54.92 54.80 55.17 54.80 55.43 54.80 55.68 54.80 55.93 54.80 56.18 54.80 56.44 54.80 56.69 54.80 56.94 54.80 57.20 54.80 57.45 54.80 57.70 54.80 57.95 54.80 58.21 54.80 58.46 54.80 58.71 54.80 58.96 54.80 59.22 54.80 59.47 54.80 59.72 54.80 59.97 54.80 60.23 54.80 60.48 54.80 60.73 54.80 60.99 54.80 61.24 54.80 61.49 54.80 61.74 54.80 62.00 54.80 62.25 54.80 62.50 54.80 62.75 54.80 63.01 54.80 63.26 54.80 63.51 54.80 63.77 54.80 64.02 54.80 64.27 54.80 64.52 54.80 64.78 54.80 65.03 54.80 65.28 54.80 65.53 54.80 65.79 54.80 66.04 54.80 66.29 54.80 66.55 54.80 66.80 54.80 67.05 54.80 67.30 54.80 67.56 54.80 67.81 54.80 68.06 54.80 68.31 54.80 68.57 54.80 68.82 54.80 69.07 54.80 69.33 54.80 69.58 54.80 69.83 54.80 70.08 54.80 70.34 54.80 70.59 54.80 70.84 54.80 71.09 54.80 71.35 54.80 71.60 54.80 71.85 54.80 72.11 54.80 72.36 54.80 72.61 54.80 72.86 54.80 73.12 54.80 73.37 54.80 73.62 54.80 73.87 54.80 74.13 54.80 74.38 54.80 74.63 54.80 74.88 54.80 75.14 54.80 75.39 54.80 75.64 54.80 75.90 54.80 76.15 54.80 76.40 54.80 76.65 54.80 76.91 54.80 77.16 54.80 77.41 54.80 77.66 54.80 77.92 54.80 78.17 54.80 78.42 54.80 78.68 54.80 78.93 54.80 79.18 54.80 79.43 54.80 79.69 54.80 79.94 54.80 80.19 54.80 80.44 54.80 80.70 54.80 80.95 54.80 81.20 54.80 81.46 54.80 81.71 54.80 81.96 54.80 82.21 54.80 82.47 54.80 82.72 54.80 82.97 54.80 83.22 54.80 83.48 54.80 83.73 54.80 83.98 54.80 84.24 54.80 84.49 54.80 84.74 54.80 84.99 54.80 85.25 54.80 85.50 54.80 85.75 54.80 86.00 54.80 86.26 54.80 86.51 54.80 86.76 54.80 87.02 54.80 87.27 54.80 87.52 54.80 87.77 54.80 88.03 54.80 88.28 54.80 88.53 54.80 88.78 54.80 89.04 54.80 89.29 54.80 89.54 54.80 89.79 54.80 90.05 54.80 90.30 54.80 90.55 54.80 90.81 54.80 91.06 54.80 91.31 54.80 91.56 54.80 91.82 54.80 92.07 54.80 92.32 54.80 92.57 54.80 92.83 54.80 93.08 54.80 93.33 54.80 93.59 54.80 93.84 54.80 94.09 54.80 94.34 54.80 94.60 54.80 94.85 54.80 95.10 54.80 95.35 54.80 95.61 54.80 95.86 54.80 96.11 54.80 96.37 54.80 96.62 54.80 96.87 54.80 97.12 54.80 97.38 54.80 97.63 54.80 97.88 54.80 98.13 54.80 98.39 54.80 98.64 54.80 98.89 54.80 99.15 54.80 99.40 54.80 99.65 54.80 99.90 54.80 100.16 54.80 100.41 54.80 100.66 54.80 100.91 54.80 101.17 54.80 101.42 54.80 101.67 54.80 101.92 54.80 102.18 54.80 102.43 54.80 102.68 54.80 102.94 54.80 103.19 54.80 103.44 54.80 103.69 54.80 103.95 54.80 104.20 54.80 104.45 54.80 104.70 54.80 104.96 54.80 105.21 54.80 105.46 54.80 105.72 54.80 105.97 54.80 106.22 54.80 106.47 54.80 106.73 54.80 106.98 54.80 107.23 54.80 107.48 54.80 107.74 54.80 107.99 54.80 108.24 54.80 108.50 54.80 108.75 54.80 109.00 54.80 109.25 54.80 109.51 54.80 109.76 54.80 110.01 54.80 110.26 54.80 110.52 54.80 110.77 54.80 111.02 54.80 111.28 54.80 111.53 54.80 111.78 54.80 112.03 54.80 112.29 54.80 112.54 54.80 112.79 54.80 113.04 54.80 113.30 54.80 113.55 54.80 113.80 54.80 114.06 54.80 114.31 54.80 114.56 54.80 114.81 54.80 115.07 54.80 115.32 54.80 115.57 54.80 115.82 54.80 116.08 54.80 116.33 54.80 116.58 54.80 116.83 54.80 117.09 54.80 117.34 54.80 117.59 54.80 117.85 54.80 118.10 54.80 118.35 54.80 118.60 54.80 118.86 54.80 119.11 54.80 119.36 54.80 119.61 54.80 119.87 54.80 120.12 54.80 120.37 54.80 120.63 54.80 120.88 54.80 121.13 54.80 121.38 54.80 121.64 54.80 121.89 54.80 122.14 54.80 122.39 54.80 122.65 54.80 122.90 54.80 123.15 54.80 123.41 54.80 123.66 54.80 123.91 54.80 124.16 54.80 124.42 54.80 124.67 54.80 124.92 54.80 125.17 54.80 125.43 54.80 125.68 54.80 125.93 54.80 126.19 54.80 126.44 54.80 126.69 54.80 126.94 54.80 127.20 54.80 127.45 54.80 127.70 54.80 127.95 54.80 128.21 54.80 128.46 54.80 128.71 54.80 128.96 54.80 129.22 54.80 129.47 54.80 129.72 54.80 129.98 54.80 130.23 54.80 130.48 54.80 130.73 54.80 130.99 54.80 131.24 54.80 131.49 54.80 131.74 54.80 132.00 54.80 132.25 54.80 132.50 54.80 132.76 54.80 133.01 54.80 133.26 54.80 133.51 54.80 133.77 54.80 134.02 54.80 134.27 54.80 134.52 54.80 134.78 54.80 135.03 54.80 135.28 54.80 135.54 54.80 135.79 54.80 136.04 54.80 136.29 54.80 136.55 54.80 136.80 54.80 137.05 54.80 137.30 54.80 137.56 54.80 137.81 54.80 138.06 54.80 138.32 54.80 138.57 54.80 138.82 54.80 139.07 54.80 139.33 54.80 139.58 54.80 139.83 54.80 140.08 54.80 140.34 54.80 140.59 54.80 140.84 54.80 141.10 54.80 141.35 54.80 141.60 54.80 141.85 54.80 142.11 54.80 142.36 54.80 142.61 54.80 142.86 54.80 143.12 54.80 143.37 54.80 143.62 54.80 143.87 54.80 144.13 54.80 144.38 54.80 144.63 54.80 144.89 54.80 145.14 54.80 145.39 54.80 145.64 54.80 145.90 54.80 146.15 54.80 146.40 54.80 146.65 54.80 146.91 54.80 147.16 54.80 147.41 54.80 147.67 54.80 147.92 54.80 148.17 54.80 148.42 54.80 148.68 54.80 148.93 54.80 149.18 54.80 149.43 54.80 149.69 54.80 149.94 54.80 150.19 54.80 150.45 54.80 150.70 54.80 150.95 54.80 151.20 54.80 151.46 54.80 151.71 54.80 151.96 54.80 152.21 54.80 152.47 54.80 152.72 54.80 152.97 54.80 153.23 54.80 153.48 54.80 153.73 54.80 153.98 54.80 154.24 54.80 154.49 54.80 154.74 54.80 154.99 54.80 155.25 54.80 155.50 54.80 155.75 54.80 156.01 54.80 156.26 54.80 156.51 54.80 156.76 54.80 157.02 54.80 157.27 54.80 157.52 54.80 157.77 54.80 158.03 54.80 158.28 54.80 158.53 54.80 158.78 54.80 159.04 54.80 159.29 54.80 159.54 54.80 159.80 54.80 160.05 54.80 160.30 54.80 160.55 54.80 160.81 54.80 161.06 54.80 161.31 54.80 161.56 54.80 161.82 54.80 162.07 54.80 162.32 54.80 162.58 54.80 162.83 54.80 163.08 54.80 163.33 54.80 163.59 54.80 163.84 54.80 164.09 54.80 164.34 54.80 164.60 54.80 164.85 54.80 165.10 54.80 165.36 54.80 165.61 54.80 165.86 54.80 166.11 54.80 166.37 54.80 166.62 54.80 166.87 54.80 167.12 54.80 167.38 54.80 167.63 54.80 167.88 54.80 168.14 54.80 168.39 54.80 168.64 54.80 168.89 54.80 169.15 54.80 169.40 54.80 169.65 54.80 169.90 54.80 170.16 54.80 170.41 54.80 170.66 54.80 170.91 54.80 171.17 54.80 171.42 54.80 171.67 54.80 171.93 54.80 172.18 54.80 172.43 54.80 172.68 54.80 172.94 54.80 173.19 54.80 173.44 54.80 173.69 54.80 173.95 54.80 174.20 54.80 174.45 54.80 174.71 54.80 174.96 54.80 175.21 54.80 175.46 54.80 175.72 54.80 175.97 54.80 176.22 54.80 176.47 54.80 176.73 54.80 176.98 54.80 177.23 54.80 177.49 54.80 177.74 54.80 177.99 54.80 178.24 54.80 178.50 54.80 178.75 54.80 179.00 54.80 179.25 54.80 179.51 54.80 179.76 54.80 180.01 54.80 180.27 54.80 180.52 54.80 180.77 54.80 181.02 54.80 181.28 54.80 181.53 54.80 181.78 54.80 182.03 54.80 182.29 54.80 182.54 54.80 182.79 54.80 183.05 54.80 183.30 54.80 183.55 54.80 183.80 54.80 184.06 54.80 184.31 55.31 184.56 56.97 184.81 59.26 185.07 61.88 185.32 64.51 185.57 66.56 185.82 67.45 186.08 68.11 186.33 68.64 186.58 69.08 186.84 69.45 187.09 69.77 187.34 70.04 187.59 70.28 187.85 70.48 188.10 70.65 188.35 70.80 188.60 70.93 188.86 71.04 189.11 71.13 189.36 71.20 189.62 71.26 189.87 71.30 190.12 71.33 190.37 71.35 190.63 71.35 190.88 71.33 191.13 71.30 191.38 71.26 191.64 71.20 191.89 71.13 192.14 71.04 192.40 70.93 192.65 70.80 192.90 70.65 193.15 70.48 193.41 70.28 193.66 70.04 193.91 69.77 194.16 69.45 194.42 69.08 194.67 68.64 194.92 68.11 195.18 67.45 195.43 66.56 195.68 64.51 195.93 61.88 196.19 59.26 196.44 56.97 196.69 55.31 196.94 54.80 197.20 54.80 197.45 54.80 197.70 54.80 197.95 54.80 198.21 54.80 198.46 54.80 198.71 54.80 198.97 54.80 199.22 54.80 199.47 54.80 199.72 54.80 199.98 54.80 200.23 54.80 200.48 54.80 200.73 54.80 200.99 54.80 201.24 54.80 201.49 54.80 201.75 54.80 202.00 54.80 202.25 54.80 202.50 54.80 202.76 54.80 203.01 54.80 203.26 54.80 203.51 54.80 203.77 54.80 204.02 54.80 204.27 54.80 204.53 54.80 204.78 54.80 205.03 54.80 205.28 54.80 205.54 54.80 205.79 54.80 206.04 54.80 206.29 54.80 206.55 54.80 206.80 54.80 207.05 54.80 207.31 54.80 207.56 54.80 207.81 54.80 208.06 54.80 208.32 54.80 208.57 54.80 208.82 54.80 209.07 54.80 209.33 54.80 209.58 54.80 209.83 54.80 210.09 54.80 210.34 54.80 210.59 54.80 210.84 54.80 211.10 54.80 211.35 54.80 211.60 54.80 211.85 54.80 212.11 54.80 212.36 54.80 212.61 54.80 212.86 54.80 213.12 54.80 213.37 54.80 213.62 54.80 213.88 54.80 214.13 54.80 214.38 54.80 214.63 54.80 214.89 54.80 215.14 54.80 215.39 54.80 215.64 54.80 215.90 54.80 216.15 54.80 216.40 54.80 216.66 54.80 216.91 54.80 217.16 54.80 217.41 54.80 217.67 54.80 217.92 54.80 218.17 54.80 218.42 54.80 218.68 54.80 218.93 54.80 219.18 54.80 219.44 54.80 219.69 54.80 219.94 54.80 220.19 54.80 220.45 54.80 220.70 54.80 220.95 54.80 221.20 54.80 221.46 54.80 221.71 54.80 221.96 54.80 222.22 54.80 222.47 54.80 222.72 54.80 222.97 54.80 223.23 54.80 223.48 54.80 223.73 54.80 223.98 54.80 224.24 54.80 224.49 54.80 224.74 54.80 224.99 54.80 225.25 54.80 225.50 54.80 225.75 54.80 226.01 54.80 226.26 54.80 226.51 54.80 226.76 54.80 227.02 54.80 227.27 54.80 227.52 54.80 227.77 54.80 228.03 54.80 228.28 54.80 228.53 54.80 228.79 54.80 229.04 54.80 229.29 54.80 229.54 54.80 229.80 54.80 230.05 54.80 230.30 54.80 230.55 54.80 230.81 54.80 231.06 54.80 231.31 54.80 231.57 54.80 231.82 54.80 232.07 54.80 232.32 54.80 232.58 54.80 232.83 54.80 233.08 54.80 233.33 54.80 233.59 54.80 233.84 54.80 234.09 54.80 234.35 54.80 234.60 54.80 234.85 54.80 235.10 54.80 235.36 54.80 235.61 54.80 235.86 54.80 236.11 54.80 236.37 54.80 236.62 54.80 236.87 54.80 237.13 54.80 237.38 54.80 237.63 54.80 237.88 54.80 238.14 54.80 238.39 54.80 238.64 54.80 238.89 54.80 239.15 54.80 239.40 54.80 239.65 54.80 239.90 54.80 240.16 54.80 240.41 54.80 240.66 54.80 240.92 54.80 241.17 54.80 241.42 54.80 241.67 54.80 241.93 54.80 242.18 54.80 242.43 54.80 242.68 54.80 242.94 54.80 243.19 54.80 243.44 54.80 243.70 54.80 243.95 54.80 244.20 54.80 244.45 54.80 244.71 54.80 244.96 54.80 245.21 54.80 245.46 54.80 245.72 54.80 245.97 54.80 246.22 54.80 246.48 54.80 246.73 54.80 246.98 54.80 247.23 54.80 247.49 54.80 247.74 54.80 247.99 54.80 248.24 54.80 248.50 54.80 248.75 54.80 249.00 54.80 249.26 54.80 249.51 54.80 249.76 54.80 250.01 54.80 250.27 54.80 250.52 54.80 250.77 54.80 251.02 54.80 251.28 54.80 251.53 54.80 251.78 54.80 252.04 54.80 252.29 54.80 252.54 54.80 252.79 54.80 253.05 54.80 253.30 54.80 253.55 54.80 253.80 54.80 254.06 54.80 254.31 54.80 254.56 54.80 254.81 54.80 255.07 54.80 255.32 54.80 255.57 54.80 255.83 54.80 256.08 54.80 256.33 54.80 256.58 54.80 256.84 54.80 257.09 54.80 257.34 54.80 257.59 54.80 257.85 54.80 258.10 54.80 258.35 54.80 258.61 54.80 258.86 54.80 259.11 54.80 259.36 54.80 259.62 54.80 259.87 54.80 260.12 54.80 260.37 54.80 260.63 54.80 260.88 54.80 261.13 54.80 261.39 54.80 261.64 54.80 261.89 54.80 262.14 54.80 262.40 54.80 262.65 54.80 262.90 54.80 263.15 54.80 263.41 54.80 263.66 54.80 263.91 54.80 264.17 54.80 264.42 54.80 264.67 54.80 264.92 54.80 265.18 54.80 265.43 54.80 265.68 54.80 265.93 54.80 266.19 54.80 266.44 54.80 266.69 54.80 266.94 54.80 267.20 54.80 267.45 54.80 267.70 54.80 267.96 54.80 268.21 54.80 268.46 54.80 268.71 54.80 268.97 54.80 269.22 54.80 269.47 54.80 269.72 54.80 269.98 54.80 270.23 54.80 270.48 54.80 270.74 54.80 270.99 54.80 271.24 54.80 271.49 54.80 271.75 54.80 272.00 54.80 272.25 54.80 272.50 54.80 272.76 54.80 273.01 54.80 273.26 54.80 273.52 54.80 273.77 54.80 274.02 54.80 274.27 54.80 274.53 54.80 274.78 54.80 275.03 54.80 275.28 54.80 275.54 54.80 275.79 54.80 276.04 54.80 276.30 54.80 276.55 54.80 276.80 54.80 277.05 54.80 277.31 54.80 277.56 54.80 277.81 54.80 278.06 54.80 278.32 54.80 278.57 54.80 278.82 54.80 279.08 54.80 279.33 54.80 279.58 54.80 279.83 54.80 280.09 54.80 280.34 54.80 280.59 54.80 280.84 54.80 281.10 54.80 281.35 54.80 281.60 54.80 281.85 54.80 282.11 54.80 282.36 54.80 282.61 54.80 282.87 54.80 283.12 54.80 283.37 54.80 283.62 54.80 283.88 54.80 284.13 54.80 284.38 54.80 284.63 54.80 284.89 54.80 285.14 54.80 285.39 54.80 285.65 54.80 285.90 54.80 286.15 54.80 286.40 54.80 286.66 54.80 286.91 54.80 287.16 54.80 287.41 54.80 287.67 54.80 287.92 54.80 288.17 54.80 288.43 54.80 288.68 54.80 288.93 54.80 289.18 54.80 289.44 54.80 289.69 54.80 289.94 54.80 290.19 54.80 290.45 54.80 290.70 54.80 290.95 54.80 291.21 54.80 291.46 54.80 291.71 54.80 291.96 54.80 292.22 54.80 292.47 54.80 292.72 54.80 292.97 54.80 293.23 54.80 293.48 54.80 293.73 54.80 293.98 54.80 294.24 54.80 294.49 54.80 294.74 54.80 295.00 54.80 295.25 54.80 295.50 54.80 295.75 54.80 296.01 54.80 296.26 54.80 296.51 54.80 296.76 54.80 297.02 54.80 297.27 54.80 297.52 54.80 297.78 54.80 298.03 54.80 298.28 54.80 298.53 54.80 298.79 54.80 299.04 54.80 299.29 54.80 299.54 54.80 299.80 54.80 300.05 54.80 300.30 54.80 300.56 54.80 300.81 54.80 301.06 54.80 301.31 54.80 301.57 54.80 301.82 54.80 302.07 54.80 302.32 54.80 302.58 54.80 302.83 54.80 303.08 54.80 303.34 54.80 303.59 54.80 303.84 54.80 304.09 54.80 304.35 54.80 304.60 54.80 304.85 54.80 305.10 54.80 305.36 54.80 305.61 54.80 305.86 54.80 306.12 54.80 306.37 54.80 306.62 54.80 306.87 54.80 307.13 54.80 307.38 54.80 307.63 54.80 307.88 54.80 308.14 54.80 308.39 54.80 308.64 54.80 308.89 54.80 309.15 54.80 309.40 54.80 309.65 54.80 309.91 54.80 310.16 54.80 310.41 54.80 310.66 54.80 310.92 54.80 311.17 54.80 311.42 54.80 311.67 54.80 311.93 54.80 312.18 54.80 312.43 54.80 312.69 54.80 312.94 54.80 313.19 54.80 313.44 54.80 313.70 54.80 313.95 54.80 314.20 54.80 314.45 54.80 314.71 54.80 314.96 54.80 315.21 54.80 315.47 54.80 315.72 54.80 315.97 54.80 316.22 54.80 316.48 54.80 316.73 54.80 316.98 54.80 317.23 54.80 317.49 54.80 317.74 54.80 317.99 54.80 318.25 54.80 318.50 54.80 318.75 54.80 319.00 54.80 319.26 54.80 319.51 54.80 319.76 54.80 320.01 54.80 320.27 54.80 320.52 54.80 320.77 54.80 321.03 54.80 321.28 54.80 321.53 54.80 321.78 54.80 322.04 54.80 322.29 54.80 322.54 54.80 322.79 54.80 323.05 54.80 323.30 54.80 323.55 54.80 323.80 54.80 324.06 54.80 324.31 54.80 324.56 54.80 324.82 54.80 325.07 54.80 325.32 54.80 325.57 54.80 325.83 54.80 326.08 54.80 326.33 54.80 326.58 54.80 326.84 54.80 327.09 54.80 327.34 54.80 327.60 54.80 327.85 54.80 328.10 54.80 328.35 54.80 328.61 54.80 328.86 54.80 329.11 54.80 329.36 54.80 329.62 54.80 329.87 54.80 330.12 54.80 330.38 54.80 330.63 54.80 330.88 54.80 331.13 54.80 331.39 54.80 331.64 54.80 331.89 54.80 332.14 54.80 332.40 54.80 332.65 54.80 332.90 54.80 333.16 54.80 333.41 54.80 333.66 54.80 333.91 54.80 334.17 54.80 334.42 54.80 334.67 54.80 334.92 54.80 335.18 54.80 335.43 54.80 335.68 54.80 335.93 54.80 336.19 54.80 336.44 54.80 336.69 54.80 336.95 54.80 337.20 54.80 337.45 54.80 337.70 54.80 337.96 54.80 338.21 54.80 338.46 54.80 338.71 54.80 338.97 54.80 339.22 54.80 339.47 54.80 339.73 54.80 339.98 54.80 340.23 54.80 340.48 54.80 340.74 54.80 340.99 54.80 341.24 54.80 341.49 54.80 341.75 54.80 342.00 54.80" stroke="#ee1111" stroke-width="1.3" fill="none"/>
<path d="M39.00 172.00 39.51 172.00 40.01 172.00 40.52 172.00 41.02 172.00 41.53 172.00 42.04 172.00 42.54 172.00 43.05 172.00 43.55 172.00 44.06 172.00 44.56 172.00 45.07 172.00 45.58 172.00 46.08 172.00 46.59 172.00 47.09 172.00 47.60 172.00 48.11 172.00 48.61 172.00 49.12 172.00 49.62 172.00 50.13 172.00 50.63 172.00 51.14 172.00 51.65 172.00 52.15 172.00 52.66 172.00 53.16 172.00 53.67 172.00 54.18 172.00 54.68 172.00 55.19 172.00 55.69 172.00 56.20 172.00 56.70 172.00 57.21 172.00 57.72 172.00 58.22 172.00 58.73 172.00 59.23 172.00 59.74 172.00 60.25 172.00 60.75 172.00 61.26 172.00 61.76 172.00 62.27 172.00 62.77 172.00 63.28 172.00 63.79 172.00 64.29 172.00 64.80 172.00 65.30 172.00 65.81 172.00 66.32 172.00 66.82 172.00 67.33 172.00 67.83 172.00 68.34 172.00 68.84 172.00 69.35 172.00 69.86 172.00 70.36 172.00 70.87 172.00 71.37 172.00 71.88 172.00 72.39 172.00 72.89 172.00 73.40 172.00 73.90 172.00 74.41 172.00 74.91 172.00 75.42 172.00 75.93 172.00 76.43 172.00 76.94 172.00 77.44 172.00 77.95 172.00 78.46 172.00 78.96 172.00 79.47 172.00 79.97 172.00 80.48 172.00 80.98 172.00 81.49 172.00 82.00 172.00 82.50 172.00 83.01 172.00 83.51 172.00 84.02 172.00 84.53 172.00 85.03 172.00 85.54 172.00 86.04 172.00 86.55 172.00 87.06 172.00 87.56 172.00 88.07 172.00 88.57 172.00 89.08 172.00 89.58 172.00 90.09 172.00 90.60 172.00 91.10 172.00 91.61 172.00 92.11 172.00 92.62 172.00 93.13 172.00 93.63 172.00 94.14 172.00 94.64 172.00 95.15 172.00 95.65 172.00 96.16 172.00 96.67 172.00 97.17 172.00 97.68 172.00 98.18 172.00 98.69 172.00 99.20 172.00 99.70 172.00 100.21 172.00 100.71 172.00 101.22 172.00 101.72 172.00 102.23 172.00 102.74 172.00 103.24 172.00 103.75 172.00 104.25 172.00 104.76 172.00 105.27 172.00 105.77 172.00 106.28 172.00 106.78 172.00 107.29 172.00 107.79 172.00 108.30 172.00 108.81 172.00 109.31 172.00 109.82 172.00 110.32 172.00 110.83 172.00 111.34 172.00 111.84 172.00 112.35 172.00 112.85 172.00 113.36 172.00 113.86 172.00 114.37 172.00 114.88 172.00 115.38 172.00 115.89 172.00 116.39 172.00 116.90 172.00 117.41 172.00 117.91 172.00 118.42 172.00 118.92 172.00 119.43 172.00 119.93 172.00 120.44 172.00 120.95 172.00 121.45 172.00 121.96 172.00 122.46 172.00 122.97 172.00 123.48 172.00 123.98 172.00 124.49 172.00 124.99 172.00 125.50 172.00 126.01 172.00 126.51 172.00 127.02 172.00 127.52 172.00 128.03 172.00 128.53 172.00 129.04 172.00 129.55 172.00 130.05 172.00 130.56 172.00 131.06 172.00 131.57 172.00 132.08 172.00 132.58 172.00 133.09 172.00 133.59 172.00 134.10 172.00 134.60 172.00 135.11 172.00 135.62 172.00 136.12 172.00 136.63 172.00 137.13 172.00 137.64 172.00 138.15 172.00 138.65 172.00 139.16 172.00 139.66 172.00 140.17 172.00 140.67 172.00 141.18 172.00 141.69 172.00 142.19 172.00 142.70 172.00 143.20 172.00 143.71 172.00 144.22 172.00 144.72 172.00 145.23 172.00 145.73 172.00 146.24 172.00 146.74 172.00 147.25 172.00 147.76 172.00 148.26 172.00 148.77 172.00 149.27 172.00 149.78 172.00 150.29 172.00 150.79 172.00 151.30 172.00 151.80 172.00 152.31 172.00 152.81 172.00 153.32 172.00 153.83 172.00 154.33 172.00 154.84 172.00 155.34 172.00 155.85 172.00 156.36 172.00 156.86 172.00 157.37 172.00 157.87 172.00 158.38 172.00 158.88 172.06 159.39 172.42 159.90 173.01 160.40 173.79 160.91 174.67 161.41 175.68 161.92 176.80 162.43 177.94 162.93 179.14 163.44 180.38 163.94 181.59 164.45 182.79 164.95 183.91 165.46 184.86 165.97 185.57 166.47 186.01 166.98 186.39 167.48 186.73 167.99 187.03 168.50 187.31 169.00 187.56 169.51 187.80 170.01 188.01 170.52 188.22 171.03 188.40 171.53 188.58 172.04 188.74 172.54 188.90 173.05 189.04 173.55 189.18 174.06 189.31 174.57 189.43 175.07 189.55 175.58 189.65 176.08 189.75 176.59 189.85 177.10 189.94 177.60 190.02 178.11 190.10 178.61 190.18 179.12 190.25 179.62 190.32 180.13 190.38 180.64 190.44 181.14 190.49 181.65 190.55 182.15 190.59 182.66 190.64 183.17 190.68 183.67 190.72 184.18 190.75 184.68 190.79 185.19 190.81 185.69 190.84 186.20 190.86 186.71 190.89 187.21 190.90 187.72 190.92 188.22 190.93 188.73 190.94 189.24 190.95 189.74 190.95 190.25 190.96 190.75 190.96 191.26 190.95 191.76 190.95 192.27 190.94 192.78 190.93 193.28 190.92 193.79 190.90 194.29 190.89 194.80 190.86 195.31 190.84 195.81 190.81 196.32 190.79 196.82 190.75 197.33 190.72 197.83 190.68 198.34 190.64 198.85 190.59 199.35 190.55 199.86 190.49 200.36 190.44 200.87 190.38 201.38 190.32 201.88 190.25 202.39 190.18 202.89 190.10 203.40 190.02 203.90 189.94 204.41 189.85 204.92 189.75 205.42 189.65 205.93 189.55 206.43 189.43 206.94 189.31 207.45 189.18 207.95 189.04 208.46 188.90 208.96 188.74 209.47 188.58 209.97 188.40 210.48 188.22 210.99 188.01 211.49 187.80 212.00 187.56 212.50 187.31 213.01 187.03 213.52 186.73 214.02 186.39 214.53 186.01 215.03 185.57 215.54 184.86 216.05 183.91 216.55 182.79 217.06 181.59 217.56 180.38 218.07 179.14 218.57 177.94 219.08 176.80 219.59 175.68 220.09 174.67 220.60 173.79 221.10 173.01 221.61 172.42 222.12 172.06 222.62 172.00 223.13 172.00 223.63 172.00 224.14 172.00 224.64 172.00 225.15 172.00 225.66 172.00 226.16 172.00 226.67 172.00 227.17 172.00 227.68 172.00 228.19 172.00 228.69 172.00 229.20 172.00 229.70 172.00 230.21 172.00 230.71 172.00 231.22 172.00 231.73 172.00 232.23 172.00 232.74 172.00 233.24 172.00 233.75 172.00 234.26 172.00 234.76 172.00 235.27 172.00 235.77 172.00 236.28 172.00 236.78 172.00 237.29 172.00 237.80 172.00 238.30 172.00 238.81 172.00 239.31 172.00 239.82 172.00 240.33 172.00 240.83 172.00 241.34 172.00 241.84 172.00 242.35 172.00 242.85 172.00 243.36 172.00 243.87 172.00 244.37 172.00 244.88 172.00 245.38 172.00 245.89 172.00 246.40 172.00 246.90 172.00 247.41 172.00 247.91 172.00 248.42 172.00 248.92 172.00 249.43 172.00 249.94 172.00 250.44 172.00 250.95 172.00 251.45 172.00 251.96 172.00 252.47 172.00 252.97 172.00 253.48 172.00 253.98 172.00 254.49 172.00 254.99 172.00 255.50 172.00 256.01 172.00 256.51 172.00 257.02 172.00 257.52 172.00 258.03 172.00 258.54 172.00 259.04 172.00 259.55 172.00 260.05 172.00 260.56 172.00 261.07 172.00 261.57 172.00 262.08 172.00 262.58 172.00 263.09 172.00 263.59 172.00 264.10 172.00 264.61 172.00 265.11 172.00 265.62 172.00 266.12 172.00 266.63 172.00 267.14 172.00 267.64 172.00 268.15 172.00 268.65 172.00 269.16 172.00 269.66 172.00 270.17 172.00 270.68 172.00 271.18 172.00 271.69 172.00 272.19 172.00 272.70 172.00 273.21 172.00 273.71 172.00 274.22 172.00 274.72 172.00 275.23 172.00 275.73 172.00 276.24 172.00 276.75 172.00 277.25 172.00 277.76 172.00 278.26 172.00 278.77 172.00 279.28 172.00 279.78 172.00 280.29 172.00 280.79 172.00 281.30 172.00 281.80 172.00 282.31 172.00 282.82 172.00 283.32 172.00 283.83 172.00 284.33 172.00 284.84 172.00 285.35 172.00 285.85 172.00 286.36 172.00 286.86 172.00 287.37 172.00 287.87 172.00 288.38 172.00 288.89 172.00 289.39 172.00 289.90 172.00 290.40 172.00 290.91 172.00 291.42 172.00 291.92 172.00 292.43 172.00 292.93 172.00 293.44 172.00 293.94 172.00 294.45 172.00 294.96 172.00 295.46 172.00 295.97 172.00 296.47 172.00 296.98 172.00 297.49 172.00 297.99 172.00 298.50 172.00 299.00 172.00 299.51 172.00 300.02 172.00 300.52 172.00 301.03 172.00 301.53 172.00 302.04 172.00 302.54 172.00 303.05 172.00 303.56 172.00 304.06 172.00 304.57 172.00 305.07 172.00 305.58 172.00 306.09 172.00 306.59 172.00 307.10 172.00 307.60 172.00 308.11 172.00 308.61 172.00 309.12 172.00 309.63 172.00 310.13 172.00 310.64 172.00 311.14 172.00 311.65 172.00 312.16 172.00 312.66 172.00 313.17 172.00 313.67 172.00 314.18 172.00 314.68 172.00 315.19 172.00 315.70 172.00 316.20 172.00 316.71 172.00 317.21 172.00 317.72 172.00 318.23 172.00 318.73 172.00 319.24 172.00 319.74 172.00 320.25 172.00 320.75 172.00 321.26 172.00 321.77 172.00 322.27 172.00 322.78 172.00 323.28 172.00 323.79 172.00 324.30 172.00 324.80 172.00 325.31 172.00 325.81 172.00 326.32 172.00 326.82 172.00 327.33 172.00 327.84 172.00 328.34 172.00 328.85 172.00 329.35 172.00 329.86 172.00 330.37 172.00 330.87 172.00 331.38 172.00 331.88 172.00 332.39 172.00 332.89 172.00 333.40 172.00 333.91 172.00 334.41 172.00 334.92 172.00 335.42 172.00 335.93 172.00 336.44 172.00 336.94 172.00 337.45 172.00 337.95 172.00 338.46 172.00 338.96 172.00 339.47 172.00 339.98 172.00 340.48 172.00 340.99 172.00 341.49 172.00 342.00 172.00" stroke="#ee1111" stroke-width="1.3" fill="none"/>
<path d="M40.52 169.60v5.2M43.55 167.02v5.2M46.58 168.31v5.2M49.61 165.13v5.2M52.64 175.85v5.2M55.66 162.35v5.2M58.69 172.68v5.2M61.72 167.02v5.2M64.75 169.60v5.2M67.78 176.75v5.2M70.82 170.19v5.2M73.84 167.02v5.2M76.88 171.68v5.2M79.91 167.91v5.2M82.94 170.99v5.2M85.97 167.71v5.2M89.00 167.91v5.2M92.03 169.90v5.2M95.06 167.02v5.2M98.08 168.51v5.2M101.11 167.31v5.2M104.14 168.51v5.2M107.17 170.79v5.2M110.20 163.94v5.2M113.23 166.22v5.2M116.27 171.88v5.2M119.29 171.58v5.2M122.32 169.60v5.2M125.35 162.55v5.2M128.38 167.02v5.2M131.41 172.97v5.2M134.44 163.64v5.2M137.48 167.71v5.2M140.50 168.11v5.2M143.54 162.25v5.2M146.56 170.79v5.2M149.59 172.97v5.2M152.62 180.62v5.2M155.65 170.79v5.2M158.69 164.63v5.2M161.71 179.00v5.2M164.75 183.44v5.2M167.78 183.51v5.2M170.81 184.33v5.2M173.83 188.64v5.2M176.86 194.15v5.2M179.89 185.07v5.2M182.92 187.56v5.2M185.95 190.54v5.2M188.98 191.72v5.2M192.02 189.04v5.2M195.05 187.66v5.2M198.07 185.98v5.2M201.10 190.93v5.2M204.13 188.89v5.2M207.16 188.54v5.2M210.19 184.53v5.2M213.22 185.00v5.2M216.25 175.30v5.2M219.28 180.69v5.2M222.31 173.37v5.2M225.34 166.72v5.2M228.38 166.22v5.2M231.41 167.61v5.2M234.44 172.18v5.2M237.47 171.88v5.2M240.50 171.29v5.2M243.53 169.20v5.2M246.56 167.31v5.2M249.59 175.56v5.2M252.62 161.26v5.2M255.65 173.77v5.2M258.67 171.49v5.2M261.70 166.52v5.2M264.73 167.91v5.2M267.76 170.79v5.2M270.79 170.79v5.2M273.82 169.10v5.2M276.86 177.25v5.2M279.88 167.71v5.2M282.91 167.71v5.2M285.94 170.00v5.2M288.98 172.28v5.2M292.00 170.19v5.2M295.03 166.82v5.2M298.06 166.22v5.2M301.09 168.51v5.2M304.12 166.52v5.2M307.15 174.27v5.2M310.18 168.11v5.2M313.21 165.03v5.2M316.25 167.71v5.2M319.27 174.76v5.2M322.31 177.64v5.2M325.33 167.02v5.2M328.37 168.11v5.2M331.39 173.07v5.2M334.43 165.03v5.2M337.45 171.39v5.2M340.49 167.71v5.2" stroke="#8888ff" stroke-width="0.6" fill="none"/>
<g fill="#0a14f0"><circle cx="40.52" cy="172.20" r="1.5"/><circle cx="43.55" cy="169.62" r="1.5"/><circle cx="46.58" cy="170.91" r="1.5"/><circle cx="49.61" cy="167.73" r="1.5"/><circle cx="52.64" cy="178.45" r="1.5"/><circle cx="55.66" cy="164.95" r="1.5"/><circle cx="58.69" cy="175.28" r="1.5"/><circle cx="61.72" cy="169.62" r="1.5"/><circle cx="64.75" cy="172.20" r="1.5"/><circle cx="67.78" cy="179.35" r="1.5"/><circle cx="70.82" cy="172.79" r="1.5"/><circle cx="73.84" cy="169.62" r="1.5"/><circle cx="76.88" cy="174.28" r="1.5"/><circle cx="79.91" cy="170.51" r="1.5"/><circle cx="82.94" cy="173.59" r="1.5"/><circle cx="85.97" cy="170.31" r="1.5"/><circle cx="89.00" cy="170.51" r="1.5"/><circle cx="92.03" cy="172.50" r="1.5"/><circle cx="95.06" cy="169.62" r="1.5"/><circle cx="98.08" cy="171.11" r="1.5"/><circle cx="101.11" cy="169.91" r="1.5"/><circle cx="104.14" cy="171.11" r="1.5"/><circle cx="107.17" cy="173.39" r="1.5"/><circle cx="110.20" cy="166.54" r="1.5"/><circle cx="113.23" cy="168.82" r="1.5"/><circle cx="116.27" cy="174.48" r="1.5"/><circle cx="119.29" cy="174.18" r="1.5"/><circle cx="122.32" cy="172.20" r="1.5"/><circle cx="125.35" cy="165.15" r="1.5"/><circle cx="128.38" cy="169.62" r="1.5"/><circle cx="131.41" cy="175.57" r="1.5"/><circle cx="134.44" cy="166.24" r="1.5"/><circle cx="137.48" cy="170.31" r="1.5"/><circle cx="140.50" cy="170.71" r="1.5"/><circle cx="143.54" cy="164.85" r="1.5"/><circle cx="146.56" cy="173.39" r="1.5"/><circle cx="149.59" cy="175.57" r="1.5"/><circle cx="152.62" cy="183.22" r="1.5"/><circle cx="155.65" cy="173.39" r="1.5"/><circle cx="158.69" cy="167.23" r="1.5"/><circle cx="161.71" cy="181.60" r="1.5"/><circle cx="164.75" cy="186.04" r="1.5"/><circle cx="167.78" cy="186.11" r="1.5"/><circle cx="170.81" cy="186.93" r="1.5"/><circle cx="173.83" cy="191.24" r="1.5"/><circle cx="176.86" cy="196.75" r="1.5"/><circle cx="179.89" cy="187.67" r="1.5"/><circle cx="182.92" cy="190.16" r="1.5"/><circle cx="185.95" cy="193.14" r="1.5"/><circle cx="188.98" cy="194.32" r="1.5"/><circle cx="192.02" cy="191.64" r="1.5"/><circle cx="195.05" cy="190.26" r="1.5"/><circle cx="198.07" cy="188.58" r="1.5"/><circle cx="201.10" cy="193.53" r="1.5"/><circle cx="204.13" cy="191.49" r="1.5"/><circle cx="207.16" cy="191.14" r="1.5"/><circle cx="210.19" cy="187.13" r="1.5"/><circle cx="213.22" cy="187.60" r="1.5"/><circle cx="216.25" cy="177.90" r="1.5"/><circle cx="219.28" cy="183.29" r="1.5"/><circle cx="222.31" cy="175.97" r="1.5"/><circle cx="225.34" cy="169.32" r="1.5"/><circle cx="228.38" cy="168.82" r="1.5"/><circle cx="231.41" cy="170.21" r="1.5"/><circle cx="234.44" cy="174.78" r="1.5"/><circle cx="237.47" cy="174.48" r="1.5"/><circle cx="240.50" cy="173.89" r="1.5"/><circle cx="243.53" cy="171.80" r="1.5"/><circle cx="246.56" cy="169.91" r="1.5"/><circle cx="249.59" cy="178.16" r="1.5"/><circle cx="252.62" cy="163.86" r="1.5"/><circle cx="255.65" cy="176.37" r="1.5"/><circle cx="258.67" cy="174.09" r="1.5"/><circle cx="261.70" cy="169.12" r="1.5"/><circle cx="264.73" cy="170.51" r="1.5"/><circle cx="267.76" cy="173.39" r="1.5"/><circle cx="270.79" cy="173.39" r="1.5"/><circle cx="273.82" cy="171.70" r="1.5"/><circle cx="276.86" cy="179.85" r="1.5"/><circle cx="279.88" cy="170.31" r="1.5"/><circle cx="282.91" cy="170.31" r="1.5"/><circle cx="285.94" cy="172.60" r="1.5"/><circle cx="288.98" cy="174.88" r="1.5"/><circle cx="292.00" cy="172.79" r="1.5"/><circle cx="295.03" cy="169.42" r="1.5"/><circle cx="298.06" cy="168.82" r="1.5"/><circle cx="301.09" cy="171.11" r="1.5"/><circle cx="304.12" cy="169.12" r="1.5"/><circle cx="307.15" cy="176.87" r="1.5"/><circle cx="310.18" cy="170.71" r="1.5"/><circle cx="313.21" cy="167.63" r="1.5"/><circle cx="316.25" cy="170.31" r="1.5"/><circle cx="319.27" cy="177.36" r="1.5"/><circle cx="322.31" cy="180.24" r="1.5"/><circle cx="325.33" cy="169.62" r="1.5"/><circle cx="328.37" cy="170.71" r="1.5"/><circle cx="331.39" cy="175.67" r="1.5"/><circle cx="334.43" cy="167.63" r="1.5"/><circle cx="337.45" cy="173.99" r="1.5"/><circle cx="340.49" cy="170.31" r="1.5"/></g>
<path d="M39 295.50H342" stroke="#ee1111" stroke-width="1.3" fill="none"/>
<path d="M40.52 293.10v5.2M43.55 290.51v5.2M46.58 291.81v5.2M49.61 288.62v5.2M52.64 299.37v5.2M55.66 285.83v5.2M58.69 296.18v5.2M61.72 290.51v5.2M64.75 293.10v5.2M67.78 300.26v5.2M70.82 293.70v5.2M73.84 290.51v5.2M76.88 295.19v5.2M79.91 291.41v5.2M82.94 294.49v5.2M85.97 291.21v5.2M89.00 291.41v5.2M92.03 293.40v5.2M95.06 290.51v5.2M98.08 292.00v5.2M101.11 290.81v5.2M104.14 292.00v5.2M107.17 294.29v5.2M110.20 287.43v5.2M113.23 289.72v5.2M116.27 295.39v5.2M119.29 295.09v5.2M122.32 293.10v5.2M125.35 286.03v5.2M128.38 290.51v5.2M131.41 296.48v5.2M134.44 287.13v5.2M137.48 291.21v5.2M140.50 291.61v5.2M143.54 285.73v5.2M146.56 294.29v5.2M149.59 296.48v5.2M152.62 304.15v5.2M155.65 294.29v5.2M158.69 288.12v5.2M161.71 298.17v5.2M164.75 295.49v5.2M167.78 292.10v5.2M170.81 291.51v5.2M173.83 294.89v5.2M176.86 299.77v5.2M179.89 290.21v5.2M182.92 292.40v5.2M185.95 295.19v5.2M188.98 296.28v5.2M192.02 293.60v5.2M195.05 292.30v5.2M198.07 290.81v5.2M201.10 296.08v5.2M204.13 294.49v5.2M207.16 294.79v5.2M210.19 291.71v5.2M213.22 293.60v5.2M216.25 287.33v5.2M219.28 299.87v5.2M222.31 296.88v5.2M225.34 290.21v5.2M228.38 289.72v5.2M231.41 291.11v5.2M234.44 295.69v5.2M237.47 295.39v5.2M240.50 294.79v5.2M243.53 292.70v5.2M246.56 290.81v5.2M249.59 299.07v5.2M252.62 284.74v5.2M255.65 297.28v5.2M258.67 294.99v5.2M261.70 290.01v5.2M264.73 291.41v5.2M267.76 294.29v5.2M270.79 294.29v5.2M273.82 292.60v5.2M276.86 300.76v5.2M279.88 291.21v5.2M282.91 291.21v5.2M285.94 293.50v5.2M288.98 295.79v5.2M292.00 293.70v5.2M295.03 290.31v5.2M298.06 289.72v5.2M301.09 292.00v5.2M304.12 290.01v5.2M307.15 297.78v5.2M310.18 291.61v5.2M313.21 288.52v5.2M316.25 291.21v5.2M319.27 298.27v5.2M322.31 301.16v5.2M325.33 290.51v5.2M328.37 291.61v5.2M331.39 296.58v5.2M334.43 288.52v5.2M337.45 294.89v5.2M340.49 291.21v5.2" stroke="#8888ff" stroke-width="0.6" fill="none"/>
<g fill="#0a14f0"><circle cx="40.52" cy="295.70" r="1.5"/><circle cx="43.55" cy="293.11" r="1.5"/><circle cx="46.58" cy="294.41" r="1.5"/><circle cx="49.61" cy="291.22" r="1.5"/><circle cx="52.64" cy="301.97" r="1.5"/><circle cx="55.66" cy="288.43" r="1.5"/><circle cx="58.69" cy="298.78" r="1.5"/><circle cx="61.72" cy="293.11" r="1.5"/><circle cx="64.75" cy="295.70" r="1.5"/><circle cx="67.78" cy="302.86" r="1.5"/><circle cx="70.82" cy="296.30" r="1.5"/><circle cx="73.84" cy="293.11" r="1.5"/><circle cx="76.88" cy="297.79" r="1.5"/><circle cx="79.91" cy="294.01" r="1.5"/><circle cx="82.94" cy="297.09" r="1.5"/><circle cx="85.97" cy="293.81" r="1.5"/><circle cx="89.00" cy="294.01" r="1.5"/><circle cx="92.03" cy="296.00" r="1.5"/><circle cx="95.06" cy="293.11" r="1.5"/><circle cx="98.08" cy="294.60" r="1.5"/><circle cx="101.11" cy="293.41" r="1.5"/><circle cx="104.14" cy="294.60" r="1.5"/><circle cx="107.17" cy="296.89" r="1.5"/><circle cx="110.20" cy="290.03" r="1.5"/><circle cx="113.23" cy="292.32" r="1.5"/><circle cx="116.27" cy="297.99" r="1.5"/><circle cx="119.29" cy="297.69" r="1.5"/><circle cx="122.32" cy="295.70" r="1.5"/><circle cx="125.35" cy="288.63" r="1.5"/><circle cx="128.38" cy="293.11" r="1.5"/><circle cx="131.41" cy="299.08" r="1.5"/><circle cx="134.44" cy="289.73" r="1.5"/><circle cx="137.48" cy="293.81" r="1.5"/><circle cx="140.50" cy="294.21" r="1.5"/><circle cx="143.54" cy="288.33" r="1.5"/><circle cx="146.56" cy="296.89" r="1.5"/><circle cx="149.59" cy="299.08" r="1.5"/><circle cx="152.62" cy="306.75" r="1.5"/><circle cx="155.65" cy="296.89" r="1.5"/><circle cx="158.69" cy="290.72" r="1.5"/><circle cx="161.71" cy="300.77" r="1.5"/><circle cx="164.75" cy="298.09" r="1.5"/><circle cx="167.78" cy="294.70" r="1.5"/><circle cx="170.81" cy="294.11" r="1.5"/><circle cx="173.83" cy="297.49" r="1.5"/><circle cx="176.86" cy="302.37" r="1.5"/><circle cx="179.89" cy="292.81" r="1.5"/><circle cx="182.92" cy="295.00" r="1.5"/><circle cx="185.95" cy="297.79" r="1.5"/><circle cx="188.98" cy="298.88" r="1.5"/><circle cx="192.02" cy="296.20" r="1.5"/><circle cx="195.05" cy="294.90" r="1.5"/><circle cx="198.07" cy="293.41" r="1.5"/><circle cx="201.10" cy="298.68" r="1.5"/><circle cx="204.13" cy="297.09" r="1.5"/><circle cx="207.16" cy="297.39" r="1.5"/><circle cx="210.19" cy="294.31" r="1.5"/><circle cx="213.22" cy="296.20" r="1.5"/><circle cx="216.25" cy="289.93" r="1.5"/><circle cx="219.28" cy="302.47" r="1.5"/><circle cx="222.31" cy="299.48" r="1.5"/><circle cx="225.34" cy="292.81" r="1.5"/><circle cx="228.38" cy="292.32" r="1.5"/><circle cx="231.41" cy="293.71" r="1.5"/><circle cx="234.44" cy="298.29" r="1.5"/><circle cx="237.47" cy="297.99" r="1.5"/><circle cx="240.50" cy="297.39" r="1.5"/><circle cx="243.53" cy="295.30" r="1.5"/><circle cx="246.56" cy="293.41" r="1.5"/><circle cx="249.59" cy="301.67" r="1.5"/><circle cx="252.62" cy="287.34" r="1.5"/><circle cx="255.65" cy="299.88" r="1.5"/><circle cx="258.67" cy="297.59" r="1.5"/><circle cx="261.70" cy="292.61" r="1.5"/><circle cx="264.73" cy="294.01" r="1.5"/><circle cx="267.76" cy="296.89" r="1.5"/><circle cx="270.79" cy="296.89" r="1.5"/><circle cx="273.82" cy="295.20" r="1.5"/><circle cx="276.86" cy="303.36" r="1.5"/><circle cx="279.88" cy="293.81" r="1.5"/><circle cx="282.91" cy="293.81" r="1.5"/><circle cx="285.94" cy="296.10" r="1.5"/><circle cx="288.98" cy="298.39" r="1.5"/><circle cx="292.00" cy="296.30" r="1.5"/><circle cx="295.03" cy="292.91" r="1.5"/><circle cx="298.06" cy="292.32" r="1.5"/><circle cx="301.09" cy="294.60" r="1.5"/><circle cx="304.12" cy="292.61" r="1.5"/><circle cx="307.15" cy="300.38" r="1.5"/><circle cx="310.18" cy="294.21" r="1.5"/><circle cx="313.21" cy="291.12" r="1.5"/><circle cx="316.25" cy="293.81" r="1.5"/><circle cx="319.27" cy="300.87" r="1.5"/><circle cx="322.31" cy="303.76" r="1.5"/><circle cx="325.33" cy="293.11" r="1.5"/><circle cx="328.37" cy="294.21" r="1.5"/><circle cx="331.39" cy="299.18" r="1.5"/><circle cx="334.43" cy="291.12" r="1.5"/><circle cx="337.45" cy="297.49" r="1.5"/><circle cx="340.49" cy="293.81" r="1.5"/></g>
<rect x="39" y="14.3" width="303.00" height="81.00" fill="none" stroke="#555" stroke-width="1.0"/>
<path d="M39.00 20.09h2.5M342.00 20.09h-2.5M39.00 31.66h2.5M342.00 31.66h-2.5M39.00 43.23h2.5M342.00 43.23h-2.5M39.00 54.80h2.5M342.00 54.80h-2.5M39.00 66.37h2.5M342.00 66.37h-2.5M39.00 77.94h2.5M342.00 77.94h-2.5M39.00 89.51h2.5M342.00 89.51h-2.5" stroke="#555" stroke-width="0.8" fill="none"/>
<path d="M69.30 95.30v-2.5M69.30 14.30v2.5M129.90 95.30v-2.5M129.90 14.30v2.5M190.50 95.30v-2.5M190.50 14.30v2.5M251.10 95.30v-2.5M251.10 14.30v2.5M311.70 95.30v-2.5M311.70 14.30v2.5" stroke="#555" stroke-width="0.8" fill="none"/>
<text x="35.00" y="22.59" font-size="7" text-anchor="end" font-weight="normal" fill="#000" stroke="#000" stroke-width="0.2" stroke-opacity="0.55">-0.03</text>
<text x="35.00" y="34.16" font-size="7" text-anchor="end" font-weight="normal" fill="#000" stroke="#000" stroke-width="0.2" stroke-opacity="0.55">-0.02</text>
<text x="35.00" y="45.73" font-size="7" text-anchor="end" font-weight="normal" fill="#000" stroke="#000" stroke-width="0.2" stroke-opacity="0.55">-0.01</text>
<text x="35.00" y="57.30" font-size="7" text-anchor="end" font-weight="normal" fill="#000" stroke="#000" stroke-width="0.2" stroke-opacity="0.55">0</text>
<text x="35.00" y="68.87" font-size="7" text-anchor="end" font-weight="normal" fill="#000" stroke="#000" stroke-width="0.2" stroke-opacity="0.55">0.01</text>
<text x="35.00" y="80.44" font-size="7" text-anchor="end" font-weight="normal" fill="#000" stroke="#000" stroke-width="0.2" stroke-opacity="0.55">0.02</text>
<text x="35.00" y="92.01" font-size="7" text-anchor="end" font-weight="normal" fill="#000" stroke="#000" stroke-width="0.2" stroke-opacity="0.55">0.03</text>
<text x="69.30" y="105.30" font-size="7" text-anchor="middle" font-weight="normal" fill="#000" stroke="#000" stroke-width="0.2" stroke-opacity="0.55">-0.4</text>
<text x="129.90" y="105.30" font-size="7" text-anchor="middle" font-weight="normal" fill="#000" stroke="#000" stroke-width="0.2" stroke-opacity="0.55">-0.2</text>
<text x="190.50" y="105.30" font-size="7" text-anchor="middle" font-weight="normal" fill="#000" stroke="#000" stroke-width="0.2" stroke-opacity="0.55">0</text>
<text x="251.10" y="105.30" font-size="7" text-anchor="middle" font-weight="normal" fill="#000" stroke="#000" stroke-width="0.2" stroke-opacity="0.55">0.2</text>
<text x="311.70" y="105.30" font-size="7" text-anchor="middle" font-weight="normal" fill="#000" stroke="#000" stroke-width="0.2" stroke-opacity="0.55">0.4</text>
<text x="190.50" y="115.80" font-size="9.7" text-anchor="middle" font-weight="normal" fill="#000" stroke="#000" stroke-width="0.2" stroke-opacity="0.55">Orbital phase</text>
<text x="10.00" y="54.80" font-size="9.7" text-anchor="middle" font-weight="normal" fill="#000" stroke="#000" stroke-width="0.2" stroke-opacity="0.55" transform="rotate(-90 10.00 54.80)">&#916; mag</text>
<rect x="39" y="125.6" width="303.00" height="92.80" fill="none" stroke="#555" stroke-width="1.0"/>
<path d="M39.00 132.23h2.5M342.00 132.23h-2.5M39.00 145.49h2.5M342.00 145.49h-2.5M39.00 158.74h2.5M342.00 158.74h-2.5M39.00 172.00h2.5M342.00 172.00h-2.5M39.00 185.26h2.5M342.00 185.26h-2.5M39.00 198.51h2.5M342.00 198.51h-2.5M39.00 211.77h2.5M342.00 211.77h-2.5" stroke="#555" stroke-width="0.8" fill="none"/>
<path d="M39.00 218.40v-2.5M39.00 125.60v2.5M114.75 218.40v-2.5M114.75 125.60v2.5M190.50 218.40v-2.5M190.50 125.60v2.5M266.25 218.40v-2.5M266.25 125.60v2.5M342.00 218.40v-2.5M342.00 125.60v2.5" stroke="#555" stroke-width="0.8" fill="none"/>
<text x="35.00" y="134.73" font-size="7" text-anchor="end" font-weight="normal" fill="#000" stroke="#000" stroke-width="0.2" stroke-opacity="0.55">-0.03</text>
<text x="35.00" y="147.99" font-size="7" text-anchor="end" font-weight="normal" fill="#000" stroke="#000" stroke-width="0.2" stroke-opacity="0.55">-0.02</text>
<text x="35.00" y="161.24" font-size="7" text-anchor="end" font-weight="normal" fill="#000" stroke="#000" stroke-width="0.2" stroke-opacity="0.55">-0.01</text>
<text x="35.00" y="174.50" font-size="7" text-anchor="end" font-weight="normal" fill="#000" stroke="#000" stroke-width="0.2" stroke-opacity="0.55">0</text>
<text x="35.00" y="187.76" font-size="7" text-anchor="end" font-weight="normal" fill="#000" stroke="#000" stroke-width="0.2" stroke-opacity="0.55">0.01</text>
<text x="35.00" y="201.01" font-size="7" text-anchor="end" font-weight="normal" fill="#000" stroke="#000" stroke-width="0.2" stroke-opacity="0.55">0.02</text>
<text x="35.00" y="214.27" font-size="7" text-anchor="end" font-weight="normal" fill="#000" stroke="#000" stroke-width="0.2" stroke-opacity="0.55">0.03</text>
<text x="39.00" y="228.40" font-size="7" text-anchor="middle" font-weight="normal" fill="#000" stroke="#000" stroke-width="0.2" stroke-opacity="0.55">-0.1</text>
<text x="114.75" y="228.40" font-size="7" text-anchor="middle" font-weight="normal" fill="#000" stroke="#000" stroke-width="0.2" stroke-opacity="0.55">-0.05</text>
<text x="190.50" y="228.40" font-size="7" text-anchor="middle" font-weight="normal" fill="#000" stroke="#000" stroke-width="0.2" stroke-opacity="0.55">0</text>
<text x="266.25" y="228.40" font-size="7" text-anchor="middle" font-weight="normal" fill="#000" stroke="#000" stroke-width="0.2" stroke-opacity="0.55">0.05</text>
<text x="342.00" y="228.40" font-size="7" text-anchor="middle" font-weight="normal" fill="#000" stroke="#000" stroke-width="0.2" stroke-opacity="0.55">0.1</text>
<text x="190.50" y="238.90" font-size="9.7" text-anchor="middle" font-weight="normal" fill="#000" stroke="#000" stroke-width="0.2" stroke-opacity="0.55">Orbital phase</text>
<text x="10.00" y="172.00" font-size="9.7" text-anchor="middle" font-weight="normal" fill="#000" stroke="#000" stroke-width="0.2" stroke-opacity="0.55" transform="rotate(-90 10.00 172.00)">&#916; mag</text>
<rect x="39" y="249.0" width="303.00" height="93.00" fill="none" stroke="#555" stroke-width="1.0"/>
<path d="M39.00 255.64h2.5M342.00 255.64h-2.5M39.00 268.93h2.5M342.00 268.93h-2.5M39.00 282.21h2.5M342.00 282.21h-2.5M39.00 295.50h2.5M342.00 295.50h-2.5M39.00 308.79h2.5M342.00 308.79h-2.5M39.00 322.07h2.5M342.00 322.07h-2.5M39.00 335.36h2.5M342.00 335.36h-2.5" stroke="#555" stroke-width="0.8" fill="none"/>
<path d="M39.00 342.00v-2.5M39.00 249.00v2.5M114.75 342.00v-2.5M114.75 249.00v2.5M190.50 342.00v-2.5M190.50 249.00v2.5M266.25 342.00v-2.5M266.25 249.00v2.5M342.00 342.00v-2.5M342.00 249.00v2.5" stroke="#555" stroke-width="0.8" fill="none"/>
<text x="35.00" y="258.14" font-size="7" text-anchor="end" font-weight="normal" fill="#000" stroke="#000" stroke-width="0.2" stroke-opacity="0.55">-0.03</text>
<text x="35.00" y="271.43" font-size="7" text-anchor="end" font-weight="normal" fill="#000" stroke="#000" stroke-width="0.2" stroke-opacity="0.55">-0.02</text>
<text x="35.00" y="284.71" font-size="7" text-anchor="end" font-weight="normal" fill="#000" stroke="#000" stroke-width="0.2" stroke-opacity="0.55">-0.01</text>
<text x="35.00" y="298.00" font-size="7" text-anchor="end" font-weight="normal" fill="#000" stroke="#000" stroke-width="0.2" stroke-opacity="0.55">0</text>
<text x="35.00" y="311.29" font-size="7" text-anchor="end" font-weight="normal" fill="#000" stroke="#000" stroke-width="0.2" stroke-opacity="0.55">0.01</text>
<text x="35.00" y="324.57" font-size="7" text-anchor="end" font-weight="normal" fill="#000" stroke="#000" stroke-width="0.2" stroke-opacity="0.55">0.02</text>
<text x="35.00" y="337.86" font-size="7" text-anchor="end" font-weight="normal" fill="#000" stroke="#000" stroke-width="0.2" stroke-opacity="0.55">0.03</text>
<text x="39.00" y="352.00" font-size="7" text-anchor="middle" font-weight="normal" fill="#000" stroke="#000" stroke-width="0.2" stroke-opacity="0.55">-0.1</text>
<text x="114.75" y="352.00" font-size="7" text-anchor="middle" font-weight="normal" fill="#000" stroke="#000" stroke-width="0.2" stroke-opacity="0.55">-0.05</text>
<text x="190.50" y="352.00" font-size="7" text-anchor="middle" font-weight="normal" fill="#000" stroke="#000" stroke-width="0.2" stroke-opacity="0.55">0</text>
<text x="266.25" y="352.00" font-size="7" text-anchor="middle" font-weight="normal" fill="#000" stroke="#000" stroke-width="0.2" stroke-opacity="0.55">0.05</text>
<text x="342.00" y="352.00" font-size="7" text-anchor="middle" font-weight="normal" fill="#000" stroke="#000" stroke-width="0.2" stroke-opacity="0.55">0.1</text>
<text x="190.50" y="362.50" font-size="9.7" text-anchor="middle" font-weight="normal" fill="#000" stroke="#000" stroke-width="0.2" stroke-opacity="0.55">Orbital phase</text>
<text x="10.00" y="295.50" font-size="9.7" text-anchor="middle" font-weight="normal" fill="#000" stroke="#000" stroke-width="0.2" stroke-opacity="0.55" transform="rotate(-90 10.00 295.50)">&#916; mag</text>
<text x="191.00" y="7.00" font-size="9.9" text-anchor="middle" font-weight="bold" fill="#000">HATS-69 HATSouth Light Curve</text>
<path d="M385.00 51.01 385.33 51.01 385.65 51.01 385.98 51.01 386.31 51.01 386.64 51.01 386.96 51.01 387.29 51.01 387.62 51.01 387.94 51.01 388.27 51.01 388.60 51.01 388.92 51.01 389.25 51.01 389.58 51.01 389.91 51.01 390.23 51.01 390.56 51.01 390.89 51.01 391.21 51.01 391.54 51.01 391.87 51.01 392.20 51.01 392.52 51.01 392.85 51.01 393.18 51.01 393.50 51.01 393.83 51.01 394.16 51.01 394.48 51.01 394.81 51.01 395.14 51.01 395.47 51.01 395.79 51.01 396.12 51.01 396.45 51.01 396.77 51.01 397.10 51.01 397.43 51.01 397.76 51.01 398.08 51.01 398.41 51.01 398.74 51.01 399.06 51.01 399.39 51.01 399.72 51.01 400.04 51.01 400.37 51.01 400.70 51.01 401.03 51.01 401.35 51.01 401.68 51.01 402.01 51.01 402.33 51.01 402.66 51.01 402.99 51.01 403.32 51.01 403.64 51.01 403.97 51.01 404.30 51.01 404.62 51.01 404.95 51.01 405.28 51.01 405.60 51.01 405.93 51.01 406.26 51.01 406.59 51.01 406.91 51.01 407.24 51.01 407.57 51.01 407.89 51.01 408.22 51.01 408.55 51.01 408.87 51.01 409.20 51.01 409.53 51.01 409.86 51.01 410.18 51.01 410.51 51.01 410.84 51.01 411.16 51.01 411.49 51.01 411.82 51.01 412.15 51.01 412.47 51.01 412.80 51.01 413.13 51.01 413.45 51.01 413.78 51.01 414.11 51.01 414.43 51.01 414.76 51.01 415.09 51.01 415.42 51.01 415.74 51.01 416.07 51.01 416.40 51.01 416.72 51.01 417.05 51.01 417.38 51.01 417.71 51.01 418.03 51.01 418.36 51.01 418.69 51.01 419.01 51.01 419.34 51.01 419.67 51.01 419.99 51.01 420.32 51.01 420.65 51.01 420.98 51.01 421.30 51.01 421.63 51.01 421.96 51.01 422.28 51.01 422.61 51.01 422.94 51.01 423.27 51.01 423.59 51.01 423.92 51.01 424.25 51.01 424.57 51.01 424.90 51.01 425.23 51.01 425.55 51.01 425.88 51.01 426.21 51.01 426.54 51.01 426.86 51.01 427.19 51.01 427.52 51.01 427.84 51.01 428.17 51.01 428.50 51.01 428.83 51.01 429.15 51.01 429.48 51.01 429.81 51.01 430.13 51.01 430.46 51.01 430.79 51.01 431.11 51.01 431.44 51.01 431.77 51.01 432.10 51.01 432.42 51.01 432.75 51.01 433.08 51.01 433.40 51.01 433.73 51.02 434.06 51.30 434.39 51.72 434.71 52.26 435.04 52.90 435.37 53.64 435.69 54.46 436.02 55.34 436.35 56.30 436.67 57.31 437.00 58.36 437.33 59.44 437.66 60.54 437.98 61.67 438.31 62.81 438.64 63.98 438.96 65.12 439.29 66.27 439.62 67.37 439.95 68.44 440.27 69.42 440.60 70.33 440.93 71.12 441.25 71.61 441.58 72.02 441.91 72.40 442.23 72.74 442.56 73.06 442.89 73.36 443.22 73.65 443.54 73.91 443.87 74.17 444.20 74.41 444.52 74.63 444.85 74.85 445.18 75.06 445.51 75.25 445.83 75.44 446.16 75.62 446.49 75.80 446.81 75.96 447.14 76.12 447.47 76.27 447.79 76.42 448.12 76.56 448.45 76.70 448.78 76.83 449.10 76.96 449.43 77.08 449.76 77.19 450.08 77.31 450.41 77.41 450.74 77.52 451.06 77.62 451.39 77.72 451.72 77.81 452.05 77.90 452.37 77.99 452.70 78.07 453.03 78.15 453.35 78.23 453.68 78.31 454.01 78.38 454.34 78.45 454.66 78.51 454.99 78.58 455.32 78.64 455.64 78.70 455.97 78.76 456.30 78.81 456.62 78.87 456.95 78.92 457.28 78.97 457.61 79.01 457.93 79.06 458.26 79.10 458.59 79.14 458.91 79.18 459.24 79.22 459.57 79.25 459.90 79.28 460.22 79.32 460.55 79.35 460.88 79.37 461.20 79.40 461.53 79.43 461.86 79.45 462.18 79.47 462.51 79.49 462.84 79.51 463.17 79.52 463.49 79.54 463.82 79.55 464.15 79.57 464.47 79.58 464.80 79.59 465.13 79.59 465.46 79.60 465.78 79.60 466.11 79.61 466.44 79.61 466.76 79.61 467.09 79.61 467.42 79.60 467.74 79.60 468.07 79.59 468.40 79.59 468.73 79.58 469.05 79.57 469.38 79.55 469.71 79.54 470.03 79.52 470.36 79.51 470.69 79.49 471.02 79.47 471.34 79.45 471.67 79.43 472.00 79.40 472.32 79.37 472.65 79.35 472.98 79.32 473.30 79.28 473.63 79.25 473.96 79.22 474.29 79.18 474.61 79.14 474.94 79.10 475.27 79.06 475.59 79.01 475.92 78.97 476.25 78.92 476.58 78.87 476.90 78.81 477.23 78.76 477.56 78.70 477.88 78.64 478.21 78.58 478.54 78.51 478.86 78.45 479.19 78.38 479.52 78.31 479.85 78.23 480.17 78.15 480.50 78.07 480.83 77.99 481.15 77.90 481.48 77.81 481.81 77.72 482.14 77.62 482.46 77.52 482.79 77.41 483.12 77.31 483.44 77.19 483.77 77.08 484.10 76.96 484.42 76.83 484.75 76.70 485.08 76.56 485.41 76.42 485.73 76.27 486.06 76.12 486.39 75.96 486.71 75.80 487.04 75.62 487.37 75.44 487.69 75.25 488.02 75.06 488.35 74.85 488.68 74.63 489.00 74.41 489.33 74.17 489.66 73.91 489.98 73.65 490.31 73.36 490.64 73.06 490.97 72.74 491.29 72.40 491.62 72.02 491.95 71.61 492.27 71.12 492.60 70.33 492.93 69.42 493.25 68.44 493.58 67.37 493.91 66.27 494.24 65.12 494.56 63.98 494.89 62.81 495.22 61.67 495.54 60.54 495.87 59.44 496.20 58.36 496.53 57.31 496.85 56.30 497.18 55.34 497.51 54.46 497.83 53.64 498.16 52.90 498.49 52.26 498.81 51.72 499.14 51.30 499.47 51.02 499.80 51.01 500.12 51.01 500.45 51.01 500.78 51.01 501.10 51.01 501.43 51.01 501.76 51.01 502.09 51.01 502.41 51.01 502.74 51.01 503.07 51.01 503.39 51.01 503.72 51.01 504.05 51.01 504.37 51.01 504.70 51.01 505.03 51.01 505.36 51.01 505.68 51.01 506.01 51.01 506.34 51.01 506.66 51.01 506.99 51.01 507.32 51.01 507.65 51.01 507.97 51.01 508.30 51.01 508.63 51.01 508.95 51.01 509.28 51.01 509.61 51.01 509.93 51.01 510.26 51.01 510.59 51.01 510.92 51.01 511.24 51.01 511.57 51.01 511.90 51.01 512.22 51.01 512.55 51.01 512.88 51.01 513.21 51.01 513.53 51.01 513.86 51.01 514.19 51.01 514.51 51.01 514.84 51.01 515.17 51.01 515.49 51.01 515.82 51.01 516.15 51.01 516.48 51.01 516.80 51.01 517.13 51.01 517.46 51.01 517.78 51.01 518.11 51.01 518.44 51.01 518.77 51.01 519.09 51.01 519.42 51.01 519.75 51.01 520.07 51.01 520.40 51.01 520.73 51.01 521.05 51.01 521.38 51.01 521.71 51.01 522.04 51.01 522.36 51.01 522.69 51.01 523.02 51.01 523.34 51.01 523.67 51.01 524.00 51.01 524.33 51.01 524.65 51.01 524.98 51.01 525.31 51.01 525.63 51.01 525.96 51.01 526.29 51.01 526.61 51.01 526.94 51.01 527.27 51.01 527.60 51.01 527.92 51.01 528.25 51.01 528.58 51.01 528.90 51.01 529.23 51.01 529.56 51.01 529.88 51.01 530.21 51.01 530.54 51.01 530.87 51.01 531.19 51.01 531.52 51.01 531.85 51.01 532.17 51.01 532.50 51.01 532.83 51.01 533.16 51.01 533.48 51.01 533.81 51.01 534.14 51.01 534.46 51.01 534.79 51.01 535.12 51.01 535.44 51.01 535.77 51.01 536.10 51.01 536.43 51.01 536.75 51.01 537.08 51.01 537.41 51.01 537.73 51.01 538.06 51.01 538.39 51.01 538.72 51.01 539.04 51.01 539.37 51.01 539.70 51.01 540.02 51.01 540.35 51.01 540.68 51.01 541.00 51.01 541.33 51.01 541.66 51.01 541.99 51.01 542.31 51.01 542.64 51.01 542.97 51.01 543.29 51.01 543.62 51.01 543.95 51.01 544.28 51.01 544.60 51.01 544.93 51.01 545.26 51.01 545.58 51.01 545.91 51.01 546.24 51.01 546.56 51.01 546.89 51.01 547.22 51.01 547.55 51.01 547.87 51.01 548.20 51.01" stroke="#f01010" stroke-width="1.05" fill="none"/>
<path d="M548.2 51.01H699.5" stroke="#f01010" stroke-width="1.05" fill="none"/>
<g fill="#000"><circle cx="394.70" cy="50.70" r="1.3"/><circle cx="396.40" cy="47.40" r="1.3"/><circle cx="398.60" cy="47.90" r="1.3"/><circle cx="400.00" cy="51.10" r="1.3"/><circle cx="401.40" cy="48.30" r="1.3"/><circle cx="403.30" cy="52.90" r="1.3"/><circle cx="405.00" cy="56.40" r="1.3"/><circle cx="407.10" cy="52.90" r="1.3"/><circle cx="408.60" cy="51.70" r="1.3"/><circle cx="410.30" cy="43.30" r="1.3"/><circle cx="411.90" cy="55.00" r="1.3"/><circle cx="413.60" cy="50.40" r="1.3"/><circle cx="415.30" cy="53.10" r="1.3"/><circle cx="417.10" cy="48.10" r="1.3"/><circle cx="419.00" cy="51.40" r="1.3"/><circle cx="420.70" cy="54.60" r="1.3"/><circle cx="422.40" cy="52.60" r="1.3"/><circle cx="423.90" cy="53.10" r="1.3"/><circle cx="425.70" cy="56.90" r="1.3"/><circle cx="427.60" cy="50.40" r="1.3"/><circle cx="429.30" cy="49.70" r="1.3"/><circle cx="430.70" cy="56.90" r="1.3"/><circle cx="432.60" cy="52.60" r="1.3"/><circle cx="434.30" cy="50.00" r="1.3"/><circle cx="436.00" cy="62.10" r="1.3"/><circle cx="437.90" cy="58.60" r="1.3"/><circle cx="439.30" cy="68.90" r="1.3"/><circle cx="441.10" cy="74.30" r="1.3"/><circle cx="442.90" cy="81.40" r="1.3"/><circle cx="444.70" cy="64.70" r="1.3"/><circle cx="446.40" cy="78.30" r="1.3"/><circle cx="448.30" cy="68.30" r="1.3"/><circle cx="450.40" cy="78.30" r="1.3"/><circle cx="453.60" cy="57.40" r="1.3"/><circle cx="455.00" cy="92.10" r="1.3"/><circle cx="456.70" cy="70.30" r="1.3"/><circle cx="460.00" cy="72.60" r="1.3"/><circle cx="462.10" cy="73.60" r="1.3"/><circle cx="463.60" cy="76.00" r="1.3"/><circle cx="466.40" cy="87.10" r="1.3"/><circle cx="467.90" cy="88.60" r="1.3"/><circle cx="470.40" cy="89.70" r="1.3"/><circle cx="472.40" cy="74.60" r="1.3"/><circle cx="474.30" cy="80.70" r="1.3"/><circle cx="476.10" cy="66.90" r="1.3"/><circle cx="477.60" cy="74.60" r="1.3"/><circle cx="479.30" cy="80.30" r="1.3"/><circle cx="481.00" cy="74.00" r="1.3"/><circle cx="482.90" cy="69.30" r="1.3"/><circle cx="484.50" cy="76.30" r="1.3"/><circle cx="486.20" cy="64.10" r="1.3"/><circle cx="487.90" cy="87.50" r="1.3"/><circle cx="489.70" cy="79.10" r="1.3"/><circle cx="491.40" cy="64.30" r="1.3"/><circle cx="493.20" cy="76.30" r="1.3"/><circle cx="494.90" cy="67.70" r="1.3"/><circle cx="496.60" cy="70.20" r="1.3"/><circle cx="498.30" cy="49.70" r="1.3"/><circle cx="499.90" cy="54.30" r="1.3"/><circle cx="501.80" cy="42.80" r="1.3"/><circle cx="503.50" cy="56.10" r="1.3"/></g>
<path d="M557.19 45.86V55.54M555.89 45.86h2.6M555.89 55.54h2.6M558.77 44.41V50.39M557.47 44.41h2.6M557.47 50.39h2.6M560.81 44.01V51.79M559.51 44.01h2.6M559.51 51.79h2.6M562.11 47.45V54.75M560.81 47.45h2.6M560.81 54.75h2.6M563.40 43.66V52.94M562.10 43.66h2.6M562.10 52.94h2.6M565.17 49.75V56.05M563.87 49.75h2.6M563.87 56.05h2.6M566.74 51.53V61.27M565.44 51.53h2.6M565.44 61.27h2.6M568.69 48.69V57.11M567.39 48.69h2.6M567.39 57.11h2.6M570.08 48.81V54.59M568.78 48.81h2.6M568.78 54.59h2.6M571.66 39.66V46.94M570.36 39.66h2.6M570.36 46.94h2.6M573.14 51.47V58.53M571.84 51.47h2.6M571.84 58.53h2.6M574.71 47.04V53.76M573.41 47.04h2.6M573.41 53.76h2.6M576.29 50.05V56.15M574.99 50.05h2.6M574.99 56.15h2.6M577.96 44.71V51.49M576.66 44.71h2.6M576.66 51.49h2.6M579.72 48.26V54.54M578.42 48.26h2.6M578.42 54.54h2.6M581.30 51.39V57.81M580.00 51.39h2.6M580.00 57.81h2.6M582.87 48.96V56.24M581.57 48.96h2.6M581.57 56.24h2.6M584.26 48.65V57.55M582.96 48.65h2.6M582.96 57.55h2.6M585.93 52.60V61.20M584.63 52.60h2.6M584.63 61.20h2.6M587.69 45.96V54.84M586.39 45.96h2.6M586.39 54.84h2.6M589.27 46.41V52.99M587.97 46.41h2.6M587.97 52.99h2.6M590.57 53.44V60.36M589.27 53.44h2.6M589.27 60.36h2.6M592.33 49.32V55.88M591.03 49.32h2.6M591.03 55.88h2.6M593.91 46.49V52.37M592.61 46.49h2.6M592.61 52.37h2.6M595.48 53.85V61.80M594.18 53.85h2.6M594.18 61.80h2.6M597.24 39.18V57.27M595.94 39.18h2.6M595.94 57.27h2.6M598.54 47.23V59.99M597.24 47.23h2.6M597.24 59.99h2.6M600.21 48.03V59.80M598.91 48.03h2.6M598.91 59.80h2.6M601.88 53.20V64.87M600.58 53.20h2.6M600.58 64.87h2.6M603.55 32.43V49.49M602.25 32.43h2.6M602.25 49.49h2.6M605.12 48.15V58.96M603.82 48.15h2.6M603.82 58.96h2.6M606.88 37.48V47.86M605.58 37.48h2.6M605.58 47.86h2.6M608.83 44.05V59.74M607.53 44.05h2.6M607.53 59.74h2.6M611.80 20.94V39.30M610.50 20.94h2.6M610.50 39.30h2.6M613.10 57.24V71.81M611.80 57.24h2.6M611.80 71.81h2.6M614.67 35.88V48.98M613.37 35.88h2.6M613.37 48.98h2.6M617.73 37.37V51.25M616.43 37.37h2.6M616.43 51.25h2.6M619.68 37.23V53.06M618.38 37.23h2.6M618.38 53.06h2.6M621.07 40.73V54.20M619.77 40.73h2.6M619.77 54.20h2.6M623.66 49.21V67.80M622.36 49.21h2.6M622.36 67.80h2.6M625.06 50.49V69.54M623.76 50.49h2.6M623.76 69.54h2.6M627.37 55.65V66.75M626.07 55.65h2.6M626.07 66.75h2.6M629.23 40.76V51.73M627.93 40.76h2.6M627.93 51.73h2.6M630.99 45.46V59.60M629.69 45.46h2.6M629.69 59.60h2.6M632.66 29.49V48.45M631.36 29.49h2.6M631.36 48.45h2.6M634.05 41.57V52.26M632.75 41.57h2.6M632.75 52.26h2.6M635.62 44.87V61.04M634.32 44.87h2.6M634.32 61.04h2.6M637.20 38.10V56.03M635.90 38.10h2.6M635.90 56.03h2.6M638.96 34.04V51.82M637.66 34.04h2.6M637.66 51.82h2.6M640.44 40.97V60.05M639.14 40.97h2.6M639.14 60.05h2.6M642.02 29.81V48.30M640.72 29.81h2.6M640.72 48.30h2.6M643.60 56.49V70.26M642.30 56.49h2.6M642.30 70.26h2.6M645.27 50.23V62.22M643.97 50.23h2.6M643.97 62.22h2.6M646.84 34.98V51.08M645.54 34.98h2.6M645.54 51.08h2.6M648.51 50.75V66.68M647.21 50.75h2.6M647.21 66.68h2.6M650.09 49.43V62.42M648.79 49.43h2.6M648.79 62.42h2.6M651.66 57.01V71.27M650.36 57.01h2.6M650.36 71.27h2.6M653.24 44.00V52.22M651.94 44.00h2.6M651.94 52.22h2.6M654.72 51.38V57.22M653.42 51.38h2.6M653.42 57.22h2.6M656.48 38.55V47.05M655.18 38.55h2.6M655.18 47.05h2.6M658.06 51.72V60.48M656.76 51.72h2.6M656.76 60.48h2.6" stroke="#3a3a3a" stroke-width="0.55" fill="none"/>
<text x="405.50" y="38.61" font-size="8.7" text-anchor="start" font-weight="normal" fill="#000" stroke="#000" stroke-width="0.2" stroke-opacity="0.55">i-band</text>
<text x="439.50" y="38.61" font-size="8.7" text-anchor="start" font-weight="normal" fill="#000" stroke="#000" stroke-width="0.2" stroke-opacity="0.55">2016 Jul 20 - LCO 1m</text>
<path d="M385.00 112.80 385.33 112.80 385.65 112.80 385.98 112.80 386.31 112.80 386.64 112.80 386.96 112.80 387.29 112.80 387.62 112.80 387.94 112.80 388.27 112.80 388.60 112.80 388.92 112.80 389.25 112.80 389.58 112.80 389.91 112.80 390.23 112.80 390.56 112.80 390.89 112.80 391.21 112.80 391.54 112.80 391.87 112.80 392.20 112.80 392.52 112.80 392.85 112.80 393.18 112.80 393.50 112.80 393.83 112.80 394.16 112.80 394.48 112.80 394.81 112.80 395.14 112.80 395.47 112.80 395.79 112.80 396.12 112.80 396.45 112.80 396.77 112.80 397.10 112.80 397.43 112.80 397.76 112.80 398.08 112.80 398.41 112.80 398.74 112.80 399.06 112.80 399.39 112.80 399.72 112.80 400.04 112.80 400.37 112.80 400.70 112.80 401.03 112.80 401.35 112.80 401.68 112.80 402.01 112.80 402.33 112.80 402.66 112.80 402.99 112.80 403.32 112.80 403.64 112.80 403.97 112.80 404.30 112.80 404.62 112.80 404.95 112.80 405.28 112.80 405.60 112.80 405.93 112.80 406.26 112.80 406.59 112.80 406.91 112.80 407.24 112.80 407.57 112.80 407.89 112.80 408.22 112.80 408.55 112.80 408.87 112.80 409.20 112.80 409.53 112.80 409.86 112.80 410.18 112.80 410.51 112.80 410.84 112.80 411.16 112.80 411.49 112.80 411.82 112.80 412.15 112.80 412.47 112.80 412.80 112.80 413.13 112.80 413.45 112.80 413.78 112.80 414.11 112.80 414.43 112.80 414.76 112.80 415.09 112.80 415.42 112.80 415.74 112.80 416.07 112.80 416.40 112.80 416.72 112.80 417.05 112.80 417.38 112.80 417.71 112.80 418.03 112.80 418.36 112.80 418.69 112.80 419.01 112.80 419.34 112.80 419.67 112.80 419.99 112.80 420.32 112.80 420.65 112.80 420.98 112.80 421.30 112.80 421.63 112.80 421.96 112.80 422.28 112.80 422.61 112.80 422.94 112.80 423.27 112.80 423.59 112.80 423.92 112.80 424.25 112.80 424.57 112.80 424.90 112.80 425.23 112.80 425.55 112.80 425.88 112.80 426.21 112.80 426.54 112.80 426.86 112.80 427.19 112.80 427.52 112.80 427.84 112.80 428.17 112.80 428.50 112.80 428.83 112.80 429.15 112.80 429.48 112.80 429.81 112.80 430.13 112.80 430.46 112.80 430.79 112.80 431.11 112.80 431.44 112.80 431.77 112.80 432.10 112.80 432.42 112.80 432.75 112.80 433.08 112.80 433.40 112.80 433.73 112.81 434.06 113.08 434.39 113.50 434.71 114.03 435.04 114.67 435.37 115.39 435.69 116.21 436.02 117.08 436.35 118.03 436.67 119.02 437.00 120.05 437.33 121.12 437.66 122.21 437.98 123.33 438.31 124.46 438.64 125.61 438.96 126.74 439.29 127.87 439.62 128.96 439.95 130.01 440.27 130.99 440.60 131.88 440.93 132.66 441.25 133.14 441.58 133.55 441.91 133.92 442.23 134.26 442.56 134.58 442.89 134.88 443.22 135.16 443.54 135.42 443.87 135.67 444.20 135.91 444.52 136.13 444.85 136.34 445.18 136.55 445.51 136.74 445.83 136.93 446.16 137.11 446.49 137.28 446.81 137.44 447.14 137.60 447.47 137.75 447.79 137.90 448.12 138.04 448.45 138.17 448.78 138.30 449.10 138.42 449.43 138.54 449.76 138.66 450.08 138.77 450.41 138.88 450.74 138.98 451.06 139.08 451.39 139.18 451.72 139.27 452.05 139.36 452.37 139.44 452.70 139.53 453.03 139.61 453.35 139.68 453.68 139.76 454.01 139.83 454.34 139.90 454.66 139.96 454.99 140.03 455.32 140.09 455.64 140.15 455.97 140.21 456.30 140.26 456.62 140.31 456.95 140.36 457.28 140.41 457.61 140.46 457.93 140.50 458.26 140.54 458.59 140.58 458.91 140.62 459.24 140.66 459.57 140.69 459.90 140.72 460.22 140.76 460.55 140.79 460.88 140.81 461.20 140.84 461.53 140.86 461.86 140.89 462.18 140.91 462.51 140.93 462.84 140.95 463.17 140.96 463.49 140.98 463.82 140.99 464.15 141.00 464.47 141.01 464.80 141.02 465.13 141.03 465.46 141.03 465.78 141.04 466.11 141.04 466.44 141.04 466.76 141.04 467.09 141.04 467.42 141.04 467.74 141.03 468.07 141.03 468.40 141.02 468.73 141.01 469.05 141.00 469.38 140.99 469.71 140.98 470.03 140.96 470.36 140.95 470.69 140.93 471.02 140.91 471.34 140.89 471.67 140.86 472.00 140.84 472.32 140.81 472.65 140.79 472.98 140.76 473.30 140.72 473.63 140.69 473.96 140.66 474.29 140.62 474.61 140.58 474.94 140.54 475.27 140.50 475.59 140.46 475.92 140.41 476.25 140.36 476.58 140.31 476.90 140.26 477.23 140.21 477.56 140.15 477.88 140.09 478.21 140.03 478.54 139.96 478.86 139.90 479.19 139.83 479.52 139.76 479.85 139.68 480.17 139.61 480.50 139.53 480.83 139.44 481.15 139.36 481.48 139.27 481.81 139.18 482.14 139.08 482.46 138.98 482.79 138.88 483.12 138.77 483.44 138.66 483.77 138.54 484.10 138.42 484.42 138.30 484.75 138.17 485.08 138.04 485.41 137.90 485.73 137.75 486.06 137.60 486.39 137.44 486.71 137.28 487.04 137.11 487.37 136.93 487.69 136.74 488.02 136.55 488.35 136.34 488.68 136.13 489.00 135.91 489.33 135.67 489.66 135.42 489.98 135.16 490.31 134.88 490.64 134.58 490.97 134.26 491.29 133.92 491.62 133.55 491.95 133.14 492.27 132.66 492.60 131.88 492.93 130.99 493.25 130.01 493.58 128.96 493.91 127.87 494.24 126.74 494.56 125.61 494.89 124.46 495.22 123.33 495.54 122.21 495.87 121.12 496.20 120.05 496.53 119.02 496.85 118.03 497.18 117.08 497.51 116.21 497.83 115.39 498.16 114.67 498.49 114.03 498.81 113.50 499.14 113.08 499.47 112.81 499.80 112.80 500.12 112.80 500.45 112.80 500.78 112.80 501.10 112.80 501.43 112.80 501.76 112.80 502.09 112.80 502.41 112.80 502.74 112.80 503.07 112.80 503.39 112.80 503.72 112.80 504.05 112.80 504.37 112.80 504.70 112.80 505.03 112.80 505.36 112.80 505.68 112.80 506.01 112.80 506.34 112.80 506.66 112.80 506.99 112.80 507.32 112.80 507.65 112.80 507.97 112.80 508.30 112.80 508.63 112.80 508.95 112.80 509.28 112.80 509.61 112.80 509.93 112.80 510.26 112.80 510.59 112.80 510.92 112.80 511.24 112.80 511.57 112.80 511.90 112.80 512.22 112.80 512.55 112.80 512.88 112.80 513.21 112.80 513.53 112.80 513.86 112.80 514.19 112.80 514.51 112.80 514.84 112.80 515.17 112.80 515.49 112.80 515.82 112.80 516.15 112.80 516.48 112.80 516.80 112.80 517.13 112.80 517.46 112.80 517.78 112.80 518.11 112.80 518.44 112.80 518.77 112.80 519.09 112.80 519.42 112.80 519.75 112.80 520.07 112.80 520.40 112.80 520.73 112.80 521.05 112.80 521.38 112.80 521.71 112.80 522.04 112.80 522.36 112.80 522.69 112.80 523.02 112.80 523.34 112.80 523.67 112.80 524.00 112.80 524.33 112.80 524.65 112.80 524.98 112.80 525.31 112.80 525.63 112.80 525.96 112.80 526.29 112.80 526.61 112.80 526.94 112.80 527.27 112.80 527.60 112.80 527.92 112.80 528.25 112.80 528.58 112.80 528.90 112.80 529.23 112.80 529.56 112.80 529.88 112.80 530.21 112.80 530.54 112.80 530.87 112.80 531.19 112.80 531.52 112.80 531.85 112.80 532.17 112.80 532.50 112.80 532.83 112.80 533.16 112.80 533.48 112.80 533.81 112.80 534.14 112.80 534.46 112.80 534.79 112.80 535.12 112.80 535.44 112.80 535.77 112.80 536.10 112.80 536.43 112.80 536.75 112.80 537.08 112.80 537.41 112.80 537.73 112.80 538.06 112.80 538.39 112.80 538.72 112.80 539.04 112.80 539.37 112.80 539.70 112.80 540.02 112.80 540.35 112.80 540.68 112.80 541.00 112.80 541.33 112.80 541.66 112.80 541.99 112.80 542.31 112.80 542.64 112.80 542.97 112.80 543.29 112.80 543.62 112.80 543.95 112.80 544.28 112.80 544.60 112.80 544.93 112.80 545.26 112.80 545.58 112.80 545.91 112.80 546.24 112.80 546.56 112.80 546.89 112.80 547.22 112.80 547.55 112.80 547.87 112.80 548.20 112.80" stroke="#f01010" stroke-width="1.05" fill="none"/>
<path d="M548.2 112.80H699.5" stroke="#f01010" stroke-width="1.05" fill="none"/>
<g fill="#000"><circle cx="395.91" cy="115.67" r="1.3"/><circle cx="397.60" cy="112.18" r="1.3"/><circle cx="399.06" cy="113.12" r="1.3"/><circle cx="401.04" cy="109.90" r="1.3"/><circle cx="402.94" cy="116.54" r="1.3"/><circle cx="404.26" cy="114.19" r="1.3"/><circle cx="406.40" cy="113.44" r="1.3"/><circle cx="407.92" cy="114.20" r="1.3"/><circle cx="409.49" cy="109.43" r="1.3"/><circle cx="411.67" cy="111.73" r="1.3"/><circle cx="412.97" cy="112.55" r="1.3"/><circle cx="414.95" cy="113.89" r="1.3"/><circle cx="416.88" cy="111.38" r="1.3"/><circle cx="418.79" cy="113.52" r="1.3"/><circle cx="420.54" cy="113.30" r="1.3"/><circle cx="421.85" cy="110.43" r="1.3"/><circle cx="423.91" cy="113.83" r="1.3"/><circle cx="425.28" cy="112.40" r="1.3"/><circle cx="427.15" cy="112.59" r="1.3"/><circle cx="429.23" cy="112.96" r="1.3"/><circle cx="430.68" cy="110.85" r="1.3"/><circle cx="432.07" cy="113.89" r="1.3"/><circle cx="433.91" cy="114.11" r="1.3"/><circle cx="435.43" cy="113.74" r="1.3"/><circle cx="437.30" cy="119.92" r="1.3"/><circle cx="439.85" cy="127.82" r="1.3"/><circle cx="441.12" cy="138.40" r="1.3"/><circle cx="442.72" cy="135.46" r="1.3"/><circle cx="444.41" cy="134.45" r="1.3"/><circle cx="446.59" cy="134.29" r="1.3"/><circle cx="448.13" cy="137.64" r="1.3"/><circle cx="449.77" cy="139.74" r="1.3"/><circle cx="451.23" cy="137.15" r="1.3"/><circle cx="453.15" cy="140.05" r="1.3"/><circle cx="455.19" cy="138.43" r="1.3"/><circle cx="456.62" cy="137.48" r="1.3"/><circle cx="458.19" cy="141.43" r="1.3"/><circle cx="460.28" cy="135.62" r="1.3"/><circle cx="461.98" cy="143.67" r="1.3"/><circle cx="463.42" cy="137.62" r="1.3"/><circle cx="465.21" cy="140.79" r="1.3"/><circle cx="467.28" cy="141.95" r="1.3"/><circle cx="469.12" cy="142.04" r="1.3"/><circle cx="470.26" cy="141.28" r="1.3"/><circle cx="472.41" cy="138.78" r="1.3"/><circle cx="473.68" cy="143.94" r="1.3"/><circle cx="475.99" cy="136.12" r="1.3"/><circle cx="477.65" cy="141.98" r="1.3"/><circle cx="479.20" cy="140.29" r="1.3"/><circle cx="480.83" cy="142.76" r="1.3"/><circle cx="482.43" cy="140.07" r="1.3"/><circle cx="484.07" cy="141.19" r="1.3"/><circle cx="486.21" cy="133.65" r="1.3"/><circle cx="487.80" cy="140.22" r="1.3"/><circle cx="489.68" cy="138.03" r="1.3"/></g>
<path d="M558.32 112.35V119.00M557.02 112.35h2.6M557.02 119.00h2.6M559.88 108.50V115.85M558.58 108.50h2.6M558.58 115.85h2.6M561.24 109.48V116.76M559.94 109.48h2.6M559.94 116.76h2.6M563.07 106.14V113.66M561.77 106.14h2.6M561.77 113.66h2.6M564.83 112.66V120.41M563.53 112.66h2.6M563.53 120.41h2.6M566.05 111.85V116.53M564.75 111.85h2.6M564.75 116.53h2.6M568.04 111.09V115.80M566.74 111.09h2.6M566.74 115.80h2.6M569.44 111.40V117.01M568.14 111.40h2.6M568.14 117.01h2.6M570.91 106.88V111.98M569.61 106.88h2.6M569.61 111.98h2.6M572.93 108.84V114.62M571.63 108.84h2.6M571.63 114.62h2.6M574.13 109.69V115.40M572.83 109.69h2.6M572.83 115.40h2.6M575.96 110.77V117.00M574.66 110.77h2.6M574.66 117.00h2.6M577.76 109.06V113.69M576.46 109.06h2.6M576.46 113.69h2.6M579.53 110.37V116.66M578.23 110.37h2.6M578.23 116.66h2.6M581.15 109.41V117.19M579.85 109.41h2.6M579.85 117.19h2.6M582.36 107.50V113.36M581.06 107.50h2.6M581.06 113.36h2.6M584.27 110.47V117.19M582.97 110.47h2.6M582.97 117.19h2.6M585.55 110.20V114.59M584.25 110.20h2.6M584.25 114.59h2.6M587.28 109.14V116.03M585.98 109.14h2.6M585.98 116.03h2.6M589.20 110.64V115.28M587.90 110.64h2.6M587.90 115.28h2.6M590.55 108.41V113.29M589.25 108.41h2.6M589.25 113.29h2.6M591.84 110.27V117.51M590.54 110.27h2.6M590.54 117.51h2.6M593.54 110.79V117.12M592.24 110.79h2.6M592.24 117.12h2.6M594.95 108.05V113.93M593.65 108.05h2.6M593.65 113.93h2.6M596.69 108.06V115.30M595.39 108.06h2.6M595.39 115.30h2.6M599.05 108.12V113.69M597.75 108.12h2.6M597.75 113.69h2.6M600.23 114.94V121.53M598.93 114.94h2.6M598.93 121.53h2.6M601.71 110.97V116.08M600.41 110.97h2.6M600.41 116.08h2.6M603.28 108.87V113.51M601.98 108.87h2.6M601.98 113.51h2.6M605.29 107.23V112.28M603.99 107.23h2.6M603.99 112.28h2.6M606.73 110.01V114.79M605.43 110.01h2.6M605.43 114.79h2.6M608.25 111.15V116.60M606.95 111.15h2.6M606.95 116.60h2.6M609.60 106.96V114.68M608.30 106.96h2.6M608.30 114.68h2.6M611.38 109.64V116.80M610.08 109.64h2.6M610.08 116.80h2.6M613.27 107.50V114.82M611.97 107.50h2.6M611.97 114.82h2.6M614.60 106.29V113.64M613.30 106.29h2.6M613.30 113.64h2.6M616.06 110.33V117.05M614.76 110.33h2.6M614.76 117.05h2.6M617.99 104.28V111.04M616.69 104.28h2.6M616.69 111.04h2.6M619.57 113.46V117.69M618.27 113.46h2.6M618.27 117.69h2.6M620.90 106.15V112.74M619.60 106.15h2.6M619.60 112.74h2.6M622.56 108.93V116.18M621.26 108.93h2.6M621.26 116.18h2.6M624.48 111.48V115.93M623.18 111.48h2.6M623.18 115.93h2.6M626.19 110.37V117.31M624.89 110.37h2.6M624.89 117.31h2.6M627.24 109.28V116.98M625.94 109.28h2.6M625.94 116.98h2.6M629.24 107.83V113.72M627.94 107.83h2.6M627.94 113.72h2.6M630.41 113.86V118.25M629.11 113.86h2.6M629.11 118.25h2.6M632.56 105.19V111.84M631.26 105.19h2.6M631.26 111.84h2.6M634.09 111.56V117.73M632.79 111.56h2.6M632.79 117.73h2.6M635.53 109.87V116.65M634.23 109.87h2.6M634.23 116.65h2.6M637.04 112.94V119.28M635.74 112.94h2.6M635.74 119.28h2.6M638.53 111.45V116.30M637.23 111.45h2.6M637.23 116.30h2.6M640.05 113.36V117.74M638.75 113.36h2.6M638.75 117.74h2.6M642.03 105.75V112.09M640.73 105.75h2.6M640.73 112.09h2.6M643.50 112.75V119.92M642.20 112.75h2.6M642.20 119.92h2.6M645.24 112.63V118.21M643.94 112.63h2.6M643.94 118.21h2.6" stroke="#3a3a3a" stroke-width="0.55" fill="none"/>
<text x="405.50" y="100.40" font-size="8.7" text-anchor="start" font-weight="normal" fill="#000" stroke="#000" stroke-width="0.2" stroke-opacity="0.55">i</text>
<text x="439.50" y="100.40" font-size="8.7" text-anchor="start" font-weight="normal" fill="#000" stroke="#000" stroke-width="0.2" stroke-opacity="0.55">2016 Oct 6 - LCO 1m</text>
<path d="M385.00 174.59 385.33 174.59 385.65 174.59 385.98 174.59 386.31 174.59 386.64 174.59 386.96 174.59 387.29 174.59 387.62 174.59 387.94 174.59 388.27 174.59 388.60 174.59 388.92 174.59 389.25 174.59 389.58 174.59 389.91 174.59 390.23 174.59 390.56 174.59 390.89 174.59 391.21 174.59 391.54 174.59 391.87 174.59 392.20 174.59 392.52 174.59 392.85 174.59 393.18 174.59 393.50 174.59 393.83 174.59 394.16 174.59 394.48 174.59 394.81 174.59 395.14 174.59 395.47 174.59 395.79 174.59 396.12 174.59 396.45 174.59 396.77 174.59 397.10 174.59 397.43 174.59 397.76 174.59 398.08 174.59 398.41 174.59 398.74 174.59 399.06 174.59 399.39 174.59 399.72 174.59 400.04 174.59 400.37 174.59 400.70 174.59 401.03 174.59 401.35 174.59 401.68 174.59 402.01 174.59 402.33 174.59 402.66 174.59 402.99 174.59 403.32 174.59 403.64 174.59 403.97 174.59 404.30 174.59 404.62 174.59 404.95 174.59 405.28 174.59 405.60 174.59 405.93 174.59 406.26 174.59 406.59 174.59 406.91 174.59 407.24 174.59 407.57 174.59 407.89 174.59 408.22 174.59 408.55 174.59 408.87 174.59 409.20 174.59 409.53 174.59 409.86 174.59 410.18 174.59 410.51 174.59 410.84 174.59 411.16 174.59 411.49 174.59 411.82 174.59 412.15 174.59 412.47 174.59 412.80 174.59 413.13 174.59 413.45 174.59 413.78 174.59 414.11 174.59 414.43 174.59 414.76 174.59 415.09 174.59 415.42 174.59 415.74 174.59 416.07 174.59 416.40 174.59 416.72 174.59 417.05 174.59 417.38 174.59 417.71 174.59 418.03 174.59 418.36 174.59 418.69 174.59 419.01 174.59 419.34 174.59 419.67 174.59 419.99 174.59 420.32 174.59 420.65 174.59 420.98 174.59 421.30 174.59 421.63 174.59 421.96 174.59 422.28 174.59 422.61 174.59 422.94 174.59 423.27 174.59 423.59 174.59 423.92 174.59 424.25 174.59 424.57 174.59 424.90 174.59 425.23 174.59 425.55 174.59 425.88 174.59 426.21 174.59 426.54 174.59 426.86 174.59 427.19 174.59 427.52 174.59 427.84 174.59 428.17 174.59 428.50 174.59 428.83 174.59 429.15 174.59 429.48 174.59 429.81 174.59 430.13 174.59 430.46 174.59 430.79 174.59 431.11 174.59 431.44 174.59 431.77 174.59 432.10 174.59 432.42 174.59 432.75 174.59 433.08 174.59 433.40 174.59 433.73 174.60 434.06 174.80 434.39 175.13 434.71 175.56 435.04 176.09 435.37 176.71 435.69 177.42 436.02 178.19 436.35 179.03 436.67 179.93 437.00 180.87 437.33 181.86 437.66 182.88 437.98 183.92 438.31 185.00 438.64 186.10 438.96 187.20 439.29 188.31 439.62 189.39 439.95 190.45 440.27 191.45 440.60 192.40 440.93 193.25 441.25 193.87 441.58 194.42 441.91 194.92 442.23 195.38 442.56 195.82 442.89 196.23 443.22 196.62 443.54 196.98 443.87 197.34 444.20 197.67 444.52 197.99 444.85 198.30 445.18 198.59 445.51 198.88 445.83 199.15 446.16 199.41 446.49 199.66 446.81 199.91 447.14 200.14 447.47 200.37 447.79 200.59 448.12 200.80 448.45 201.00 448.78 201.20 449.10 201.39 449.43 201.58 449.76 201.75 450.08 201.93 450.41 202.09 450.74 202.26 451.06 202.41 451.39 202.56 451.72 202.71 452.05 202.85 452.37 202.99 452.70 203.12 453.03 203.25 453.35 203.38 453.68 203.50 454.01 203.61 454.34 203.73 454.66 203.84 454.99 203.94 455.32 204.04 455.64 204.14 455.97 204.23 456.30 204.32 456.62 204.41 456.95 204.50 457.28 204.58 457.61 204.65 457.93 204.73 458.26 204.80 458.59 204.87 458.91 204.93 459.24 204.99 459.57 205.05 459.90 205.11 460.22 205.16 460.55 205.21 460.88 205.26 461.20 205.30 461.53 205.35 461.86 205.39 462.18 205.42 462.51 205.46 462.84 205.49 463.17 205.52 463.49 205.54 463.82 205.56 464.15 205.59 464.47 205.60 464.80 205.62 465.13 205.63 465.46 205.64 465.78 205.65 466.11 205.65 466.44 205.66 466.76 205.66 467.09 205.65 467.42 205.65 467.74 205.64 468.07 205.63 468.40 205.62 468.73 205.60 469.05 205.59 469.38 205.56 469.71 205.54 470.03 205.52 470.36 205.49 470.69 205.46 471.02 205.42 471.34 205.39 471.67 205.35 472.00 205.30 472.32 205.26 472.65 205.21 472.98 205.16 473.30 205.11 473.63 205.05 473.96 204.99 474.29 204.93 474.61 204.87 474.94 204.80 475.27 204.73 475.59 204.65 475.92 204.58 476.25 204.50 476.58 204.41 476.90 204.32 477.23 204.23 477.56 204.14 477.88 204.04 478.21 203.94 478.54 203.84 478.86 203.73 479.19 203.61 479.52 203.50 479.85 203.38 480.17 203.25 480.50 203.12 480.83 202.99 481.15 202.85 481.48 202.71 481.81 202.56 482.14 202.41 482.46 202.26 482.79 202.09 483.12 201.93 483.44 201.75 483.77 201.58 484.10 201.39 484.42 201.20 484.75 201.00 485.08 200.80 485.41 200.59 485.73 200.37 486.06 200.14 486.39 199.91 486.71 199.66 487.04 199.41 487.37 199.15 487.69 198.88 488.02 198.59 488.35 198.30 488.68 197.99 489.00 197.67 489.33 197.34 489.66 196.98 489.98 196.62 490.31 196.23 490.64 195.82 490.97 195.38 491.29 194.92 491.62 194.42 491.95 193.87 492.27 193.25 492.60 192.40 492.93 191.45 493.25 190.45 493.58 189.39 493.91 188.31 494.24 187.20 494.56 186.10 494.89 185.00 495.22 183.92 495.54 182.88 495.87 181.86 496.20 180.87 496.53 179.93 496.85 179.03 497.18 178.19 497.51 177.42 497.83 176.71 498.16 176.09 498.49 175.56 498.81 175.13 499.14 174.80 499.47 174.60 499.80 174.59 500.12 174.59 500.45 174.59 500.78 174.59 501.10 174.59 501.43 174.59 501.76 174.59 502.09 174.59 502.41 174.59 502.74 174.59 503.07 174.59 503.39 174.59 503.72 174.59 504.05 174.59 504.37 174.59 504.70 174.59 505.03 174.59 505.36 174.59 505.68 174.59 506.01 174.59 506.34 174.59 506.66 174.59 506.99 174.59 507.32 174.59 507.65 174.59 507.97 174.59 508.30 174.59 508.63 174.59 508.95 174.59 509.28 174.59 509.61 174.59 509.93 174.59 510.26 174.59 510.59 174.59 510.92 174.59 511.24 174.59 511.57 174.59 511.90 174.59 512.22 174.59 512.55 174.59 512.88 174.59 513.21 174.59 513.53 174.59 513.86 174.59 514.19 174.59 514.51 174.59 514.84 174.59 515.17 174.59 515.49 174.59 515.82 174.59 516.15 174.59 516.48 174.59 516.80 174.59 517.13 174.59 517.46 174.59 517.78 174.59 518.11 174.59 518.44 174.59 518.77 174.59 519.09 174.59 519.42 174.59 519.75 174.59 520.07 174.59 520.40 174.59 520.73 174.59 521.05 174.59 521.38 174.59 521.71 174.59 522.04 174.59 522.36 174.59 522.69 174.59 523.02 174.59 523.34 174.59 523.67 174.59 524.00 174.59 524.33 174.59 524.65 174.59 524.98 174.59 525.31 174.59 525.63 174.59 525.96 174.59 526.29 174.59 526.61 174.59 526.94 174.59 527.27 174.59 527.60 174.59 527.92 174.59 528.25 174.59 528.58 174.59 528.90 174.59 529.23 174.59 529.56 174.59 529.88 174.59 530.21 174.59 530.54 174.59 530.87 174.59 531.19 174.59 531.52 174.59 531.85 174.59 532.17 174.59 532.50 174.59 532.83 174.59 533.16 174.59 533.48 174.59 533.81 174.59 534.14 174.59 534.46 174.59 534.79 174.59 535.12 174.59 535.44 174.59 535.77 174.59 536.10 174.59 536.43 174.59 536.75 174.59 537.08 174.59 537.41 174.59 537.73 174.59 538.06 174.59 538.39 174.59 538.72 174.59 539.04 174.59 539.37 174.59 539.70 174.59 540.02 174.59 540.35 174.59 540.68 174.59 541.00 174.59 541.33 174.59 541.66 174.59 541.99 174.59 542.31 174.59 542.64 174.59 542.97 174.59 543.29 174.59 543.62 174.59 543.95 174.59 544.28 174.59 544.60 174.59 544.93 174.59 545.26 174.59 545.58 174.59 545.91 174.59 546.24 174.59 546.56 174.59 546.89 174.59 547.22 174.59 547.55 174.59 547.87 174.59 548.20 174.59" stroke="#f01010" stroke-width="1.05" fill="none"/>
<path d="M548.2 174.59H699.5" stroke="#f01010" stroke-width="1.05" fill="none"/>
<g fill="#000"><circle cx="415.72" cy="176.24" r="1.3"/><circle cx="416.90" cy="179.16" r="1.3"/><circle cx="418.56" cy="176.42" r="1.3"/><circle cx="419.96" cy="178.73" r="1.3"/><circle cx="422.28" cy="178.37" r="1.3"/><circle cx="423.66" cy="177.21" r="1.3"/><circle cx="425.50" cy="173.33" r="1.3"/><circle cx="426.63" cy="174.74" r="1.3"/><circle cx="428.31" cy="175.75" r="1.3"/><circle cx="430.44" cy="169.43" r="1.3"/><circle cx="431.83" cy="171.15" r="1.3"/><circle cx="433.57" cy="170.11" r="1.3"/><circle cx="435.07" cy="174.41" r="1.3"/><circle cx="436.98" cy="171.84" r="1.3"/><circle cx="438.56" cy="179.87" r="1.3"/><circle cx="440.37" cy="190.68" r="1.3"/><circle cx="441.74" cy="192.73" r="1.3"/><circle cx="444.23" cy="195.31" r="1.3"/><circle cx="445.27" cy="196.78" r="1.3"/><circle cx="447.34" cy="199.99" r="1.3"/><circle cx="448.93" cy="200.91" r="1.3"/><circle cx="450.16" cy="201.30" r="1.3"/><circle cx="452.20" cy="203.33" r="1.3"/><circle cx="453.26" cy="202.40" r="1.3"/><circle cx="454.83" cy="201.63" r="1.3"/><circle cx="456.79" cy="206.17" r="1.3"/><circle cx="458.68" cy="208.83" r="1.3"/><circle cx="460.72" cy="207.28" r="1.3"/><circle cx="461.95" cy="203.76" r="1.3"/><circle cx="463.95" cy="204.49" r="1.3"/><circle cx="465.53" cy="210.21" r="1.3"/><circle cx="466.78" cy="201.81" r="1.3"/><circle cx="468.89" cy="208.00" r="1.3"/><circle cx="470.68" cy="206.04" r="1.3"/><circle cx="472.32" cy="203.50" r="1.3"/><circle cx="473.57" cy="202.25" r="1.3"/><circle cx="475.37" cy="207.53" r="1.3"/><circle cx="477.03" cy="205.57" r="1.3"/><circle cx="478.40" cy="204.56" r="1.3"/><circle cx="479.90" cy="202.58" r="1.3"/><circle cx="481.89" cy="200.95" r="1.3"/><circle cx="483.87" cy="201.55" r="1.3"/><circle cx="485.04" cy="199.43" r="1.3"/><circle cx="487.24" cy="198.81" r="1.3"/><circle cx="488.44" cy="196.43" r="1.3"/><circle cx="490.56" cy="194.56" r="1.3"/></g>
<path d="M576.68 173.54V178.93M575.38 173.54h2.6M575.38 178.93h2.6M577.77 175.46V182.86M576.47 175.46h2.6M576.47 182.86h2.6M579.32 173.27V179.58M578.02 173.27h2.6M578.02 179.58h2.6M580.61 175.13V182.34M579.31 175.13h2.6M579.31 182.34h2.6M582.76 174.40V182.35M581.46 174.40h2.6M581.46 182.35h2.6M584.04 173.44V180.98M582.74 173.44h2.6M582.74 180.98h2.6M585.74 169.69V176.96M584.44 169.69h2.6M584.44 176.96h2.6M586.80 171.61V177.87M585.50 171.61h2.6M585.50 177.87h2.6M588.36 173.29V178.21M587.06 173.29h2.6M587.06 178.21h2.6M590.33 166.91V171.94M589.03 166.91h2.6M589.03 171.94h2.6M591.62 167.10V175.19M590.32 167.10h2.6M590.32 175.19h2.6M593.23 167.41V172.81M591.93 167.41h2.6M591.93 172.81h2.6M594.62 168.95V176.75M593.32 168.95h2.6M593.32 176.75h2.6M596.39 161.81V169.42M595.09 161.81h2.6M595.09 169.42h2.6M597.86 164.50V172.68M596.56 164.50h2.6M596.56 172.68h2.6M599.53 169.44V177.61M598.23 169.44h2.6M598.23 177.61h2.6M600.80 168.82V176.49M599.50 168.82h2.6M599.50 176.49h2.6M603.11 169.72V174.67M601.81 169.72h2.6M601.81 174.67h2.6M604.08 169.68V175.69M602.78 169.68h2.6M602.78 175.69h2.6M606.00 172.01V176.56M604.70 172.01h2.6M604.70 176.56h2.6M607.47 170.93V177.47M606.17 170.93h2.6M606.17 177.47h2.6M608.61 171.65V176.19M607.31 171.65h2.6M607.31 176.19h2.6M610.50 171.20V178.79M609.20 171.20h2.6M609.20 178.79h2.6M611.48 170.31V176.98M610.18 170.31h2.6M610.18 176.98h2.6M612.94 169.26V175.39M611.64 169.26h2.6M611.64 175.39h2.6M614.76 173.82V178.78M613.46 173.82h2.6M613.46 178.78h2.6M616.50 175.20V181.87M615.20 175.20h2.6M615.20 181.87h2.6M618.40 172.58V180.68M617.10 172.58h2.6M617.10 180.68h2.6M619.54 170.53V175.37M618.24 170.53h2.6M618.24 175.37h2.6M621.40 169.39V177.61M620.10 169.39h2.6M620.10 177.61h2.6M622.86 175.06V183.24M621.56 175.06h2.6M621.56 183.24h2.6M624.02 166.66V174.82M622.72 166.66h2.6M622.72 174.82h2.6M625.98 173.92V180.06M624.68 173.92h2.6M624.68 180.06h2.6M627.63 172.38V177.96M626.33 172.38h2.6M626.33 177.96h2.6M629.15 169.34V176.32M627.85 169.34h2.6M627.85 176.32h2.6M630.31 167.83V175.71M629.01 167.83h2.6M629.01 175.71h2.6M631.98 174.11V180.70M630.68 174.11h2.6M630.68 180.70h2.6M633.51 172.46V179.27M632.21 172.46h2.6M632.21 179.27h2.6M634.79 171.83V178.69M633.49 171.83h2.6M633.49 178.69h2.6M636.18 170.45V177.15M634.88 170.45h2.6M634.88 177.15h2.6M638.02 169.99V176.03M636.72 169.99h2.6M636.72 176.03h2.6M639.86 171.91V177.31M638.56 171.91h2.6M638.56 177.31h2.6M640.95 169.44V176.94M639.65 169.44h2.6M639.65 176.94h2.6M642.98 170.63V177.65M641.68 170.63h2.6M641.68 177.65h2.6M644.10 169.31V176.31M642.80 169.31h2.6M642.80 176.31h2.6M646.07 169.18V177.30M644.77 169.18h2.6M644.77 177.30h2.6" stroke="#3a3a3a" stroke-width="0.55" fill="none"/>
<text x="405.50" y="162.19" font-size="8.7" text-anchor="start" font-weight="normal" fill="#000" stroke="#000" stroke-width="0.2" stroke-opacity="0.55">g</text>
<text x="439.50" y="162.19" font-size="8.7" text-anchor="start" font-weight="normal" fill="#000" stroke="#000" stroke-width="0.2" stroke-opacity="0.55">2016 Oct 20 - LCO 1m</text>
<path d="M385.00 236.38 385.33 236.38 385.65 236.38 385.98 236.38 386.31 236.38 386.64 236.38 386.96 236.38 387.29 236.38 387.62 236.38 387.94 236.38 388.27 236.38 388.60 236.38 388.92 236.38 389.25 236.38 389.58 236.38 389.91 236.38 390.23 236.38 390.56 236.38 390.89 236.38 391.21 236.38 391.54 236.38 391.87 236.38 392.20 236.38 392.52 236.38 392.85 236.38 393.18 236.38 393.50 236.38 393.83 236.38 394.16 236.38 394.48 236.38 394.81 236.38 395.14 236.38 395.47 236.38 395.79 236.38 396.12 236.38 396.45 236.38 396.77 236.38 397.10 236.38 397.43 236.38 397.76 236.38 398.08 236.38 398.41 236.38 398.74 236.38 399.06 236.38 399.39 236.38 399.72 236.38 400.04 236.38 400.37 236.38 400.70 236.38 401.03 236.38 401.35 236.38 401.68 236.38 402.01 236.38 402.33 236.38 402.66 236.38 402.99 236.38 403.32 236.38 403.64 236.38 403.97 236.38 404.30 236.38 404.62 236.38 404.95 236.38 405.28 236.38 405.60 236.38 405.93 236.38 406.26 236.38 406.59 236.38 406.91 236.38 407.24 236.38 407.57 236.38 407.89 236.38 408.22 236.38 408.55 236.38 408.87 236.38 409.20 236.38 409.53 236.38 409.86 236.38 410.18 236.38 410.51 236.38 410.84 236.38 411.16 236.38 411.49 236.38 411.82 236.38 412.15 236.38 412.47 236.38 412.80 236.38 413.13 236.38 413.45 236.38 413.78 236.38 414.11 236.38 414.43 236.38 414.76 236.38 415.09 236.38 415.42 236.38 415.74 236.38 416.07 236.38 416.40 236.38 416.72 236.38 417.05 236.38 417.38 236.38 417.71 236.38 418.03 236.38 418.36 236.38 418.69 236.38 419.01 236.38 419.34 236.38 419.67 236.38 419.99 236.38 420.32 236.38 420.65 236.38 420.98 236.38 421.30 236.38 421.63 236.38 421.96 236.38 422.28 236.38 422.61 236.38 422.94 236.38 423.27 236.38 423.59 236.38 423.92 236.38 424.25 236.38 424.57 236.38 424.90 236.38 425.23 236.38 425.55 236.38 425.88 236.38 426.21 236.38 426.54 236.38 426.86 236.38 427.19 236.38 427.52 236.38 427.84 236.38 428.17 236.38 428.50 236.38 428.83 236.38 429.15 236.38 429.48 236.38 429.81 236.38 430.13 236.38 430.46 236.38 430.79 236.38 431.11 236.38 431.44 236.38 431.77 236.38 432.10 236.38 432.42 236.38 432.75 236.38 433.08 236.38 433.40 236.38 433.73 236.39 434.06 236.66 434.39 237.07 434.71 237.61 435.04 238.25 435.37 238.97 435.69 239.78 436.02 240.66 436.35 241.60 436.67 242.60 437.00 243.63 437.33 244.70 437.66 245.79 437.98 246.91 438.31 248.04 438.64 249.19 438.96 250.32 439.29 251.45 439.62 252.54 439.95 253.59 440.27 254.56 440.60 255.46 440.93 256.24 441.25 256.72 441.58 257.13 441.91 257.50 442.23 257.84 442.56 258.16 442.89 258.46 443.22 258.74 443.54 259.00 443.87 259.25 444.20 259.48 444.52 259.71 444.85 259.92 445.18 260.13 445.51 260.32 445.83 260.51 446.16 260.69 446.49 260.86 446.81 261.02 447.14 261.18 447.47 261.33 447.79 261.48 448.12 261.61 448.45 261.75 448.78 261.88 449.10 262.00 449.43 262.12 449.76 262.24 450.08 262.35 450.41 262.46 450.74 262.56 451.06 262.66 451.39 262.75 451.72 262.85 452.05 262.94 452.37 263.02 452.70 263.11 453.03 263.19 453.35 263.26 453.68 263.34 454.01 263.41 454.34 263.48 454.66 263.54 454.99 263.61 455.32 263.67 455.64 263.73 455.97 263.78 456.30 263.84 456.62 263.89 456.95 263.94 457.28 263.99 457.61 264.03 457.93 264.08 458.26 264.12 458.59 264.16 458.91 264.20 459.24 264.24 459.57 264.27 459.90 264.30 460.22 264.33 460.55 264.36 460.88 264.39 461.20 264.42 461.53 264.44 461.86 264.46 462.18 264.49 462.51 264.51 462.84 264.52 463.17 264.54 463.49 264.56 463.82 264.57 464.15 264.58 464.47 264.59 464.80 264.60 465.13 264.61 465.46 264.61 465.78 264.62 466.11 264.62 466.44 264.62 466.76 264.62 467.09 264.62 467.42 264.62 467.74 264.61 468.07 264.61 468.40 264.60 468.73 264.59 469.05 264.58 469.38 264.57 469.71 264.56 470.03 264.54 470.36 264.52 470.69 264.51 471.02 264.49 471.34 264.46 471.67 264.44 472.00 264.42 472.32 264.39 472.65 264.36 472.98 264.33 473.30 264.30 473.63 264.27 473.96 264.24 474.29 264.20 474.61 264.16 474.94 264.12 475.27 264.08 475.59 264.03 475.92 263.99 476.25 263.94 476.58 263.89 476.90 263.84 477.23 263.78 477.56 263.73 477.88 263.67 478.21 263.61 478.54 263.54 478.86 263.48 479.19 263.41 479.52 263.34 479.85 263.26 480.17 263.19 480.50 263.11 480.83 263.02 481.15 262.94 481.48 262.85 481.81 262.75 482.14 262.66 482.46 262.56 482.79 262.46 483.12 262.35 483.44 262.24 483.77 262.12 484.10 262.00 484.42 261.88 484.75 261.75 485.08 261.61 485.41 261.48 485.73 261.33 486.06 261.18 486.39 261.02 486.71 260.86 487.04 260.69 487.37 260.51 487.69 260.32 488.02 260.13 488.35 259.92 488.68 259.71 489.00 259.48 489.33 259.25 489.66 259.00 489.98 258.74 490.31 258.46 490.64 258.16 490.97 257.84 491.29 257.50 491.62 257.13 491.95 256.72 492.27 256.24 492.60 255.46 492.93 254.56 493.25 253.59 493.58 252.54 493.91 251.45 494.24 250.32 494.56 249.19 494.89 248.04 495.22 246.91 495.54 245.79 495.87 244.70 496.20 243.63 496.53 242.60 496.85 241.60 497.18 240.66 497.51 239.78 497.83 238.97 498.16 238.25 498.49 237.61 498.81 237.07 499.14 236.66 499.47 236.39 499.80 236.38 500.12 236.38 500.45 236.38 500.78 236.38 501.10 236.38 501.43 236.38 501.76 236.38 502.09 236.38 502.41 236.38 502.74 236.38 503.07 236.38 503.39 236.38 503.72 236.38 504.05 236.38 504.37 236.38 504.70 236.38 505.03 236.38 505.36 236.38 505.68 236.38 506.01 236.38 506.34 236.38 506.66 236.38 506.99 236.38 507.32 236.38 507.65 236.38 507.97 236.38 508.30 236.38 508.63 236.38 508.95 236.38 509.28 236.38 509.61 236.38 509.93 236.38 510.26 236.38 510.59 236.38 510.92 236.38 511.24 236.38 511.57 236.38 511.90 236.38 512.22 236.38 512.55 236.38 512.88 236.38 513.21 236.38 513.53 236.38 513.86 236.38 514.19 236.38 514.51 236.38 514.84 236.38 515.17 236.38 515.49 236.38 515.82 236.38 516.15 236.38 516.48 236.38 516.80 236.38 517.13 236.38 517.46 236.38 517.78 236.38 518.11 236.38 518.44 236.38 518.77 236.38 519.09 236.38 519.42 236.38 519.75 236.38 520.07 236.38 520.40 236.38 520.73 236.38 521.05 236.38 521.38 236.38 521.71 236.38 522.04 236.38 522.36 236.38 522.69 236.38 523.02 236.38 523.34 236.38 523.67 236.38 524.00 236.38 524.33 236.38 524.65 236.38 524.98 236.38 525.31 236.38 525.63 236.38 525.96 236.38 526.29 236.38 526.61 236.38 526.94 236.38 527.27 236.38 527.60 236.38 527.92 236.38 528.25 236.38 528.58 236.38 528.90 236.38 529.23 236.38 529.56 236.38 529.88 236.38 530.21 236.38 530.54 236.38 530.87 236.38 531.19 236.38 531.52 236.38 531.85 236.38 532.17 236.38 532.50 236.38 532.83 236.38 533.16 236.38 533.48 236.38 533.81 236.38 534.14 236.38 534.46 236.38 534.79 236.38 535.12 236.38 535.44 236.38 535.77 236.38 536.10 236.38 536.43 236.38 536.75 236.38 537.08 236.38 537.41 236.38 537.73 236.38 538.06 236.38 538.39 236.38 538.72 236.38 539.04 236.38 539.37 236.38 539.70 236.38 540.02 236.38 540.35 236.38 540.68 236.38 541.00 236.38 541.33 236.38 541.66 236.38 541.99 236.38 542.31 236.38 542.64 236.38 542.97 236.38 543.29 236.38 543.62 236.38 543.95 236.38 544.28 236.38 544.60 236.38 544.93 236.38 545.26 236.38 545.58 236.38 545.91 236.38 546.24 236.38 546.56 236.38 546.89 236.38 547.22 236.38 547.55 236.38 547.87 236.38 548.20 236.38" stroke="#f01010" stroke-width="1.05" fill="none"/>
<path d="M548.2 236.38H699.5" stroke="#f01010" stroke-width="1.05" fill="none"/>
<g fill="#000"><circle cx="492.20" cy="254.80" r="1.3"/><circle cx="493.99" cy="252.78" r="1.3"/><circle cx="496.33" cy="241.58" r="1.3"/><circle cx="497.90" cy="242.34" r="1.3"/><circle cx="499.92" cy="236.60" r="1.3"/><circle cx="501.44" cy="236.71" r="1.3"/><circle cx="503.72" cy="234.36" r="1.3"/><circle cx="505.03" cy="242.33" r="1.3"/><circle cx="507.01" cy="234.20" r="1.3"/><circle cx="508.95" cy="235.55" r="1.3"/><circle cx="510.83" cy="236.59" r="1.3"/><circle cx="512.52" cy="233.73" r="1.3"/><circle cx="514.48" cy="237.93" r="1.3"/><circle cx="516.23" cy="237.84" r="1.3"/><circle cx="518.36" cy="236.00" r="1.3"/><circle cx="519.87" cy="235.33" r="1.3"/><circle cx="521.97" cy="238.72" r="1.3"/><circle cx="524.17" cy="241.46" r="1.3"/><circle cx="525.81" cy="239.19" r="1.3"/><circle cx="527.60" cy="235.93" r="1.3"/><circle cx="529.12" cy="232.95" r="1.3"/><circle cx="530.69" cy="236.70" r="1.3"/><circle cx="532.86" cy="231.95" r="1.3"/><circle cx="534.60" cy="241.49" r="1.3"/><circle cx="536.55" cy="235.21" r="1.3"/><circle cx="538.66" cy="238.01" r="1.3"/><circle cx="540.00" cy="234.98" r="1.3"/><circle cx="541.90" cy="234.25" r="1.3"/><circle cx="543.93" cy="242.02" r="1.3"/><circle cx="546.00" cy="238.89" r="1.3"/></g>
<path d="M647.58 232.89V236.73M646.28 232.89h2.6M646.28 236.73h2.6M649.24 235.43V240.52M647.94 235.43h2.6M647.94 240.52h2.6M651.41 231.59V237.95M650.11 231.59h2.6M650.11 237.95h2.6M652.87 237.33V242.48M651.57 237.33h2.6M651.57 242.48h2.6M654.74 234.41V238.79M653.44 234.41h2.6M653.44 238.79h2.6M656.15 233.51V239.91M654.85 233.51h2.6M654.85 239.91h2.6M658.26 232.15V236.57M656.96 232.15h2.6M656.96 236.57h2.6M659.48 238.96V245.71M658.18 238.96h2.6M658.18 245.71h2.6M661.31 232.00V236.40M660.01 232.00h2.6M660.01 236.40h2.6M663.12 232.66V238.44M661.82 232.66h2.6M661.82 238.44h2.6M664.86 233.62V239.56M663.56 233.62h2.6M663.56 239.56h2.6M666.42 231.71V235.75M665.12 231.71h2.6M665.12 235.75h2.6M668.24 236.06V239.79M666.94 236.06h2.6M666.94 239.79h2.6M669.86 234.75V240.94M668.56 234.75h2.6M668.56 240.94h2.6M671.84 232.94V239.05M670.54 232.94h2.6M670.54 239.05h2.6M673.24 232.44V238.23M671.94 232.44h2.6M671.94 238.23h2.6M675.19 235.69V241.75M673.89 235.69h2.6M673.89 241.75h2.6M677.23 238.07V244.85M675.93 238.07h2.6M675.93 244.85h2.6M678.75 237.01V241.37M677.45 237.01h2.6M677.45 241.37h2.6M680.40 234.01V237.86M679.10 234.01h2.6M679.10 237.86h2.6M681.81 230.27V235.62M680.51 230.27h2.6M680.51 235.62h2.6M683.27 234.73V238.67M681.97 234.73h2.6M681.97 238.67h2.6M685.28 228.69V235.22M683.98 228.69h2.6M683.98 235.22h2.6M686.89 239.05V243.93M685.59 239.05h2.6M685.59 243.93h2.6M688.70 232.02V238.39M687.40 232.02h2.6M687.40 238.39h2.6M690.66 235.66V240.37M689.36 235.66h2.6M689.36 240.37h2.6M691.89 231.92V238.03M690.59 231.92h2.6M690.59 238.03h2.6M693.66 231.17V237.33M692.36 231.17h2.6M692.36 237.33h2.6M695.54 239.04V245.00M694.24 239.04h2.6M694.24 245.00h2.6M697.46 236.39V241.38M696.16 236.39h2.6M696.16 241.38h2.6M698.94 231.65V236.39M697.64 231.65h2.6M697.64 236.39h2.6" stroke="#3a3a3a" stroke-width="0.55" fill="none"/>
<text x="405.50" y="223.98" font-size="8.7" text-anchor="start" font-weight="normal" fill="#000" stroke="#000" stroke-width="0.2" stroke-opacity="0.55">i</text>
<text x="439.50" y="223.98" font-size="8.7" text-anchor="start" font-weight="normal" fill="#000" stroke="#000" stroke-width="0.2" stroke-opacity="0.55">2017 May 3 - LCO 1m</text>
<path d="M385.00 298.16 385.33 298.16 385.65 298.16 385.98 298.16 386.31 298.16 386.64 298.16 386.96 298.16 387.29 298.16 387.62 298.16 387.94 298.16 388.27 298.16 388.60 298.16 388.92 298.16 389.25 298.16 389.58 298.16 389.91 298.16 390.23 298.16 390.56 298.16 390.89 298.16 391.21 298.16 391.54 298.16 391.87 298.16 392.20 298.16 392.52 298.16 392.85 298.16 393.18 298.16 393.50 298.16 393.83 298.16 394.16 298.16 394.48 298.16 394.81 298.16 395.14 298.16 395.47 298.16 395.79 298.16 396.12 298.16 396.45 298.16 396.77 298.16 397.10 298.16 397.43 298.16 397.76 298.16 398.08 298.16 398.41 298.16 398.74 298.16 399.06 298.16 399.39 298.16 399.72 298.16 400.04 298.16 400.37 298.16 400.70 298.16 401.03 298.16 401.35 298.16 401.68 298.16 402.01 298.16 402.33 298.16 402.66 298.16 402.99 298.16 403.32 298.16 403.64 298.16 403.97 298.16 404.30 298.16 404.62 298.16 404.95 298.16 405.28 298.16 405.60 298.16 405.93 298.16 406.26 298.16 406.59 298.16 406.91 298.16 407.24 298.16 407.57 298.16 407.89 298.16 408.22 298.16 408.55 298.16 408.87 298.16 409.20 298.16 409.53 298.16 409.86 298.16 410.18 298.16 410.51 298.16 410.84 298.16 411.16 298.16 411.49 298.16 411.82 298.16 412.15 298.16 412.47 298.16 412.80 298.16 413.13 298.16 413.45 298.16 413.78 298.16 414.11 298.16 414.43 298.16 414.76 298.16 415.09 298.16 415.42 298.16 415.74 298.16 416.07 298.16 416.40 298.16 416.72 298.16 417.05 298.16 417.38 298.16 417.71 298.16 418.03 298.16 418.36 298.16 418.69 298.16 419.01 298.16 419.34 298.16 419.67 298.16 419.99 298.16 420.32 298.16 420.65 298.16 420.98 298.16 421.30 298.16 421.63 298.16 421.96 298.16 422.28 298.16 422.61 298.16 422.94 298.16 423.27 298.16 423.59 298.16 423.92 298.16 424.25 298.16 424.57 298.16 424.90 298.16 425.23 298.16 425.55 298.16 425.88 298.16 426.21 298.16 426.54 298.16 426.86 298.16 427.19 298.16 427.52 298.16 427.84 298.16 428.17 298.16 428.50 298.16 428.83 298.16 429.15 298.16 429.48 298.16 429.81 298.16 430.13 298.16 430.46 298.16 430.79 298.16 431.11 298.16 431.44 298.16 431.77 298.16 432.10 298.16 432.42 298.16 432.75 298.16 433.08 298.16 433.40 298.16 433.73 298.18 434.06 298.45 434.39 298.87 434.71 299.42 435.04 300.06 435.37 300.79 435.69 301.62 436.02 302.50 436.35 303.46 436.67 304.47 437.00 305.51 437.33 306.59 437.66 307.70 437.98 308.83 438.31 309.97 438.64 311.14 438.96 312.28 439.29 313.43 439.62 314.53 439.95 315.60 440.27 316.58 440.60 317.48 440.93 318.28 441.25 318.76 441.58 319.18 441.91 319.55 442.23 319.90 442.56 320.22 442.89 320.52 443.22 320.80 443.54 321.07 443.87 321.32 444.20 321.56 444.52 321.79 444.85 322.01 445.18 322.21 445.51 322.41 445.83 322.60 446.16 322.78 446.49 322.95 446.81 323.12 447.14 323.28 447.47 323.43 447.79 323.58 448.12 323.72 448.45 323.86 448.78 323.99 449.10 324.11 449.43 324.23 449.76 324.35 450.08 324.46 450.41 324.57 450.74 324.68 451.06 324.78 451.39 324.87 451.72 324.97 452.05 325.06 452.37 325.14 452.70 325.23 453.03 325.31 453.35 325.39 453.68 325.46 454.01 325.53 454.34 325.60 454.66 325.67 454.99 325.74 455.32 325.80 455.64 325.86 455.97 325.92 456.30 325.97 456.62 326.02 456.95 326.07 457.28 326.12 457.61 326.17 457.93 326.21 458.26 326.26 458.59 326.30 458.91 326.34 459.24 326.37 459.57 326.41 459.90 326.44 460.22 326.47 460.55 326.50 460.88 326.53 461.20 326.56 461.53 326.58 461.86 326.61 462.18 326.63 462.51 326.65 462.84 326.66 463.17 326.68 463.49 326.70 463.82 326.71 464.15 326.72 464.47 326.73 464.80 326.74 465.13 326.75 465.46 326.76 465.78 326.76 466.11 326.76 466.44 326.76 466.76 326.76 467.09 326.76 467.42 326.76 467.74 326.76 468.07 326.75 468.40 326.74 468.73 326.73 469.05 326.72 469.38 326.71 469.71 326.70 470.03 326.68 470.36 326.66 470.69 326.65 471.02 326.63 471.34 326.61 471.67 326.58 472.00 326.56 472.32 326.53 472.65 326.50 472.98 326.47 473.30 326.44 473.63 326.41 473.96 326.37 474.29 326.34 474.61 326.30 474.94 326.26 475.27 326.21 475.59 326.17 475.92 326.12 476.25 326.07 476.58 326.02 476.90 325.97 477.23 325.92 477.56 325.86 477.88 325.80 478.21 325.74 478.54 325.67 478.86 325.60 479.19 325.53 479.52 325.46 479.85 325.39 480.17 325.31 480.50 325.23 480.83 325.14 481.15 325.06 481.48 324.97 481.81 324.87 482.14 324.78 482.46 324.68 482.79 324.57 483.12 324.46 483.44 324.35 483.77 324.23 484.10 324.11 484.42 323.99 484.75 323.86 485.08 323.72 485.41 323.58 485.73 323.43 486.06 323.28 486.39 323.12 486.71 322.95 487.04 322.78 487.37 322.60 487.69 322.41 488.02 322.21 488.35 322.01 488.68 321.79 489.00 321.56 489.33 321.32 489.66 321.07 489.98 320.80 490.31 320.52 490.64 320.22 490.97 319.90 491.29 319.55 491.62 319.18 491.95 318.76 492.27 318.28 492.60 317.48 492.93 316.58 493.25 315.60 493.58 314.53 493.91 313.43 494.24 312.28 494.56 311.14 494.89 309.97 495.22 308.83 495.54 307.70 495.87 306.59 496.20 305.51 496.53 304.47 496.85 303.46 497.18 302.50 497.51 301.62 497.83 300.79 498.16 300.06 498.49 299.42 498.81 298.87 499.14 298.45 499.47 298.18 499.80 298.16 500.12 298.16 500.45 298.16 500.78 298.16 501.10 298.16 501.43 298.16 501.76 298.16 502.09 298.16 502.41 298.16 502.74 298.16 503.07 298.16 503.39 298.16 503.72 298.16 504.05 298.16 504.37 298.16 504.70 298.16 505.03 298.16 505.36 298.16 505.68 298.16 506.01 298.16 506.34 298.16 506.66 298.16 506.99 298.16 507.32 298.16 507.65 298.16 507.97 298.16 508.30 298.16 508.63 298.16 508.95 298.16 509.28 298.16 509.61 298.16 509.93 298.16 510.26 298.16 510.59 298.16 510.92 298.16 511.24 298.16 511.57 298.16 511.90 298.16 512.22 298.16 512.55 298.16 512.88 298.16 513.21 298.16 513.53 298.16 513.86 298.16 514.19 298.16 514.51 298.16 514.84 298.16 515.17 298.16 515.49 298.16 515.82 298.16 516.15 298.16 516.48 298.16 516.80 298.16 517.13 298.16 517.46 298.16 517.78 298.16 518.11 298.16 518.44 298.16 518.77 298.16 519.09 298.16 519.42 298.16 519.75 298.16 520.07 298.16 520.40 298.16 520.73 298.16 521.05 298.16 521.38 298.16 521.71 298.16 522.04 298.16 522.36 298.16 522.69 298.16 523.02 298.16 523.34 298.16 523.67 298.16 524.00 298.16 524.33 298.16 524.65 298.16 524.98 298.16 525.31 298.16 525.63 298.16 525.96 298.16 526.29 298.16 526.61 298.16 526.94 298.16 527.27 298.16 527.60 298.16 527.92 298.16 528.25 298.16 528.58 298.16 528.90 298.16 529.23 298.16 529.56 298.16 529.88 298.16 530.21 298.16 530.54 298.16 530.87 298.16 531.19 298.16 531.52 298.16 531.85 298.16 532.17 298.16 532.50 298.16 532.83 298.16 533.16 298.16 533.48 298.16 533.81 298.16 534.14 298.16 534.46 298.16 534.79 298.16 535.12 298.16 535.44 298.16 535.77 298.16 536.10 298.16 536.43 298.16 536.75 298.16 537.08 298.16 537.41 298.16 537.73 298.16 538.06 298.16 538.39 298.16 538.72 298.16 539.04 298.16 539.37 298.16 539.70 298.16 540.02 298.16 540.35 298.16 540.68 298.16 541.00 298.16 541.33 298.16 541.66 298.16 541.99 298.16 542.31 298.16 542.64 298.16 542.97 298.16 543.29 298.16 543.62 298.16 543.95 298.16 544.28 298.16 544.60 298.16 544.93 298.16 545.26 298.16 545.58 298.16 545.91 298.16 546.24 298.16 546.56 298.16 546.89 298.16 547.22 298.16 547.55 298.16 547.87 298.16 548.20 298.16" stroke="#f01010" stroke-width="1.05" fill="none"/>
<path d="M548.2 298.16H699.5" stroke="#f01010" stroke-width="1.05" fill="none"/>
<g fill="#000"><circle cx="466.59" cy="324.57" r="1.3"/><circle cx="468.28" cy="325.80" r="1.3"/><circle cx="469.70" cy="326.98" r="1.3"/><circle cx="471.00" cy="329.83" r="1.3"/><circle cx="472.68" cy="326.88" r="1.3"/><circle cx="474.04" cy="326.76" r="1.3"/><circle cx="476.14" cy="326.68" r="1.3"/><circle cx="477.06" cy="326.98" r="1.3"/><circle cx="478.88" cy="322.72" r="1.3"/><circle cx="480.06" cy="325.01" r="1.3"/><circle cx="482.06" cy="326.50" r="1.3"/><circle cx="483.47" cy="321.29" r="1.3"/><circle cx="484.61" cy="323.64" r="1.3"/><circle cx="486.55" cy="323.44" r="1.3"/><circle cx="488.47" cy="323.38" r="1.3"/><circle cx="489.62" cy="319.95" r="1.3"/><circle cx="490.71" cy="318.09" r="1.3"/><circle cx="492.81" cy="317.55" r="1.3"/><circle cx="493.74" cy="313.95" r="1.3"/><circle cx="495.38" cy="307.47" r="1.3"/><circle cx="496.77" cy="305.07" r="1.3"/><circle cx="498.32" cy="297.69" r="1.3"/></g>
<path d="M623.84 293.04V298.91M622.54 293.04h2.6M622.54 298.91h2.6M625.41 294.27V300.17M624.11 294.27h2.6M624.11 300.17h2.6M626.73 296.33V300.56M625.43 296.33h2.6M625.43 300.56h2.6M627.93 298.81V303.93M626.63 298.81h2.6M626.63 303.93h2.6M629.49 296.61V300.47M628.19 296.61h2.6M628.19 300.47h2.6M630.74 296.54V300.59M629.44 296.54h2.6M629.44 300.59h2.6M632.70 297.05V300.46M631.40 297.05h2.6M631.40 300.46h2.6M633.55 296.60V301.79M632.25 296.60h2.6M632.25 301.79h2.6M635.24 292.46V298.10M633.94 292.46h2.6M633.94 298.10h2.6M636.33 295.31V300.36M635.03 295.31h2.6M635.03 300.36h2.6M638.18 297.23V302.50M636.88 297.23h2.6M636.88 302.50h2.6M639.49 292.80V297.42M638.19 292.80h2.6M638.19 297.42h2.6M640.55 295.99V299.79M639.25 295.99h2.6M639.25 299.79h2.6M642.35 295.87V301.27M641.05 295.87h2.6M641.05 301.27h2.6M644.13 297.05V302.19M642.83 297.05h2.6M642.83 302.19h2.6M645.19 294.75V299.28M643.89 294.75h2.6M643.89 299.28h2.6M646.20 293.61V298.59M644.90 293.61h2.6M644.90 298.59h2.6M648.15 296.76V300.80M646.85 296.76h2.6M646.85 300.80h2.6M649.01 296.21V299.99M647.71 296.21h2.6M647.71 299.99h2.6M650.53 295.59V299.17M649.23 295.59h2.6M649.23 299.17h2.6M651.82 297.31V301.78M650.52 297.31h2.6M650.52 301.78h2.6M653.26 293.41V298.88M651.96 293.41h2.6M651.96 298.88h2.6" stroke="#3a3a3a" stroke-width="0.55" fill="none"/>
<text x="405.50" y="285.76" font-size="8.7" text-anchor="start" font-weight="normal" fill="#000" stroke="#000" stroke-width="0.2" stroke-opacity="0.55">i</text>
<text x="439.50" y="285.76" font-size="8.7" text-anchor="start" font-weight="normal" fill="#000" stroke="#000" stroke-width="0.2" stroke-opacity="0.55">2017 May 26 - LCO 1m</text>
<rect x="385" y="15.7" width="314.50" height="326.60" fill="none" stroke="#999" stroke-width="1.5"/>
<path d="M548.2 15.7V342.3" stroke="#444" stroke-width="0.9"/>
<path d="M385.00 15.70h2.2M546.00 15.70h4.4M699.50 15.70h-2.2M385.00 51.01h2.2M546.00 51.01h4.4M699.50 51.01h-2.2M385.00 86.32h2.2M546.00 86.32h4.4M699.50 86.32h-2.2M385.00 121.62h2.2M546.00 121.62h4.4M699.50 121.62h-2.2M385.00 156.93h2.2M546.00 156.93h4.4M699.50 156.93h-2.2M385.00 192.24h2.2M546.00 192.24h4.4M699.50 192.24h-2.2M385.00 227.55h2.2M546.00 227.55h4.4M699.50 227.55h-2.2M385.00 262.86h2.2M546.00 262.86h4.4M699.50 262.86h-2.2M385.00 298.16h2.2M546.00 298.16h4.4M699.50 298.16h-2.2M385.00 333.47h2.2M546.00 333.47h4.4M699.50 333.47h-2.2M398.60 15.70v2.2M398.60 342.30v-2.2M432.60 15.70v2.2M432.60 342.30v-2.2M466.60 15.70v2.2M466.60 342.30v-2.2M500.60 15.70v2.2M500.60 342.30v-2.2M534.60 15.70v2.2M534.60 342.30v-2.2M560.81 15.70v2.2M560.81 342.30v-2.2M592.33 15.70v2.2M592.33 342.30v-2.2M623.85 15.70v2.2M623.85 342.30v-2.2M655.37 15.70v2.2M655.37 342.30v-2.2M686.89 15.70v2.2M686.89 342.30v-2.2" stroke="#444" stroke-width="0.7" fill="none"/>
<text x="380.00" y="18.10" font-size="6.8" text-anchor="end" font-weight="normal" fill="#000" stroke="#000" stroke-width="0.2" stroke-opacity="0.55">-0.02</text>
<text x="380.00" y="53.41" font-size="6.8" text-anchor="end" font-weight="normal" fill="#000" stroke="#000" stroke-width="0.2" stroke-opacity="0.55">0</text>
<text x="380.00" y="88.72" font-size="6.8" text-anchor="end" font-weight="normal" fill="#000" stroke="#000" stroke-width="0.2" stroke-opacity="0.55">0.02</text>
<text x="380.00" y="124.02" font-size="6.8" text-anchor="end" font-weight="normal" fill="#000" stroke="#000" stroke-width="0.2" stroke-opacity="0.55">0.04</text>
<text x="380.00" y="159.33" font-size="6.8" text-anchor="end" font-weight="normal" fill="#000" stroke="#000" stroke-width="0.2" stroke-opacity="0.55">0.06</text>
<text x="380.00" y="194.64" font-size="6.8" text-anchor="end" font-weight="normal" fill="#000" stroke="#000" stroke-width="0.2" stroke-opacity="0.55">0.08</text>
<text x="380.00" y="229.95" font-size="6.8" text-anchor="end" font-weight="normal" fill="#000" stroke="#000" stroke-width="0.2" stroke-opacity="0.55">0.1</text>
<text x="380.00" y="265.26" font-size="6.8" text-anchor="end" font-weight="normal" fill="#000" stroke="#000" stroke-width="0.2" stroke-opacity="0.55">0.12</text>
<text x="380.00" y="300.56" font-size="6.8" text-anchor="end" font-weight="normal" fill="#000" stroke="#000" stroke-width="0.2" stroke-opacity="0.55">0.14</text>
<text x="380.00" y="335.87" font-size="6.8" text-anchor="end" font-weight="normal" fill="#000" stroke="#000" stroke-width="0.2" stroke-opacity="0.55">0.16</text>
<text x="398.60" y="351.80" font-size="6.8" text-anchor="middle" font-weight="normal" fill="#000" stroke="#000" stroke-width="0.2" stroke-opacity="0.55">-0.1</text>
<text x="432.60" y="351.80" font-size="6.8" text-anchor="middle" font-weight="normal" fill="#000" stroke="#000" stroke-width="0.2" stroke-opacity="0.55">-0.05</text>
<text x="466.60" y="351.80" font-size="6.8" text-anchor="middle" font-weight="normal" fill="#000" stroke="#000" stroke-width="0.2" stroke-opacity="0.55">0</text>
<text x="500.60" y="351.80" font-size="6.8" text-anchor="middle" font-weight="normal" fill="#000" stroke="#000" stroke-width="0.2" stroke-opacity="0.55">0.05</text>
<text x="534.60" y="351.80" font-size="6.8" text-anchor="middle" font-weight="normal" fill="#000" stroke="#000" stroke-width="0.2" stroke-opacity="0.55">0.1</text>
<text x="466.60" y="363.10" font-size="9.8" text-anchor="middle" font-weight="normal" fill="#000" stroke="#000" stroke-width="0.2" stroke-opacity="0.55">Time from transit center (days)</text>
<text x="560.81" y="351.80" font-size="6.8" text-anchor="middle" font-weight="normal" fill="#000" stroke="#000" stroke-width="0.2" stroke-opacity="0.55">-0.1</text>
<text x="592.33" y="351.80" font-size="6.8" text-anchor="middle" font-weight="normal" fill="#000" stroke="#000" stroke-width="0.2" stroke-opacity="0.55">-0.05</text>
<text x="623.85" y="351.80" font-size="6.8" text-anchor="middle" font-weight="normal" fill="#000" stroke="#000" stroke-width="0.2" stroke-opacity="0.55">0</text>
<text x="655.37" y="351.80" font-size="6.8" text-anchor="middle" font-weight="normal" fill="#000" stroke="#000" stroke-width="0.2" stroke-opacity="0.55">0.05</text>
<text x="686.89" y="351.80" font-size="6.8" text-anchor="middle" font-weight="normal" fill="#000" stroke="#000" stroke-width="0.2" stroke-opacity="0.55">0.1</text>
<text x="623.85" y="363.10" font-size="9.8" text-anchor="middle" font-weight="normal" fill="#000" stroke="#000" stroke-width="0.2" stroke-opacity="0.55">Time from transit center (days)</text>
<text x="364.50" y="179.10" font-size="9.8" text-anchor="middle" font-weight="normal" fill="#000" stroke="#000" stroke-width="0.2" stroke-opacity="0.55" transform="rotate(-90 364.50 179.10)">&#916; (mag) - Arbitrary offsets</text>
<text x="548.20" y="8.00" font-size="9.8" text-anchor="middle" font-weight="bold" fill="#000">HATS-69 Follow-up Light Curves</text>
<path d="M40.30 476.03 41.32 476.23 42.34 476.42 43.36 476.62 44.38 476.83 45.40 477.03 46.42 477.24 47.44 477.45 48.46 477.67 49.48 477.88 50.50 478.10 51.52 478.32 52.54 478.55 53.56 478.77 54.58 479.00 55.60 479.23 56.62 479.46 57.64 479.69 58.66 479.92 59.67 480.15 60.69 480.39 61.71 480.62 62.73 480.86 63.75 481.10 64.77 481.33 65.79 481.57 66.81 481.81 67.83 482.04 68.85 482.28 69.87 482.51 70.89 482.75 71.91 482.98 72.93 483.22 73.95 483.45 74.97 483.68 75.99 483.91 77.01 484.14 78.03 484.37 79.05 484.59 80.07 484.81 81.09 485.03 82.11 485.25 83.13 485.47 84.15 485.68 85.17 485.89 86.19 486.10 87.21 486.31 88.23 486.51 89.25 486.71 90.27 486.91 91.29 487.10 92.31 487.29 93.33 487.47 94.35 487.65 95.37 487.83 96.39 488.01 97.41 488.18 98.42 488.34 99.44 488.50 100.46 488.66 101.48 488.81 102.50 488.96 103.52 489.10 104.54 489.24 105.56 489.37 106.58 489.50 107.60 489.62 108.62 489.74 109.64 489.86 110.66 489.96 111.68 490.07 112.70 490.16 113.72 490.25 114.74 490.34 115.76 490.42 116.78 490.49 117.80 490.56 118.82 490.63 119.84 490.68 120.86 490.73 121.88 490.78 122.90 490.82 123.92 490.85 124.94 490.88 125.96 490.90 126.98 490.92 128.00 490.93 129.02 490.93 130.04 490.93 131.06 490.93 132.08 490.91 133.10 490.89 134.12 490.87 135.14 490.84 136.15 490.80 137.17 490.75 138.19 490.71 139.21 490.65 140.23 490.59 141.25 490.52 142.27 490.45 143.29 490.37 144.31 490.29 145.33 490.20 146.35 490.11 147.37 490.01 148.39 489.90 149.41 489.79 150.43 489.67 151.45 489.55 152.47 489.43 153.49 489.30 154.51 489.16 155.53 489.02 156.55 488.87 157.57 488.72 158.59 488.57 159.61 488.41 160.63 488.25 161.65 488.08 162.67 487.91 163.69 487.73 164.71 487.55 165.73 487.37 166.75 487.18 167.77 486.99 168.79 486.79 169.81 486.59 170.83 486.39 171.85 486.19 172.87 485.98 173.88 485.77 174.90 485.56 175.92 485.34 176.94 485.13 177.96 484.91 178.98 484.68 180.00 484.46 181.02 484.23 182.04 484.01 183.06 483.78 184.08 483.55 185.10 483.31 186.12 483.08 187.14 482.85 188.16 482.61 189.18 482.38 190.20 482.14 191.22 481.90 192.24 481.67 193.26 481.43 194.28 481.20 195.30 480.96 196.32 480.72 197.34 480.49 198.36 480.25 199.38 480.02 200.40 479.79 201.42 479.55 202.44 479.32 203.46 479.09 204.48 478.87 205.50 478.64 206.52 478.42 207.54 478.19 208.56 477.97 209.58 477.76 210.60 477.54 211.62 477.33 212.63 477.12 213.65 476.91 214.67 476.71 215.69 476.51 216.71 476.31 217.73 476.11 218.75 475.92 219.77 475.73 220.79 475.55 221.81 475.37 222.83 475.19 223.85 475.02 224.87 474.85 225.89 474.69 226.91 474.53 227.93 474.38 228.95 474.23 229.97 474.08 230.99 473.94 232.01 473.80 233.03 473.67 234.05 473.55 235.07 473.43 236.09 473.31 237.11 473.20 238.13 473.09 239.15 472.99 240.17 472.90 241.19 472.81 242.21 472.73 243.23 472.65 244.25 472.58 245.27 472.51 246.29 472.45 247.31 472.39 248.33 472.35 249.35 472.30 250.36 472.26 251.38 472.23 252.40 472.21 253.42 472.19 254.44 472.17 255.46 472.17 256.48 472.17 257.50 472.17 258.52 472.18 259.54 472.20 260.56 472.22 261.58 472.25 262.60 472.28 263.62 472.32 264.64 472.37 265.66 472.42 266.68 472.47 267.70 472.54 268.72 472.61 269.74 472.68 270.76 472.76 271.78 472.85 272.80 472.94 273.82 473.03 274.84 473.14 275.86 473.24 276.88 473.36 277.90 473.48 278.92 473.60 279.94 473.73 280.96 473.86 281.98 474.00 283.00 474.14 284.02 474.29 285.04 474.44 286.06 474.60 287.08 474.76 288.09 474.92 289.11 475.09 290.13 475.27 291.15 475.45 292.17 475.63 293.19 475.81 294.21 476.00 295.23 476.19 296.25 476.39 297.27 476.59 298.29 476.79 299.31 477.00 300.33 477.21 301.35 477.42 302.37 477.63 303.39 477.85 304.41 478.07 305.43 478.29 306.45 478.51 307.47 478.73 308.49 478.96 309.51 479.19 310.53 479.42 311.55 479.65 312.57 479.88 313.59 480.12 314.61 480.35 315.63 480.59 316.65 480.82 317.67 481.06 318.69 481.29 319.71 481.53 320.73 481.77 321.75 482.00 322.77 482.24 323.79 482.48 324.81 482.71 325.83 482.95 326.84 483.18 327.86 483.41 328.88 483.64 329.90 483.87 330.92 484.10 331.94 484.33 332.96 484.55 333.98 484.78 335.00 485.00 336.02 485.22 337.04 485.43 338.06 485.65 339.08 485.86 340.10 486.07 341.12 486.27 342.14 486.48 343.16 486.68 344.18 486.87 345.20 487.07" stroke="#777" stroke-width="0.9" fill="none"/>
<path d="M112.71 476.15V523.08M111.21 476.15h3M111.21 523.08h3M120.72 504.07V551.00M119.22 504.07h3M119.22 551.00h3M127.58 423.60V470.52M126.08 423.60h3M126.08 470.52h3M138.76 473.10V520.03M137.26 473.10h3M137.26 520.03h3M146.13 432.51V479.44M144.63 432.51h3M144.63 479.44h3M171.03 460.20V507.12M169.53 460.20h3M169.53 507.12h3M200.50 458.09V505.01M199.00 458.09h3M199.00 505.01h3M212.06 430.64V477.56M210.56 430.64h3M210.56 477.56h3M218.03 457.15V504.07M216.53 457.15h3M216.53 504.07h3M225.53 476.86V523.78M224.03 476.86h3M224.03 523.78h3M226.92 431.11V478.03M225.42 431.11h3M225.42 478.03h3M234.04 419.14V466.06M232.54 419.14h3M232.54 466.06h3M261.48 400.60V447.53M259.98 400.60h3M259.98 447.53h3M256.40 468.65V515.57M254.90 468.65h3M254.90 515.57h3M285.87 462.78V509.70M284.37 462.78h3M284.37 509.70h3M286.38 474.98V521.91M284.88 474.98h3M284.88 521.91h3M291.97 488.59V535.51M290.47 488.59h3M290.47 535.51h3" stroke="#cf7a7a" stroke-width="0.8" fill="none"/>
<path d="M109.21 501.92L112.71 496.62L116.21 501.92ZM117.22 529.84L120.72 524.54L124.22 529.84ZM124.08 449.36L127.58 444.06L131.08 449.36ZM135.26 498.87L138.76 493.57L142.26 498.87ZM142.63 458.28L146.13 452.98L149.63 458.28ZM167.53 485.96L171.03 480.66L174.53 485.96ZM197.00 483.85L200.50 478.55L204.00 483.85ZM208.56 456.40L212.06 451.10L215.56 456.40ZM214.53 482.91L218.03 477.61L221.53 482.91ZM222.03 502.62L225.53 497.32L229.03 502.62ZM223.42 456.87L226.92 451.57L230.42 456.87ZM230.54 444.90L234.04 439.60L237.54 444.90ZM257.98 426.37L261.48 421.07L264.98 426.37ZM252.90 494.41L256.40 489.11L259.90 494.41ZM282.37 488.54L285.87 483.24L289.37 488.54ZM282.88 500.74L286.38 495.44L289.88 500.74ZM288.47 514.35L291.97 509.05L295.47 514.35Z" fill="#8b0a0a"/>
<path d="M40.3 634.27H345.2" stroke="#333" stroke-width="0.8" stroke-dasharray="1 1.5" fill="none"/>
<path d="M40.3 711.87H345.2" stroke="#333" stroke-width="0.8" stroke-dasharray="1 1.5" fill="none"/>
<path d="M112.71 626.05V651.34M111.21 626.05h3M111.21 651.34h3M120.72 640.09V665.37M119.22 640.09h3M119.22 665.37h3M127.58 597.48V622.77M126.08 597.48h3M126.08 622.77h3M138.76 624.03V649.32M137.26 624.03h3M137.26 649.32h3M146.13 602.41V627.70M144.63 602.41h3M144.63 627.70h3M171.03 619.99V645.27M169.53 619.99h3M169.53 645.27h3M200.50 621.63V646.91M199.00 621.63h3M199.00 646.91h3M212.06 608.99V634.27M210.56 608.99h3M210.56 634.27h3M218.03 623.53V648.81M216.53 623.53h3M216.53 648.81h3M225.53 635.03V660.32M224.03 635.03h3M224.03 660.32h3M226.92 610.00V635.28M225.42 610.00h3M225.42 635.28h3M234.04 603.93V629.21M232.54 603.93h3M232.54 629.21h3M261.48 594.95V620.24M259.98 594.95h3M259.98 620.24h3M256.40 631.62V656.90M254.90 631.62h3M254.90 656.90h3M285.87 627.57V652.86M284.37 627.57h3M284.37 652.86h3M286.38 634.02V659.30M284.88 634.02h3M284.88 659.30h3M291.97 641.10V666.38M290.47 641.10h3M290.47 666.38h3" stroke="#cf7a7a" stroke-width="0.8" fill="none"/>
<path d="M109.21 641.00L112.71 635.70L116.21 641.00ZM117.22 655.03L120.72 649.73L124.22 655.03ZM124.08 612.42L127.58 607.12L131.08 612.42ZM135.26 638.97L138.76 633.67L142.26 638.97ZM142.63 617.35L146.13 612.05L149.63 617.35ZM167.53 634.93L171.03 629.63L174.53 634.93ZM197.00 636.57L200.50 631.27L204.00 636.57ZM208.56 623.93L212.06 618.63L215.56 623.93ZM214.53 638.47L218.03 633.17L221.53 638.47ZM222.03 649.97L225.53 644.67L229.03 649.97ZM223.42 624.94L226.92 619.64L230.42 624.94ZM230.54 618.87L234.04 613.57L237.54 618.87ZM257.98 609.89L261.48 604.60L264.98 609.89ZM252.90 646.56L256.40 641.26L259.90 646.56ZM282.37 642.51L285.87 637.21L289.37 642.51ZM282.88 648.96L286.38 643.66L289.88 648.96ZM288.47 656.04L291.97 650.74L295.47 656.04Z" fill="#8b0a0a"/>
<path d="M109.21 711.14L112.71 705.84L116.21 711.14ZM117.22 718.23L120.72 712.93L124.22 718.23ZM124.08 696.43L127.58 691.13L131.08 696.43ZM135.26 714.17L138.76 708.87L142.26 714.17ZM142.63 711.14L146.13 705.84L149.63 711.14ZM167.53 768.35L171.03 763.05L174.53 768.35ZM197.00 710.10L200.50 704.80L204.00 710.10ZM208.56 716.68L212.06 711.38L215.56 716.68ZM214.53 717.71L218.03 712.41L221.53 717.71ZM222.03 707.07L225.53 701.77L229.03 707.07ZM223.42 727.84L226.92 722.54L230.42 727.84ZM230.54 700.49L234.04 695.19L237.54 700.49ZM257.98 691.92L261.48 686.62L264.98 691.92ZM252.90 717.20L256.40 711.90L259.90 717.20ZM282.37 705.07L285.87 699.77L289.37 705.07ZM282.88 726.29L286.38 720.99L289.88 726.29ZM288.47 717.71L291.97 712.41L295.47 717.71Z" fill="#8b0a0a"/>
<rect x="40.3" y="387.7" width="304.90" height="187.70" fill="none" stroke="#666" stroke-width="1.1"/>
<path d="M40.30 575.40h2.6M345.20 575.40h-2.6M40.30 551.94h2.6M345.20 551.94h-2.6M40.30 528.47h2.6M345.20 528.47h-2.6M40.30 505.01h2.6M345.20 505.01h-2.6M40.30 481.55h2.6M345.20 481.55h-2.6M40.30 458.09h2.6M345.20 458.09h-2.6M40.30 434.62h2.6M345.20 434.62h-2.6M40.30 411.16h2.6M345.20 411.16h-2.6M40.30 387.70h2.6M345.20 387.70h-2.6" stroke="#666" stroke-width="0.8" fill="none"/>
<path d="M65.71 575.40v-2.6M65.71 387.70v2.6M116.52 575.40v-2.6M116.52 387.70v2.6M167.34 575.40v-2.6M167.34 387.70v2.6M218.16 575.40v-2.6M218.16 387.70v2.6M268.97 575.40v-2.6M268.97 387.70v2.6M319.79 575.40v-2.6M319.79 387.70v2.6" stroke="#666" stroke-width="0.8" fill="none"/>
<text x="34.30" y="578.70" font-size="9.8" text-anchor="end" font-weight="normal" fill="#000" stroke="#000" stroke-width="0.2" stroke-opacity="0.55">-400</text>
<text x="34.30" y="555.24" font-size="9.8" text-anchor="end" font-weight="normal" fill="#000" stroke="#000" stroke-width="0.2" stroke-opacity="0.55">-300</text>
<text x="34.30" y="531.77" font-size="9.8" text-anchor="end" font-weight="normal" fill="#000" stroke="#000" stroke-width="0.2" stroke-opacity="0.55">-200</text>
<text x="34.30" y="508.31" font-size="9.8" text-anchor="end" font-weight="normal" fill="#000" stroke="#000" stroke-width="0.2" stroke-opacity="0.55">-100</text>
<text x="34.30" y="484.85" font-size="9.8" text-anchor="end" font-weight="normal" fill="#000" stroke="#000" stroke-width="0.2" stroke-opacity="0.55">0</text>
<text x="34.30" y="461.39" font-size="9.8" text-anchor="end" font-weight="normal" fill="#000" stroke="#000" stroke-width="0.2" stroke-opacity="0.55">100</text>
<text x="34.30" y="437.93" font-size="9.8" text-anchor="end" font-weight="normal" fill="#000" stroke="#000" stroke-width="0.2" stroke-opacity="0.55">200</text>
<text x="34.30" y="414.46" font-size="9.8" text-anchor="end" font-weight="normal" fill="#000" stroke="#000" stroke-width="0.2" stroke-opacity="0.55">300</text>
<text x="34.30" y="391.00" font-size="9.8" text-anchor="end" font-weight="normal" fill="#000" stroke="#000" stroke-width="0.2" stroke-opacity="0.55">400</text>
<rect x="40.3" y="583.7" width="304.90" height="88.50" fill="none" stroke="#666" stroke-width="1.1"/>
<path d="M40.30 672.20h2.6M345.20 672.20h-2.6M40.30 659.56h2.6M345.20 659.56h-2.6M40.30 646.91h2.6M345.20 646.91h-2.6M40.30 634.27h2.6M345.20 634.27h-2.6M40.30 621.63h2.6M345.20 621.63h-2.6M40.30 608.99h2.6M345.20 608.99h-2.6M40.30 596.34h2.6M345.20 596.34h-2.6M40.30 583.70h2.6M345.20 583.70h-2.6" stroke="#666" stroke-width="0.8" fill="none"/>
<path d="M65.71 672.20v-2.6M65.71 583.70v2.6M116.52 672.20v-2.6M116.52 583.70v2.6M167.34 672.20v-2.6M167.34 583.70v2.6M218.16 672.20v-2.6M218.16 583.70v2.6M268.97 672.20v-2.6M268.97 583.70v2.6M319.79 672.20v-2.6M319.79 583.70v2.6" stroke="#666" stroke-width="0.8" fill="none"/>
<text x="34.30" y="674.80" font-size="9.8" text-anchor="end" font-weight="normal" fill="#000" stroke="#000" stroke-width="0.2" stroke-opacity="0.55">-300</text>
<text x="34.30" y="662.16" font-size="9.8" text-anchor="end" font-weight="normal" fill="#000" stroke="#000" stroke-width="0.2" stroke-opacity="0.55">-200</text>
<text x="34.30" y="649.51" font-size="9.8" text-anchor="end" font-weight="normal" fill="#000" stroke="#000" stroke-width="0.2" stroke-opacity="0.55">-100</text>
<text x="34.30" y="636.87" font-size="9.8" text-anchor="end" font-weight="normal" fill="#000" stroke="#000" stroke-width="0.2" stroke-opacity="0.55">0</text>
<text x="34.30" y="624.23" font-size="9.8" text-anchor="end" font-weight="normal" fill="#000" stroke="#000" stroke-width="0.2" stroke-opacity="0.55">100</text>
<text x="34.30" y="611.59" font-size="9.8" text-anchor="end" font-weight="normal" fill="#000" stroke="#000" stroke-width="0.2" stroke-opacity="0.55">200</text>
<text x="34.30" y="598.94" font-size="9.8" text-anchor="end" font-weight="normal" fill="#000" stroke="#000" stroke-width="0.2" stroke-opacity="0.55">300</text>
<text x="34.30" y="586.30" font-size="9.8" text-anchor="end" font-weight="normal" fill="#000" stroke="#000" stroke-width="0.2" stroke-opacity="0.55">400</text>
<rect x="40.3" y="682.3" width="304.90" height="88.70" fill="none" stroke="#666" stroke-width="1.1"/>
<path d="M40.30 771.00h2.6M345.20 771.00h-2.6M40.30 756.22h2.6M345.20 756.22h-2.6M40.30 741.43h2.6M345.20 741.43h-2.6M40.30 726.65h2.6M345.20 726.65h-2.6M40.30 711.87h2.6M345.20 711.87h-2.6M40.30 697.08h2.6M345.20 697.08h-2.6M40.30 682.30h2.6M345.20 682.30h-2.6" stroke="#666" stroke-width="0.8" fill="none"/>
<path d="M65.71 771.00v-2.6M65.71 682.30v2.6M116.52 771.00v-2.6M116.52 682.30v2.6M167.34 771.00v-2.6M167.34 682.30v2.6M218.16 771.00v-2.6M218.16 682.30v2.6M268.97 771.00v-2.6M268.97 682.30v2.6M319.79 771.00v-2.6M319.79 682.30v2.6" stroke="#666" stroke-width="0.8" fill="none"/>
<text x="34.30" y="774.30" font-size="9.8" text-anchor="end" font-weight="normal" fill="#000" stroke="#000" stroke-width="0.2" stroke-opacity="0.55">-800</text>
<text x="34.30" y="759.52" font-size="9.8" text-anchor="end" font-weight="normal" fill="#000" stroke="#000" stroke-width="0.2" stroke-opacity="0.55">-600</text>
<text x="34.30" y="744.73" font-size="9.8" text-anchor="end" font-weight="normal" fill="#000" stroke="#000" stroke-width="0.2" stroke-opacity="0.55">-400</text>
<text x="34.30" y="729.95" font-size="9.8" text-anchor="end" font-weight="normal" fill="#000" stroke="#000" stroke-width="0.2" stroke-opacity="0.55">-200</text>
<text x="34.30" y="715.17" font-size="9.8" text-anchor="end" font-weight="normal" fill="#000" stroke="#000" stroke-width="0.2" stroke-opacity="0.55">0</text>
<text x="34.30" y="700.38" font-size="9.8" text-anchor="end" font-weight="normal" fill="#000" stroke="#000" stroke-width="0.2" stroke-opacity="0.55">200</text>
<text x="34.30" y="685.60" font-size="9.8" text-anchor="end" font-weight="normal" fill="#000" stroke="#000" stroke-width="0.2" stroke-opacity="0.55">400</text>
<text x="65.71" y="783.50" font-size="9.6" text-anchor="middle" font-weight="normal" fill="#000" stroke="#000" stroke-width="0.2" stroke-opacity="0.55">0.0</text>
<text x="116.52" y="783.50" font-size="9.6" text-anchor="middle" font-weight="normal" fill="#000" stroke="#000" stroke-width="0.2" stroke-opacity="0.55">0.2</text>
<text x="167.34" y="783.50" font-size="9.6" text-anchor="middle" font-weight="normal" fill="#000" stroke="#000" stroke-width="0.2" stroke-opacity="0.55">0.4</text>
<text x="218.16" y="783.50" font-size="9.6" text-anchor="middle" font-weight="normal" fill="#000" stroke="#000" stroke-width="0.2" stroke-opacity="0.55">0.6</text>
<text x="268.97" y="783.50" font-size="9.6" text-anchor="middle" font-weight="normal" fill="#000" stroke="#000" stroke-width="0.2" stroke-opacity="0.55">0.8</text>
<text x="319.79" y="783.50" font-size="9.6" text-anchor="middle" font-weight="normal" fill="#000" stroke="#000" stroke-width="0.2" stroke-opacity="0.55">1.0</text>
<text x="193.00" y="793.00" font-size="9.9" text-anchor="middle" font-weight="normal" fill="#000" stroke="#000" stroke-width="0.2" stroke-opacity="0.55">Phase with respect to T<tspan font-size="6.8" dy="2.2">c</tspan></text>
<text x="192.70" y="376.60" font-size="9.9" text-anchor="middle" font-weight="bold" fill="#000">HATS-69 RVs and BSs</text>
<text x="14.50" y="481.50" font-size="9.2" text-anchor="middle" font-weight="normal" fill="#000" stroke="#000" stroke-width="0.2" stroke-opacity="0.55" transform="rotate(-90 14.50 481.50)">RV (ms<tspan font-size="6.5" dy="-4">-1</tspan><tspan dy="4">)</tspan></text>
<text x="11.00" y="628.00" font-size="9.2" text-anchor="middle" font-weight="normal" fill="#000" stroke="#000" stroke-width="0.2" stroke-opacity="0.55" transform="rotate(-90 11.00 628.00)">O-C (ms<tspan font-size="6.5" dy="-4">-1</tspan><tspan dy="4">)</tspan></text>
<text x="11.00" y="726.60" font-size="9.2" text-anchor="middle" font-weight="normal" fill="#000" stroke="#000" stroke-width="0.2" stroke-opacity="0.55" transform="rotate(-90 11.00 726.60)">BS (ms<tspan font-size="6.5" dy="-4">-1</tspan><tspan dy="4">)</tspan></text>
<text x="42.00" y="399.40" font-size="9.8" text-anchor="start" font-weight="normal" fill="#000" stroke="#000" stroke-width="0.2" stroke-opacity="0.55">FEROS</text>
<path d="M81.5 396.1H108.2M81.5 394.4v3.4M108.2 394.4v3.4" stroke="#cf7a7a" stroke-width="0.8" fill="none"/>
<path d="M91.00 398.40L94.50 393.10L98.00 398.40Z" fill="#8b0a0a"/>
<defs><clipPath id="cmdclip"><rect x="396.8" y="395.9" width="292.5" height="138"/></clipPath></defs>
<g clip-path="url(#cmdclip)">
<path d="M431.90 395.40 433.08 396.63 434.43 398.08 435.96 399.75 437.67 401.61 439.56 403.67 441.64 405.89 443.90 408.27 446.34 410.79 448.97 413.43 451.79 416.19 454.80 419.05 458.00 422.00 461.39 425.03 464.96 428.17 468.71 431.43 472.66 434.80 476.78 438.30 481.10 441.94 485.61 445.72 490.30 449.64 495.19 453.73 500.26 457.98 505.53 462.40 511.00 467.00 517.00 472.06 523.76 477.74 531.08 483.90 538.78 490.36 546.67 496.99 554.56 503.61 562.27 510.08 569.61 516.24 576.39 521.92 582.42 526.98 587.52 531.26 591.50 534.60M436.25 395.40 437.40 396.63 438.71 398.08 440.21 399.75 441.87 401.61 443.72 403.67 445.74 405.89 447.94 408.27 450.32 410.79 452.88 413.43 455.63 416.19 458.55 419.05 461.67 422.00 464.96 425.03 468.42 428.17 472.05 431.43 475.86 434.80 479.85 438.30 484.03 441.94 488.40 445.72 492.95 449.64 497.71 453.73 502.66 457.98 507.81 462.40 513.17 467.00 519.07 472.06 525.73 477.74 532.95 483.90 540.56 490.36 548.37 496.99 556.18 503.61 563.81 510.08 571.08 516.24 577.79 521.92 583.77 526.98 588.82 531.26 592.75 534.60M440.60 395.40 441.71 396.63 443.00 398.08 444.45 399.75 446.08 401.61 447.87 403.67 449.84 405.89 451.98 408.27 454.30 410.79 456.79 413.43 459.46 416.19 462.31 419.05 465.33 422.00 468.52 425.03 471.87 428.17 475.38 431.43 479.07 434.80 482.92 438.30 486.96 441.94 491.19 445.72 495.61 449.64 500.23 453.73 505.05 457.98 510.08 462.40 515.33 467.00 521.14 472.06 527.70 477.74 534.83 483.90 542.35 490.36 550.06 496.99 557.79 503.61 565.35 510.08 572.54 516.24 579.19 521.92 585.11 526.98 590.11 531.26 594.00 534.60M444.95 395.40 446.03 396.63 447.28 398.08 448.70 399.75 450.28 401.61 452.03 403.67 453.94 405.89 456.03 408.27 458.28 410.79 460.70 413.43 463.30 416.19 466.06 419.05 469.00 422.00 472.09 425.03 475.33 428.17 478.72 431.43 482.27 434.80 485.99 438.30 489.89 441.94 493.98 445.72 498.26 449.64 502.75 453.73 507.44 457.98 512.36 462.40 517.50 467.00 523.20 472.06 529.67 477.74 536.70 483.90 544.13 490.36 551.76 496.99 559.41 503.61 566.88 510.08 574.01 516.24 580.59 521.92 586.45 526.98 591.40 531.26 595.25 534.60M449.30 395.40 450.35 396.63 451.57 398.08 452.94 399.75 454.48 401.61 456.18 403.67 458.05 405.89 460.07 408.27 462.26 410.79 464.62 413.43 467.13 416.19 469.82 419.05 472.67 422.00 475.66 425.03 478.79 428.17 482.06 431.43 485.48 434.80 489.06 438.30 492.82 441.94 496.77 445.72 500.91 449.64 505.27 453.73 509.83 457.98 514.63 462.40 519.67 467.00 525.27 472.06 531.64 477.74 538.58 483.90 545.91 490.36 553.46 496.99 561.02 503.61 568.42 510.08 575.48 516.24 581.99 521.92 587.80 526.98 592.69 531.26 596.50 534.60M453.65 395.40 454.67 396.63 455.85 398.08 457.19 399.75 458.69 401.61 460.34 403.67 462.15 405.89 464.12 408.27 466.24 410.79 468.53 413.43 470.97 416.19 473.57 419.05 476.33 422.00 479.23 425.03 482.24 428.17 485.39 431.43 488.68 434.80 492.13 438.30 495.76 441.94 499.56 445.72 503.57 449.64 507.78 453.73 512.23 457.98 516.90 462.40 521.83 467.00 527.34 472.06 533.60 477.74 540.45 483.90 547.70 490.36 555.15 496.99 562.64 503.61 569.96 510.08 576.94 516.24 583.40 521.92 589.14 526.98 593.98 531.26 597.75 534.60M458.00 395.40 458.99 396.63 460.14 398.08 461.44 399.75 462.89 401.61 464.49 403.67 466.25 405.89 468.16 408.27 470.22 410.79 472.44 413.43 474.81 416.19 477.33 419.05 480.00 422.00 482.80 425.03 485.70 428.17 488.73 431.43 491.89 434.80 495.20 438.30 498.69 441.94 502.36 445.72 506.22 449.64 510.30 453.73 514.62 457.98 519.18 462.40 524.00 467.00 529.40 472.06 535.57 477.74 542.33 483.90 549.48 490.36 556.85 496.99 564.25 503.61 571.50 510.08 578.41 516.24 584.80 521.92 590.48 526.98 595.28 531.26 599.00 534.60M463.50 395.40 464.47 396.63 465.59 398.08 466.86 399.75 468.28 401.61 469.85 403.67 471.56 405.89 473.43 408.27 475.44 410.79 477.61 413.43 479.92 416.19 482.39 419.05 485.00 422.00 487.73 425.03 490.56 428.17 493.51 431.43 496.59 434.80 499.82 438.30 503.22 441.94 506.80 445.72 510.57 449.64 514.57 453.73 518.79 457.98 523.26 462.40 528.00 467.00 533.32 472.06 539.40 477.74 546.05 483.90 553.11 490.36 560.38 496.99 567.69 503.61 574.84 510.08 581.67 516.24 587.98 521.92 593.59 526.98 598.33 531.26 602.00 534.60M468.08 395.40 469.00 396.63 470.05 398.08 471.23 399.75 472.55 401.61 474.02 403.67 475.63 405.89 477.39 408.27 479.31 410.79 481.38 413.43 483.62 416.19 486.02 419.05 488.60 422.00 491.32 425.03 494.16 428.17 497.13 431.43 500.25 434.80 503.52 438.30 506.97 441.94 510.60 445.72 514.43 449.64 518.48 453.73 522.74 457.98 527.25 462.40 532.00 467.00 537.32 472.06 543.39 477.74 550.04 483.90 557.08 490.36 564.33 496.99 571.61 503.61 578.74 510.08 585.54 516.24 591.83 521.92 597.42 526.98 602.14 531.26 605.80 534.60M472.66 395.40 473.53 396.63 474.51 398.08 475.60 399.75 476.83 401.61 478.19 403.67 479.69 405.89 481.35 408.27 483.17 410.79 485.15 413.43 487.31 416.19 489.66 419.05 492.20 422.00 494.91 425.03 497.75 428.17 500.75 431.43 503.90 434.80 507.22 438.30 510.72 441.94 514.41 445.72 518.29 449.64 522.39 453.73 526.69 457.98 531.23 462.40 536.00 467.00 541.32 472.06 547.39 477.74 554.03 483.90 561.05 490.36 568.28 496.99 575.54 503.61 582.64 510.08 589.41 516.24 595.68 521.92 601.25 526.98 605.95 531.26 609.60 534.60M477.24 395.40 478.06 396.63 478.96 398.08 479.97 399.75 481.10 401.61 482.36 403.67 483.76 405.89 485.31 408.27 487.03 410.79 488.92 413.43 491.01 416.19 493.30 419.05 495.80 422.00 498.49 425.03 501.34 428.17 504.36 431.43 507.55 434.80 510.92 438.30 514.47 441.94 518.21 445.72 522.15 449.64 526.30 453.73 530.65 457.98 535.21 462.40 540.00 467.00 545.33 472.06 551.39 477.74 558.02 483.90 565.02 490.36 572.23 496.99 579.46 503.61 586.54 510.08 593.29 516.24 599.53 521.92 605.08 526.98 609.76 531.26 613.40 534.60M481.82 395.40 482.58 396.63 483.42 398.08 484.35 399.75 485.38 401.61 486.53 403.67 487.82 405.89 489.27 408.27 490.89 410.79 492.69 413.43 494.70 416.19 496.93 419.05 499.40 422.00 502.08 425.03 504.94 428.17 507.98 431.43 511.21 434.80 514.62 438.30 518.22 441.94 522.02 445.72 526.01 449.64 530.21 453.73 534.60 457.98 539.20 462.40 544.00 467.00 549.33 472.06 555.39 477.74 562.00 483.90 568.99 490.36 576.18 496.99 583.39 503.61 590.44 510.08 597.16 516.24 603.38 521.92 608.91 526.98 613.57 531.26 617.20 534.60M486.40 395.40 487.11 396.63 487.88 398.08 488.72 399.75 489.65 401.61 490.70 403.67 491.89 405.89 493.23 408.27 494.75 410.79 496.46 413.43 498.40 416.19 500.57 419.05 503.00 422.00 505.67 425.03 508.53 428.17 511.60 431.43 514.86 434.80 518.32 438.30 521.98 441.94 525.83 445.72 529.87 449.64 534.12 453.73 538.55 457.98 543.18 462.40 548.00 467.00 553.34 472.06 559.39 477.74 565.99 483.90 572.96 490.36 580.13 496.99 587.31 503.61 594.34 510.08 601.04 516.24 607.23 521.92 612.73 526.98 617.38 531.26 621.00 534.60" stroke="#484848" stroke-width="0.65" fill="none"/>
<path d="M446.00 395.40L477.07 442.00M465.54 395.40L517.54 476.00M506.81 432.00L556.81 502.00M550.86 470.00L602.38 534.40" stroke="#30b030" stroke-width="0.75" stroke-dasharray="2.5 2.2" fill="none"/>
</g>
<rect x="499.60" y="422.80" width="18.20" height="7.6" fill="#fff"/>
<rect x="504.60" y="433.20" width="18.20" height="7.6" fill="#fff"/>
<rect x="507.40" y="440.10" width="18.20" height="7.6" fill="#fff"/>
<rect x="513.05" y="448.00" width="13.90" height="7.6" fill="#fff"/>
<rect x="519.45" y="456.80" width="13.90" height="7.6" fill="#fff"/>
<rect x="526.25" y="465.60" width="13.90" height="7.6" fill="#fff"/>
<rect x="531.65" y="471.80" width="13.90" height="7.6" fill="#fff"/>
<rect x="539.75" y="481.90" width="13.90" height="7.6" fill="#fff"/>
<rect x="547.35" y="489.80" width="13.90" height="7.6" fill="#fff"/>
<rect x="556.75" y="497.00" width="13.90" height="7.6" fill="#fff"/>
<rect x="564.95" y="506.40" width="13.90" height="7.6" fill="#fff"/>
<rect x="571.25" y="514.90" width="13.90" height="7.6" fill="#fff"/>
<rect x="578.15" y="523.10" width="13.90" height="7.6" fill="#fff"/>
<rect x="454.70" y="418.40" width="18.60" height="7.6" fill="#fff"/>
<rect x="490.30" y="444.20" width="18.60" height="7.6" fill="#fff"/>
<rect x="533.30" y="478.10" width="18.60" height="7.6" fill="#fff"/>
<rect x="577.40" y="510.80" width="18.60" height="7.6" fill="#fff"/>
<text x="508.70" y="430.00" font-size="9" text-anchor="middle" font-weight="bold" fill="#000">12.0</text>
<text x="513.70" y="440.40" font-size="9" text-anchor="middle" font-weight="bold" fill="#000">11.0</text>
<text x="516.50" y="447.30" font-size="9" text-anchor="middle" font-weight="bold" fill="#000">10.0</text>
<text x="520.00" y="455.20" font-size="9" text-anchor="middle" font-weight="bold" fill="#000">9.0</text>
<text x="526.40" y="464.00" font-size="9" text-anchor="middle" font-weight="bold" fill="#000">8.0</text>
<text x="533.20" y="472.80" font-size="9" text-anchor="middle" font-weight="bold" fill="#000">7.0</text>
<text x="538.60" y="479.00" font-size="9" text-anchor="middle" font-weight="bold" fill="#000">6.0</text>
<text x="546.70" y="489.10" font-size="9" text-anchor="middle" font-weight="bold" fill="#000">5.0</text>
<text x="554.30" y="497.00" font-size="9" text-anchor="middle" font-weight="bold" fill="#000">4.0</text>
<text x="563.70" y="504.20" font-size="9" text-anchor="middle" font-weight="bold" fill="#000">3.0</text>
<text x="571.90" y="513.60" font-size="9" text-anchor="middle" font-weight="bold" fill="#000">2.0</text>
<text x="578.20" y="522.10" font-size="9" text-anchor="middle" font-weight="bold" fill="#000">1.0</text>
<text x="585.10" y="530.30" font-size="9" text-anchor="middle" font-weight="bold" fill="#000">0.2</text>
<text x="464.00" y="425.60" font-size="9.2" text-anchor="middle" font-weight="bold" fill="#18b818">1.05</text>
<text x="499.60" y="451.40" font-size="9.2" text-anchor="middle" font-weight="bold" fill="#18b818">1.00</text>
<text x="542.60" y="485.30" font-size="9.2" text-anchor="middle" font-weight="bold" fill="#18b818">0.95</text>
<text x="586.70" y="518.00" font-size="9.2" text-anchor="middle" font-weight="bold" fill="#18b818">0.90</text>
<ellipse cx="546.5" cy="467.8" rx="5.8" ry="4.4" fill="#0a0ae8"/>
<ellipse cx="546.7" cy="467.5" rx="10.6" ry="6.2" fill="none" stroke="#1515f0" stroke-width="1.3"/>
<rect x="396.3" y="395.4" width="293.50" height="139.00" fill="none" stroke="#444" stroke-width="0.9"/>
<path d="M396.30 395.4v3M396.30 534.4v-3M403.64 395.4v1.6M403.64 534.4v-1.6M410.98 395.4v1.6M410.98 534.4v-1.6M418.31 395.4v1.6M418.31 534.4v-1.6M425.65 395.4v1.6M425.65 534.4v-1.6M432.99 395.4v3M432.99 534.4v-3M440.32 395.4v1.6M440.32 534.4v-1.6M447.66 395.4v1.6M447.66 534.4v-1.6M455.00 395.4v1.6M455.00 534.4v-1.6M462.34 395.4v1.6M462.34 534.4v-1.6M469.67 395.4v3M469.67 534.4v-3M477.01 395.4v1.6M477.01 534.4v-1.6M484.35 395.4v1.6M484.35 534.4v-1.6M491.69 395.4v1.6M491.69 534.4v-1.6M499.02 395.4v1.6M499.02 534.4v-1.6M506.36 395.4v3M506.36 534.4v-3M513.70 395.4v1.6M513.70 534.4v-1.6M521.04 395.4v1.6M521.04 534.4v-1.6M528.38 395.4v1.6M528.38 534.4v-1.6M535.71 395.4v1.6M535.71 534.4v-1.6M543.05 395.4v3M543.05 534.4v-3M550.39 395.4v1.6M550.39 534.4v-1.6M557.73 395.4v1.6M557.73 534.4v-1.6M565.06 395.4v1.6M565.06 534.4v-1.6M572.40 395.4v1.6M572.40 534.4v-1.6M579.74 395.4v3M579.74 534.4v-3M587.07 395.4v1.6M587.07 534.4v-1.6M594.41 395.4v1.6M594.41 534.4v-1.6M601.75 395.4v1.6M601.75 534.4v-1.6M609.09 395.4v1.6M609.09 534.4v-1.6M616.42 395.4v3M616.42 534.4v-3M623.76 395.4v1.6M623.76 534.4v-1.6M631.10 395.4v1.6M631.10 534.4v-1.6M638.44 395.4v1.6M638.44 534.4v-1.6M645.77 395.4v1.6M645.77 534.4v-1.6M653.11 395.4v3M653.11 534.4v-3M660.45 395.4v1.6M660.45 534.4v-1.6M667.79 395.4v1.6M667.79 534.4v-1.6M675.12 395.4v1.6M675.12 534.4v-1.6M682.46 395.4v1.6M682.46 534.4v-1.6M689.80 395.4v3M689.80 534.4v-3M396.3 395.40h3M689.8 395.40h-3M396.3 409.30h1.6M689.8 409.30h-1.6M396.3 423.20h3M689.8 423.20h-3M396.3 437.10h1.6M689.8 437.10h-1.6M396.3 451.00h3M689.8 451.00h-3M396.3 464.90h1.6M689.8 464.90h-1.6M396.3 478.80h3M689.8 478.80h-3M396.3 492.70h1.6M689.8 492.70h-1.6M396.3 506.60h3M689.8 506.60h-3M396.3 520.50h1.6M689.8 520.50h-1.6M396.3 534.40h3M689.8 534.40h-3" stroke="#444" stroke-width="0.6" fill="none"/>
<text x="396.30" y="547.70" font-size="9.8" text-anchor="middle" font-weight="normal" fill="#000" stroke="#000" stroke-width="0.2" stroke-opacity="0.55">0.85</text>
<text x="432.99" y="547.70" font-size="9.8" text-anchor="middle" font-weight="normal" fill="#000" stroke="#000" stroke-width="0.2" stroke-opacity="0.55">0.90</text>
<text x="469.67" y="547.70" font-size="9.8" text-anchor="middle" font-weight="normal" fill="#000" stroke="#000" stroke-width="0.2" stroke-opacity="0.55">0.95</text>
<text x="506.36" y="547.70" font-size="9.8" text-anchor="middle" font-weight="normal" fill="#000" stroke="#000" stroke-width="0.2" stroke-opacity="0.55">1.00</text>
<text x="543.05" y="547.70" font-size="9.8" text-anchor="middle" font-weight="normal" fill="#000" stroke="#000" stroke-width="0.2" stroke-opacity="0.55">1.05</text>
<text x="579.74" y="547.70" font-size="9.8" text-anchor="middle" font-weight="normal" fill="#000" stroke="#000" stroke-width="0.2" stroke-opacity="0.55">1.10</text>
<text x="616.42" y="547.70" font-size="9.8" text-anchor="middle" font-weight="normal" fill="#000" stroke="#000" stroke-width="0.2" stroke-opacity="0.55">1.15</text>
<text x="653.11" y="547.70" font-size="9.8" text-anchor="middle" font-weight="normal" fill="#000" stroke="#000" stroke-width="0.2" stroke-opacity="0.55">1.20</text>
<text x="689.80" y="547.70" font-size="9.8" text-anchor="middle" font-weight="normal" fill="#000" stroke="#000" stroke-width="0.2" stroke-opacity="0.55">1.25</text>
<text x="390.30" y="398.90" font-size="9.7" text-anchor="end" font-weight="normal" fill="#000" stroke="#000" stroke-width="0.2" stroke-opacity="0.55">5.0</text>
<text x="390.30" y="426.70" font-size="9.7" text-anchor="end" font-weight="normal" fill="#000" stroke="#000" stroke-width="0.2" stroke-opacity="0.55">5.2</text>
<text x="390.30" y="454.50" font-size="9.7" text-anchor="end" font-weight="normal" fill="#000" stroke="#000" stroke-width="0.2" stroke-opacity="0.55">5.4</text>
<text x="390.30" y="482.30" font-size="9.7" text-anchor="end" font-weight="normal" fill="#000" stroke="#000" stroke-width="0.2" stroke-opacity="0.55">5.6</text>
<text x="390.30" y="510.10" font-size="9.7" text-anchor="end" font-weight="normal" fill="#000" stroke="#000" stroke-width="0.2" stroke-opacity="0.55">5.8</text>
<text x="390.30" y="537.90" font-size="9.7" text-anchor="end" font-weight="normal" fill="#000" stroke="#000" stroke-width="0.2" stroke-opacity="0.55">6.0</text>
<text x="542.60" y="561.90" font-size="9.9" text-anchor="middle" font-weight="normal" fill="#000" stroke="#000" stroke-width="0.2" stroke-opacity="0.55">BP<tspan font-size="7" dy="3">0</tspan><tspan dy="-3">-RP</tspan><tspan font-size="7" dy="3">0</tspan><tspan dy="-3"> [mag]</tspan></text>
<text x="365.50" y="465.00" font-size="9.7" text-anchor="middle" font-weight="normal" fill="#000" stroke="#000" stroke-width="0.2" stroke-opacity="0.55" transform="rotate(-90 365.50 465.00)">G<tspan font-size="6.5" dy="2.5">abs</tspan><tspan dy="-2.5"> [mag]</tspan></text>
<text x="542.80" y="384.60" font-size="9.9" text-anchor="middle" font-weight="bold" fill="#000">HATS-69 [Fe/H] = 0.35 CMD and SED</text>
<path d="M415.10 683.01 467.34 666.50 519.58 644.37 571.82 619.07 624.06 603.61 676.30 600.80" stroke="#666" stroke-width="1.0" fill="none"/>
<path d="M571.82 618.67 624.06 603.21 676.30 600.40" stroke="#777" stroke-width="1.4" fill="none"/>
<g fill="#000"><circle cx="415.10" cy="683.01" r="2.9"/><circle cx="467.34" cy="666.50" r="2.9"/><circle cx="519.58" cy="644.37" r="2.9"/><circle cx="571.82" cy="619.07" r="2.9"/><circle cx="624.06" cy="603.61" r="2.9"/><circle cx="676.30" cy="600.80" r="2.9"/></g>
<rect x="402.3" y="587.1" width="287.10" height="105.40" fill="none" stroke="#555" stroke-width="0.9"/>
<path d="M415.10 587.1v2.8M415.10 692.5v-2.8M467.34 587.1v2.8M467.34 692.5v-2.8M519.58 587.1v2.8M519.58 692.5v-2.8M571.82 587.1v2.8M571.82 692.5v-2.8M624.06 587.1v2.8M624.06 692.5v-2.8M676.30 587.1v2.8M676.30 692.5v-2.8M402.3 587.10h3M689.4 587.10h-3M402.3 590.61h1.5M689.4 590.61h-1.5M402.3 594.13h1.5M689.4 594.13h-1.5M402.3 597.64h1.5M689.4 597.64h-1.5M402.3 601.15h1.5M689.4 601.15h-1.5M402.3 604.67h3M689.4 604.67h-3M402.3 608.18h1.5M689.4 608.18h-1.5M402.3 611.69h1.5M689.4 611.69h-1.5M402.3 615.21h1.5M689.4 615.21h-1.5M402.3 618.72h1.5M689.4 618.72h-1.5M402.3 622.23h3M689.4 622.23h-3M402.3 625.75h1.5M689.4 625.75h-1.5M402.3 629.26h1.5M689.4 629.26h-1.5M402.3 632.77h1.5M689.4 632.77h-1.5M402.3 636.29h1.5M689.4 636.29h-1.5M402.3 639.80h3M689.4 639.80h-3M402.3 643.31h1.5M689.4 643.31h-1.5M402.3 646.83h1.5M689.4 646.83h-1.5M402.3 650.34h1.5M689.4 650.34h-1.5M402.3 653.85h1.5M689.4 653.85h-1.5M402.3 657.37h3M689.4 657.37h-3M402.3 660.88h1.5M689.4 660.88h-1.5M402.3 664.39h1.5M689.4 664.39h-1.5M402.3 667.91h1.5M689.4 667.91h-1.5M402.3 671.42h1.5M689.4 671.42h-1.5M402.3 674.93h3M689.4 674.93h-3M402.3 678.45h1.5M689.4 678.45h-1.5M402.3 681.96h1.5M689.4 681.96h-1.5M402.3 685.47h1.5M689.4 685.47h-1.5M402.3 688.99h1.5M689.4 688.99h-1.5M402.3 692.50h3M689.4 692.50h-3" stroke="#555" stroke-width="0.6" fill="none"/>
<text x="396.50" y="590.20" font-size="9.7" text-anchor="end" font-weight="normal" fill="#000" stroke="#000" stroke-width="0.2" stroke-opacity="0.55">11.5</text>
<text x="396.50" y="607.77" font-size="9.7" text-anchor="end" font-weight="normal" fill="#000" stroke="#000" stroke-width="0.2" stroke-opacity="0.55">12.0</text>
<text x="396.50" y="625.33" font-size="9.7" text-anchor="end" font-weight="normal" fill="#000" stroke="#000" stroke-width="0.2" stroke-opacity="0.55">12.5</text>
<text x="396.50" y="642.90" font-size="9.7" text-anchor="end" font-weight="normal" fill="#000" stroke="#000" stroke-width="0.2" stroke-opacity="0.55">13.0</text>
<text x="396.50" y="660.47" font-size="9.7" text-anchor="end" font-weight="normal" fill="#000" stroke="#000" stroke-width="0.2" stroke-opacity="0.55">13.5</text>
<text x="396.50" y="678.03" font-size="9.7" text-anchor="end" font-weight="normal" fill="#000" stroke="#000" stroke-width="0.2" stroke-opacity="0.55">14.0</text>
<text x="396.50" y="695.60" font-size="9.7" text-anchor="end" font-weight="normal" fill="#000" stroke="#000" stroke-width="0.2" stroke-opacity="0.55">14.5</text>
<text x="415.10" y="705.00" font-size="9.7" text-anchor="middle" font-weight="normal" fill="#000" stroke="#000" stroke-width="0.2" stroke-opacity="0.55">BP</text>
<text x="467.34" y="705.00" font-size="9.7" text-anchor="middle" font-weight="normal" fill="#000" stroke="#000" stroke-width="0.2" stroke-opacity="0.55">G</text>
<text x="519.58" y="705.00" font-size="9.7" text-anchor="middle" font-weight="normal" fill="#000" stroke="#000" stroke-width="0.2" stroke-opacity="0.55">RP</text>
<text x="571.82" y="705.00" font-size="9.7" text-anchor="middle" font-weight="normal" fill="#000" stroke="#000" stroke-width="0.2" stroke-opacity="0.55">J</text>
<text x="624.06" y="705.00" font-size="9.7" text-anchor="middle" font-weight="normal" fill="#000" stroke="#000" stroke-width="0.2" stroke-opacity="0.55">H</text>
<text x="676.30" y="705.00" font-size="9.7" text-anchor="middle" font-weight="normal" fill="#000" stroke="#000" stroke-width="0.2" stroke-opacity="0.55">K</text>
<text x="364.80" y="639.50" font-size="9.75" text-anchor="middle" font-weight="normal" fill="#000" stroke="#000" stroke-width="0.2" stroke-opacity="0.55" transform="rotate(-90 364.80 639.50)">Observed Magnitude</text>
<path d="M420.60 740.60 471.74 742.60 522.88 740.60 574.02 738.30 625.16 734.80 676.30 733.80 L676.30 758.00 625.16 756.00 574.02 754.50 522.88 748.50 471.74 748.30 420.60 750.80Z" fill="#c8c8c8"/>
<path d="M420.60 741.00 471.74 743.00 522.88 741.00 574.02 739.00 625.16 735.70 676.30 734.50 L676.30 756.00 625.16 753.70 574.02 753.00 522.88 748.00 471.74 748.00 420.60 750.30Z" fill="#828282"/>
<path d="M574.02 749V776M572.52 749h3M572.52 776h3M625.16 750.3V778.2M623.66 750.3h3M623.66 778.2h3M676.30 740.9V766.1M674.80 740.9h3M674.80 766.1h3" stroke="#222" stroke-width="0.8" fill="none"/>
<g fill="#000"><circle cx="420.60" cy="750.32" r="2.9"/><circle cx="471.74" cy="745.70" r="2.9"/><circle cx="522.88" cy="744.60" r="2.9"/><circle cx="574.02" cy="762.75" r="2.9"/><circle cx="625.16" cy="764.07" r="2.9"/><circle cx="676.30" cy="753.73" r="2.9"/></g>
<rect x="408.3" y="723.7" width="281.10" height="55.00" fill="none" stroke="#555" stroke-width="0.9"/>
<path d="M420.60 723.7v2.8M420.60 778.7v-2.8M471.74 723.7v2.8M471.74 778.7v-2.8M522.88 723.7v2.8M522.88 778.7v-2.8M574.02 723.7v2.8M574.02 778.7v-2.8M625.16 723.7v2.8M625.16 778.7v-2.8M676.30 723.7v2.8M676.30 778.7v-2.8M408.3 723.70h3M689.4 723.70h-3M408.3 726.45h1.5M689.4 726.45h-1.5M408.3 729.20h1.5M689.4 729.20h-1.5M408.3 731.95h1.5M689.4 731.95h-1.5M408.3 734.70h3M689.4 734.70h-3M408.3 737.45h1.5M689.4 737.45h-1.5M408.3 740.20h1.5M689.4 740.20h-1.5M408.3 742.95h1.5M689.4 742.95h-1.5M408.3 745.70h3M689.4 745.70h-3M408.3 748.45h1.5M689.4 748.45h-1.5M408.3 751.20h1.5M689.4 751.20h-1.5M408.3 753.95h1.5M689.4 753.95h-1.5M408.3 756.70h3M689.4 756.70h-3M408.3 759.45h1.5M689.4 759.45h-1.5M408.3 762.20h1.5M689.4 762.20h-1.5M408.3 764.95h1.5M689.4 764.95h-1.5M408.3 767.70h3M689.4 767.70h-3M408.3 770.45h1.5M689.4 770.45h-1.5M408.3 773.20h1.5M689.4 773.20h-1.5M408.3 775.95h1.5M689.4 775.95h-1.5M408.3 778.70h3M689.4 778.70h-3" stroke="#555" stroke-width="0.6" fill="none"/>
<text x="402.50" y="727.20" font-size="9.7" text-anchor="end" font-weight="normal" fill="#000" stroke="#000" stroke-width="0.2" stroke-opacity="0.55">-0.04</text>
<text x="402.50" y="738.20" font-size="9.7" text-anchor="end" font-weight="normal" fill="#000" stroke="#000" stroke-width="0.2" stroke-opacity="0.55">-0.02</text>
<text x="402.50" y="749.20" font-size="9.7" text-anchor="end" font-weight="normal" fill="#000" stroke="#000" stroke-width="0.2" stroke-opacity="0.55">0.00</text>
<text x="402.50" y="760.20" font-size="9.7" text-anchor="end" font-weight="normal" fill="#000" stroke="#000" stroke-width="0.2" stroke-opacity="0.55">0.02</text>
<text x="402.50" y="771.20" font-size="9.7" text-anchor="end" font-weight="normal" fill="#000" stroke="#000" stroke-width="0.2" stroke-opacity="0.55">0.04</text>
<text x="402.50" y="782.20" font-size="9.7" text-anchor="end" font-weight="normal" fill="#000" stroke="#000" stroke-width="0.2" stroke-opacity="0.55">0.06</text>
<text x="420.60" y="791.00" font-size="9.7" text-anchor="middle" font-weight="normal" fill="#000" stroke="#000" stroke-width="0.2" stroke-opacity="0.55">BP</text>
<text x="471.74" y="791.00" font-size="9.7" text-anchor="middle" font-weight="normal" fill="#000" stroke="#000" stroke-width="0.2" stroke-opacity="0.55">G</text>
<text x="522.88" y="791.00" font-size="9.7" text-anchor="middle" font-weight="normal" fill="#000" stroke="#000" stroke-width="0.2" stroke-opacity="0.55">RP</text>
<text x="574.02" y="791.00" font-size="9.7" text-anchor="middle" font-weight="normal" fill="#000" stroke="#000" stroke-width="0.2" stroke-opacity="0.55">J</text>
<text x="625.16" y="791.00" font-size="9.7" text-anchor="middle" font-weight="normal" fill="#000" stroke="#000" stroke-width="0.2" stroke-opacity="0.55">H</text>
<text x="676.30" y="791.00" font-size="9.7" text-anchor="middle" font-weight="normal" fill="#000" stroke="#000" stroke-width="0.2" stroke-opacity="0.55">K</text>
<text x="365.30" y="751.00" font-size="9.7" text-anchor="middle" font-weight="normal" fill="#000" stroke="#000" stroke-width="0.2" stroke-opacity="0.55" transform="rotate(-90 365.30 751.00)">&#916; Mag</text>
</svg></body></html>
